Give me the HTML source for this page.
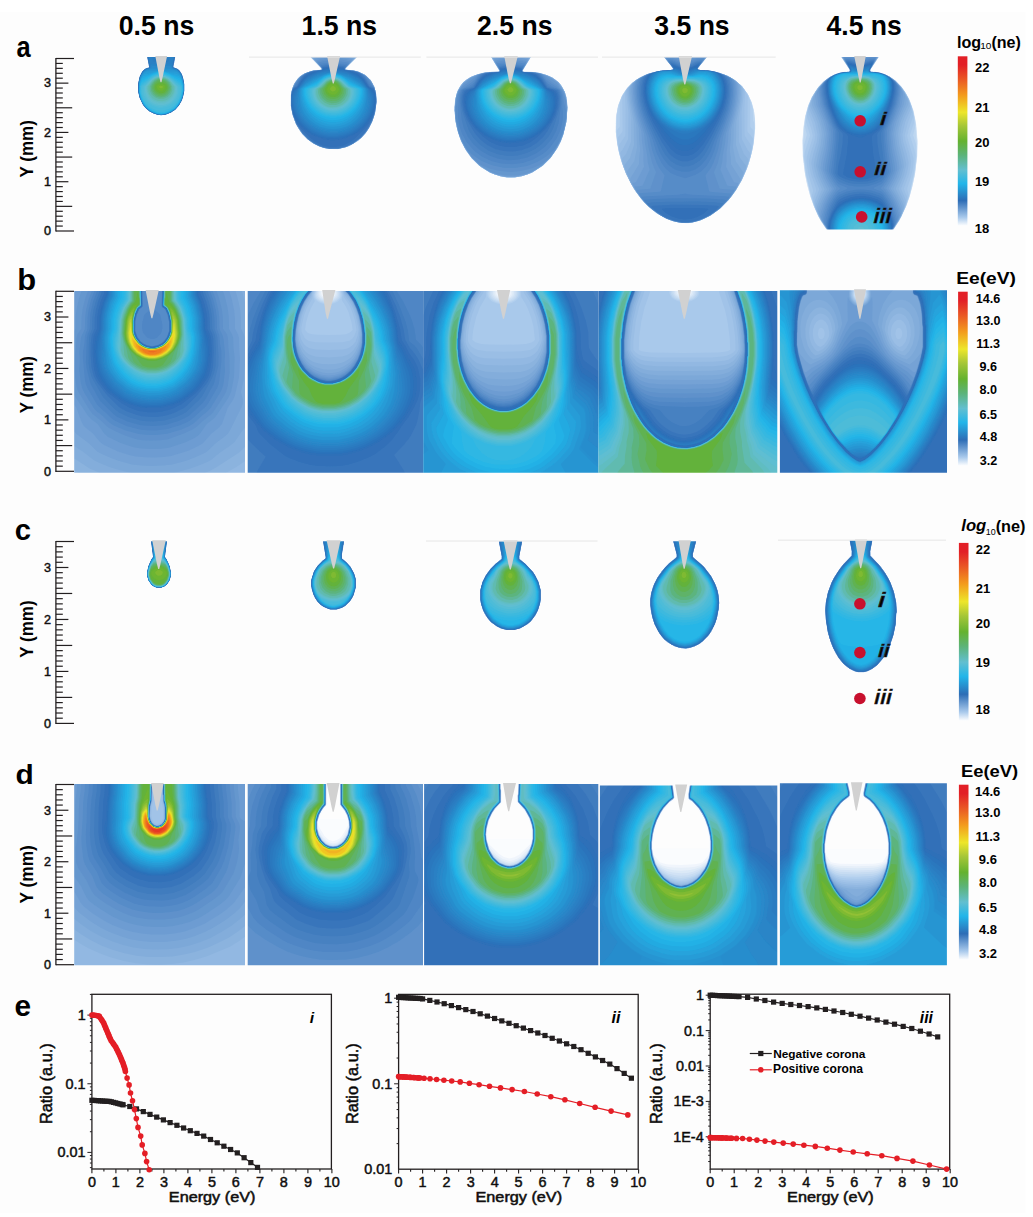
<!DOCTYPE html>
<html><head><meta charset="utf-8"><style>
html,body{margin:0;padding:0;background:#fff;}
body{width:1033px;height:1217px;overflow:hidden;position:relative;}
svg{position:absolute;left:0;top:0;font-family:"Liberation Sans",sans-serif;}
</style></head><body>
<svg width="1033" height="1217" viewBox="0 0 1033 1217">
<defs><linearGradient id="cb1" x1="0" y1="0" x2="0" y2="1"><stop offset="0.000" stop-color="#e21f26"/><stop offset="0.050" stop-color="#e21f26"/><stop offset="0.140" stop-color="#ea5b24"/><stop offset="0.230" stop-color="#f39b1d"/><stop offset="0.330" stop-color="#ede62a"/><stop offset="0.410" stop-color="#a5c637"/><stop offset="0.500" stop-color="#64b22f"/><stop offset="0.580" stop-color="#5cb377"/><stop offset="0.670" stop-color="#62bfd0"/><stop offset="0.750" stop-color="#22b5e9"/><stop offset="0.850" stop-color="#2d6db6"/><stop offset="0.950" stop-color="#aacaec"/><stop offset="1.000" stop-color="#ffffff"/></linearGradient>
<linearGradient id="cb2" x1="0" y1="0" x2="0" y2="1"><stop offset="0.000" stop-color="#e21f26"/><stop offset="0.050" stop-color="#e21f26"/><stop offset="0.140" stop-color="#ea5b24"/><stop offset="0.230" stop-color="#f39b1d"/><stop offset="0.330" stop-color="#ede62a"/><stop offset="0.410" stop-color="#a5c637"/><stop offset="0.500" stop-color="#64b22f"/><stop offset="0.580" stop-color="#5cb377"/><stop offset="0.670" stop-color="#62bfd0"/><stop offset="0.750" stop-color="#22b5e9"/><stop offset="0.850" stop-color="#2d6db6"/><stop offset="0.950" stop-color="#aacaec"/><stop offset="1.000" stop-color="#ffffff"/></linearGradient>
<linearGradient id="cb3" x1="0" y1="0" x2="0" y2="1"><stop offset="0.000" stop-color="#e21f26"/><stop offset="0.050" stop-color="#e21f26"/><stop offset="0.140" stop-color="#ea5b24"/><stop offset="0.230" stop-color="#f39b1d"/><stop offset="0.330" stop-color="#ede62a"/><stop offset="0.410" stop-color="#a5c637"/><stop offset="0.500" stop-color="#64b22f"/><stop offset="0.580" stop-color="#5cb377"/><stop offset="0.670" stop-color="#62bfd0"/><stop offset="0.750" stop-color="#22b5e9"/><stop offset="0.850" stop-color="#2d6db6"/><stop offset="0.950" stop-color="#aacaec"/><stop offset="1.000" stop-color="#ffffff"/></linearGradient>
<linearGradient id="cb4" x1="0" y1="0" x2="0" y2="1"><stop offset="0.000" stop-color="#e21f26"/><stop offset="0.050" stop-color="#e21f26"/><stop offset="0.140" stop-color="#ea5b24"/><stop offset="0.230" stop-color="#f39b1d"/><stop offset="0.330" stop-color="#ede62a"/><stop offset="0.410" stop-color="#a5c637"/><stop offset="0.500" stop-color="#64b22f"/><stop offset="0.580" stop-color="#5cb377"/><stop offset="0.670" stop-color="#62bfd0"/><stop offset="0.750" stop-color="#22b5e9"/><stop offset="0.850" stop-color="#2d6db6"/><stop offset="0.950" stop-color="#aacaec"/><stop offset="1.000" stop-color="#ffffff"/></linearGradient>
<filter id="bl" x="-5%" y="-5%" width="110%" height="110%"><feGaussianBlur stdDeviation="0.65"/></filter>
<clipPath id="pc1"><rect x="74.20" y="783.90" width="170.80" height="181.30"/></clipPath>
<clipPath id="pc2"><rect x="247.70" y="783.90" width="175.30" height="181.30"/></clipPath>
<clipPath id="pc3"><rect x="424.10" y="783.90" width="174.20" height="181.30"/></clipPath>
<clipPath id="pc4"><rect x="599.90" y="785.40" width="177.40" height="179.80"/></clipPath>
<clipPath id="pc5"><rect x="779.90" y="783.20" width="167.00" height="182.00"/></clipPath>
<clipPath id="pc6"><rect x="74.20" y="290.90" width="170.80" height="181.80"/></clipPath>
<clipPath id="pc7"><rect x="247.70" y="290.90" width="175.50" height="181.80"/></clipPath>
<clipPath id="pc8"><rect x="423.20" y="290.90" width="175.30" height="181.80"/></clipPath>
<clipPath id="pc9"><rect x="598.50" y="290.90" width="178.80" height="181.80"/></clipPath>
<clipPath id="pc10"><rect x="779.90" y="290.20" width="167.10" height="182.50"/></clipPath>
<clipPath id="pc11"><rect x="120.00" y="57.00" width="80.00" height="63.00"/></clipPath>
<clipPath id="pc12"><rect x="270.00" y="57.00" width="130.00" height="103.00"/></clipPath>
<clipPath id="pc13"><rect x="440.00" y="57.00" width="150.00" height="133.00"/></clipPath>
<clipPath id="pc14"><rect x="600.00" y="57.00" width="176.00" height="175.00"/></clipPath>
<clipPath id="pc15"><rect x="778.00" y="57.00" width="170.00" height="172.50"/></clipPath>
<clipPath id="pc16"><rect x="130.00" y="541.30" width="60.00" height="58.70"/></clipPath>
<clipPath id="pc17"><rect x="300.00" y="541.30" width="70.00" height="78.70"/></clipPath>
<clipPath id="pc18"><rect x="470.00" y="541.30" width="82.00" height="98.70"/></clipPath>
<clipPath id="pc19"><rect x="640.00" y="541.30" width="90.00" height="118.70"/></clipPath>
<clipPath id="pc20"><rect x="815.00" y="540.50" width="95.00" height="144.50"/></clipPath></defs>
<rect x="0" y="12" width="1025.5" height="1201" fill="#fdfdfd"/>
<g clip-path="url(#pc1)"><g filter="url(#bl)"><g transform="translate(71.20 780.90) scale(0.1)"><path fill="#fafcfe" fill-rule="evenodd" d="M2 2l1766 0 0 1870-1766 0z"/><path fill="#f0f5fc" fill-rule="evenodd" d="M2 2l1766 0 0 1870-1766 0z"/><path fill="#e6eff9" fill-rule="evenodd" d="M2 2l1766 0 0 1870-1766 0z"/><path fill="#dbe9f7" fill-rule="evenodd" d="M2 2l1766 0 0 1870-1766 0z"/><path fill="#d1e2f5" fill-rule="evenodd" d="M2 2l1766 0 0 1870-1766 0z"/><path fill="#c7dcf2" fill-rule="evenodd" d="M2 2l1766 0 0 1870-1766 0z"/><path fill="#bdd6f0" fill-rule="evenodd" d="M2 2l1766 0 0 1870-1766 0z"/><path fill="#b2cfee" fill-rule="evenodd" d="M2 2l1766 0 0 1870-1766 0z"/><path fill="#a9c9eb" fill-rule="evenodd" d="M2 2l1766 0 0 1870-1766 0z"/><path fill="#a1c3e8" fill-rule="evenodd" d="M2 2l1766 0 0 1870-1766 0z"/><path fill="#9abee5" fill-rule="evenodd" d="M2 2l824 0-5 196-15 64-5 86 6 30 13 30 18 17 20 7 37-14 17-25 7-21 0-100-14-64-1-56-5-20 0-130 869 0 0 1870-1766 0z"/><path fill="#92b8e2" fill-rule="evenodd" d="M2 2l813 0-6 196-14 60-5 94 8 34 14 32 22 20 24 7 44-17 20-27 8-23 0-110-14-66-1-54-4-16-1-130 858 0 0 1870-1766 0z"/><path fill="#8bb3de" fill-rule="evenodd" d="M2 2l810 0-5 196-15 60-5 94 5 30 16 34 21 22 29 10 24-6 20-11 20-25 11-28 0-110-5-40-9-20-1-60-5-16 0-130 855 0 0 1536-96 68-85 52-229 95-126 37-110 25-114 16-116 7-124-2-120-12-120-23-136-37-90-33-130-57-80-45-90-60z"/><path fill="#83addb" fill-rule="evenodd" d="M2 2l809 0-6 196-14 60-5 94 6 30 15 36 21 20 30 11 24-6 21-11 20-24 11-30 0-110-6-40-8-26-1-54-4-16-1-130 854 0 0 1426-96 75-98 65-106 54-110 48-120 40-110 27-116 18-114 7-126-1-120-13-120-24-120-35-106-41-114-56-94-58-96-69z"/><path fill="#7ca8d8" fill-rule="evenodd" d="M2 2l807 0-5 196-14 60-5 94 6 30 15 36 22 21 30 11 24-6 23-12 19-24 11-30 0-110-14-66-1-54-4-16 0-130 852 0 0 1307-76 70-89 69-101 63-114 62-100 41-110 35-106 22-110 13-124 3-106-5-110-16-104-25-110-37-100-43-116-63-94-64-96-77z"/><path fill="#74a2d5" fill-rule="evenodd" d="M2 2l806 0-5 196-15 60-5 94 7 30 15 36 23 22 30 12 24-7 24-13 19-24 12-30 0-110-15-66 0-54-5-16 0-130 851 0 0 1166-77 100-49 48-94 72-120 75-86 46-110 44-90 27-100 19-114 12-120 0-110-9-106-19-90-26-120-46-90-46-100-61-114-87-76-82z"/><path fill="#6d9cd2" fill-rule="evenodd" d="M2 2l805 0-5 195-15 61-5 94 6 30 15 36 25 24 30 11 24-6 25-15 20-24 11-30 0-110-15-66 0-54-5-16 0-130 850 0 0 1019-140 197-80 73-76 52-144 89-96 40-100 33-100 20-104 10-120 1-106-10-94-17-80-23-116-46-90-47-114-73-89-72-29-36-50-90-38-49z"/><path fill="#6597ce" fill-rule="evenodd" d="M61 2l745 0-5 196-15 60-5 94 6 30 15 36 26 25 30 11 24-6 26-15 20-25 11-30 0-110-15-66 0-54-5-16 0-130 745 0 4 90 15 120 2 150 13 19 46 27 24 24 0 267-28 123-48 146-118 190-38 40-58 46-156 102-50 27-90 37-70 22-90 18-90 10-100 1-90-6-90-14-80-20-88-33-72-33-105-63-79-54-46-38-28-32-57-116-95-132 0-408 20-34 6-20 8-76 6-184 13-100z"/><path fill="#5e91cb" fill-rule="evenodd" d="M100 2l705 0-5 196-14 60-5 94 5 30 16 37 26 25 30 10 24-5 26-14 21-27 10-30 0-110-5-40-9-26-1-54-4-16 0-130 705 0 4 96 15 120 1 140 32 60 9 34-1 40-14 100 7 76-2 40-17 100-34 114-108 181-33 35-46 37-156 105-44 26-80 33-66 21-80 16-84 9-96 1-80-5-84-13-70-18-80-31-70-33-106-63-70-49-41-36-27-36-49-104-85-126-21-60-4-140 12-74 11-105 7-111 2-104 7-100 11-80z"/><path fill="#568cc8" fill-rule="evenodd" d="M140 2l665 0-6 196-14 60-5 94 11 46 11 22 26 25 30 10 24-6 26-13 22-28 10-30 0-110-6-40-8-26-1-54-4-16-1-130 665 0 0 56 19 164 1 136 32 70 5 30-2 34-26 186-49 194-16 40-85 150-32 33-44 35-136 92-50 27-74 31-60 18-76 14-74 7-90 1-76-6-74-12-66-17-74-29-66-31-100-61-64-46-33-30-23-31-41-105-70-110-19-54-17-146-3-74 13-186 6-180 14-100z"/><path fill="#4f86c5" fill-rule="evenodd" d="M179 2l625 0-5 196-15 60-5 94 11 46 12 24 26 24 30 10 24-6 26-13 23-29 10-30 0-110-6-40-9-26 0-54-5-16 0-130 625 0 0 60 19 160 1 136 29 74 0 66-25 164-40 136-28 68-90 155-64 57-126 88-50 28-64 27-60 18-70 13-70 6-150-5-70-12-60-16-128-57-92-58-60-43-45-49-42-100-76-120-16-46-16-90-8-120 10-160 1-100 7-100 11-74z"/><path fill="#4781c1" fill-rule="evenodd" d="M219 2l584 0-5 196-14 54-6 100 11 46 13 24 26 25 30 10 24-6 26-13 24-30 9-26 1-114-6-40-9-26 0-54-5-20 0-126 584 0 0 60 19 160 1 136 26 74-2 66-24 150-38 123-30 69-86 137-64 55-110 77-50 29-110 40-66 12-64 6-140-4-66-11-54-15-120-53-86-53-58-42-40-46-46-94-68-106-17-44-17-86-9-100 7-240 8-114 12-76z"/><path fill="#407bbe" fill-rule="evenodd" d="M259 2l543 0-5 196-14 54-5 106 10 40 13 24 26 26 30 10 25-6 26-13 24-31 10-26 0-118-5-36-9-26 0-58-5-11 0-131 543 0 1 66 18 160 2 134 16 46 6 30-4 60-22 130-35 110-35 74-78 120-67 58-96 65-50 28-104 37-116 15-130-4-110-24-111-49-74-46-55-40-40-44-43-80-64-100-17-46-19-84-9-90 4-220 8-116 12-80z"/><path fill="#3875bb" fill-rule="evenodd" d="M298 2l504 0-6 196-14 54-5 106 11 41 12 23 26 26 32 10 26-6 24-12 24-31 11-27 0-120-5-34-9-26-1-60-4-10-1-130 504 0 0 66 19 160 1 134 18 70-4 60-21 116-34 100-38 79-70 102-70 59-126 77-100 35-104 14-120-4-100-22-106-47-70-42-48-37-35-40-99-160-20-50-20-84-8-80 2-200 7-110 12-80z"/><path fill="#3170b8" fill-rule="evenodd" d="M338 2l463 0-5 196-15 54-4 106 11 42 11 22 26 26 33 11 27-7 23-11 24-31 11-28 1-120-5-34-10-26 0-60-5-14 0-126 463 0 1 70 18 160 1 126 19 54-2 66-23 100-39 106-40 76-64 88-66 54-110 66-90 32-100 13-110-4-94-22-56-22-54-29-90-62-35-42-93-144-25-70-24-96-4-94 6-50 7-170 13-86z"/><path fill="#2d6fb8" fill-rule="evenodd" d="M376 2l424 0-5 196-14 54-5 106 12 44 10 20 25 26 35 11 29-7 21-10 24-30 12-30 0-120-5-34-9-26-1-60-4-14 0-126 424 0 0 70 19 160 1 126 30 50 4 54-16 90-19 60-31 66-47 70-72 76-80 55-100 47-50 15-56 10-134 1-86-17-54-19-56-26-84-56-74-76-52-70-38-80-19-70-3-66 6-44 13-50 6-156 14-100z"/><path fill="#2c73bb" fill-rule="evenodd" d="M388 2l412 0-5 190-15 60-4 106 6 30 15 34 25 26 36 11 30-6 20-10 25-31 11-30 1-120-15-64 0-56-5-14 0-126 412 0 0 70 18 160 1 130 23 66 1 50-15 84-21 66-36 70-40 54-66 68-80 53-50 25-54 21-100 20-110 1-92-18-58-20-50-24-85-56-70-74-47-66-27-54-21-70-4-60 11-120 5-160 13-90z"/><path fill="#2b78be" fill-rule="evenodd" d="M399 2l400 0-5 190-14 60-5 106 10 40 12 24 25 26 36 12 30-7 20-10 25-31 12-30 0-120-14-64 0-56-5-14 0-126 400 0 0 70 18 160 0 130 17 70-6 76-14 74-25 70-38 66-53 64-67 56-96 52-90 30-84 10-100-4-86-19-50-19-54-28-79-58-60-70-42-60-23-50-17-64-4-86 3-170 6-100 12-74z"/><path fill="#2b7cc1" fill-rule="evenodd" d="M410 2l389 0-5 190-15 60-4 106 10 40 11 24 26 26 36 12 24-5 26-12 26-31 11-30 1-120-15-64 0-56-5-14 0-126 389 0 0 76 18 160-1 120 16 64-2 56-17 84-28 86-36 64-53 66-65 53-89 49-86 28-90 11-100-4-94-25-90-43-70-53-60-72-42-64-20-50-16-70-5-66 3-169 5-95 12-80z"/><path fill="#2a80c4" fill-rule="evenodd" d="M421 2l377 0-5 190-15 60-4 106 10 40 12 24 26 27 36 12 24-5 26-12 26-32 12-30 1-120-15-64 0-56-5-14 0-126 377 0 0 76 18 160-2 120 16 64-1 56-18 85-27 75-38 70-54 67-66 51-84 46-80 26-86 10-94-4-80-19-96-43-74-55-56-69-42-66-25-60-14-60-5-60 4-170 5-94 11-76z"/><path fill="#2985c7" fill-rule="evenodd" d="M432 2l365 0-5 196-14 54-5 106 11 40 12 24 26 27 36 12 24-5 26-12 26-32 12-30 1-120-4-10-1-24-9-26 0-60-5-14 0-126 365 0 0 76 18 160-3 120 17 64-3 60-17 80-27 74-38 66-57 70-61 47-84 45-80 25-80 9-96-6-84-23-88-41-65-50-59-76-36-54-21-50-16-66-6-60 5-174 4-90 11-76z"/><path fill="#2989ca" fill-rule="evenodd" d="M443 2l354 0-5 196-10 23-5 31-4 106 10 40 12 24 27 28 36 12 24-5 26-12 27-33 12-30 1-120-5-9-1-26-9-24 0-61-5-14 0-126 354 0 0 76 17 160-3 120 17 64-2 56-16 80-26 70-37 66-56 68-58 46-86 46-74 24-80 9-96-6-84-24-86-42-61-47-58-76-35-55-22-55-13-54-4-60 7-240 13-96z"/><path fill="#288dcd" fill-rule="evenodd" d="M454 2l343 0-5 196-10 22-5 32-5 106 11 40 12 24 27 28 36 12 24-5 26-12 27-33 12-30 1-120-5-10-1-27-9-23 0-60-5-14 0-126 343 0 0 76 17 160-4 120 17 64-1 56-17 80-26 70-37 64-54 66-58 44-80 42-76 24-80 8-90-6-80-22-84-42-61-48-55-71-34-54-20-51-13-54-5-60 7-96 0-144 13-96z"/><path fill="#2890cf" fill-rule="evenodd" d="M465 2l332 0-5 190-15 60-5 106 10 40 12 24 28 28 36 13 25-5 25-13 28-33 12-30 0-120-5-10-1-28-8-22-1-60-5-15 0-125 332 0 0 76 17 160-5 120 17 64-1 56-17 80-31 80-34 54-51 60-67 49-90 43-70 17-80 4-80-9-76-24-75-40-55-45-53-69-31-50-20-50-13-56-3-54 7-96 0-150 11-84z"/><path fill="#2795d2" fill-rule="evenodd" d="M469 2l328 0-5 190-15 60-5 106 10 41 12 23 28 29 36 12 25-5 25-12 28-34 12-30 0-120-5-10-1-28-8-22-1-60-5-14 0-126 328 0 5 140 12 96-5 120 17 64-1 56-17 80-29 75-33 55-53 61-64 48-90 43-76 18-80 3-74-9-77-24-74-40-54-46-81-114-18-45-15-61-4-54 8-96-1-150 12-85z"/><path fill="#269cd7" fill-rule="evenodd" d="M487 2l309 0-5 190-14 60-5 106 6 27 16 37 28 29 36 12 27-5 23-12 28-34 12-30 0-120-4-10-1-30-9-24 0-56-5-14 0-126 309 0 0 80 16 156-6 120 18 64-1 56-16 74-31 80-36 55-49 55-81 54-70 30-64 14-80 3-70-9-76-26-70-39-48-41-76-110-18-46-12-54-4-50 9-96-2-150 12-84z"/><path fill="#25a3dc" fill-rule="evenodd" d="M505 2l291 0-5 190-15 60-4 106 6 29 15 35 29 30 35 11 14-1 37-15 29-35 11-30 1-120-5-10-1-30-9-24 0-56-5-14 0-126 291 0 0 80 15 156-7 120 19 64-2 56-17 80-27 64-38 60-45 49-76 49-64 28-66 14-74 2-70-9-70-25-66-36-46-42-72-104-16-40-12-56-3-54 9-86-2-150 11-80z"/><path fill="#24aae1" fill-rule="evenodd" d="M523 2l273 0-5 190-15 60-4 106 5 30 15 35 30 29 36 11 14-1 36-15 30-35 10-30 1-120-6-40-9-24 0-56-5-14 0-126 273 0 3 146 12 90-9 120 20 54-1 60-17 80-27 66-44 64-40 40-71 46-66 26-60 11-74 1-66-11-64-25-60-35-45-43-43-60-22-40-16-44-8-46-3-64 11-70-3-146 10-80z"/><path fill="#23b1e6" fill-rule="evenodd" d="M542 2l253 0-5 190-14 60-5 106 6 30 15 35 30 30 36 11 14-1 36-15 30-36 11-30 0-120-5-40-9-24 0-56-5-14 0-126 253 0 0 86 15 154-10 116 26 54 1 56-14 60-36 84-43 62-40 38-64 40-60 24-61 11-70 0-60-10-65-25-57-34-40-40-61-96-23-64-7-40 4-60 14-50-5-140 11-80z"/><path fill="#26b6e7" fill-rule="evenodd" d="M560 2l235 0-5 190-15 60-4 106 6 30 15 35 30 30 36 11 14-1 36-15 30-36 10-25 2-125-6-40-9-24 0-56-5-14 0-126 235 0 4 150 10 90-11 116 32 54 4 26-2 34-18 70-30 60-50 66-39 34-63 37-64 24-60 7-86-6-70-22-60-34-34-31-54-69-22-36-14-34-9-36-3-34 8-56 18-44-6-140 10-80z"/><path fill="#2eb7e4" fill-rule="evenodd" d="M578 2l217 0-5 190-10 26-5 34-4 106 6 30 15 36 30 29 36 11 14-1 36-15 30-36 10-24 2-126-5-40-10-24 0-56-5-14 0-126 217 0 4 156 11 84-13 116 26 30 10 20 6 30-1 30-13 65-27 59-42 56-40 37-70 40-60 21-56 7-74-2-76-22-54-28-43-33-50-60-33-60-11-40-3-30 10-67 23-43-8-140 10-76z"/><path fill="#36b8e1" fill-rule="evenodd" d="M589 2l205 0-5 190-14 56-5 110 6 30 16 36 30 30 36 10 14-1 37-15 30-36 10-24 1-126-5-40-9-24 0-56-5-14 0-126 205 0 3 156 10 84-10 116 36 54 5 30-3 40-13 56-25 54-42 56-40 34-63 36-62 20-54 7-80-5-70-22-56-30-36-30-48-60-27-56-11-64 4-50 27-60-5-140 10-76z"/><path fill="#3eb9de" fill-rule="evenodd" d="M601 2l193 0-5 190-14 56-4 114 10 40 11 22 30 30 36 10 14 0 37-16 30-36 10-24 2-126-6-40-9-24 0-56-5-14 0-126 193 0 3 156 11 84-7 116 34 54 6 26-1 24-14 70-24 56-41 54-43 38-60 32-60 20-56 6-74-5-66-21-54-30-36-30-46-60-26-54-12-76 6-34 25-60-2-140 11-76z"/><path fill="#46bbdb" fill-rule="evenodd" d="M612 2l181 0-4 190-15 56-3 114 10 40 11 23 30 29 36 11 14-1 37-16 30-36 10-24 2-126-5-40-10-24 1-56-5-14 0-126 181 0 4 160 11 80-6 116 36 60 5 24-2 30-15 60-27 60-39 50-43 36-55 28-60 20-60 5-64-5-60-20-56-29-34-31-45-58-24-50-11-40-2-30 5-36 27-64-1-136 11-75z"/><path fill="#4ebcd8" fill-rule="evenodd" d="M624 2l169 0-5 190-14 56-4 114 11 40 11 23 30 29 36 11 14-1 38-16 29-36 11-24 1-126-5-40-9-24 0-56-5-14 0-126 169 0 4 160 13 86-5 110 37 64 5 26-2 30-14 54-27 56-40 51-44 35-50 27-60 18-76 4-50-6-60-21-54-33-32-31-42-60-22-50-9-50 5-34 28-70 1-136 12-74z"/><path fill="#56bdd5" fill-rule="evenodd" d="M635 2l158 0-5 190-14 56-4 114 10 40 12 23 30 30 36 10 30-6 22-11 30-36 10-24 2-126-6-40-9-24 0-56-5-14 0-126 158 0 4 160 14 86-3 110 36 60 6 30-2 40-14 50-31 54-48 55-60 38-54 22-46 8-64 0-56-11-50-21-46-31-28-30-46-64-17-46-5-40 8-44 27-66 3-130 12-74z"/><path fill="#5ebed2" fill-rule="evenodd" d="M646 2l146 0-5 190-14 56-3 114 10 40 12 24 30 29 36 10 30-5 22-12 30-36 10-24 2-126-5-40-10-24 1-56-5-14 0-126 146 0 5 166 13 80-1 110 39 64 3 66-14 50-31 54-51 54-54 34-56 21-44 8-66-1-50-12-50-21-44-31-50-56-23-36-14-40-4-40 7-40 30-70 4-130 13-70z"/><path fill="#62becb" fill-rule="evenodd" d="M656 2l136 0-5 190-14 56-3 114 10 40 12 24 30 29 36 11 30-6 23-12 29-36 10-24 2-126-5-40-9-24-5-196 136 0 5 166 14 80 1 110 42 74 1 56-12 44-29 56-43 48-60 38-56 21-40 7-70-1-50-11-44-19-46-29-36-40-35-50-14-44-3-40 4-24 33-82 6-130 14-70z"/><path fill="#61bdc1" fill-rule="evenodd" d="M661 2l130 0-5 190-13 56-4 114 10 40 13 24 30 29 36 11 30-6 23-12 30-36 10-24 2-126-5-40-9-24-5-196 130 0 5 166 15 80 1 114 40 80 0 46-19 64-29 45-39 41-60 36-46 16-44 8-65-1-51-12-50-21-40-28-42-48-25-40-11-36-4-44 30-76 5-24 7-136 14-70z"/><path fill="#60bbb0" fill-rule="evenodd" d="M665 2l125 0-4 190-14 56-3 114 10 40 13 25 30 29 36 10 30-6 23-12 30-36 10-24 2-126-5-40-9-24-4-196 125 0 5 166 15 80 1 114 7 25 27 55 5 40-17 66-28 45-37 40-60 36-50 18-40 7-60-1-50-10-46-19-44-29-34-37-33-50-10-30-6-40 31-86 9-160 15-70z"/><path fill="#5eb797" fill-rule="evenodd" d="M674 2l115 0-5 190-13 56-3 114 11 40 13 25 30 29 36 11 30-6 24-13 29-36 11-24 2-126-4-40-9-24-5-196 115 0 6 170 14 80 1 110 30 146-18 50-32 45-32 29-52 31-46 16-40 5-60-1-44-11-46-19-40-28-32-37-27-46-10-39 22-75 9-190 14-70z"/><path fill="#5cb47e" fill-rule="evenodd" d="M682 2l105 0-4 186-13 60-2 114 10 40 14 26 30 29 36 10 30-5 24-14 30-36 10-24 3-130-4-36-9-24 0-60-5-16 1-120 104 0 1 100 5 70 14 76 1 110 7 54-2 56 8 74-12 26-32 40-24 21-46 25-40 14-40 7-54-1-40-9-44-17-39-26-23-24-30-46-5-14 11-70 0-150 6-86 13-64z"/><path fill="#5eb367" fill-rule="evenodd" d="M691 2l94 0-4 186-13 60-1 114 10 40 14 26 31 29 36 11 30-6 24-13 30-36 11-26 3-129-13-66-3-190 94 0 0 100 5 70 14 76 1 110 7 60-19 90-4 74-30 34-56 31-64 18-50 0-36-6-40-14-34-19-23-18-19-26-4-70-16-90-2-40 8-144 14-70z"/><path fill="#60b251" fill-rule="evenodd" d="M700 2l83 0-3 186-13 60-1 114 10 40 14 26 31 30 37 10 30-5 24-13 30-35 12-27 4-130-4-36-9-30-3-190 83 0 0 100 5 76 14 70 1 110 9 40-1 24-12 46-31 60-32 79-22 25-34 16-40 7-54-1-43-12-28-14-20-30-20-66-27-50-11-30-7-34 0-36 9-144 14-70z"/><path fill="#63b23a" fill-rule="evenodd" d="M717 8l1-6 62 0 0 76-4 20 2 90-13 60 3 60-4 14 1 36 5 30 19 40 29 28 30 13 20 0 44-18 30-35 13-28 4-130-3-36-9-30-2-190 62 0 3 106 8 70 17 74 2 106 11 50-3 30-23 54-34 43-26 20-60 31-29 6-35-2-20-5-50-24-26-20-37-43-20-46-7-40 5-94 7-80 17-66z"/><path fill="#6db530" fill-rule="evenodd" d="M772 62l3 126-11 60 3 60-4 14 1 40 6 26 15 34 33 35 30 12 20 1 40-15 24-23 23-44 6-130-11-66 2-54-4-17 4-58 15 49 45 96 13 40 8 110 8 50-10 54-19 36-35 40-45 26-34 12-70 1-36-11-30-15-54-59-20-50-3-30 3-90 12-80z"/><path fill="#7fba32" fill-rule="evenodd" d="M762 182l6 1 1 5-7 60 4 60-3 50 6 30 19 40 30 30 30 12 24 0 40-17 21-21 18-30 5-14 6-130-7-66 3-9 4-1 30 27 20 35 11 44 12 110-3 44-16 40-17 26-29 30-38 22-54 15-46-1-34-10-46-27-47-59-11-36-4-30 4-100 19-74 19-31z"/><path fill="#91c035" fill-rule="evenodd" d="M752 218l6 0 4 12 1 132 10 40 13 26 30 30 32 13 24 0 21-7 19-10 22-22 23-44 7-130-3-16 7-24 10 3 24 28 17 53 12 110-9 46-14 30-46 50-64 30-70 1-35-12-31-17-46-52-12-30-9-46 2-90 21-67 10-16z"/><path fill="#a3c537" fill-rule="evenodd" d="M745 242l7-1 6 10 6 57-4 14 2 40 12 46 11 20 30 30 33 13 24 0 40-16 33-37 13-30 10-144 10 0 15 14 15 24 7 26 12 104-7 36-15 34-42 50-35 21-30 11-66 2-34-11-30-17-42-46-12-20-12-40-5-64 8-56 17-43z"/><path fill="#b9cf33" fill-rule="evenodd" d="M742 262l10-2 6 9 4 38-3 15 2 40 17 56 40 43 34 11 20 0 40-16 34-38 13-30 9-118 10-10 10 9 23 43 13 96-7 34-17 40-38 45-34 21-30 11-56 4-50-15-24-15-16-15-36-50-15-66 7-85z"/><path fill="#d0d92f" fill-rule="evenodd" d="M743 278l9-3 6 9 2 78 7 30 16 36 35 34 34 11 20 0 40-16 35-39 13-30 8-103 4-9 10 3 26 42 13 87-6 30-17 40-36 44-34 22-30 11-50 4-50-13-40-28-38-50-15-60 0-40 7-46z"/><path fill="#e6e32b" fill-rule="evenodd" d="M747 288l11 9 1 65 7 30 16 36 36 34 34 12 20 0 20-7 21-9 25-26 22-44 8-90 4-8 10 3 25 45 10 70-5 30-15 34-35 45-44 27-50 11-50-6-36-16-19-15-39-50-15-60 0-40 6-36 9-20z"/><path fill="#eed928" fill-rule="evenodd" d="M743 302l9-1 4 7 2 54 7 30 16 36 37 35 34 12 40-7 22-10 24-23 17-27 6-20 7-79 4-8 10 4 21 37 10 66-13 50-12 23-26 31-44 28-46 11-50-4-30-12-24-17-40-50-16-60 6-65 10-25z"/><path fill="#f0c624" fill-rule="evenodd" d="M742 312l6-1 4 7 12 74 18 39 36 33 30 11 20 0 47-17 35-40 12-30 6-67 10-10 18 31 14 56-4 34-20 46-36 40-58 27-60 1-50-21-47-53-16-44-3-30 4-40 10-30z"/><path fill="#f1b321" fill-rule="evenodd" d="M741 322l7 0 4 10 11 60 19 40 36 33 30 11 20 0 44-16 29-28 21-40 6-60 10-10 14 25 14 51-4 34-17 40-34 40-59 30-60 1-47-21-47-52-16-42-2-26 5-44z"/><path fill="#f3a11e" fill-rule="evenodd" d="M742 332l10 12 9 48 20 40 37 34 34 11 40-6 26-13 21-20 24-46 5-48 10-11 10 19 13 56-3 27-16 35-34 41-56 27-54 2-40-14-20-13-19-21-21-29-8-21-5-34 4-40z"/><path fill="#f18f1e" fill-rule="evenodd" d="M741 348l7-2 12 46 20 40 38 35 24 10 25 1 45-16 28-24 19-30 7-20 4-36 8-8 15 54 1 30-5 20-12 24-24 30-41 25-24 9-30 2-26-2-24-9-31-19-39-54-7-32z"/><path fill="#ef7d20" fill-rule="evenodd" d="M742 368l10 6 23 54 37 37 36 14 20 0 44-16 29-25 20-30 11-40 5-5 9 35-4 54-30 46-34 23-40 13-50-3-46-23-36-46-7-40z"/><path fill="#ec6b22" fill-rule="evenodd" d="M977 392l1 41-11 39-25 30-54 27-50 1-35-12-25-19-27-41-3-62 10 4 19 32 35 34 30 13 26 1 24-6 26-13 24-23 26-39z"/><path fill="#ea5924" fill-rule="evenodd" d="M967 418l-4 40-16 34-38 26-37 10-40-3-45-23-17-24-13-50 1-9 4 1 46 44 20 12 20 5 24 0 46-18z"/><path fill="#e84925" fill-rule="evenodd" d="M772 448l10 0 40 27 30 7 40-5 26-11 24-18 11 0-15 38-14 16-40 20-22 2-25-2-40-20z"/><path fill="#e53825" fill-rule="evenodd" d="M922 472l1 6-20 19-21 12-14 3-33-4-17-12-17-18 1-4 40 12 30 0z"/></g></g></g><path fill="#d1d1d1" d="M151.10 782.90 L163.70 782.90 L158.96 805.18 Q157.96 809.30 157.70 810.50 L156.70 810.50 Q156.44 809.30 155.44 805.18 L151.10 782.90 Z"/>
<g clip-path="url(#pc2)"><g filter="url(#bl)"><g transform="translate(244.70 780.90) scale(0.1)"><path fill="#fafcfe" fill-rule="evenodd" d="M2 2l826 0 0 246-56 70-24 60 270 0-6-26-20-40-50-64 0-246 870 0 0 1870-1810 0z"/><path fill="#f0f5fc" fill-rule="evenodd" d="M2 2l815 0 0 235-30 35-35 59-19 57-3 30 2 19 16 31 50 84 40 36 44 15 40-11 24-14 19-20 27-37 46-84-1-39-15-51-24-50-45-60 0-235 859 0 0 1870-1810 0z"/><path fill="#e6eff9" fill-rule="evenodd" d="M2 2l814 0 0 236-34 40-34 60-16 45-4 54 4 41 28 54 22 30 46 44 24 12 30 6 36-6 14-7 20-14 30-30 47-75 13-55-4-44-16-50-20-40-48-65 0-236 858 0 0 1870-1810 0z"/><path fill="#dbe9f7" fill-rule="evenodd" d="M2 2l814 0-1 230-6 16-21 21-26 37-15 32-21 74 2 63 14 48 46 63 36 32 28 13 30 6 40-8 36-20 14-15 50-65 21-67-4-64-17-57-20-40-46-63-2-236 858 0 0 1870-1810 0z"/><path fill="#d1e2f5" fill-rule="evenodd" d="M2 2l813 0-1 230-3 10-24 26-25 37-16 33-21 74 2 66 21 66 30 44 37 34 33 17 34 6 44-7 36-22 16-14 44-62 16-41 6-37-4-64-16-56-22-42-43-58-3-10-1-230 857 0 0 1870-1810 0z"/><path fill="#c7dcf2" fill-rule="evenodd" d="M2 2l812 0 0 230-3 10-24 26-25 35-16 35-21 74 1 66 16 61 36 55 34 34 30 15 40 7 46-8 35-20 19-18 20-24 26-45 16-73-3-64-17-56-22-44-43-56-3-10 0-230 856 0 0 1870-1810 0z"/><path fill="#bdd6f0" fill-rule="evenodd" d="M2 2l811 0-1 236-50 64-19 40-19 70 1 66 17 65 31 50 43 39 31 16 36 5 19 0 32-11 34-20 20-19 40-65 17-76-3-64-15-50-24-51-45-59-1-236 855 0 0 1870-1810 0z"/><path fill="#b2cfee" fill-rule="evenodd" d="M2 2l810 0-1 236-49 63-20 41-19 70 1 66 18 66 30 51 41 37 30 16 39 6 45-6 43-26 18-17 20-27 20-38 18-78-4-64-15-51-25-51-43-58-1-236 854 0 0 1870-1810 0z"/><path fill="#a9c9eb" fill-rule="evenodd" d="M2 2l810 0-1 236-49 62-20 41-20 71 1 60 18 70 31 54 39 36 31 16 40 7 47-7 42-26 17-16 20-26 21-42 19-79-5-61-15-52-26-51-43-57-1-236 854 0 0 1870-1810 0z"/><path fill="#a1c3e8" fill-rule="evenodd" d="M2 2l809 0-1 236-48 61-20 40-20 73 0 66 18 64 32 55 37 35 33 17 40 7 49-8 35-20 22-20 20-27 22-43 18-76-5-64-15-54-26-50-42-56-1-236 853 0 0 1870-1810 0z"/><path fill="#9abee5" fill-rule="evenodd" d="M2 2l809 0-1 236-28 30-40 70-21 74 1 66 16 60 33 60 37 35 40 18 34 6 20-1 30-8 36-20 21-20 19-26 24-49 16-71-4-64-16-55-26-50-42-55-1-236 853 0 0 1870-1810 0z"/><path fill="#92b8e2" fill-rule="evenodd" d="M2 2l808 0-1 236-27 30-40 70-21 74 0 66 17 61 32 59 38 35 40 19 34 6 20-1 30-9 37-20 21-20 18-26 24-47 17-73-5-64-16-56-25-50-42-54-1-236 852 0 0 1870-1810 0z"/><path fill="#8bb3de" fill-rule="evenodd" d="M2 2l808 0-1 236-27 30-41 70-21 74 1 66 17 63 32 57 38 36 40 19 34 5 20 0 30-9 38-21 20-20 19-26 23-46 17-74-4-64-16-56-26-50-42-54-1-236 852 0 0 1870-1810 0z"/><path fill="#83addb" fill-rule="evenodd" d="M2 2l807 0-1 236-27 30-40 70-21 74 0 66 17 64 32 56 39 37 40 19 34 5 20 0 30-9 39-22 20-20 19-26 23-44 17-76-5-64-16-56-25-50-42-54-1-236 851 0 0 1870-1810 0z"/><path fill="#7ca8d8" fill-rule="evenodd" d="M2 2l807 0-1 236-27 30-41 70-21 74 1 66 17 64 31 56 40 37 40 19 34 6 45-7 45-25 20-20 41-70 17-76-4-64-16-56-26-50-42-54-1-236 851 0 0 1870-1810 0z"/><path fill="#74a2d5" fill-rule="evenodd" d="M2 2l806 0 0 234-28 32-40 70-21 74 0 66 17 64 31 56 41 38 34 17 40 7 45-7 45-25 21-20 41-70 17-76-5-64-16-56-25-50-43-56 0-234 850 0 0 1870-1810 0z"/><path fill="#6d9cd2" fill-rule="evenodd" d="M2 2l806 0 0 231-49 65-20 40-21 74 1 66 16 64 31 56 42 39 34 17 40 7 46-7 44-25 22-21 41-70 17-76-5-64-16-56-25-50-44-59 0-231 850 0 0 1870-1810 0z"/><path fill="#6597ce" fill-rule="evenodd" d="M2 2l805 0 0 230-48 66-20 40-21 74 0 66 17 64 30 56 37 37 40 20 40 6 46-6 44-25 23-22 40-70 17-76-5-64-16-56-25-50-43-59 0-231 849 0 0 1870-1810 0z"/><path fill="#5e91cb" fill-rule="evenodd" d="M51 2l756 0-1 230-48 66-20 40-21 74 0 66 17 64 31 56 37 37 40 20 40 7 46-7 44-25 23-22 41-70 17-76-5-64-16-56-25-50-43-60-1-230 756 0 3 25 90 152 0 1693-1810 0 0-1768 46-82z"/><path fill="#568cc8" fill-rule="evenodd" d="M106 2l700 0 0 230-48 66-20 40-22 74 1 66 16 64 35 60 34 34 36 18 30 8 24 1 36-7 30-15 38-33 15-20 26-50 16-76-4-64-17-56-25-50-43-60 0-230 700 0 1 30 48 100 37 116 19 100 7 114 24 126 2 9 10 4 0 763-78 88-76 67-110 79-120 69-90 41-106 35-110 27-110 15-154 5-106-5-110-16-114-29-96-32-84-39-140-80-101-71-105-97 0-1092 31-137 37-94 33-65z"/><path fill="#4f86c5" fill-rule="evenodd" d="M160 2l645 0-1 236-27 30-40 70-22 74 1 66 17 64 35 60 34 35 36 18 30 8 24 1 36-7 24-12 20-13 25-24 15-20 25-50 17-76-4-64-17-56-25-50-42-54-1-236 645 0 3 46 42 84 41 131 17 95 5 100 36 190 11 114 24 46 23 63 0 289-38 72-111 160-55 50-104 80-113 70-60 30-93 35-116 32-94 16-100 6-126-1-104-11-86-18-124-39-60-24-50-27-160-102-86-67-44-50-51-94-35-49 0-530 18-71 10-106 22-70 6-110 16-90 42-124 42-85z"/><path fill="#4781c1" fill-rule="evenodd" d="M213 2l591 0 0 236-28 30-40 70-21 74 0 66 17 64 34 60 36 36 36 17 30 9 24 1 36-7 29-15 41-35 15-20 25-50 17-76-5-64-16-56-25-50-43-54 0-236 591 0 2 56 31 60 27 70 34 134 10 130 23 100 18 146 2 60-6 84 3 46 3 20 28 54 5 30-5 30-46 140-64 130-34 46-140 118-100 66-56 29-90 33-104 29-86 14-94 6-116-2-100-11-75-18-119-38-86-42-170-117-60-48-37-49-40-116-55-94-19-66-6-50 5-30 23-50-3-174 15-96 7-104 27-80 3-80 9-66 28-110 29-74 33-66z"/><path fill="#407bbe" fill-rule="evenodd" d="M265 2l539 0-1 236-28 30-40 70-21 74 0 66 17 64 34 60 37 37 30 15 36 11 24 0 36-6 30-15 41-36 15-20 25-50 17-76-5-64-16-56-25-50-43-54-1-236 539 0 2 70 41 86 37 120 15 90 4 84 26 70 21 70 9 86-3 50-16 90 7 100-4 40-89 264-20 36-26 30-127 110-77 54-53 28-94 34-90 25-90 12-96 3-94-3-86-12-84-23-96-33-64-35-166-123-40-35-31-48-26-130-44-84-22-65-7-45 1-106-16-120 19-160 11-30 29-54 4-96 16-90 38-114 39-80z"/><path fill="#3875bb" fill-rule="evenodd" d="M316 2l487 0-1 234-28 32-40 70-20 70-1 70 16 64 35 60 38 39 30 15 30 9 30 1 36-6 30-14 43-38 15-20 25-50 16-76-6-70-15-50-25-50-43-56-1-234 487 0 0 80 42 90 35 120 13 80 3 80 45 90 28 80 7 66-3 60-23 120-20 70-39 104-59 135-31 39-78 76-102 84-40 24-54 22-90 30-60 14-76 8-84 2-136-11-114-33-96-40-184-145-38-39-18-36-26-90-49-94-33-96-29-120-7-70 6-54 27-116 15-30 36-50 4-94 13-76 35-114 42-90z"/><path fill="#3170b8" fill-rule="evenodd" d="M367 2l435 0 0 230-49 66-20 40-20 70 0 74 15 60 34 60 40 40 30 15 30 10 30 0 36-5 30-15 40-35 19-24 25-50 15-70 0-46-20-80-25-50-44-60 0-230 435 0 0 96 37 80 27 84 19 100 4 90 74 120 24 60 8 66-5 74-11 86-11 40-23 50-42 70-102 144-86 80-84 67-40 22-53 21-71 24-56 12-70 8-74 1-120-10-111-31-85-37-167-131-37-40-25-56-80-110-40-75-24-99-11-100 11-66 36-104 17-30 40-46 8-14 2-90 16-86 30-94 39-86z"/><path fill="#2d6fb8" fill-rule="evenodd" d="M416 2l385 0 0 230-27 30-42 73-20 73 0 74 16 62 32 58 38 38 33 18 31 10 31 0 36-6 30-14 41-36 18-23 24-50 16-71 0-45-20-83-26-50-43-58 0-230 385 0-1 106 37 80 26 80 18 104 3 86 63 80 41 64 20 56 6 60-10 134-19 66-42 75-33 49-51 63-44 43-66 48-54 34-66 34-64 25-80 21-60 10-160 2-110-17-70-21-60-24-141-83-45-35-34-35-93-129-40-76-17-70-11-124 14-66 46-100 24-34 53-56 1-90 14-80 27-90 41-90z"/><path fill="#2c73bb" fill-rule="evenodd" d="M430 2l371 0-1 230-28 30-40 70-21 76 0 74 16 66 31 54 40 40 40 20 24 7 30 0 40-7 30-14 40-36 16-20 25-50 16-74 0-46-21-84-25-50-43-56-1-230 371 0-1 110 40 90 24 76 17 90 3 90 9 50 53 64 27 46 20 54 7 66-4 114-21 66-38 70-37 54-44 56-47 44-66 47-70 42-100 42-70 19-60 10-154 3-110-15-70-20-58-22-143-86-45-34-33-36-89-130-33-64-15-60-7-120 8-46 21-50 46-80 38-46 9-44 2-94 13-70 29-90 41-90z"/><path fill="#2b78be" fill-rule="evenodd" d="M443 2l357 0-1 230-27 30-40 70-22 76 1 74 16 66 31 55 40 40 38 19 26 7 30 0 40-6 30-15 41-36 15-20 25-50 16-74 0-46-21-84-25-50-42-56-1-230 357 0-1 110 46 100 27 96 12 70 2 80 13 84 46 66 27 64 11 66 5 80-2 34-10 36-47 94-67 96-64 60-57 41-66 39-100 41-64 18-60 10-156 2-104-16-66-18-54-22-140-84-46-35-30-32-84-129-30-61-14-54-2-90 6-50 11-40 72-120 15-80 2-90 14-76 30-94 41-86z"/><path fill="#2b7cc1" fill-rule="evenodd" d="M455 2l344 0 0 230-28 30-40 70-21 76 0 74 16 66 35 60 37 35 37 19 27 8 36 0 34-7 31-15 40-36 15-20 26-50 16-74-5-76-16-54-25-50-43-56 0-230 344 0 0 116 43 90 25 74 17 90 4 86 15 114 36 65 15 41 15 74 8 76-4 34-12 36-32 64-30 50-57 74-89 72-107 62-120 39-104 15-140-2-116-24-90-35-135-85-39-33-28-33-95-160-17-54-3-50 7-76 12-50 16-34 38-60 19-126 2-90 15-74 28-86 43-90z"/><path fill="#2a80c4" fill-rule="evenodd" d="M468 2l330 0 0 230-47 60-22 46-20 70 0 74 17 66 35 60 37 36 36 18 28 9 36 0 34-7 30-15 42-37 15-20 25-50 17-74-5-76-17-54-25-50-42-56 0-230 330 0 1 116 47 100 29 94 12 70 3 76 18 154 21 46 16 50 18 84 3 46-8 40-26 60-61 100-47 52-80 62-100 57-116 36-100 14-140-4-110-24-84-34-136-87-34-30-26-31-86-151-15-46-2-44 18-116 39-84 8-86 12-70 3-90 13-64 30-90 45-90z"/><path fill="#2985c7" fill-rule="evenodd" d="M480 2l317 0 0 230-47 60-22 46-20 70 0 74 15 60 19 40 14 20 34 36 52 28 20 5 36 0 30-5 34-17 42-37 15-20 28-54 15-70 0-46-20-80-27-54-42-56 0-230 317 0 1 120 50 100 30 100 11 66 2 64 15 126 3 72 36 112 8 70-8 40-22 60-55 96-49 53-84 65-95 52-111 34-94 11-140-4-106-25-80-32-130-86-32-28-24-30-77-146-13-44-3-46 16-90 26-74 9-116 12-70 3-84 11-60 31-96 48-94z"/><path fill="#2989ca" fill-rule="evenodd" d="M492 2l305 0 0 230-28 30-41 75-21 71 1 74 15 60 19 41 13 19 35 36 52 29 20 5 36 0 30-5 30-15 20-12 27-28 15-20 27-54 15-70 0-46-20-80-26-54-43-56 0-230 305 0 2 126 53 104 20 60 16 76 20 214 2 100 27 90 5 56-8 40-24 64-26 56-26 40-62 60-105 72-84 37-106 26-134 5-86-9-94-26-66-31-126-84-31-30-21-30-65-140-10-40-2-40 9-56 19-64 8-150 13-76 6-104 13-56 24-70 52-100z"/><path fill="#288dcd" fill-rule="evenodd" d="M505 2l292 0 0 230-28 30-41 74-21 72 1 75 14 60 20 41 13 18 39 40 48 26 20 5 40 0 26-5 34-18 43-38 16-20 27-54 15-70-1-47-20-80-26-53-43-56 0-230 292 0 3 127 55 109 25 74 12 60 4 80 14 116-1 144 19 66 3 44-7 40-21 60-49 96-30 33-42 37-88 60-80 34-100 25-130 5-84-8-90-25-66-29-121-82-29-28-19-28-62-144-9-40-2-36 18-84 3-170 15-86 5-94 13-60 25-71 53-99z"/><path fill="#2890cf" fill-rule="evenodd" d="M517 2l280 0-1 230-28 30-40 72-21 74 1 77 14 59 20 41 12 17 40 40 47 26 21 5 40 0 27-5 33-17 44-39 15-20 27-53 15-71-1-48-20-81-25-51-43-56-1-230 280 0 3 130 58 110 24 76 12 60 4 74 16 116-6 164 12 50 0 36-24 94-45 90-29 34-47 42-86 60-70 30-103 24-124 4-80-9-89-25-61-29-116-83-24-24-20-28-52-130-12-50 0-36 9-50-5-70 1-120 17-90 3-84 13-60 33-90 49-86z"/><path fill="#2795d2" fill-rule="evenodd" d="M521 2l276 0-1 231-28 29-40 72-21 73 1 78 14 60 20 40 12 17 39 40 48 26 21 5 40 0 27-5 33-17 44-39 15-20 27-52 15-72-1-48-20-81-25-51-43-56-1-230 276 0 2 130 59 110 25 76 13 64 3 70 17 116-8 170 9 50 0 30-25 94-25 56-21 34-26 31-50 43-84 58-76 31-94 22-120 4-86-10-80-24-60-28-114-84-26-24-19-29-48-124-13-50-1-30 6-46-6-120 1-80 17-90 4-84 12-60 33-87 50-89z"/><path fill="#269cd7" fill-rule="evenodd" d="M542 2l254 0 0 230-29 30-40 70-20 75 1 80 14 60 20 40 51 55 46 26 24 5 39 0 29-5 31-16 45-40 15-20 26-50 15-74-1-50-19-80-25-50-44-56 0-230 254 0 4 139 56 97 35 104 10 56 2 60 18 100 1 70-29 220-14 50-20 50-23 37-36 37-53 46-61 40-86 33-74 15-116 3-74-10-76-22-54-27-106-79-24-23-17-26-41-120-18-80-18-140 0-54 5-60 16-66 4-80 13-60 32-84 54-90z"/><path fill="#25a3dc" fill-rule="evenodd" d="M563 2l233 0-1 230-28 30-40 70-21 76 1 80 15 60 20 40 51 55 45 25 24 5 40 0 30-5 30-15 46-41 15-20 25-50 16-74-1-50-20-80-25-50-43-56-1-230 233 0 5 146 59 94 36 106 9 50 3 60 22 104-1 80-29 146-36 110-21 44-25 36-47 44-52 40-38 22-80 29-64 12-106 2-70-10-70-21-50-26-100-77-36-45-63-180-24-110-3-76 7-60 18-70 4-74 13-60 34-86 56-90z"/><path fill="#24aae1" fill-rule="evenodd" d="M584 2l211 0 0 230-29 30-39 70-21 76 1 80 15 60 20 40 50 55 46 25 24 6 41 0 29-6 30-15 46-41 15-19 25-51 16-74-1-50-20-80-24-50-44-56 0-230 211 0 6 151 61 95 37 100 9 50 3 55 26 109 0 86-24 104-42 100-38 76-23 30-43 42-49 38-37 20-70 24-64 12-100 1-66-11-64-21-46-25-87-70-34-46-82-184-18-76-4-60 10-80 21-70 3-70 14-60 33-80 60-94z"/><path fill="#23b1e6" fill-rule="evenodd" d="M604 2l191 0-1 230-28 31-40 69-20 76 1 80 15 60 20 40 50 56 46 24 24 6 40 0 30-6 30-15 46-40 15-21 25-50 16-74 0-51-20-79-25-50-43-56-1-230 191 0 6 156 64 94 35 90 12 56 3 54 29 110 1 90-13 70-13 40-83 140-69 72-46 35-40 22-90 28-94 4-76-7-80-26-40-25-92-77-80-126-23-44-14-46-13-64-1-46 9-70 26-80 4-70 17-65 33-75 59-84z"/><path fill="#26b6e7" fill-rule="evenodd" d="M624 2l171 0-1 230-29 30-39 70-21 76 1 80 15 60 20 40 51 56 46 25 24 5 40 0 30-5 30-15 46-40 16-22 25-50 15-74 0-50-20-80-25-50-43-56-1-230 171 0 9 160 66 100 32 80 13 56 4 54 32 106 3 94-22 100-48 86-37 45-36 33-80 63-44 24-80 24-90 5-70-7-70-23-46-27-100-80-64-83-32-60-14-44-11-60 0-46 8-64 31-86 5-70 16-60 34-74 59-86 8-74z"/><path fill="#2eb7e4" fill-rule="evenodd" d="M643 2l151 0-1 230-28 30-40 70-19 70 0 85 15 61 20 40 51 56 46 25 24 5 40 0 30-5 30-15 46-40 16-22 25-50 16-74-1-50-19-80-25-50-43-56-1-230 151 0 3 90 12 76 31 36 34 54 27 64 17 70 4 66 36 100 4 40-1 50-19 100-25 50-22 34-37 46-33 30-46 32-64 34-90 26-76 3-70-3-90-26-84-46-46-36-66-84-32-60-21-96-1-50 5-44 12-46 25-54 6-80 16-60 32-72 24-39 37-45 11-74z"/><path fill="#36b8e1" fill-rule="evenodd" d="M653 2l141 0-1 230-28 30-40 70-20 70 1 86 15 60 20 40 51 57 46 24 24 6 40 0 30-6 30-15 46-39 16-23 25-50 16-74 0-50-20-80-25-50-43-56-1-230 141 0 2 106 8 60 36 40 29 43 34 71 18 70 8 93 29 77 4 76-17 101-23 49-23 36-38 48-32 29-44 32-66 34-80 23-80 4-74-4-80-23-84-45-46-36-65-84-30-60-11-40-9-60 4-80 13-44 19-40 7-96 15-60 37-75 24-36 41-43 8-60z"/><path fill="#3eb9de" fill-rule="evenodd" d="M661 2l132 0 0 230-25 26-24 34-19 40-20 70 0 80 15 66 30 54 48 47 40 20 20 5 44 1 30-6 30-15 46-39 17-23 25-50 15-74 0-50-20-80-24-50-44-56 0-230 132 0 2 100 7 70 72 90 31 66 18 70 10 110 17 40 8 34 2 56-18 100-23 50-22 34-35 45-30 28-46 32-64 34-86 22-94 3-60-6-70-21-80-44-46-36-61-81-28-56-19-84-3-50 8-50 27-86 7-94 14-50 27-60 34-47 44-49 7-70z"/><path fill="#46bbdb" fill-rule="evenodd" d="M668 2l125 0-1 229-48 61-20 40-19 70-1 80 16 66 30 54 48 48 40 20 20 5 44 0 30-5 30-15 46-39 17-24 25-50 16-74-1-50-19-80-25-50-43-57-1-229 125 0 2 100 7 76 76 94 34 76 13 54 9 116 22 70 2 50-21 104-24 49-24 37-32 40-42 34-92 52-80 21-94 3-60-6-66-20-80-44-44-36-59-80-27-54-18-70-4-50 4-36 18-54 10-60 7-90 13-47 29-59 78-100 7-74z"/><path fill="#4ebcd8" fill-rule="evenodd" d="M676 2l117 0-1 226-48 64-20 40-20 70 0 80 16 66 30 54 48 48 40 20 20 5 44 1 30-6 30-15 46-39 17-24 25-50 16-70 0-54-20-80-24-50-45-60 0-226 118 0 2 100 8 76 76 100 35 74 12 50 14 146 14 44 2 50-9 60-13 40-25 50-31 46-28 30-40 33-84 47-80 20-96 3-54-7-70-23-76-43-42-36-57-80-28-60-13-54-3-46 5-40 14-44 16-156 15-50 28-54 38-56 40-44 8-76z"/><path fill="#56bdd5" fill-rule="evenodd" d="M683 2l109 0 0 225-49 65-20 40-14 46-5 30 0 74 10 50 35 70 49 48 40 20 20 5 44 1 30-6 50-29 44-49 30-64 10-60 0-50-10-50-34-80-44-60 0-226 109 0 3 106 10 74 36 40 40 60 25 50 19 60 11 120 7 56 9 30 2 44-7 56-10 34-28 56-35 50-27 28-39 32-85 45-76 18-90 2-54-7-66-21-74-43-41-34-57-80-29-60-10-50-3-46 14-64 19-176 13-44 30-60 34-51 43-49 9-76z"/><path fill="#5ebed2" fill-rule="evenodd" d="M690 2l101 0 0 226-45 60-23 44-19 70-1 80 16 66 20 40 13 19 46 44 40 20 20 5 50 0 24-5 46-25 30-29 18-25 30-64 11-60-1-50-9-50-35-80-43-60 0-226 101 0 3 106 10 74 37 40 34 50 40 86 13 49 15 181 9 34-4 56-9 44-30 60-53 70-57 46-76 38-70 17-94 2-50-7-66-22-70-41-38-33-58-80-27-54-10-46-3-50 12-50 18-184 15-50 29-60 34-50 42-46 11-74z"/><path fill="#62becb" fill-rule="evenodd" d="M698 2l92 0 1 226-46 60-22 44-20 70 0 80 16 66 20 40 13 19 46 44 40 20 20 5 50 0 24-5 46-25 30-29 18-25 30-64 11-60 0-50-10-50-34-80-44-60 1-226 92 0 3 110 13 76 40 39 35 51 35 80 14 54 13 186 7 30-3 54-9 40-30 60-52 66-56 43-74 38-70 17-90 1-50-7-60-20-70-41-40-34-57-77-26-56-8-40-2-44 7-30 20-210 13-46 30-64 33-48 45-48 12-70z"/><path fill="#61bdc1" fill-rule="evenodd" d="M706 2l84 0 0 226-46 60-22 44-19 70 0 80 15 66 20 40 14 20 46 43 40 20 20 5 50 1 24-6 46-25 30-28 19-26 30-64 10-60 0-50-10-50-33-80-44-60 0-226 84 0 4 119 13 67 41 40 36 50 35 80 13 54 13 206 5 24-10 76-28 60-48 61-50 40-80 42-70 17-86 1-50-6-60-20-70-40-40-32-54-75-25-54-10-70 26-264 12-40 29-60 32-47 49-49 12-64z"/><path fill="#60bbb0" fill-rule="evenodd" d="M714 2l75 0 0 226-45 60-22 44-19 70-1 80 16 66 20 40 14 20 40 40 46 24 20 5 50 0 24-5 46-25 30-29 19-26 30-64 11-60-1-50-9-50-34-80-43-60 0-226 75 0 3 116 11 70 48 42 32 42 15 26 25 60 12 54 9 226 4 20-8 60-26 54-50 66-53 40-76 38-64 15-90 1-50-8-60-20-66-38-39-34-53-74-21-50-7-50 19-276 14-44 29-60 34-46 51-44 12-70z"/><path fill="#5eb797" fill-rule="evenodd" d="M726 2l61 0 1 220-3 10-24 26-19 30-22 44-19 70 1 86 15 60 20 40 14 20 41 41 46 23 20 5 50 1 24-6 50-28 27-26 19-26 30-65 11-59-1-50-9-50-36-86-41-54 1-226 61 0 7 196 17 17 54 40 16 17 25 40 20 50 11 46 3 70-8 170 4 50-5 20-23 50-47 61-59 43-67 32-60 13-84 1-46-7-54-18-66-38-33-27-46-66-22-44-4-20-5-196 6-114 14-46 30-60 26-29 70-55z"/><path fill="#5cb47e" fill-rule="evenodd" d="M736 2l49 0 1 220-46 66-21 44-19 70 1 86 15 60 20 40 13 20 43 42 46 23 20 5 50 1 26-7 48-27 29-27 18-26 30-64 11-60 0-50-10-50-35-86-40-54 0-226 50 0 1 126 6 74 60 68 46 34 19 38 18 56 5 80-4 50-18 100-11 120-35 54-43 40-61 37-56 19-40 6-80 0-34-6-50-16-66-38-27-22-27-34-25-46-33-234 5-116 13-44 24-46 46-35 60-65 6-74z"/><path fill="#5eb367" fill-rule="evenodd" d="M745 2l37 0 1 220-45 66-19 40-20 74 1 86 15 60 20 40 13 20 44 44 46 22 20 5 54 0 24-7 46-25 30-29 18-26 30-64 11-60 0-50-10-50-33-86-41-60 1-220 37 0 2 130 7 76 43 44 45 66 36 29 20 55 4 80-9 76-65 234-34 36-37 24-35 19-44 14-76 6-70-6-54-19-70-44-27-30-13-60-46-142-15-92 5-107 16-41 34-29 46-65 48-48 7-76z"/><path fill="#60b251" fill-rule="evenodd" d="M756 2l22 0 2 220-44 66-19 40-19 74 0 80 16 66 23 44 51 56 44 25 26 7 54 0 26-7 44-25 31-30 18-26 30-64 11-60 0-50-9-50-11-36-22-50-40-60 2-220 22 0 2 120 7 86 63 70 24 34 32 68 26 23 4 11 3 64-6 54-13 56-29 70-75 131-37 53-20 16-48 14-35 4-74-1-51-13-28-14-47-64-25-52-36-54-35-80-10-36-11-64 3-83 4-13 26-24 33-70 24-36 62-64 7-86z"/><path fill="#63b23a" fill-rule="evenodd" d="M761 202l7-4 4 7 2 23-41 60-17 40-15 50-4 24 1 86 17 64 30 56 47 46 40 20 26 7 54 0 56-22 46-41 16-20 25-50 18-76-4-84-15-56-22-50-36-54 2-23 4-7 6 1 9 19 45 41 30 40 37 73 11 40 2 44 14 32 3 34-10 56-19 44-36 60-52 55-64 42-40 16-46 5-54-4-40-15-60-35-79-84-38-80-10-44-2-35 19-48 4-57 10-36 26-52 23-32 37-41 26-19z"/><path fill="#6db530" fill-rule="evenodd" d="M733 248l9-4 5 9-33 75-19 74 1 86 11 44 27 60 15 20 43 43 40 20 26 7 54 0 20-5 50-27 49-52 26-50 17-76 0-54-18-86-34-74 0-12 16 3 16 13 43 56 26 54 11 40 3 90 8 30-1 30-7 26-29 64-54 66-36 27-50 25-40 10-80 0-40-9-80-43-54-56-20-30-24-54-7-36 15-154 11-36 25-50 34-43z"/><path fill="#7fba32" fill-rule="evenodd" d="M714 278l8-4 5 8-28 90-5 36 1 80 17 64 31 56 45 44 44 25 26 6 54 0 26-6 44-25 50-54 31-66 12-64-4-80-13-56-16-39 0-17 16 5 31 37 27 54 12 40 4 165-21 61-22 34-41 46-30 22-46 24-40 11-94 0-40-11-56-29-70-73-17-30-19-54 0-86 7-90 12-40 25-44z"/><path fill="#91c035" fill-rule="evenodd" d="M706 302l6 2 1 8-20 90 1 80 17 70 31 57 46 45 44 24 26 6 54 0 26-6 50-29 46-51 30-66 12-60 1-54-21-100 1-16 11 5 14 15 27 50 13 40 4 106-5 60-7 34-14 36-20 30-43 44-30 20-49 24-40 8-76-1-40-11-58-30-63-64-19-31-12-39-8-106 10-100 28-60z"/><path fill="#a3c537" fill-rule="evenodd" d="M696 328l6 10-11 64 2 86 17 64 32 59 46 44 44 24 30 6 50 0 26-6 30-15 44-38 23-28 26-50 11-40 7-90-13-80 6-10 6 5 25 41 12 38 5 66-2 70-21 94-19 32-40 44-30 21-51 23-39 9-70-1-46-11-51-27-51-50-18-20-14-30-14-60-6-74 9-100 13-36z"/><path fill="#b9cf33" fill-rule="evenodd" d="M685 358l3-4 5 8-4 40 2 86 17 64 21 40 13 20 50 48 40 20 26 6 50 0 30-6 49-28 49-54 26-50 12-40 5-36 1-54-5-46 3-18 4 2 16 24 12 42 4 56-5 84-18 70-13 30-40 50-27 20-43 24-56 12-64 0-36-9-75-41-49-60-27-86-6-80 4-64 5-30z"/><path fill="#d0d92f" fill-rule="evenodd" d="M681 382l5 6 3 100 6 30 11 34 35 60 47 46 44 23 26 6 50 0 30-6 50-27 50-56 26-50 11-36 6-40-1-70 8-21 13 31 4 26 1 80-6 44-18 73-16 33-30 40-24 20-46 24-54 13-60 0-33-7-25-10-51-30-51-70-11-26-13-54-6-76 3-54 7-40z"/><path fill="#e6e32b" fill-rule="evenodd" d="M676 418l2-5 4 12 4 63 13 50 40 74 49 48 44 23 26 6 50 0 30-6 50-28 52-57 31-66 14-60 3-48 4-10 7 58-4 70-19 86-16 34-30 40-23 20-41 26-34 10-94 0-34-10-42-26-20-16-35-48-17-40-13-56-8-70z"/><path fill="#eed928" fill-rule="evenodd" d="M1087 502l-4 50-17 66-33 70-31 29-34 21-56 16-60 0-34-9-66-39-21-28-23-45-21-71-6-44 1-14 18 48 26 46 62 64 44 23 20 5 60 0 26-5 30-15 50-42 21-26 31-54z"/><path fill="#f0c624" fill-rule="evenodd" d="M1057 588l-4 24-13 30-42 66-47 30-49 9-64-4-30-10-31-21-18-20-37-63-12-37 2-2 23 28 53 47 44 22 20 5 60 0 26-5 50-27 35-32z"/><path fill="#f1b321" fill-rule="evenodd" d="M992 668l1 4-11 12-34 28-30 12-26 2-40-2-24-10-53-42 3-2 74 27 60 0 30-6z"/></g></g></g><path fill="#d1d1d1" d="M326.70 782.90 L339.50 782.90 L334.99 806.22 Q333.97 810.60 333.70 811.80 L332.70 811.80 Q332.43 810.60 331.41 806.22 L326.70 782.90 Z"/>
<g clip-path="url(#pc3)"><g filter="url(#bl)"><g transform="translate(421.10 780.90) scale(0.1)"><path fill="#fafcfe" fill-rule="evenodd" d="M2 2l806 0 0 70 4 6 0 144-4 10-60 60-30 46-20 40 0 10-16 30 0 14-10 26 0 20-4 4 0 46-6 4 6 10 0 36 430 0 4-6 0-74-4-6-6-50-4-4-16-56-44-80-76-84 0-86 6-4 0-90 4-6 0-30 840 0 0 1870-1800 0z"/><path fill="#f0f5fc" fill-rule="evenodd" d="M2 2l795 0 5 210-60 65-34 54-31 66-19 81-1 40-5 14 6 58 14 37 106 102 50 33 54 13 50-11 49-26 117-111 14-50 0-85-10-54-20-61-50-90-69-79 0-60 5-16 5-130 829 0 0 1870-1800 0z"/><path fill="#e6eff9" fill-rule="evenodd" d="M2 2l794 0 1 76 4 14 0 120-63 71-30 45-30 65-21 85-6 60 6 54 21 64 79 86 60 40 65 19 40-8 38-15 33-20 28-26 67-70 13-30 12-54 0-86-11-59-20-60-44-80-74-85 0-60 4-16 6-130 828 0 0 1870-1800 0z"/><path fill="#dbe9f7" fill-rule="evenodd" d="M2 2l794 0 0 71 5 25-2 114-61 69-30 45-31 66-21 86-5 60 5 54 12 48 20 48 30 35 29 29 41 31 40 21 54 14 46-9 40-19 41-28 37-34 36-44 20-49 12-57 0-86-11-60-21-61-24-50-26-37-66-76-1-61 4-15 5-130 828 0 0 1870-1800 0z"/><path fill="#d1e2f5" fill-rule="evenodd" d="M2 2l793 0 4 206-7 14-50 51-24 36-42 83-21 86-5 60 5 54 27 92 26 42 15 16 79 62 50 20 30 5 50-10 40-20 47-31 33-33 36-56 15-41 12-60 0-86-10-54-23-69-24-49-25-38-66-74-1-60 4-20 5-126 827 0 0 1870-1800 0z"/><path fill="#c7dcf2" fill-rule="evenodd" d="M2 2l792 0 5 206-7 14-50 50-34 51-32 69-22 86-5 60 5 54 28 95 26 44 24 31 70 53 46 17 34 6 38-6 37-14 55-36 36-33 40-67 17-50 11-54 0-86-10-54-24-70-44-80-70-80-2-60 5-20 5-126 826 0 0 1870-1800 0z"/><path fill="#bdd6f0" fill-rule="evenodd" d="M2 2l791 0 0 70 5 26-1 114-59 65-31 45-34 76-20 80-5 54 5 56 29 101 46 73 65 56 50 20 39 6 45-6 35-15 40-26 30-27 30-39 26-47 18-52 11-54 0-86-10-54-22-66-47-85-70-79-1-60 5-20 5-126 825 0 0 1870-1800 0z"/><path fill="#b2cfee" fill-rule="evenodd" d="M2 2l790 0 0 70 5 26-1 114-58 64-31 46-35 75-20 81-5 60 5 54 30 99 46 73 44 44 25 14 51 20 35 6 39-6 40-15 46-29 24-24 30-40 26-48 19-54 11-54 0-86-10-54-20-61-30-59-20-32-69-78-1-60 5-16 5-130 824 0 0 1870-1800 0z"/><path fill="#a9c9eb" fill-rule="evenodd" d="M2 2l790 0 0 70 5 26-1 114-58 63-32 47-34 74-20 82-5 60 5 54 11 46 19 54 46 74 43 42 22 14 50 20 39 7 45-7 35-14 47-30 23-23 30-40 26-47 20-56 10-54 0-86-10-54-20-62-29-58-21-33-69-77-1-60 5-16 5-130 824 0 0 1870-1800 0z"/><path fill="#a1c3e8" fill-rule="evenodd" d="M2 2l789 0 0 70 5 26-1 114-57 62-32 48-34 72-21 84-5 60 5 54 27 90 24 50 25 36 42 40 22 14 51 21 40 7 40-6 40-15 29-17 41-35 30-40 30-59 16-46 11-54 0-86-10-54-21-64-50-90-68-76-1-60 5-16 5-130 823 0 0 1870-1800 0z"/><path fill="#9abee5" fill-rule="evenodd" d="M2 2l789 0 0 76 5 20-1 114-57 61-33 49-33 71-21 85-5 60 5 54 27 92 24 48 24 36 42 40 21 14 59 23 34 6 40-6 40-14 30-18 41-35 29-40 30-59 17-47 10-54 0-86-10-54-21-65-50-90-68-75-1-60 5-16 5-130 823 0 0 1870-1800 0z"/><path fill="#92b8e2" fill-rule="evenodd" d="M2 2l788 0 0 76 5 20-1 114-57 60-32 50-33 70-22 86-5 60 5 54 28 94 23 46 25 36 62 55 60 24 34 5 40-5 40-15 46-30 26-24 28-39 30-58 17-49 11-54 0-86-10-54-22-66-50-90-67-74-1-60 5-16 5-130 822 0 0 1870-1800 0z"/><path fill="#8bb3de" fill-rule="evenodd" d="M2 2l788 0 0 76 5 20-1 114-57 60-33 50-33 70-21 86-5 60 5 54 28 95 47 81 43 42 20 13 60 25 34 5 40-5 41-16 46-30 26-24 27-38 30-58 18-50 10-54 0-86-10-54-21-66-51-90-67-74-1-60 5-16 5-130 822 0 0 1870-1800 0z"/><path fill="#83addb" fill-rule="evenodd" d="M2 2l787 0 0 76 5 20-1 114-57 60-30 46-35 74-22 86-5 60 6 54 27 96 47 80 44 43 20 13 60 24 34 5 40-5 42-16 46-30 26-24 42-61 15-35 17-50 11-54 0-86-10-54-22-66-50-89-67-75-1-60 5-16 5-130 821 0 0 1870-1800 0z"/><path fill="#7ca8d8" fill-rule="evenodd" d="M2 2l787 0 0 76 5 20-1 114-57 60-30 46-36 74-21 86-5 60 5 54 27 96 47 80 45 44 20 13 60 24 34 5 40-5 44-17 45-30 26-24 41-60 16-36 17-50 10-54 0-86-10-54-21-66-51-90-67-74-1-60 5-16 5-130 821 0 0 1870-1800 0z"/><path fill="#74a2d5" fill-rule="evenodd" d="M2 2l786 0 1 76 4 20-1 114-57 60-30 46-35 74-21 86-6 60 6 54 27 96 46 80 46 45 20 12 60 25 34 5 40-5 45-18 45-29 26-25 41-60 15-36 17-50 10-54 0-86-10-54-21-66-50-90-67-74-1-60 4-16 6-130 820 0 0 1870-1800 0z"/><path fill="#6d9cd2" fill-rule="evenodd" d="M2 2l786 0 0 76 5 20-1 114-58 60-30 46-35 74-21 86-5 60 5 54 27 96 46 80 47 45 20 13 54 23 40 6 40-5 46-17 44-30 27-25 40-60 16-36 17-50 10-54 0-86-11-60-20-60-50-90-68-74-1-60 5-16 5-130 820 0 0 1870-1800 0z"/><path fill="#6597ce" fill-rule="evenodd" d="M2 2l785 0 1 76 4 20-1 114-57 60-30 46-35 74-21 86-6 60 6 54 26 96 46 80 62 56 60 25 40 7 40-5 45-17 46-30 26-26 41-60 16-36 16-50 10-54 0-86-11-60-20-60-50-90-67-74-1-60 4-16 6-130 819 0 0 1870-1800 0z"/><path fill="#5e91cb" fill-rule="evenodd" d="M2 2l785 0 0 76 5 20-2 114-57 60-30 46-35 74-21 86-5 60 5 54 27 96 46 80 62 57 60 25 40 7 40-5 46-17 44-30 28-27 41-60 15-36 17-49 10-55 0-86-10-54-21-66-50-90-67-74-1-60 4-16 5-130 819 0 0 1870-1800 0z"/><path fill="#568cc8" fill-rule="evenodd" d="M2 2l784 0 0 76 5 20-1 114-57 60-30 46-35 74-22 86-5 60 5 54 27 96 46 80 63 58 60 25 40 6 46-6 40-15 44-30 29-28 40-60 16-36 17-50 10-54 0-86-10-54-22-66-50-90-67-74-1-60 5-16 5-130 818 0 0 1870-1800 0z"/><path fill="#4f86c5" fill-rule="evenodd" d="M2 2l783 0 0 75 5 21-1 114-57 60-30 46-35 74-22 86-5 60 5 54 28 96 25 50 24 34 46 45 20 12 54 23 46 6 40-6 40-15 44-30 30-29 40-60 15-36 17-50 11-54 0-86-10-54-22-66-50-90-67-74-1-60 5-16 5-130 817 0 0 1870-1800 0z"/><path fill="#4781c1" fill-rule="evenodd" d="M2 2l782 0 1 76 4 20 0 114-58 60-30 46-35 74-21 86-6 60 5 20 1 34 26 96 26 50 24 34 41 41 26 17 60 24 40 5 34-5 46-17 44-29 30-30 41-60 16-36 16-50 10-54 0-86-11-60-20-60-50-90-68-74 0-60 4-16 6-130 810 0 6 13 0 1857-1800 0z"/><path fill="#407bbe" fill-rule="evenodd" d="M91 8l2-6 691 0 0 76 5 14-1 120-58 60-30 46-35 74-21 86-5 60 5 20 0 34 26 96 26 50 24 34 62 57 60 25 50 6 36-6 40-15 44-30 32-31 40-60 16-36 15-44 11-60 0-86-11-60-20-60-50-90-68-74-1-60 5-16 5-130 688 0 54 80 74 127 0 1663-1800 0 0-1728z"/><path fill="#3875bb" fill-rule="evenodd" d="M215 2l568 0 0 76 5 14 0 119-59 61-30 46-35 74-21 86-5 60 5 20 0 34 26 96 25 50 25 34 63 58 60 25 46 6 40-6 40-15 44-30 30-29 44-63 15-36 15-44 11-60-1-90-10-56-20-60-50-90-68-76-1-58 5-16 5-130 565 0 5 20 86 106 77 134 47 126 26 150 9 14 0 1320-1800 0 0-1494 30-77 62-123 44-69 74-91z"/><path fill="#3170b8" fill-rule="evenodd" d="M323 2l459 0 5 206-59 64-30 46-35 74-20 80-1 40-4 10 5 76 25 90 25 50 24 34 45 46 20 14 60 25 46 5 40-5 40-15 44-30 31-30 44-64 15-36 15-44 10-56 0-94-10-56-20-60-30-60-23-34-66-76 10-200 458 0 7 46 43 44 48 60 74 126 49 130 22 130 73 74 40 99 0 341-86 185 2 5 40 23 44 11 0 596-1800 0 0-628 30-4 16-8-46-88 0-497 48-59 24-40 10-76 19-74 23-66 35-74 62-106 49-62 42-42z"/><path fill="#2d6fb8" fill-rule="evenodd" d="M382 8l1-6 398 0 5 206-57 60-31 47-36 75-20 82-1 40-4 10 5 76 26 92 47 82 47 48 19 12 60 26 51 5 37-5 40-16 49-32 27-28 43-62 14-35 16-48 10-55 0-94-10-56-20-62-30-60-22-32-67-76 10-200 397 0 22 60 44 45 46 71 47 110 15 50 20 94 8 110 70 48 28 28 72 130 18 54 12 116-4 60-15 64-47 116-37 70-44 64-80 96-53 49-76 59-74 48-70 35-86 36-100 31-140 24-144 1-60-6-110-24-110-37-76-34-100-56-79-56-55-49-136-167-58-104-32-81 0-288 27-57 26-40 123-126 17-154 37-130 44-94 42-65 46-45z"/><path fill="#2c73bb" fill-rule="evenodd" d="M433 2l347 0 5 206-58 60-30 44-35 76-21 84-5 66 5 60 26 94 45 80 66 61 30 15 60 16 60-5 44-16 46-30 30-30 40-61 15-34 16-50 10-56 0-95-10-55-21-64-50-90-68-76 10-200 347 0 4 40 7 14 15 16 59 41 60 79 50 106 20 69 14 71 6 104 10 51 56 55 53 74 23 40 15 46 16 80 3 80-11 64-38 106-31 64-37 60-76 96-38 40-79 66-80 54-70 37-96 40-80 24-94 20-86 7-110-1-74-7-90-19-100-31-70-30-94-50-76-53-50-40-38-37-128-170-44-90-21-66-19-130 12-80 25-70 36-64 33-40 61-56 11-130 12-84 29-100 24-60 30-56 44-60 27-24 42-26 18-16 7-14z"/><path fill="#2b78be" fill-rule="evenodd" d="M446 2l333 0 5 206-58 60-30 44-25 50-16 46-15 64-5 76 15 94 17 50 25 50 20 30 50 51 44 25 36 12 46 5 40-5 44-17 46-30 30-31 40-60 30-80 7-30 5-30 0-94-10-56-21-64-50-90-68-76 10-200 333 0 12 80 76 57 63 79 44 90 22 70 15 74 5 96 20 104 73 90 19 36 16 44 22 90 1 76-12 54-34 100-26 56-37 60-66 84-39 42-80 67-80 53-74 38-96 39-70 20-90 18-76 6-110 0-74-8-86-18-97-31-71-30-90-50-76-54-80-72-120-165-41-85-18-60-12-124 9-66 19-54 28-56 36-50 39-39 4-11 26-240 18-64 26-70 37-70 39-51 34-35 60-40 10-34z"/><path fill="#2b7cc1" fill-rule="evenodd" d="M459 2l319 0 5 206-57 60-30 45-25 49-17 46-15 64-5 76 15 94 17 50 25 50 20 30 51 52 42 24 38 13 40 5 46-5 44-17 46-30 31-32 40-60 17-40 20-70 5-30 0-94-10-56-20-60-32-64-20-30-67-76 10-200 319 0 11 83 100 97 46 60 41 80 28 96 8 50 4 74 23 156 52 70 35 80 19 70 0 74-12 55-32 101-30 60-33 50-57 74-38 40-78 66-80 53-66 33-94 38-66 19-90 18-74 6-110-1-70-8-86-19-94-31-66-28-88-50-78-56-44-36-31-34-110-160-35-74-17-60-6-116 6-54 15-46 22-44 62-85 31-275 16-66 23-58 25-52 35-51 119-119z"/><path fill="#2a80c4" fill-rule="evenodd" d="M472 2l305 0 5 206-57 60-30 44-25 50-27 86-10 100 15 94 17 50 25 50 20 30 52 53 41 23 39 14 36 5 50-5 44-17 46-30 32-33 40-60 17-40 20-70 5-30 0-94-10-56-20-60-32-64-20-30-67-76 10-200 305 0 10 86 54 52 70 82 46 71 25 55 25 90 34 298 40 66 33 76 12 54-2 66-22 94-21 61-30 57-53 78-41 50-60 55-51 39-69 45-90 43-66 25-64 18-86 16-70 5-110-2-70-8-80-18-90-31-64-29-86-49-80-58-64-64-105-157-28-66-16-54-4-50 3-86 7-40 16-40 57-94 22-246 16-84 28-80 40-76 84-104 61-60 9-40z"/><path fill="#2985c7" fill-rule="evenodd" d="M485 2l292 0 5 206-58 60-30 44-25 50-17 44-14 66-6 76 5 10 0 40 11 45 14 45 28 54 20 30 52 53 40 23 40 14 36 5 50-5 44-17 46-30 32-33 40-60 18-39 19-70 1-21 5-10 0-94-11-57-20-60-31-63-20-30-68-76 10-200 292 0 11 90 52 49 30 37 42 54 53 86 27 64 18 70 8 90 15 80 11 155 41 75 18 56 6 50-5 50-16 80-21 60-28 54-58 86-39 44-61 56-111 75-86 41-60 22-64 18-86 15-64 4-106-1-69-10-81-18-88-32-62-28-84-51-76-55-59-60-97-156-21-50-17-60-4-40 4-64 14-76 45-90 25-274 14-80 23-66 45-84 81-110 66-66 10-44z"/><path fill="#2989ca" fill-rule="evenodd" d="M497 8l1-6 279 0 5 206-59 60-30 44-25 50-16 43-14 65-6 78 5 10 0 40 11 47 14 44 27 53 20 30 50 50 52 30 55 16 36 0 42-10 54-27 50-45 28-38 16-29 30-79 11-58 0-90-11-62-20-61-30-61-35-50-54-56 10-200 280 0 9 93 61 57 55 69 67 111 24 60 18 70 7 80 17 90 10 180 29 60 14 56 2 50-12 80-14 54-21 50-80 126-37 39-60 53-104 69-80 38-60 22-86 21-60 9-164 1-66-9-80-19-81-30-59-27-80-48-78-59-56-60-87-146-32-90-6-70 15-100 30-70 8-150 18-170 13-64 25-71 66-119 62-80 63-60 10-40z"/><path fill="#288dcd" fill-rule="evenodd" d="M510 2l267 0 4 206-59 60-30 44-24 50-16 41-14 65-6 80 4 10 1 40 11 48 14 45 26 51 20 30 50 50 52 30 55 16 38 0 42-10 53-26 50-45 29-39 15-27 30-80 11-59 0-90-11-64-20-60-29-60-35-51-54-55 9-200 267 0 8 96 63 60 51 63 69 111 40 110 13 106 15 74 9 216 21 64 7 40-1 46-10 74-11 46-21 50-76 120-95 89-54 40-51 28-129 55-80 20-60 9-160 0-60-8-80-19-80-30-60-29-76-46-74-58-53-57-81-144-27-76-7-64 11-76 19-64 6-180 19-170 12-60 13-40 36-80 43-76 62-80 67-64 9-46z"/><path fill="#2890cf" fill-rule="evenodd" d="M523 2l253 0 5 206-59 60-30 44-25 50-15 40-15 66-5 80 15 100 15 45 26 49 20 30 54 55 46 25 55 16 39 0 45-10 51-26 50-44 29-40 31-60 15-46 10-64 0-90-10-60-20-61-30-59-35-51-54-55 10-200 253 0 8 100 65 60 57 70 68 116 36 104 11 96 19 94 6 90-2 146 13 80-4 70-10 54-15 46-23 44-42 70-32 40-60 56-58 44-46 29-70 34-110 37-70 14-66 5-140-5-80-16-60-19-70-29-53-30-67-43-70-57-42-50-78-147-19-63-6-54 18-100-2-186 27-224 31-100 50-100 77-105 73-71 9-50z"/><path fill="#2795d2" fill-rule="evenodd" d="M527 2l249 0 5 206-59 60-30 44-25 50-15 40-15 66-6 80 16 100 15 44 25 50 21 31 54 54 46 25 55 16 39 0 45-10 51-26 54-49 26-35 30-60 15-46 10-64 1-90-11-60-20-60-30-60-35-51-54-55 10-200 249 0 7 100 65 60 57 71 71 119 34 100 12 96 19 94 6 96-4 150 8 74-3 66-9 50-14 44-25 50-39 66-32 40-58 55-59 45-117 61-104 36-70 14-66 5-140-5-79-17-55-17-66-26-50-27-70-45-75-59-42-50-74-146-19-60-6-54 15-90-6-140 3-80 26-200 31-100 50-100 74-100 76-76 9-50z"/><path fill="#269cd7" fill-rule="evenodd" d="M548 2l228 0 4 206-59 60-29 44-25 50-15 40-15 66-6 79 16 101 15 44 25 50 21 31 54 54 46 26 54 15 40 1 46-11 50-25 54-50 26-35 30-60 15-46 11-64 0-90-11-60-20-60-29-60-36-52-53-54 9-200 228 0 7 106 69 65 60 73 68 116 33 100 11 86 19 80 9 100-4 100-20 134-3 76-9 39-18 51-34 64-23 36-29 34-50 47-56 42-114 61-56 20-64 16-106 12-130-6-74-16-56-19-64-27-50-29-61-41-66-54-39-50-62-136-19-74-1-60-19-190 5-90 27-186 30-100 52-100 76-100 75-70 9-54z"/><path fill="#25a3dc" fill-rule="evenodd" d="M569 2l206 0 5 206-59 60-30 44-25 50-15 40-15 66-5 80 15 100 15 44 26 50 21 32 53 54 47 25 54 15 40 1 46-11 50-25 54-49 26-36 31-60 15-46 10-64 0-90-10-60-20-60-30-60-36-53-53-53 10-200 206 0 3 90 6 26 70 64 62 76 53 84 25 56 19 60 12 90 19 74 13 126-3 74-9 56-52 200-51 110-64 74-86 69-116 57-50 16-74 16-130 5-60-6-60-12-97-35-49-23-60-39-92-78-32-47-48-117-31-101-26-114-6-55 2-100 32-210 23-80 57-116 77-100 80-74z"/><path fill="#24aae1" fill-rule="evenodd" d="M590 2l185 0 4 206-59 60-30 44-24 50-15 40-15 66-6 80 16 100 15 44 25 50 22 32 50 50 40 25 64 20 40 0 46-10 50-25 54-50 27-36 30-60 15-46 11-64 0-90-11-60-20-60-29-60-37-53-52-53-1-50 5-14 5-136 185 0 2 90 7 30 76 70 61 76 53 84 24 56 17 54 11 80 21 76 15 104-2 106-18 90-61 150-44 88-29 42-47 50-56 44-72 42-60 26-116 27-134 2-50-7-66-16-104-44-90-62-72-68-18-30-23-60-73-154-26-106-5-94 9-86 42-220 45-104 45-70 56-70 81-76z"/><path fill="#23b1e6" fill-rule="evenodd" d="M610 2l164 0 0 80 5 16-1 110-58 60-30 44-25 50-15 40-15 66-5 80 15 100 16 44 25 50 24 36 68 61 30 15 60 16 40-1 64-20 48-31 49-56 25-40 31-80 10-64 0-90-10-60-20-60-30-60-37-54-51-52-1-50 5-14 5-136 164 0 0 90 10 40 78 68 64 78 53 90 30 74 17 100 26 83 14 113-3 104-10 56-20 54-38 80-64 100-59 72-46 41-37 27-63 35-54 22-106 24-124 1-106-21-94-41-86-59-69-65-46-80-51-76-34-74-23-100-2-96 11-94 24-96 6-54 14-56 44-100 46-74 56-66 82-70z"/><path fill="#26b6e7" fill-rule="evenodd" d="M631 2l143 0 0 80 5 16-1 110-59 60-30 44-25 50-14 40-15 66-6 80 16 100 15 44 25 50 25 36 50 50 18 12 30 15 60 15 40 0 64-20 48-32 50-56 25-40 30-80 11-64 0-90-11-60-19-60-30-60-38-55-51-51-1-50 5-14 5-136 143 0-1 86 10 50 84 71 63 73 51 86 31 80 16 94 31 90 13 106 1 70-6 54-28 96-50 94-47 60-35 36-110 91-64 36-60 24-96 20-114 0-96-20-90-39-80-53-84-76-84-113-42-90-20-100 0-90 10-86 30-104 5-50 15-56 43-100 41-64 56-66 90-74z"/><path fill="#2eb7e4" fill-rule="evenodd" d="M650 2l123 0 5 204-59 62-30 44-25 50-15 40-15 66-5 80 5 14 0 40 11 46 15 44 25 50 24 36 50 50 19 12 30 15 60 16 40-1 64-20 49-32 49-56 25-40 30-80 11-64 0-90-10-60-20-60-30-60-38-55-50-52 9-199 123 0-2 86 11 60 87 70 66 74 50 80 28 76 14 94 32 80 17 96 1 90-5 50-25 90-49 94-47 63-30 32-46 38-60 40-114 50-96 21-130 0-84-17-96-36-84-49-68-56-82-112-42-88-20-106 2-120 11-60 31-94 6-50 14-60 40-90 42-65 56-61 50-44 43-30 5-26z"/><path fill="#36b8e1" fill-rule="evenodd" d="M664 2l109 0 5 200-60 66-30 44-35 76-19 80-1 40-4 10 5 84 25 90 25 50 24 36 51 50 19 13 30 14 60 16 40-1 64-20 49-32 50-56 25-40 30-80 11-64 0-90-11-60-19-60-30-60-39-56-50-54 9-196 109 0-2 86 8 64 90 77 64 69 51 80 29 74 14 96 33 80 18 94-5 136-26 90-46 90-46 60-30 32-45 38-55 36-66 32-54 20-96 18-114 0-96-18-90-35-80-48-65-55-80-110-40-90-17-90-2-106 12-70 32-90 8-64 14-56 41-90 41-60 55-60 97-79 5-31z"/><path fill="#3eb9de" fill-rule="evenodd" d="M673 2l99 0 5 200-57 60-32 50-35 76-20 80 0 40-5 10 5 84 26 90 25 50 24 35 54 54 46 25 54 15 46 0 64-20 50-33 49-56 25-40 30-80 11-64 0-90-10-60-20-60-30-60-37-56-52-54 10-196 99 0-3 80 7 76 71 61 81 89 50 74 30 76 13 89 40 105 14 70 0 70-8 66-24 84-45 90-45 60-30 30-41 36-59 39-60 29-56 19-94 19-110-1-96-19-90-36-74-45-66-57-76-108-37-86-19-110 0-80 14-70 25-60 10-44 6-50 14-56 41-84 39-56 83-90 67-54 4-36z"/><path fill="#46bbdb" fill-rule="evenodd" d="M683 2l87 0 5 200-56 60-32 50-25 50-14 40-15 66-5 84 5 10 5 66 20 64 45 80 55 55 50 29 54 15 46 0 64-20 50-33 50-56 25-40 30-80 10-64 1-90-11-60-19-60-33-66-34-50-51-54 10-196 87 0-3 80 7 80 33 26 59 56 103 138 32 76 15 94 45 119 9 41 3 40 0 46-7 44-25 90-40 86-56 74-61 56-73 47-100 40-90 17-110 0-90-18-90-36-75-46-62-54-74-106-36-84-21-100 1-80 10-56 32-80 15-90 15-54 45-90 80-105 54-55 45-36 6-40z"/><path fill="#4ebcd8" fill-rule="evenodd" d="M693 2l76 0 0 80 5 20-2 105-54 55-32 50-35 76-19 80-5 80 11 80 20 64 25 50 24 36 51 50 50 29 54 15 40 0 30-5 40-15 26-15 54-49 45-66 15-34 15-46 11-60 0-94-5-36-24-84-29-60-38-56-51-54 10-196 76 0-3 80 6 80 94 86 50 64 50 80 30 70 15 90 53 146 8 84-8 70-35 100-35 67-52 69-62 55-70 44-100 39-86 16-110-2-84-18-90-37-86-55-48-48-71-104-37-96-17-80 3-80 8-34 38-95 15-91 15-52 30-62 64-102 71-78 53-40 8-51z"/><path fill="#56bdd5" fill-rule="evenodd" d="M703 2l65 0 5 200-56 60-33 50-24 50-14 40-15 66-5 74 11 86 20 64 49 86 52 51 50 28 54 15 46 0 24-5 40-15 26-15 51-45 33-44 31-60 15-46 11-60 0-94-5-35-24-85-29-60-37-56-52-54 10-196 65 0-4 76 6 90 43 31 52 49 51 64 17 30 57 120 17 96 58 154 6 76-9 70-32 84-40 76-50 64-61 54-66 41-100 39-84 15-106-2-84-19-86-35-70-44-57-53-71-106-29-60-12-34-14-80 5-76 48-130 16-90 14-50 44-94 30-50 39-50 45-46 56-40 9-54z"/><path fill="#5ebed2" fill-rule="evenodd" d="M714 2l52 0 5 200-56 60-29 46-27 54-24 80-10 80 6 80 10 46 16 44 48 86 53 52 50 28 60 15 64-5 40-15 30-18 48-43 32-43 32-61 15-46 10-54 1-100-5-36-24-84-31-65-34-51-52-54 10-196 53 0-5 76 5 94 51 35 54 50 51 65 36 66 27 80 16 90 63 174 5 66-12 74-33 80-59 90-55 60-60 46-69 35-64 23-80 14-100-2-86-18-84-36-66-40-56-52-77-110-37-84-13-76 3-64 54-146 15-84 18-66 32-80 53-80 64-66 60-40 8-58z"/><path fill="#62becb" fill-rule="evenodd" d="M724 2l39 0 5 200-56 60-28 46-24 50-26 84-9 80 5 80 10 46 21 54 43 76 54 53 50 27 60 16 64-6 41-15 29-17 49-44 47-67 16-37 16-46 10-54 0-106-9-54-19-60-31-66-37-54-47-50 10-196 39 0-4 76 3 100 77 54 35 30 48 60 39 70 24 76 10 90 70 200-1 80-20 70-38 74-51 67-56 54-64 46-80 36-70 18-106 6-64-7-50-12-50-19-76-41-70-56-70-89-34-63-20-60-9-60 2-44 60-166 14-94 20-80 32-70 59-80 52-46 60-40 8-64-3-25z"/><path fill="#61bdc1" fill-rule="evenodd" d="M744 2l15 0 6 200-53 57-30 48-24 51-25 84-5 66-4 10 5 84 11 46 20 54 43 76 55 53 50 28 60 15 64-5 40-15 30-18 50-44 46-65 17-39 15-46 11-54 0-106-9-54-21-66-28-60-36-54-47-50 11-196 15 0-4 70 7 96 4 14 125 92 43 54 39 70 23 74 9 108 68 198-4 70-24 74-32 60-51 66-57 50-64 43-80 35-66 17-100 5-64-7-46-11-54-21-80-44-65-52-66-85-33-60-18-60-8-50 1-30 65-186 6-90 21-84 33-70 54-71 61-49 61-40 15-76-3-24z"/><path fill="#60bbb0" fill-rule="evenodd" d="M750 202l8-3-11 19-36 40-31 50-32 74-20 86-5 80 5 14 1 40 10 46 15 44 25 50 24 36 55 54 20 13 30 15 60 15 40 0 64-20 50-33 35-34 41-60 18-40 15-46 11-54 0-106-9-54-20-66-28-60-73-103 66 27 94 77 25 29 34 60 24 70 17 161 58 175-2 44-15 56-39 80-70 84-36 31-56 37-54 25-56 19-70 13-104-1-76-16-84-35-63-37-56-50-66-90-35-80-9-80 59-181 7-115 11-54 22-55 23-45 41-53 80-63z"/><path fill="#5eb797" fill-rule="evenodd" d="M677 292l-33 90-19 86-4 84 16 96 17 50 26 50 22 32 56 54 44 25 36 12 24 5 46 0 40-10 54-27 58-51 40-60 16-36 17-50 11-54 1-106-10-60-18-60-25-58 0-11 36 14 60 46 32 49 25 76 14 204 35 126 5 60-13 44-19 40-49 71-56 53-70 45-80 33-80 16-94 0-85-18-75-30-85-56-41-44-61-90-19-50-5-30 18-84 25-86 6-164 13-66 22-54 21-38 66-52z"/><path fill="#5cb47e" fill-rule="evenodd" d="M634 368l9 0-21 100-4 84 11 76 22 70 47 80 54 55 50 29 60 16 45 0 25-5 46-16 24-15 56-50 45-64 31-80 12-60 1-106-8-60-11-37 0-19 34 16 50 43 18 43 6 40 8 94-4 136 16 80 4 100-18 40-43 60-41 40-46 33-90 42-74 19-96 3-70-11-80-28-73-44-51-45-50-69-18-36-2-45 3-45 18-100-5-110 6-114 12-55 16-32 50-42z"/><path fill="#5eb367" fill-rule="evenodd" d="M615 438l7 14-7 66 6 84 28 96 26 50 24 34 56 56 47 26 60 16 46 0 70-21 47-31 36-36 45-64 32-86 11-54 2-106-4-14 1-31 24 14 34 31 16 28 8 88 0 74-17 126 1 114-17 76-17 24-32 32-62 44-78 34-76 16-80 1-74-13-70-26-66-38-50-44-19-30-20-96 3-94-16-120-1-121 3-45 6-12 38-42z"/><path fill="#60b251" fill-rule="evenodd" d="M1157 562l1-3 17 28 38 35 3 40-7 66-11 54-25 76-6 44-17 60-28 54-38 46-47 30-49 18-60 12-70 1-46-5-67-20-41-20-33-30-32-40-17-33-62-243-6-60 1-44 4-10 36-30 13-21 4-2 12 67 22 66 50 84 56 56 50 28 60 16 40 0 36-6 40-15 49-32 37-37 45-64 16-36 16-44z"/><path fill="#63b23a" fill-rule="evenodd" d="M577 692l5-3 25 5 35 17 49 71 61 60 50 27 60 16 46 0 30-6 64-29 61-53 32-39 27-46 20-12 46-11 6 9 0 20-10 54-33 86-64 104-29 39-46 36-40 21-50 14-60 2-34-6-50-19-46-29-41-42-83-140-15-40-17-66z"/><path fill="#6db530" fill-rule="evenodd" d="M606 762l6-3 15 9 141 93 64 24 36 6 44-1 70-21 56-30 102-71 23-9 1 9-7 30-25 54-34 51-36 36-38 29-56 26-46 12-50 1-34-3-70-24-50-31-26-21-63-90-21-50z"/><path fill="#7fba32" fill-rule="evenodd" d="M1112 832l0 10-30 46-60 53-60 29-64 11-56-2-34-9-46-20-60-44-46-68 2-5 10 4 60 36 60 25 70 15 50 1 40-7 49-15z"/><path fill="#91c035" fill-rule="evenodd" d="M766 922l86 16 56 1 95-17-52 26-33 7-36 1-30-1-34-7z"/></g></g></g><path fill="#d1d1d1" d="M503.00 782.90 L516.00 782.90 L510.52 805.82 Q509.48 810.10 509.20 811.30 L508.20 811.30 Q507.92 810.10 506.88 805.82 L503.00 782.90 Z"/>
<g clip-path="url(#pc4)"><g filter="url(#bl)"><g transform="translate(596.90 782.40) scale(0.1)"><path fill="#fafcfe" fill-rule="evenodd" d="M2 2l766 0 4 50 6 6 0 30 4 4 0 30 6 6 0 34-6 10-34 26-70 74-30 46-36 70 0 10-10 14 0 10-10 20 0 16-10 20 0 20-4 4 0 20-6 6 0 24-4 6 0 44-6 6 0 50 6 4 554 0 0-70-4-4 0-40-6-6 0-20-4-4 0-20-6-6-4-34-10-20-10-40-10-16 0-10-36-64-40-56-60-60-20-10-10-14 0-66 6-4 0-30 4-6 6-60 914 0 0 1856-1830 0z"/><path fill="#f0f5fc" fill-rule="evenodd" d="M2 2l755 0 20 150-10 16-35 24-34 35-26 30-30 45-40 80-29 90-10 50-6 70-5 11 0 59 16 64 61 72 39 13 44 9 130 5 136-6 44-9 35-12 61-72 14-54 0-84-4-10-1-36-20-90-29-85-25-50-35-55-26-30-44-44-26-16-9-15 0-45 17-110 902 0 0 1856-1830 0z"/><path fill="#e6eff9" fill-rule="evenodd" d="M2 2l754 0 20 150-14 18-37 28-53 58-34 52-36 70-30 90-10 54-10 80 0 60 10 66 11 31 20 33 15 12 44 24 50 15 60 8 80 3 76-2 64-9 50-14 49-27 12-10 19-29 16-50 5-41 1-80-6-50-20-94-30-85-20-40-40-62-63-69-33-22-8-12 0-40 18-116 900 0 0 1856-1830 0z"/><path fill="#dbe9f7" fill-rule="evenodd" d="M2 2l754 0 18 150-12 17-38 29-52 56-34 52-36 70-30 92-11 54-10 80 0 60 17 92 20 48 10 10 60 37 50 18 64 12 70 4 90-6 46-10 60-22 37-23 23-17 14-33 16-54 6-46 0-80-5-50-21-94-30-87-20-40-40-62-62-67-34-23-6-11-1-40 18-116 899 0 0 1856-1830 0z"/><path fill="#d1e2f5" fill-rule="evenodd" d="M2 2l753 0 18 150-11 16-35 24-55 60-34 53-36 69-21 58-21 90-10 80 0 60 17 96 21 51 14 19 49 34 54 26 57 14 80 7 56-3 64-12 70-31 50-33 20-27 16-40 17-91 0-80-5-50-21-94-31-89-60-101-65-70-30-20-6-10-1-40 18-116 898 0 0 1856-1830 0z"/><path fill="#c7dcf2" fill-rule="evenodd" d="M2 2l752 0 18 151-10 14-40 30-50 55-34 51-36 70-23 65-20 84-10 86 0 54 18 96 21 57 20 28 50 38 54 29 70 18 60 6 66-6 61-16 43-21 66-45 24-40 16-41 18-93 0-80-5-50-20-90-33-94-20-40-40-60-60-66-34-24-6-10-2-40 18-116 898 0 0 1856-1830 0z"/><path fill="#bdd6f0" fill-rule="evenodd" d="M2 2l751 0 19 150-10 14-34 25-32 31-28 35-31 45-35 70-24 66-20 84-10 86 0 50 20 104 20 56 30 45 50 39 34 21 70 24 70 8 76-9 56-18 48-28 50-40 20-30 26-63 19-99 0-76-5-50-20-90-34-94-20-41-39-59-65-70-30-20-6-10-1-40 18-116 897 0 0 1856-1830 0z"/><path fill="#b2cfee" fill-rule="evenodd" d="M2 2l750 0 19 150-9 13-40 30-54 61-31 46-35 70-25 66-20 84-10 80 0 60 21 102 20 56 34 57 40 35 63 36 65 20 52 6 76-12 64-24 48-30 32-31 26-35 20-45 19-59 11-66 0-80-5-50-20-90-31-85-24-49-36-57-64-71-33-22-6-10-1-40 17-116 897 0 0 1856-1830 0z"/><path fill="#a9c9eb" fill-rule="evenodd" d="M2 2l750 0 19 150-12 16-35 24-56 63-32 47-37 76-22 60-20 84-10 81 0 59 10 70 21 63 30 63 24 37 50 43 36 20 70 24 54 7 56-7 44-14 55-26 45-35 36-45 26-54 23-70 11-66 0-80-5-49-20-91-31-86-23-48-37-58-66-72-30-20-7-10-1-40 18-116 896 0 0 1856-1830 0z"/><path fill="#a1c3e8" fill-rule="evenodd" d="M2 2l749 0 19 150-12 16-34 24-56 62-32 48-38 76-22 60-20 84-10 80 0 60 11 70 26 80 35 66 30 39 30 28 54 30 50 18 60 9 60-9 46-15 50-26 45-39 35-49 29-62 21-64 11-66 0-80-5-50-20-90-32-88-23-46-37-59-66-71-29-20-7-10-1-40 17-116 896 0 0 1856-1830 0z"/><path fill="#9abee5" fill-rule="evenodd" d="M2 2l749 0 19 150-12 15-35 25-55 61-33 49-37 76-22 60-20 85-10 79 0 60 10 70 26 81 36 67 30 39 30 32 50 31 54 21 60 10 60-10 50-17 41-24 29-24 56-72 19-38 26-70 16-86 0-80-5-50-20-90-32-89-60-105-65-70-29-21-8-9-1-40 18-116 895 0 0 1856-1830 0z"/><path fill="#92b8e2" fill-rule="evenodd" d="M2 2l748 0 19 150-11 15-36 25-55 60-32 50-38 76-22 60-20 84-10 80 0 60 11 70 26 83 36 67 30 39 28 31 66 45 36 13 64 12 66-12 45-18 45-30 44-45 36-49 30-63 21-67 11-66 0-80-5-50-20-90-32-90-60-104-65-71-37-29-1-40 18-116 894 0 0 1856-1830 0z"/><path fill="#8bb3de" fill-rule="evenodd" d="M2 2l748 0 19 150-11 14-36 26-55 60-30 46-41 80-21 60-20 84-10 80 0 60 10 70 27 84 36 67 29 39 26 30 65 46 40 18 64 13 60-11 48-20 51-36 21-20 56-73 20-39 26-72 16-86 0-80-5-50-20-90-31-90-61-104-65-71-37-29-1-40 18-116 894 0 0 1856-1830 0z"/><path fill="#83addb" fill-rule="evenodd" d="M2 2l747 0 19 150-10 14-36 25-56 61-30 46-40 80-22 60-20 84-10 80 0 60 11 70 27 86 34 64 26 36 30 35 70 49 64 26 36 5 69-15 43-20 48-35 42-45 35-50 29-60 22-70 11-66 0-80-5-50-20-90-32-90-60-104-66-72-36-28-1-40 18-116 893 0 0 1856-1830 0z"/><path fill="#7ca8d8" fill-rule="evenodd" d="M2 2l747 0 19 150-46 38-56 62-30 46-41 80-30 90-11 54-10 80 0 60 10 70 28 86 34 64 26 38 30 34 67 48 63 26 40 6 58-12 56-24 46-34 43-46 35-50 29-60 22-70 10-66 0-80-5-50-21-94-30-86-26-50-35-54-66-73-36-27-1-40 18-116 893 0 0 1856-1830 0z"/><path fill="#74a2d5" fill-rule="evenodd" d="M2 2l746 0 19 150-45 38-57 62-30 46-40 80-30 90-11 54-10 80 0 60 10 70 27 86 34 64 27 39 30 34 66 48 59 25 45 8 66-15 50-23 44-33 44-47 34-50 29-60 22-70 10-66 1-80-6-50-21-94-30-86-25-50-35-54-67-73-35-27-1-40 18-116 892 0 0 1856-1830 0z"/><path fill="#6d9cd2" fill-rule="evenodd" d="M2 2l746 0 19 150-45 37-58 63-30 46-40 80-30 90-11 54-10 80 0 60 10 70 27 86 37 70 25 34 30 35 66 47 54 24 50 9 66-14 52-25 42-32 45-48 34-50 29-60 22-70 10-66 0-80-5-50-21-94-30-86-25-50-35-54-68-74-35-26-1-40 18-116 892 0 0 1856-1830 0z"/><path fill="#6597ce" fill-rule="evenodd" d="M2 2l745 0 19 150-44 36-58 64-30 46-40 80-30 90-11 54-10 80 0 60 10 70 27 86 36 70 26 34 30 36 66 47 54 24 50 9 66-14 50-24 44-32 26-26 51-70 21-40 26-70 16-90 1-80-6-50-21-94-30-86-25-50-35-54-68-75-34-25-1-40 18-116 891 0 0 1856-1830 0z"/><path fill="#5e91cb" fill-rule="evenodd" d="M2 2l745 0 18 150-43 36-59 64-30 46-40 80-30 90-11 54-10 80 0 60 10 70 27 86 36 70 26 34 31 37 60 44 46 22 64 14 66-14 50-24 44-32 27-27 51-70 21-40 25-70 17-90 0-80-5-50-21-94-30-86-25-50-35-54-69-75-33-25-1-41 18-115 890 0 0 1856-1830 0z"/><path fill="#568cc8" fill-rule="evenodd" d="M2 2l744 0 19 150-43 35-59 65-30 46-40 80-22 60-20 84-10 80 0 60 10 70 27 86 36 70 26 34 32 38 60 44 40 20 70 16 56-11 54-25 50-34 28-28 51-70 20-40 28-74 15-86 0-79-5-51-20-90-32-90-25-50-35-54-69-76-33-24-1-40 18-116 890 0 0 1856-1830 0z"/><path fill="#4f86c5" fill-rule="evenodd" d="M2 2l743 0 19 150-42 34-60 66-30 46-40 80-22 60-20 84-10 80 0 60 11 70 27 86 35 70 26 34 33 39 60 44 40 20 70 16 70-16 50-25 40-29 29-29 51-70 20-40 27-74 16-86 0-84-5-16 0-30-20-90-32-90-25-50-35-54-70-77-32-23-1-40 18-116 889 0 0 1856-1830 0z"/><path fill="#4781c1" fill-rule="evenodd" d="M2 2l742 0 20 150-42 33-61 67-30 46-40 80-30 90-11 54-10 80 0 60 10 70 27 85 36 71 25 34 34 40 60 44 70 30 40 6 70-16 50-25 40-29 30-30 51-70 20-40 26-70 16-90 0-84-4-16-1-30-21-94-30-86-25-50-35-54-71-78-32-22 0-40 18-116 888 0 0 1856-1830 0z"/><path fill="#407bbe" fill-rule="evenodd" d="M2 2l742 0 19 150-41 32-62 68-30 46-40 80-30 90-11 54-10 80 0 60 11 76 25 80 36 70 26 34 31 37 64 48 46 22 64 15 66-15 50-24 50-36 25-27 51-70 20-40 26-70 16-90 0-84-5-16-1-34-20-90-30-86-25-50-35-54-72-79-31-21-1-40 19-116 772 0 115 197 0 1659-1830 0z"/><path fill="#3875bb" fill-rule="evenodd" d="M131 2l612 0 19 149-40 32-63 69-30 46-40 80-30 90-10 50-11 84 0 60 11 76 25 80 36 70 25 34 33 39 64 48 70 30 40 6 70-16 50-25 46-33 27-29 50-70 21-40 25-70 16-90 0-84-5-16-1-34-20-90-30-86-25-50-35-54-73-80-30-22-1-38 19-116 611 0 82 126 78 134 41 80 41 96 33 118 0 1302-1830 0 0-1655 44-75z"/><path fill="#3170b8" fill-rule="evenodd" d="M287 8l3-6 452 0 20 146-6 10-34 23-61 67-33 50-40 80-30 90-10 50-11 84 1 66 10 70 25 80 35 70 25 34 35 40 64 49 70 30 46 6 64-16 50-25 46-34 29-30 50-70 20-40 25-70 15-84 1-90-5-16-1-34-20-90-30-86-25-50-38-60-71-76-26-16-4-8 0-34 19-116 450 0 117 170 102 196 42 110 18 70 16 94 86 56 54 46 0 1114-1830 0 0-1285 33-115 73-170 60-109z"/><path fill="#2d6fb8" fill-rule="evenodd" d="M391 2l350 0 20 146-7 10-32 21-63 69-31 46-40 81-30 90-11 53-6 70-4 10 0 70 10 70 25 82 35 69 28 39 33 37 63 48 70 29 42 6 41-6 30-10 50-24 44-33 27-27 53-73 20-40 24-70 16-87 1-90-5-16-1-34-21-93-30-85-24-51-37-57-73-78-29-22 0-34 19-116 351 0 1 20 63 70 65 102 56 134 41 160 13 153 84 38 70 42 56 43 84 78 0 1016-1830 0 0-1134 71-44 75-38 5-94 17-106 20-80 29-84 29-63 51-87 43-59 44-47z"/><path fill="#2c73bb" fill-rule="evenodd" d="M442 2l298 0 0 26 20 120-38 30-65 70-30 44-40 80-21 60-20 86-6 70-4 10 0 70 10 70 26 84 35 70 25 36 35 40 61 45 40 20 60 16 30 0 60-17 50-24 40-30 30-30 50-70 20-40 26-76 15-84 0-90-4-16-1-34-20-90-31-90-25-50-35-56-75-80-28-20 0-34 19-116 299 0 2 40 78 68 40 45 40 57 27 50 34 76 19 56 22 94 10 70 2 84 10 38 72 38 44 40 78 60 57 60 49 69 0 911-1830 0 0-1076 36-18 60-48 54-31 11-43 2-74 11-80 25-106 24-64 43-89 60-83 30-34 82-74z"/><path fill="#2b78be" fill-rule="evenodd" d="M454 2l285 0 0 26 20 120-38 30-65 70-30 44-40 80-21 60-20 86-6 70-4 10 0 70 10 70 27 84 35 70 25 35 35 41 61 45 70 30 44 7 46-7 80-35 40-30 30-30 50-70 20-40 27-76 15-84 0-90-5-50-20-90-31-90-25-50-35-56-75-80-28-20 0-34 15-106 5-10 285 0 2 44 40 43 110 139 30 48 38 76 39 126 13 80 3 84 21 70 66 46 44 50 76 70 51 70 63 112 0 798-1830 0 0-1023 43-27 51-50 56-38 21-72 4-80 12-80 26-96 23-57 54-100 120-150 39-43z"/><path fill="#2b7cc1" fill-rule="evenodd" d="M466 2l272 0 0 26 19 120-37 30-65 70-30 44-40 80-21 60-20 86-10 80 0 70 10 70 27 84 35 70 25 36 35 40 62 46 74 32 40 5 40-5 79-34 47-33 31-31 50-70 20-40 27-76 15-84 0-96-5-14 0-30-20-90-31-90-25-50-35-56-75-80-27-20-1-30 16-110 4-10 272 0 0 46 44 46 59 78 88 140 35 70 34 106 12 70 4 84 28 95 68 61 36 55 53 55 44 60 36 60 17 40 12 50 6 64 8 9 24 11 0 656-1830 0 0-959 50-45 20-33 25-29 61-46 26-98 4-76 12-74 35-116 46-90 89-134 52-68 41-42z"/><path fill="#2a80c4" fill-rule="evenodd" d="M478 2l259 0 0 25 5 11 0 24 15 86-38 30-65 70-30 44-42 85-19 55-20 86-6 70-4 10 0 70 4 10 6 60 25 80 37 74 25 36 35 40 63 47 74 31 40 6 40-6 80-34 46-32 32-32 50-70 20-40 27-76 15-84 0-96-4-10-1-34-20-90-29-86-27-54-35-56-75-80-28-20 0-34 10-46 5-60 5-10 259 0 0 50 48 50 60 80 58 96 68 134 22 66 13 60 9 110 37 120 35 31 29 33 31 64 45 52 39 54 31 66 14 54 6 66-1 40-9 60 45 48 40 21 0 501-1830 0 0-902 60-56 38-72 62-62 33-118 4-76 13-70 36-107 67-133 65-100 52-66 42-44z"/><path fill="#2985c7" fill-rule="evenodd" d="M490 2l247 0 0 26 20 120-39 30-64 70-30 44-42 83-20 56-19 85-6 72-5 10 0 70 5 10 5 60 26 80 37 74 25 36 34 40 64 47 44 22 66 15 44-5 81-35 45-32 32-32 50-70 22-45 26-70 15-85 0-96-5-10 0-36-20-90-30-86-27-52-35-56-74-80-29-20 0-34 10-46 5-60 5-10 247 0 1 56 76 84 66 96 60 114 29 66 28 80 13 64 6 86 43 143 54 61 35 80 56 76 31 64 14 60 6 70-25 166 89 94 26 12 24 5 0 379-1830 0 0-837 76-88 34-82 54-63 40-140 5-76 14-70 39-110 70-140 68-100 86-100z"/><path fill="#2989ca" fill-rule="evenodd" d="M502 2l235 0 0 26 19 120-38 29-65 71-30 44-41 81-20 56-20 85-5 74-5 10 0 70 5 10 5 62 26 80 36 72 25 36 35 40 64 48 43 22 30 10 37 5 46-5 81-36 43-31 33-33 50-70 21-43 26-70 15-87 0-96-5-10 0-38-20-90-30-86-26-50-35-56-75-80-28-20 0-34 9-45 6-61 4-10 235 0-2 56 52 54 59 76 44 70 57 110 48 124 16 70 7 86 24 70 25 95 51 69 31 86 33 50 25 54 15 56 7 54-11 120-16 70-46 106 77 110 98 93 26 16 24 6 0 155-1830 0 0-341 36-21 31-34-67-180 0-152 52-112 34-49 32-87 49-70 48-164 5-70 14-70 42-120 57-116 66-100 52-64 47-50z"/><path fill="#288dcd" fill-rule="evenodd" d="M514 2l222 0 0 26 20 120-38 29-66 71-30 44-40 80-20 56-20 84-6 76-4 10 0 70 4 10 6 64 26 79 45 87 45 54 40 35 61 35 41 16 38 5 47-5 81-36 46-34 50-56 30-46 30-65 26-93 5-46 0-90-4-10-1-34-20-96-20-60-35-74-35-56-76-80-28-19 0-35 20-116 222 0-2 60 82 90 73 106 57 110 43 110 20 80 9 90 27 74 27 111 32 45 20 40 23 84 32 66 19 70 5 50-5 90-6 44-11 40-25 60-46 80-73 96 59 110 67 94 12 30 4 26-1617 0 0-32 26-5 20-10 44-41 51-62 64-110-4-10-84-110-30-56-20-54-37-136-5-34 4-30 69-160 8-46 14-40 23-44 28-40 17-70 37-120 6-70 15-70 38-110 59-120 66-100 52-66 49-50z"/><path fill="#2890cf" fill-rule="evenodd" d="M526 2l210 0 0 26 19 120-37 28-66 72-30 44-40 80-20 56-20 84-6 76-5 9 1 71 15 94 20 60 36 70 65 80 60 45 40 20 60 16 59-5 80-36 41-30 34-34 50-71 31-65 25-90 1-34 4-10 1-96-5-10 0-34-21-96-20-60-35-74-35-56-76-81-27-19 0-34 19-116 210 0-2 66 56 55 61 79 59 96 60 124 23 66 15 59 11 101 42 120 19 87 35 57 21 60 8 70 21 56 12 54-1 136-10 50-20 54-45 86-30 44-104 110-157 110 23 76 4 40-843 0 3-40 22-76-117-80-80-70-83-100-30-44-20-40-31-110-17-76-3-34 11-50 41-93 1-47 7-36 20-50 33-54 18-86 41-124 6-70 15-70 39-110 57-116 67-100 52-64 50-50z"/><path fill="#2795d2" fill-rule="evenodd" d="M530 2l206 0 0 26 19 120-37 28-66 72-30 45-35 69-35 100-21 136 0 70 5 10 1 34 10 50 20 60 35 70 26 36 39 44 61 46 70 30 60 5 59-15 51-26 40-30 34-34 51-70 30-66 20-64 11-70 0-96-5-10-1-40-20-90-30-84-25-50-35-56-76-81-27-19 0-34 19-116 206 0-3 65 85 92 70 101 60 112 45 115 18 75 10 90 42 120 19 90 35 60 19 56 6 74 20 60 9 50 0 106-8 54-27 76-52 94-30 41-80 85-46 35-115 75-55 25-94 36-86 22-64 11-156 2-74-8-70-16-66-20-80-31-54-28-80-50-100-84-59-69-46-66-22-40-17-44-33-150 0-56 12-40 30-64 2-60 8-40 17-40 31-56 19-90 41-120 8-80 17-74 36-100 61-120 71-106 45-54 50-50z"/><path fill="#269cd7" fill-rule="evenodd" d="M550 2l185 0 1 30 19 116-37 27-67 73-30 44-35 70-35 100-20 136 0 70 4 10 2 34 10 50 20 60 35 70 26 36 39 44 61 46 70 30 60 6 60-16 50-25 40-31 34-34 51-70 30-66 20-64 11-70 0-96-4-10-2-40-19-90-30-84-25-50-35-56-77-82-27-18 0-34 20-116 186 0-2 76 63 62 50 63 43 65 59 110 46 114 17 70 8 86 46 120 27 129 27 55 12 46 3 50-7 70 11 124-9 66-22 64-42 86-34 44-69 78-46 35-110 73-54 26-86 31-80 19-60 9-154 3-66-8-74-16-120-42-56-27-70-45-95-80-35-40-51-70-29-50-16-40-14-60-15-116 2-34 10-40 2-110 12-46 27-54 17-100 52-146 7-74 16-70 38-106 61-120 69-100 45-54 55-56z"/><path fill="#25a3dc" fill-rule="evenodd" d="M569 2l166 0 0 30 19 116-36 27-68 73-30 44-34 70-35 100-21 136 1 70 4 10 1 34 10 50 20 60 36 70 26 37 38 43 62 46 70 30 60 6 60-16 50-25 41-31 33-33 52-71 30-66 20-64 10-70 1-96-5-14-1-36-20-90-30-84-25-50-34-56-78-82-26-18-1-30 20-120 166 0-4 80 67 66 93 126 61 111 46 117 15 66 8 80 54 134 17 70 8 70 19 46 10 44-1 76-22 90 1 70-12 60-22 60-31 64-38 50-58 65-141 101-53 25-86 31-130 25-144 1-60-7-70-15-116-42-50-25-65-43-86-76-33-38-42-62-29-50-16-40-12-60-7-90-19-64-3-46 7-80 24-70 18-114 58-156 8-74 13-60 39-110 57-110 64-96 53-64 57-56z"/><path fill="#24aae1" fill-rule="evenodd" d="M587 8l1-6 146 0 1 30 18 110-4 10-30 20-47 47-52 73-50 106-20 64-15 86-5 120 16 94 20 60 35 70 65 80 62 47 70 30 60 5 60-15 50-25 41-32 33-33 52-71 20-40 25-70 16-96 0-90-15-100-30-100-50-100-44-60-55-54-24-16-1-30 20-120 147 0-6 86 71 65 55 69 59 95 57 115 25 66 14 54 12 100 48 106 18 54 12 60 9 86 14 54 2 76-24 100-26 60-16 64-28 70-25 40-51 66-55 50-110 75-76 33-54 18-66 14-60 8-94 1-60-5-126-29-74-30-50-27-63-44-41-34-48-50-38-56-45-84-18-76-48-120-5-34 0-46 19-94 13-116 23-79 48-111 9-80 26-94 25-66 37-75 79-125 51-63 66-61z"/><path fill="#23b1e6" fill-rule="evenodd" d="M606 2l128 0 0 30 19 110-5 10-30 20-46 46-53 74-49 106-20 64-15 80-1 40-4 16 0 70 15 94 20 60 36 70 61 78 66 49 70 30 60 6 60-16 50-25 42-32 32-32 52-72 21-40 25-70 15-96 0-90-15-100-30-100-49-100-44-60-55-54-24-16-2-30 20-120 128 0-6 90 77 70 53 66 44 64 49 100 47 116 14 60 10 84 59 126 14 44 16 90 11 166-21 104-31 70-85 140-40 56-29 30-124 91-74 34-61 19-59 13-56 6-140-4-114-27-70-29-45-24-87-65-68-74-107-176-44-114-5-60 12-76 1-60 11-84 17-60 59-130 10-86 25-90 44-104 47-90 50-73 44-53 76-70z"/><path fill="#26b6e7" fill-rule="evenodd" d="M625 2l108 0 0 30 18 110-3 10-30 20-46 46-53 74-50 106-20 64-15 80 0 40-5 16 0 70 16 94 20 60 35 70 55 70 73 58 70 30 60 5 60-15 50-25 42-33 32-32 53-72 20-40 25-70 16-96 0-90-15-100-30-100-50-100-43-60-56-55-24-17-1-28 20-120 108 0-5 100 56 46 56 58 30 38 52 78 37 76 35 100 18 70 12 90 69 144 16 56 11 84-3 160-20 90-43 86-40 54-32 36-86 81-81 63-39 24-56 24-94 27-90 10-70-1-56-6-100-26-100-49-75-57-79-75-60-65-30-44-25-48-38-108-4-36 8-69-4-71 14-94 13-46 41-80 27-64 11-86 44-150 52-110 61-86 51-58 79-69z"/><path fill="#2eb7e4" fill-rule="evenodd" d="M643 2l89 0 1 30 17 116-32 23-67 71-33 50-40 80-19 56-20 84-5 70-5 16 0 70 10 74 26 80 35 70 52 69 76 59 70 30 60 6 60-16 50-25 43-33 31-31 53-73 20-40 26-70 15-96 0-90-15-100-29-100-50-100-43-60-57-56-24-18 0-26 20-120 89 0-7 106 59 44 37 36 52 60 57 84 36 70 35 100 13 66 9 90 80 164 12 40 9 60 2 50-17 166-11 44-16 40-45 76-59 70-50 44-45 33-110 59-70 26-66 15-44 7-66 1-64-1-46-7-64-16-70-25-100-53-90-70-82-93-43-80-29-96-8-160 13-94 9-31 55-109 25-59 17-137 29-94 55-110 62-86 76-80 58-44z"/><path fill="#36b8e1" fill-rule="evenodd" d="M662 2l68 0 1 30 18 116-31 21-68 73-33 50-39 80-30 90-20 136 0 70 5 14 1 30 10 50 20 60 35 70 53 69 76 60 70 29 60 6 60-16 50-24 43-34 31-31 54-73 20-40 25-70 16-96 0-94-15-96-40-124-42-80-39-56-59-58-22-16 0-26 20-120 68 0-7 110 71 53 60 60 63 83 51 90 43 114 11 56 5 80 7 37 80 162 11 45 6 40 1 56-28 170-28 74-48 76-34 39-54 51-96 63-44 24-60 23-90 23-56 7-74 1-90-10-60-15-66-23-99-53-85-68-76-88-22-34-20-46-28-94-15-140 8-80 10-40 77-159 8-41 5-76 11-54 19-60 50-110 78-110 75-76 66-50z"/><path fill="#3eb9de" fill-rule="evenodd" d="M682 2l46 0 1 30 4 10 13 106-29 20-69 74-33 50-34 70-33 100-20 136 0 74 15 90 21 60 35 70 29 40 34 40 36 29 70 40 60 15 60-5 80-35 69-58 59-80 30-66 21-64 10-70 0-100-5-10 0-36-10-50-38-124-39-76-43-60-59-60-21-14 0-26 20-120 47 0-11 100 3 20 81 53 60 56 60 77 56 96 42 114 12 54 5 80 14 70 74 146 10 40 4 54-3 50-33 150-28 70-48 76-85 84-100 65-94 40-90 22-56 6-80 0-104-16-106-37-94-55-80-68-73-91-34-76-35-124-8-101 10-74 80-164 11-71 4-65 10-55 32-96 57-104 62-86 74-70 76-50 4-30z"/><path fill="#46bbdb" fill-rule="evenodd" d="M706 2l18 0 0 30 16 110-71 70-24 30-31 50-34 70-34 100-19 136 1 74 15 90 20 60 35 70 25 36 29 35 41 35 75 43 60 16 60-6 80-35 44-33 30-30 55-75 30-66 20-64 11-70 0-96-15-100-38-124-41-80-42-59-76-77 20-140 19 0-12 96 2 34 123 75 34 31 62 74 55 100 42 106 12 54 6 86 17 84 72 146 7 30 3 70-15 90-46 134-59 95-80 78-100 64-96 39-90 20-124 3-100-16-104-37-92-55-74-65-70-90-28-60-36-100-9-36-6-94 6-56 75-154 17-96 5-75 14-59 28-80 58-110 63-80 50-46 117-70z"/><path fill="#4ebcd8" fill-rule="evenodd" d="M691 172l1 6-50 62-29 48-39 84-29 90-19 136 0 70 6 44 10 50 21 60 35 70 54 70 46 40 70 40 54 15 36 0 30-5 80-35 44-34 52-55 33-50 20-40 26-71 15-85 1-99-5-15 0-36-19-90-31-90-37-74-39-60-31-36-3-4 4-3 81 43 63 47 44 53 36 60 35 75 24 64 12 51 7 84 22 120 72 146 2 80-5 44-12 46-17 50-33 74-49 80-78 79-93 61-91 40-80 20-56 6-74 1-100-16-100-34-89-51-72-60-61-76-24-40-42-94-24-70-6-70 3-66 74-160 18-110 6-74 13-56 33-90 51-96 60-74 64-48z"/><path fill="#56bdd5" fill-rule="evenodd" d="M629 232l9-3 2 3-30 56-36 80-30 94-19 136 1 70 5 44 11 50 20 60 48 90 41 50 41 37 76 43 54 15 40 0 56-15 50-25 44-33 52-56 34-50 30-66 21-64 10-66 1-100-5-14 0-36-19-90-20-64-32-76-39-70 3-3 83 49 26 20 21 23 54 91 38 100 15 60 6 80 25 140 70 150-2 80-14 60-18 56-27 54-53 85-44 51-50 44-76 48-40 20-64 24-100 20-116-1-100-20-96-41-88-59-45-41-37-44-67-110-37-90-10-60 0-80 68-146 16-80 14-134 13-56 30-84 37-76 42-56 55-44z"/><path fill="#5ebed2" fill-rule="evenodd" d="M597 278l11-4 1 4-47 114-19 70-14 80-4 126 16 94 20 60 35 70 54 70 42 38 35 22 71 31 54 5 36-5 30-10 54-28 40-30 53-57 34-50 30-66 26-90 5-44 0-100-4-10 0-36-19-90-27-90-28-60-4-19 44 23 50 36 50 78 23 52 30 106 7 84 28 160 66 146-1 50-7 44-20 70-25 56-40 60-43 54-47 50-41 30-73 46-67 27-104 24-110 2-100-18-92-35-84-53-67-63-77-100-49-104-16-60-1-80 64-140 20-110 12-126 22-90 38-91 40-63z"/><path fill="#62becb" fill-rule="evenodd" d="M586 312l2 7-36 103-24 120-4 126 16 94 20 60 36 70 53 70 43 39 34 21 72 31 54 6 36-6 30-10 54-27 40-30 34-34 50-70 24-44 25-70 10-46 6-44 1-96-5-14 0-36-18-90-37-114-1-16 41 21 40 29 34 50 21 45 19 55 12 56 7 90 28 174 62 146-5 64-19 70-21 50-20 36-43 60-94 90-71 46-45 23-55 21-54 13-96 8-94-8-56-13-54-21-96-55-74-65-73-85-42-80-27-80-5-70 22-60 40-84 22-130 10-126 13-60 29-84 41-71 40-30z"/><path fill="#61bdc1" fill-rule="evenodd" d="M565 348l4 0 1 4-30 110-17 136 0 74 5 10 1 30 10 50 21 60 38 76 64 79 66 47 40 20 54 15 36 0 30-5 30-10 54-28 40-30 35-34 50-70 23-44 26-70 10-46 6-44 0-96-13-100-31-120 0-16 34 18 40 28 38 66 22 60 11 50 12 150 21 134 56 140-1 46-18 70-21 50-60 91-84 81-116 70-80 29-94 16-100-3-100-24-80-36-60-38-56-45-65-71-27-40-22-46-30-80-7-60 61-150 21-144 7-120 12-60 30-86 26-45 30-24z"/><path fill="#60bbb0" fill-rule="evenodd" d="M542 382l10-4 5 4-18 76-13 84-4 126 11 74 26 80 38 76 65 79 66 48 40 20 54 15 40 0 26-5 30-10 54-28 40-30 35-35 51-70 23-44 26-70 15-86 1-100-4-50-27-130 1-24 65 39 14 21 32 74 14 56 9 150 22 154 42 110 10 36 1 14-27 96-24 50-41 60-82 81-96 60-90 35-84 17-110 0-86-17-84-33-88-53-62-56-40-46-33-48-41-96-10-40-2-26 57-144 21-164 5-120 13-60 29-80 15-25z"/><path fill="#5eb797" fill-rule="evenodd" d="M524 452l8-2 1 22-14 120 1 80 11 70 27 86 36 70 66 80 62 46 46 22 54 15 40 0 26-5 84-37 43-31 55-60 52-86 26-70 12-50 5-44 1-100-14-127 36 18 30 23 14 31 14 55 9 114 3 156 9 80 23 74 16 76-25 70-40 64-33 40-66 59-90 54-84 31-86 15-110-3-90-23-50-20-50-28-80-60-61-69-26-40-21-46-12-34-2-20 10-56 31-90 8-80 7-234 14-70 18-45z"/><path fill="#5cb47e" fill-rule="evenodd" d="M515 522l3-2 2 8 0 50-5 15 2 79 11 70 28 86 36 70 55 70 45 39 70 40 60 16 40 0 60-16 50-25 46-34 34-36 52-70 15-30 37-100 12-74 0-156 14 7 46 43 8 40 7 126-8 170 3 74 17 86 5 64-7 20-39 60-69 70-93 60-80 32-84 16-100-1-80-17-86-35-75-50-39-36-39-43-31-47-11-29 25-220-8-150 4-140 4-34 6-13 34-37z"/><path fill="#5eb367" fill-rule="evenodd" d="M506 612l2-2 11 108 12 50 24 64 34 66 29 39 40 44 64 48 70 30 30 6 36 0 64-16 50-25 46-33 57-63 31-46 21-40 27-70 18-84 6-78 18 58 32 52 1 48-7 84-20 120-3 70 4 60-5 60-11 46-21 24-48 45-86 52-74 27-90 15-86-3-84-21-50-21-40-23-39-25-40-35-28-35-13-50-6-186-16-110-9-100 3-44 29-50z"/><path fill="#60b251" fill-rule="evenodd" d="M501 788l27-5 4 5 54 110 29 40 43 46 60 44 34 18 40 15 36 6 34 0 30-6 30-10 56-28 41-31 56-60 35-50 48-99 50 8 3 21-9 66-12 54-31 96-25 120-29 74-44 60-33 26-60 24-60 14-46 4-64-1-61-11-69-26-40-24-36-46-28-60-34-150-30-84-19-90-5-56 2-8z"/><path fill="#63b23a" fill-rule="evenodd" d="M1181 862l6 6-11 50-27 74-19 40-45 70-27 50-30 42-36 38-44 30-50 17-50 5-50-3-56-18-49-30-31-32-24-34-42-75-29-40-28-54-22-56-16-74 1-5 26 6 40 23 84 91 70 52 70 29 30 6 36 0 64-16 50-24 46-33 37-35 53-62 40-25z"/><path fill="#6db530" fill-rule="evenodd" d="M537 932l35 18 70 48 76 43 44 20 66 15 40-1 54-14 60-27 150-95 16-7 2 6-14 40-24 44-30 46-50 51-60 40-44 20-46 12-50 1-34-2-40-11-46-20-54-37-36-34-44-59-36-71z"/><path fill="#7fba32" fill-rule="evenodd" d="M1091 1008l2 4-25 39-56 54-50 32-40 17-64 13-56-3-34-8-46-19-44-29-36-31-50-65 10 0 97 50 50 20 69 16 44 0 70-15 60-23z"/><path fill="#91c035" fill-rule="evenodd" d="M715 1102l107 21 50 0 96-23 2 2-24 16-38 15-36 8-30 1-30-1-34-8-39-15z"/></g></g></g><path fill="#d1d1d1" d="M675.20 784.40 L687.20 784.40 L682.48 806.68 Q681.52 810.80 681.30 812.00 L680.30 812.00 Q680.08 810.80 679.12 806.68 L675.20 784.40 Z"/>
<g clip-path="url(#pc5)"><g filter="url(#bl)"><g transform="translate(776.90 780.20) scale(0.1)"><path fill="#fafcfe" fill-rule="evenodd" d="M2 2l720 0 0 30 6 6 4 44 10 26 0 54-14 20-46 30-34 36 0 4-40 46-20 30-16 34-10 10 0 10-24 50-10 40-6 6 0 14-10 20 0 20-4 6 0 20-6 4 0 30-4 6-6 90 610 0 0-56-4-4 0-40-6-6-4-50-6-4-10-56-4-4-6-26-10-14 0-10-10-16 0-10-34-64-50-70-50-50-40-26-16-20 0-50 6-4 0-20 10-26 0-20 4-4 6-36 850 0 0 1876-1726 0z"/><path fill="#f0f5fc" fill-rule="evenodd" d="M2 2l710 0 1 36 19 80 0 34-14 20-51 36-25 24-50 65-40 70-25 60-24 81-15 85-6 111 10 44 42 64 14 10 80 14 170 3 170-3 80-14 14-10 40-64 10-44 0-76-4-10-6-66-20-84-30-81-39-75-51-70-39-40-45-30-15-20 0-30 14-54 11-66 840 0 0 1876-1726 0z"/><path fill="#e6eff9" fill-rule="evenodd" d="M2 2l709 0 1 36 19 84 0 30-13 18-52 38-24 23-44 57-46 75-40 105-20 85-10 89 0 76 17 84 16 20 27 15 36 12 44 7 176 4 170-4 44-6 36-11 30-15 14-14 12-32 9-46 0-104-10-76-21-89-30-80-34-65-56-77-38-39-46-32-14-18 0-30 25-120 839 0 0 1876-1726 0z"/><path fill="#dbe9f7" fill-rule="evenodd" d="M2 2l709 0 0 36 19 84-1 30-11 17-54 39-22 21-44 57-46 75-25 61-26 86-20 134 0 76 5 14 1 41 11 43 5 12 35 22 40 17 50 9 170 5 170-5 44-7 40-15 35-22 11-12 16-88 0-100-10-80-21-90-31-81-34-65-56-77-36-37-48-33-12-17-1-24 24-126 839 0 0 1876-1726 0z"/><path fill="#d1e2f5" fill-rule="evenodd" d="M2 2l708 0 0 36 19 84-1 30-10 15-56 40-20 21-44 56-46 76-26 62-26 86-20 134 0 76 18 110 14 19 30 21 40 18 46 10 170 6 164-5 46-9 40-16 45-34 10-26 11-80 1-100-10-80-21-90-32-83-34-64-55-77-35-36-50-35-11-15-1-24 24-126 838 0 0 1876-1726 0z"/><path fill="#c7dcf2" fill-rule="evenodd" d="M2 2l707 0 0 36 20 84-2 31-9 14-56 40-20 21-44 55-46 75-26 64-27 86-20 134 0 70 19 122 10 22 34 26 41 22 45 12 170 7 164-7 40-8 46-21 39-29 11-20 17-106 1-100-10-80-20-84-34-90-34-65-55-75-35-36-50-35-10-14-2-25 25-126 837 0 0 1876-1726 0z"/><path fill="#bdd6f0" fill-rule="evenodd" d="M2 2l706 0 0 36 20 84-1 30-9 14-56 40-21 22-43 54-46 76-30 71-24 79-20 140 0 64 12 96 12 47 11 17 39 32 40 22 46 11 160 7 164-8 50-14 30-17 36-27 14-20 13-46 12-84 0-96-10-80-20-84-34-90-35-66-54-74-36-37-50-35-10-14 0-30 24-120 836 0 0 1876-1726 0z"/><path fill="#b2cfee" fill-rule="evenodd" d="M2 2l705 0 0 36 20 84-1 30-11 16-53 37-22 23-42 53-46 77-30 69-25 81-20 134 1 74 11 92 13 52 10 22 40 38 36 22 50 15 60 6 100 2 154-8 46-11 40-21 44-41 10-20 14-52 12-83 0-97-10-80-20-84-35-90-35-67-53-73-37-38-50-35-9-13 0-30 24-120 835 0 0 1876-1726 0z"/><path fill="#a9c9eb" fill-rule="evenodd" d="M2 2l705 0 0 36 20 85-1 29-12 16-52 37-22 23-42 52-49 82-27 64-25 82-20 134 0 76 11 90 20 71 20 32 24 25 44 26 42 14 60 7 100 3 100-3 60-7 50-17 40-27 40-49 19-71 11-80 0-100-10-80-20-84-30-82-40-76-53-72-37-38-50-36-9-12 0-30 24-120 835 0 0 1876-1726 0z"/><path fill="#a1c3e8" fill-rule="evenodd" d="M2 2l704 0 0 36 20 84-1 30-12 16-51 36-23 24-41 51-50 83-26 62-26 84-20 134 1 76 10 90 20 74 15 35 30 33 40 28 50 17 60 8 96 3 94-2 60-8 40-13 46-28 28-27 22-41 20-75 10-80 1-100-10-80-20-84-31-84-40-75-52-71-38-39-46-31-12-16 0-30 24-120 834 0 0 1876-1726 0z"/><path fill="#9abee5" fill-rule="evenodd" d="M2 2l704 0 0 36 20 84-1 30-13 15-50 36-24 25-40 50-50 84-26 61-26 85-20 134 0 76 11 90 12 50 23 67 24 33 46 35 50 21 60 9 96 4 94-4 61-9 45-17 42-29 28-31 20-49 20-76 11-80 0-104-10-76-20-84-31-85-40-75-51-70-39-40-46-31-12-15-1-24 25-126 834 0 0 1876-1726 0z"/><path fill="#92b8e2" fill-rule="evenodd" d="M2 2l703 0 0 36 20 84-1 30-12 15-50 35-25 26-40 50-50 84-25 60-27 86-20 134 1 76 10 90 12 50 30 85 25 35 49 36 46 18 60 11 90 5 90-4 64-13 50-22 46-36 24-38 25-73 22-130 1-104-10-76-20-84-32-86-40-74-50-70-40-41-46-30-11-15-1-24 25-126 833 0 0 1876-1726 0z"/><path fill="#8bb3de" fill-rule="evenodd" d="M2 2l703 0 0 36 20 84-1 30-87 76-40 50-51 84-25 60-26 86-20 134 0 76 11 90 11 50 31 89 20 37 50 41 50 25 60 13 90 5 90-5 60-13 54-26 46-40 25-47 25-75 22-130 0-104-10-76-21-90-30-80-41-74-50-70-40-41-46-31-11-14-1-24 25-126 833 0 0 1876-1726 0z"/><path fill="#83addb" fill-rule="evenodd" d="M2 2l702 0 0 36 20 84-1 30-87 76-40 50-50 84-25 60-27 86-20 134 1 76 10 90 17 70 30 84 26 42 44 39 51 25 69 15 76 6 84-7 56-13 44-20 55-41 21-32 35-94 17-70 10-80 1-104-10-76-22-90-30-80-40-74-50-70-41-42-46-30-10-14-1-24 25-126 832 0 0 1876-1726 0z"/><path fill="#7ca8d8" fill-rule="evenodd" d="M2 2l702 0 0 36 20 84-1 30-87 76-40 50-51 84-25 60-26 86-20 134 0 76 11 90 16 70 30 84 27 50 30 32 33 24 77 30 54 44 46 24 40-18 52-46 58-21 40-22 50-43 20-38 36-96 16-70 11-80 0-104-10-76-21-90-30-80-41-74-50-70-41-42-46-31-10-13-1-24 25-126 832 0 0 1876-1726 0z"/><path fill="#74a2d5" fill-rule="evenodd" d="M2 2l701 0 1 36 19 84-1 30-87 76-40 50-50 84-25 60-26 86-20 134 0 76 10 90 17 70 27 80 39 75 43 39 43 26 49 53 26 19 34 23 36 11 24-6 40-23 26-19 49-54 61-38 34-35 27-51 35-96 17-70 10-80 0-104-10-76-21-90-30-80-40-74-50-70-42-43-46-31-9-12-1-24 25-126 831 0 0 1876-1726 0z"/><path fill="#6d9cd2" fill-rule="evenodd" d="M2 2l701 0 0 36 20 84-1 30-88 76-40 50-50 84-25 60-26 86-20 134 0 76 11 90 16 70 28 81 44 86 30 33 30 21 60 69 58 40 32 13 16 2 34-9 66-41 45-46 22-29 41-30 22-26 34-69 33-91 16-70 11-80 0-104-10-76-21-90-30-80-40-74-50-70-43-44-46-30-9-12-1-24 25-126 831 0 0 1876-1726 0z"/><path fill="#6597ce" fill-rule="evenodd" d="M2 2l700 0 1 36 19 84-1 30-9 11-50 36-28 29-40 50-50 84-25 60-26 86-20 134 0 76 10 90 16 70 39 107 40 73 110 122 60 41 30 12 20 3 40-10 64-41 50-49 76-91 34-69 34-94 16-70 10-80 0-104-10-76-21-90-30-80-40-74-50-70-43-44-46-31-8-11-1-24 25-126 830 0 0 1876-1726 0z"/><path fill="#5e91cb" fill-rule="evenodd" d="M2 2l700 0 0 36 19 84-1 30-8 11-50 35-29 30-60 80-30 54-25 60-26 86-20 134 0 76 10 90 18 74 38 105 40 74 65 87 39 39 61 41 35 14 20 2 44-12 66-40 54-54 66-90 35-70 32-90 17-76 11-80 0-104-10-76-21-90-30-80-40-74-50-70-44-45-46-30-7-11-1-24 24-126 830 0 0 1876-1726 0z"/><path fill="#568cc8" fill-rule="evenodd" d="M2 2l699 0 0 36 20 84-1 30-62 50-25 26-60 80-30 54-25 60-27 86-20 134 0 76 11 90 28 110 26 70 41 74 65 90 36 36 58 40 36 15 26 5 41-10 30-16 43-30 50-50 66-92 36-72 32-90 17-76 11-80 0-104-10-76-20-84-32-86-40-74-50-70-40-41-57-45-1-24 25-126 829 0 0 1876-1726 0z"/><path fill="#4f86c5" fill-rule="evenodd" d="M2 2l698 0 0 36 20 84-1 30-83 70-44 56-50 84-25 60-27 86-20 134 0 76 11 90 28 110 26 70 40 74 66 90 37 37 64 44 36 14 20 3 44-12 31-16 39-28 52-52 64-90 37-74 32-90 17-76 11-80 0-104-10-76-22-90-30-80-40-74-50-70-41-42-56-44-1-24 25-126 828 0 0 1876-1726 0z"/><path fill="#4781c1" fill-rule="evenodd" d="M2 2l697 0 1 36 19 84 0 30-84 70-44 56-50 84-25 60-26 86-20 134 0 76 4 14 6 76 28 110 26 70 43 80 61 84 40 40 64 43 36 14 20 2 44-11 35-18 35-25 55-55 62-90 37-74 33-96 16-70 10-80 0-104-10-76-21-90-30-80-40-74-50-70-42-43-56-43 0-24 25-126 827 0 0 1876-1726 0z"/><path fill="#407bbe" fill-rule="evenodd" d="M2 2l697 0 0 36 20 84-1 30-56 43-28 27-44 56-50 84-40 106-20 84-11 90 0 76 5 14 5 76 17 74 37 106 42 80 61 84 42 42 60 40 34 15 26 4 40-9 40-20 34-25 57-57 62-90 36-74 32-90 17-76 10-80 0-104-10-76-21-90-30-80-40-74-50-70-43-44-55-42 0-30 13-50 11-70 772 0 55 90 0 1786-1726 0z"/><path fill="#3875bb" fill-rule="evenodd" d="M82 2l616 0 1 40 19 77 0 32-85 71-44 56-50 84-40 106-20 84-6 76-5 14 0 76 5 14 6 80 26 106 26 69 42 81 61 84 44 44 64 43 30 12 26 5 40-10 40-20 34-25 59-59 46-64 36-66 32-74 31-120 11-86 0-104-11-80-20-86-30-80-40-74-50-70-44-45-54-42 0-27 13-52 11-70 612 0 132 210 82 166 0 1500-1726 0 0-1751z"/><path fill="#3170b8" fill-rule="evenodd" d="M240 8l4-6 453 0 1 40 19 80 0 25-6 11-53 38-27 26-63 86-30 54-40 106-20 84-6 76-5 14 1 77 4 13 6 80 26 106 25 70 41 80 61 84 41 43 66 44 34 15 26 4 40-9 40-20 34-25 58-56 50-70 36-66 30-74 31-120 6-70 4-10 1-110-11-80-20-86-30-80-40-74-53-76-42-41-48-33-6-10 0-20 24-106 1-20 449 0 76 106 47 74 74 146 39 90 30 90 19 80 11 90 16 14 64 35 0 1151-1726 0 0-1442 47-114 75-144 61-96z"/><path fill="#2d6fb8" fill-rule="evenodd" d="M363 2l333 0 1 40 19 80 0 26-7 10-51 36-29 28-60 80-31 58-40 105-21 87-11 90 1 80 4 10 6 80 25 107 26 70 54 104 49 65 46 44 60 40 35 16 26 5 40-11 40-20 35-25 61-59 48-70 36-64 30-75 30-121 6-70 4-10 1-110-11-80-20-88-30-80-40-76-52-72-44-43-46-31-7-10 0-20 24-106 1-20 332 0 2 20 44 51 66 91 37 68 34 80 36 116 20 94 9 76 4 82 144 67 76 53 20 9 0 1069-1726 0 0-1146 106-51 2-73 15-110 20-90 36-106 57-120 64-97 57-63z"/><path fill="#2c73bb" fill-rule="evenodd" d="M399 2l296 0 0 40 20 80 0 26-57 44-31 30-40 51-50 85-40 104-21 90-6 76-4 10 0 84 4 10 6 80 26 110 26 71 54 105 45 60 45 45 70 45 56 16 45-12 39-19 36-25 60-60 45-66 35-64 30-76 21-74 20-130 0-116-10-74-21-90-30-80-40-76-50-70-46-45-44-30-8-9 0-20 25-106 0-20 296 0 2 36 125 147 42 67 46 100 28 90 18 80 10 76 2 84 8 36 50 24 80 54 90 68 26 8 0 1006-1726 0 0-1094 30-13 32-23 48-27 9-39 2-74 16-110 19-79 20-61 26-60 42-80 55-76 96-110z"/><path fill="#2b78be" fill-rule="evenodd" d="M411 2l283 0 0 40 20 80 0 26-56 43-32 31-40 50-50 86-41 110-20 84-6 76-4 10 0 84 4 10 6 80 27 110 26 72 54 104 45 60 45 45 69 45 57 16 46-12 38-19 36-25 60-60 45-66 35-63 30-77 22-74 20-130 0-116-10-74-20-86-31-84-40-76-50-70-47-46-44-30-7-8 0-20 25-106 0-20 283 0 3 40 46 51 65 89 77 130 25 56 28 80 18 74 11 76 2 84 18 64 45 32 31 33 82 57 52 48 36 12 0 950-1726 0 0-1050 36-17 34-33 40-27 18-63 3-80 18-110 18-70 20-56 33-70 87-144 41-56 58-64z"/><path fill="#2b7cc1" fill-rule="evenodd" d="M423 2l270 0 0 40 19 80 0 26-54 42-33 32-40 50-50 86-41 110-20 84-6 76-4 10 0 84 5 16 5 74 25 106 29 78 53 102 45 60 46 46 67 44 59 17 48-13 37-18 35-25 61-61 45-66 34-61 33-83 30-120 10-80 0-116-10-74-20-86-31-84-40-76-50-70-48-47-49-37 0-20 24-106 0-20 270 0 4 46 47 50 69 94 41 70 53 110 30 80 18 70 13 76 4 90 26 86 40 35 31 39 79 62 50 60 46 16 0 892-1726 0 0-1007 40-25 26-31 48-43 23-84 4-76 11-74 35-126 41-94 56-106 66-95 68-75z"/><path fill="#2a80c4" fill-rule="evenodd" d="M434 2l258 0 0 40 20 80 0 26-54 41-34 33-40 50-49 86-42 110-20 84-6 76-4 10 0 84 4 10 6 80 25 106 30 79 52 101 45 59 47 48 66 43 60 18 49-14 35-17 36-25 62-62 45-66 33-60 34-84 30-120 6-71 4-9 0-116-4-9-6-65-20-86-30-80-41-80-50-70-49-48-49-36 0-20 25-105 0-21 257 0 3 47 53 59 66 90 42 70 52 110 48 150 13 74 5 86 31 106 42 44 30 44 73 70 49 78 56 19 0 829-1726 0 0-963 46-33 28-44 42-39 30-111 4-76 13-74 27-100 21-56 31-70 52-94 66-96 69-74z"/><path fill="#2985c7" fill-rule="evenodd" d="M446 2l246 0 0 40 20 80 0 26-54 40-35 34-39 50-50 86-42 108-20 85-5 77-5 10 0 84 5 10 5 81 26 105 27 74 55 106 45 60 47 47 65 43 35 14 26 5 50-15 34-17 36-25 62-62 45-66 35-64 32-80 30-120 6-70 5-10 0-116-5-10-6-66-20-85-30-81-41-78-49-70-50-49-49-35 0-20 25-103 0-23 246 0 1 50 56 60 66 90 43 70 52 110 47 146 13 74 5 86 41 133 41 47 23 46 65 74 23 40 27 60 71 25 0 765-1726 0 0-916 50-44 26-51 42-49 37-126 6-85 19-99 42-126 29-64 55-99 65-91 69-77z"/><path fill="#2989ca" fill-rule="evenodd" d="M458 2l234 0 0 40 19 80 0 26-53 40-35 34-50 66-40 70-41 106-20 85-5 79-5 10 0 84 5 10 5 83 26 104 26 73 55 106 45 60 48 48 63 42 36 14 27 6 44-12 40-20 36-25 63-63 45-66 35-64 31-79 30-119 6-72 5-10 0-116-5-10-6-68-20-85-30-81-40-76-50-70-50-49-48-35 0-20 24-100 0-26 234 0 1 56 57 60 68 89 43 71 51 104 47 146 14 74 5 86 44 148 42 56 24 58 30 38 28 44 26 60 16 55 50 26 40 12 0 693-1726 0 0-863 56-62 28-65 36-49 44-147 6-84 20-100 45-130 63-126 48-73 39-51 69-76z"/><path fill="#288dcd" fill-rule="evenodd" d="M470 2l221 0 0 40 20 80 0 25-54 41-35 34-40 50-50 86-40 104-20 86-6 80-4 10 0 84 4 10 6 85 26 104 25 71 55 106 45 60 49 49 62 41 36 14 28 6 44-11 40-20 36-25 64-64 45-66 35-64 30-77 30-119 7-74 4-10 0-116-4-10-6-70-20-84-30-81-40-75-51-70-49-50-49-34 0-20 24-100 1-26 221 0 1 60 59 60 68 89 43 71 52 106 47 144 13 70 6 86 49 160 36 60 25 74 32 50 26 56 14 44 11 78 65 38 51 17 0 613-1726 0 0-797 66-97 20-66 40-66 47-160 7-84 20-100 41-120 66-130 46-70 42-56 71-74z"/><path fill="#2890cf" fill-rule="evenodd" d="M482 2l209 0 1 46 19 84-3 19-51 37-31 30-64 84-30 56-40 104-20 86-6 80-5 10 1 84 4 10 1 46 15 90 41 124 40 80 40 60 64 71 25 19 51 30 55 16 44-10 40-21 36-25 64-64 45-66 35-64 46-126 15-70 6-74 4-10 1-116-5-10-6-69-20-85-45-110-55-90-70-76-45-31-4-19 24-104 1-26 210 0 1 66 60 60 72 94 69 120 47 116 34 130 10 110 25 70 31 107 38 73 15 74 30 56 16 44 13 70 2 90 90 61 56 22 0 513-1726 0 0-599 10-3 3-8-1-76 7-60 21-54 35-60 15-70 36-70 56-186 6-74 11-66 37-124 42-96 54-94 68-95 77-81z"/><path fill="#2795d2" fill-rule="evenodd" d="M485 2l206 0 1 46 19 80-1 20-54 40-34 33-40 51-45 76-45 114-26 126 0 40-5 10 0 84 5 10 0 46 16 90 40 124 55 106 46 60 49 49 70 45 26 10 34 6 40-11 40-20 40-29 75-80 46-70 20-40 45-125 15-70 6-75 5-10 0-116-5-9 0-35-11-60-25-91-20-49-40-76-54-74-45-46-46-31-4-19 24-104 1-26 206 0 0 66 63 62 70 92 70 121 49 119 31 126 11 110 26 70 33 116 34 68 16 83 27 53 14 44 12 76-3 102 104 75 56 23 0 470-1726 0 0-572 20-5 5-9-2-94 8-65 18-51 28-50 14-74 35-70 57-186 19-150 35-120 43-97 53-93 69-94 78-84z"/><path fill="#269cd7" fill-rule="evenodd" d="M505 2l185 0 1 46 19 80-2 22-52 38-60 64-60 96-45 114-25 126 0 34-5 16 0 84 4 10 1 46 16 90 40 124 55 106 46 60 49 50 70 45 26 10 34 5 40-10 40-20 40-30 76-80 45-70 20-40 45-126 15-70 7-74 4-10 0-116-15-104-25-90-20-50-40-76-54-74-46-46-46-32-3-18 24-104 1-26 185 0-2 70 66 66 69 87 43 68 53 105 27 70 22 74 12 60 8 90 45 130 23 90 27 70 6 36 4 74 21 76 7 80-12 84-44 140 192 180 40 28 26 5 0 193-1726 0 0-305 26-7 24-15 81-73-36-86-18-60-5-54 3-96 8-50 13-40 2-54 7-50 28-70 23-96 45-130 6-80 22-100 41-116 68-128 79-111 83-85z"/><path fill="#25a3dc" fill-rule="evenodd" d="M524 2l166 0 0 46 20 80-2 21-53 39-60 64-35 50-29 56-25 60-25 80-21 140 1 84 5 16 0 40 15 90 15 55 26 70 40 79 25 40 39 51 66 60 30 20 46 20 30 6 30-6 54-25 37-25 63-64 46-67 50-100 36-110 20-134 1-116-16-104-25-90-20-50-39-76-55-74-45-46-49-34 0-20 24-100 0-26 166 0-3 76 75 74 63 80 45 70 50 96 40 104 22 96 9 94 50 136 46 174 7 66-8 84 8 70-4 70-14 66-21 64-46 86-95 124-58 51-54 41-140 77-56 20-94 24-36 7-70 0-60-1-34-6-126-35-80-36-70-40-120-96-81-100-63-111-22-55-14-50-5-60 8-100-8-70 2-64 50-200 49-136 7-80 24-104 41-110 68-126 77-104 88-91z"/><path fill="#24aae1" fill-rule="evenodd" d="M543 2l146 0 1 46 18 74 1 20-5 10-50 36-30 30-44 54-45 76-30 70-25 80-15 90 0 34-5 16 0 80 5 20 0 40 21 110 35 104 65 120 36 47 46 45 54 40 46 20 30 5 44-10 56-30 84-80 47-67 50-100 35-110 21-134 0-116-15-104-25-90-20-50-40-76-54-74-45-46-49-34 0-20 23-100 1-26 146 0-2 86 83 77 60 76 39 61 53 100 39 100 24 96 9 94 33 80 36 110 30 166 0 74-23 110-15 106-19 64-23 50-98 140-80 74-55 39-80 44-56 22-70 21-114 17-66 0-58-7-118-30-64-26-64-35-115-89-65-74-39-56-31-54-23-56-20-64-6-90-25-116 1-70 35-180 64-170 7-80 22-94 44-116 74-134 67-91 94-93z"/><path fill="#23b1e6" fill-rule="evenodd" d="M562 2l127 0 0 46 19 74 1 20-6 10-50 36-31 30-43 54-50 86-39 104-20 86-6 74-4 16 0 84 20 146 31 100 50 104 64 90 67 62 30 20 46 20 30 6 30-6 54-25 38-27 62-62 47-68 50-100 36-110 20-134 0-116-15-104-25-90-19-50-40-76-54-74-45-46-50-34 0-20 24-100 0-26 127 0-4 90 89 80 61 76 43 64 48 96 38 100 25 94 8 90 55 130 26 90 20 160-2 56-7 44-21 76-35 83-16 57-35 70-83 117-52 47-48 37-125 69-65 22-66 14-60 8-70 0-54-7-76-17-114-47-56-32-54-42-70-66-76-109-33-70-43-114-30-110-6-86 21-164 25-90 52-120 9-86 33-124 55-130 49-86 69-88 55-55 43-37z"/><path fill="#26b6e7" fill-rule="evenodd" d="M580 2l108 0 0 46 20 77 0 17-6 10-50 35-30 31-43 54-50 86-40 104-20 86-5 74-5 16 0 84 21 146 30 100 50 104 62 88 70 65 30 20 46 20 30 5 30-5 54-25 38-28 62-62 48-68 50-100 35-110 21-134 0-116-15-104-25-90-20-50-40-76-53-74-45-46-50-37 4-40 20-77 0-26 108 0-7 96 67 54 70 76 61 84 32 56 38 90 28 90 14 60 9 90 59 130 17 50 12 54 11 170-9 80-19 66-20 50-65 114-98 136-92 79-120 66-60 20-70 16-56 6-60-1-120-22-107-44-51-30-52-40-72-70-117-170-43-90-30-116-5-64 14-166 28-100 26-50 30-74 9-86 42-154 42-96 52-85 37-49 47-53 90-77z"/><path fill="#2eb7e4" fill-rule="evenodd" d="M599 2l88 0 1 46 19 94-5 8-50 36-31 32-40 50-53 90-39 104-20 86-5 74-5 16 0 84 20 146 31 100 50 104 62 89 70 64 30 20 46 20 30 6 30-6 54-25 39-28 61-61 48-69 50-100 36-110 20-134 0-116-15-104-24-90-20-50-40-76-53-74-46-47-46-31-4-8 24-114 1-26 88 0-7 100 74 60 70 74 61 82 36 60 42 100 21 70 11 60 9 92 70 152 23 90 4 46 1 124-9 76-15 54-23 56-33 64-32 50-102 116-100 77-120 60-50 16-74 15-116 1-114-27-110-50-106-75-97-103-64-94-42-90-25-110-4-130 8-90 22-80 39-76 29-70 17-140 28-100 44-94 54-86 87-100 95-80-5-44z"/><path fill="#36b8e1" fill-rule="evenodd" d="M617 2l68 0 1 46 19 94-3 7-50 35-33 34-59 80-32 60-40 104-20 86-5 74-5 16 0 84 5 16 1 44 15 86 30 100 50 104 63 89 70 64 30 20 46 20 30 6 30-6 54-25 39-28 61-61 49-69 50-100 35-110 21-134 0-116-15-104-25-90-20-50-42-80-49-70-48-49-47-31-1-16 24-104 1-26 68 0-9 110 78 56 61 60 74 94 45 76 36 84 20 66 12 60 5 80 7 38 28 62 40 74 21 80 6 106-15 144-14 50-22 56-30 60-32 50-101 114-91 71-114 58-56 18-70 14-50 4-60-1-114-25-116-51-100-71-35-31-62-70-63-94-41-92-23-104-9-126 9-89 20-74 47-87 17-44 21-160 31-106 47-94 87-125 82-81 72-50-6-60z"/><path fill="#3eb9de" fill-rule="evenodd" d="M637 2l46 0 1 46 19 80-1 18-50 37-34 35-40 50-47 80-29 70-24 80-20 140 0 84 5 16 0 44 21 106 35 104 40 80 40 60 69 76 54 38 46 20 24 5 50-10 40-20 40-29 60-60 19-24 45-70 20-40 45-126 16-70 5-70 5-14 0-120-5-10 0-36-10-54-24-90-19-50-39-76-53-74-49-51-46-31 5-38 19-80 1-26 46 0 0 36-13 74 2 10 90 56 73 70 62 80 52 90 30 70 21 64 12 60 5 86 15 61 63 123 19 80 3 96-13 104-12 56-43 110-49 80-92 106-96 73-110 55-60 19-70 13-104 1-116-26-60-25-54-29-105-77-90-100-67-110-28-76-26-144-3-80 11-86 12-42 61-112 15-70 5-76 10-54 31-100 63-120 32-50 39-48 84-79 83-53-9-66z"/><path fill="#46bbdb" fill-rule="evenodd" d="M661 2l17 0 1 46 19 80 0 14-50 40-34 36-38 50-47 80-28 70-25 80-19 140 0 84 5 16 1 44 20 106 35 104 66 120 38 50 46 45 54 39 46 20 24 5 36-5 70-35 24-19 60-60 65-94 50-116 30-120 6-70 5-14 0-116-10-80-29-114-43-100-68-104-46-47-45-35 24-114 1-26 17 0 0 30-16 86 3 14 104 60 74 60 65 80 51 90 29 66 22 70 12 54 6 86 19 86 63 118 14 66 3 70-4 60-26 124-46 112-44 72-90 103-96 72-110 54-54 17-70 13-106-1-110-26-110-52-104-78-86-97-65-109-25-64-32-156-2-74 12-86 72-150 30-204 33-100 62-120 31-45 40-47 54-48 130-80-11-76z"/><path fill="#4ebcd8" fill-rule="evenodd" d="M627 182l9 0-48 63-35 53-28 54-26 66-24 80-19 140 0 84 5 16 1 44 16 86 15 54 25 70 40 80 64 90 46 46 74 49 56 15 44-10 40-20 40-29 61-61 64-94 50-116 31-120 11-84 0-116-10-80-19-84-31-86-37-74-49-76-31-34 0-7 80 44 76 58 43 55 34 54 45 100 22 66 12 54 7 90 18 86 15 40 51 94 8 36 6 90-15 110-39 120-27 60-34 54-92 107-87 69-107 55-56 17-60 13-50 4-54-1-110-23-112-51-98-71-91-99-57-90-34-80-32-130-7-94 11-82 57-114 17-50 14-80 5-74 22-90 23-60 42-87 53-79 34-34 40-30z"/><path fill="#56bdd5" fill-rule="evenodd" d="M573 242l5-3 2 3-2 10-56 101-48 145-19 140 1 84 4 16 1 44 21 106 35 105 41 79 28 46 35 44 47 47 54 38 46 20 24 5 36-5 54-25 40-28 77-81 48-75 51-116 30-120 6-70 5-10 1-120-5-14 0-36-10-54-25-96-18-50-60-114-4-18 60 35 54 42 38 51 35 60 35 90 23 84 9 100 28 126 62 125 8 89-13 110-37 110-56 110-90 110-62 54-44 30-66 35-84 30-60 12-50 4-56-2-60-10-44-13-60-24-90-53-76-63-83-100-57-104-20-50-22-80-13-86 0-54 6-50 64-136 15-54 11-66 7-84 13-56 29-90 41-84 45-65 60-48z"/><path fill="#5ebed2" fill-rule="evenodd" d="M544 288l4 0-5 14-24 50-35 106-25 124 0 40-5 16 1 84 5 16 0 44 16 86 41 124 40 80 28 46 35 44 48 48 54 38 46 20 30 5 30-5 54-25 40-28 63-63 47-69 31-55 36-86 15-50 15-70 11-84 1-116-5-14 0-36-25-120-26-80-33-70 0-14 40 23 56 41 48 76 38 94 21 86 9 94 26 126 12 36 54 114 5 54-2 50-16 90-29 80-39 80-35 56-72 87-55 47-51 36-74 39-60 21-96 18-94-3-96-23-104-50-96-72-75-86-63-100-39-94-25-106-4-44 2-66 6-30 51-100 12-40 24-120 7-80 22-94 37-96 45-73 44-37z"/><path fill="#62becb" fill-rule="evenodd" d="M512 332l10-3 1 3-28 80-23 86-18 134 0 90 5 16 1 44 20 106 36 104 40 80 43 66 69 72 54 38 45 20 31 6 44-11 42-21 41-30 61-60 45-64 38-70 30-76 21-70 15-84 1-36 5-14 0-120-4-10-5-66-19-90-40-120 5-2 40 23 44 35 29 44 28 66 30 110 6 94 26 126 16 54 51 110 4 36-2 50-11 74-21 70-45 96-38 60-62 74-35 37-66 50-74 42-40 17-106 26-94 2-100-21-100-45-101-72-60-66-36-44-41-66-40-84-31-120-4-50 1-56 6-20 48-100 16-60 15-60 14-140 11-54 30-96 42-76 29-28z"/><path fill="#61bdc1" fill-rule="evenodd" d="M500 368l4 4-1 10-33 116-17 140 0 84 5 16 1 44 15 86 16 54 25 70 40 80 64 90 49 49 50 35 50 23 24 5 50-10 43-22 37-26 64-64 64-94 50-116 20-70 16-84 1-36 5-14 0-116-13-104-14-66-23-70 0-16 36 19 45 33 40 80 19 60 11 50 8 110 20 110 18 70 53 120-1 64-9 66-17 60-20 50-33 64-42 60-69 80-49 43-54 38-86 42-104 28-90 4-100-20-100-43-50-32-60-48-75-82-60-90-35-74-29-116-5-90 54-125 18-75 14-60 10-134 11-60 30-90 31-58 30-25z"/><path fill="#60bbb0" fill-rule="evenodd" d="M483 402l7 0-2 20-18 70-14 90-4 140 5 20 1 40 16 86 30 100 51 104 63 90 50 50 50 35 50 23 24 5 50-10 45-23 35-25 65-65 63-94 51-116 31-120 11-84 0-116-4-50-33-164 2-8 30 16 40 29 28 53 21 60 11 50 13 170 20 90 16 60 46 110 0 44-9 60-16 60-20 52-33 64-41 60-70 80-46 40-56 37-80 40-44 15-66 14-80 3-94-17-90-36-86-54-65-58-55-63-30-43-28-48-25-56-30-114-6-76 49-120 16-64 20-96 7-130 11-60 22-70 24-49 10-12z"/><path fill="#5eb797" fill-rule="evenodd" d="M454 482l8-4 3 4-16 150 1 90 5 20 0 40 22 106 37 110 56 104 50 66 48 46 50 35 50 22 24 5 56-12 40-20 34-25 67-67 61-90 51-114 22-76 16-84 6-50 1-120-14-116 0-24 46 29 24 26 24 85 15 204 9 66 17 90 39 114-2 46-14 54-19 50-29 60-36 56-94 104-64 49-69 37-81 28-96 13-44-2-56-10-80-27-70-38-89-70-71-81-51-83-31-76-18-74-2-30 38-116 19-100 14-120 7-130 12-60 18-46z"/><path fill="#5cb47e" fill-rule="evenodd" d="M443 558l5-5 4 14-7 71 2 90 5 14 1 40 23 110 36 106 56 104 50 66 50 49 50 34 44 20 30 7 56-12 40-20 34-24 70-70 45-64 36-66 31-74 33-126 11-84 0-184 20 14 40 41 6 23 10 116 10 214 13 80 18 80 5 60-40 100-36 60-82 95-74 58-90 47-96 25-80 3-84-15-100-43-73-50-55-50-50-60-28-41-38-73-16-46-3-24 24-120 14-100 19-320 6-15 25-31z"/><path fill="#5eb367" fill-rule="evenodd" d="M436 652l2-2 11 132 17 86 33 104 51 106 62 87 53 53 73 46 24 10 36 6 50-11 40-20 40-29 64-65 63-93 36-74 38-116 22-124 7-98 19 62 31 46 4 35 3 105-4 120 9 174-4 60-8 30-30 50-70 84-46 39-40 28-54 29-60 24-86 16-80-4-74-19-90-44-86-66-64-75-46-76-7-86 11-150-5-140 3-104 4-23 32-57z"/><path fill="#60b251" fill-rule="evenodd" d="M432 838l20-1 27 91 27 70 60 110 46 59 50 51 56 38 44 20 36 6 50-11 40-20 40-28 66-65 45-66 39-70 32-74 32-111 56 6 2 49-5 86-37 268-23 72-28 60-20 30-67 54-74 40-58 21-76 11-60-2-77-20-83-39-61-45-33-36-26-50-19-46-19-74-11-114-18-100-9-120 2-42 4-5z"/><path fill="#63b23a" fill-rule="evenodd" d="M417 922l21 7 44 40 87 149 39 50 50 50 70 46 34 15 36 6 50-11 40-20 40-28 84-88 50-76 51-94 26-26 29-18 10-4 3 12-10 90-23 96-53 134-53 100-54 58-65 42-55 20-76 10-74-12-60-27-46-31-60-64-44-81-55-134-31-131z"/><path fill="#6db530" fill-rule="evenodd" d="M442 1008l8 0 36 34 95 110 77 74 70 44 34 15 36 5 50-10 40-19 44-31 70-63 122-139 28-24 2 8-24 96-38 84-23 40-61 77-56 46-54 31-66 19-40 3-54-8-50-20-40-23-66-55-52-64-37-66-22-54z"/><path fill="#7fba32" fill-rule="evenodd" d="M492 1108l90 88 60 51 80 47 36 13 40 6 60-12 65-33 100-80 79-81 2 5-46 97-76 90-44 36-52 27-38 13-55 7-55-9-40-17-36-19-55-45-55-64-23-36-26-50z"/><path fill="#91c035" fill-rule="evenodd" d="M977 1262l6 0-36 36-48 30-47 20-50 9-54-7-40-16-36-20-55-46 1-5 100 56 34 12 50 7 70-16 50-24z"/></g></g></g><path fill="#d1d1d1" d="M850.90 782.20 L862.50 782.20 L857.92 805.04 Q857.00 809.30 856.80 810.50 L855.80 810.50 Q855.60 809.30 854.68 805.04 L850.90 782.20 Z"/>
<g clip-path="url(#pc6)"><g filter="url(#bl)"><g transform="translate(71.20 287.90) scale(0.1)"><path fill="#fafcfe" fill-rule="evenodd" d="M2 2l1766 0 0 1876-1766 0z"/><path fill="#f0f5fc" fill-rule="evenodd" d="M2 2l1766 0 0 1876-1766 0z"/><path fill="#e6eff9" fill-rule="evenodd" d="M2 2l1766 0 0 1876-1766 0z"/><path fill="#dbe9f7" fill-rule="evenodd" d="M2 2l1766 0 0 1876-1766 0z"/><path fill="#d1e2f5" fill-rule="evenodd" d="M2 2l1766 0 0 1876-1766 0z"/><path fill="#c7dcf2" fill-rule="evenodd" d="M2 2l1766 0 0 1876-1766 0z"/><path fill="#bdd6f0" fill-rule="evenodd" d="M2 2l1766 0 0 1876-1766 0z"/><path fill="#b2cfee" fill-rule="evenodd" d="M2 2l1766 0 0 1876-1766 0z"/><path fill="#a9c9eb" fill-rule="evenodd" d="M2 2l1766 0 0 1876-1766 0z"/><path fill="#a1c3e8" fill-rule="evenodd" d="M2 2l1766 0 0 1876-1766 0z"/><path fill="#9abee5" fill-rule="evenodd" d="M2 2l1766 0 0 1876-1766 0z"/><path fill="#92b8e2" fill-rule="evenodd" d="M2 2l1766 0 0 1840-55 36-1711 0z"/><path fill="#8bb3de" fill-rule="evenodd" d="M2 2l1766 0 0 1711-116 77-154 88-1376 0-120-67z"/><path fill="#83addb" fill-rule="evenodd" d="M2 2l1760 0 6 16 0 1542-50 52-42 36-219 144-67 36-127 50-905 0-170-70-186-120z"/><path fill="#7ca8d8" fill-rule="evenodd" d="M2 2l1697 0 33 120 16 86 8 80 2 120 10 21 0 932-66 81-68 100-42 35-100 67-90 74-40 22-74 32-96 35-144 38-96 14-110 6-124-2-110-12-110-25-110-32-110-45-50-25-106-84-120-79z"/><path fill="#74a2d5" fill-rule="evenodd" d="M2 2l1633 0 37 129 18 91 7 76 1 110 30 60 8 30-1 104 7 131-10 85-4 94-31 130 20 76-1 44-12 30-116 234-26 37-30 26-84 61-91 88-43 24-91 40-81 29-130 34-94 12-110 3-106-3-94-12-136-36-75-27-91-40-43-24-91-88-119-88-26-30-25-38z"/><path fill="#6d9cd2" fill-rule="evenodd" d="M47 8l2-6 1522 0 31 96 27 124 8 76 1 110 31 60 9 34 1 96 9 114-11 190-41 180-18 38-54 82-56 159-30 36-80 64-80 93-46 28-100 46-174 53-70 10-90 5-100-2-90-8-60-13-120-38-140-64-40-31-70-84-70-54-24-24-20-36-52-144-50-71 0-971z"/><path fill="#6597ce" fill-rule="evenodd" d="M112 2l1396 0 32 96 24 100 12 89 2 121 32 60 10 34 3 86 11 110-6 194-28 146-30 64-121 180-27 28-66 52-63 90-25 27-40 25-90 43-160 51-76 10-84 3-90-2-80-10-50-12-110-38-123-61-37-34-64-92-66-52-30-32-135-200-31-68 0-525 40-77 2-121 12-89 24-100z"/><path fill="#5e91cb" fill-rule="evenodd" d="M172 2l1276 0 1 20 31 86 25 100 11 84 2 116 38 54 11 36 5 100 9 84 3 160-18 136-17 60-24 44-90 140-32 40-81 64-80 73-40 23-70 32-164 60-76 10-90 3-90-4-70-12-104-36-96-41-70-39-73-67-87-70-27-36-118-190-15-54-20-146 5-150 11-84 5-100 11-36 38-54 2-116 11-84 25-100 31-86z"/><path fill="#568cc8" fill-rule="evenodd" d="M208 2l1204 0 0 25 32 85 25 100 11 80 3 120 33 70 8 36 14 140-5 74 4 100-12 110-9 45-16 41-107 174-27 30-68 55-76 70-44 27-76 33-144 42-120 11-86-1-74-7-140-38-116-51-40-28-60-58-69-56-25-27-97-156-22-46-14-60-13-120 5-90-4-94 13-126 8-30 33-70 3-120 11-80 25-100 32-85z"/><path fill="#4f86c5" fill-rule="evenodd" d="M232 2l480 0 5 180-10 15-25 16-24 55-16 72 0 90 15 48 36 54 25 20 40 20 50 11 54-11 40-20 25-20 36-54 15-48 0-90-16-72-24-55-26-16-9-15 5-180 480 0 0 30 34 90 23 96 12 80 1 110 24 70 6 77 14 77 1 86-21 204-7 40-14 36-96 165-27 31-138 124-42 25-70 31-136 40-114 11-86-1-70-7-130-36-110-49-40-29-56-55-65-56-23-25-91-155-22-50-9-54-20-220 2-50 14-83 5-73 25-74 1-110 11-76 24-100 34-90zM777 2l66 0-1 61-4 5 0 144 10 20 40 35 4 10 11 51 5 4 0 26 4 4 0 46-4 4 0 16-10 25-40 45-35 14-26 0-35-14-40-45-10-25 0-16-4-4 0-46 4-4 0-26 5-4 11-51 4-10 40-35 10-20 0-144-4-5z"/><path fill="#4781c1" fill-rule="evenodd" d="M256 2l454 0 5 180-7 12-28 18-24 56-15 70 0 94 21 60 30 43 26 20 35 17 55 13 54-11 40-19 26-20 30-43 21-60 0-94-15-70-24-56-28-18-7-12 5-180 454 0 0 36 33 84 23 90 12 86 2 110 28 84 11 196-3 94-42 173-84 157-32 41-134 125-40 24-66 29-130 39-110 10-80-1-64-7-126-36-104-48-36-27-134-132-77-137-21-44-36-146-7-60 10-240 7-34 22-60 5-146 27-124 38-100z"/><path fill="#407bbe" fill-rule="evenodd" d="M280 2l428 0 4 180-6 10-28 20-24 56-15 70 0 94 23 64 30 41 26 20 34 17 56 13 60-13 34-17 26-20 30-41 23-64 0-94-15-70-24-56-28-20-6-10 4-180 428 0 1 46 32 80 24 90 11 80 2 110 23 54 7 30 6 121-3 175-15 64-18 50-102 183-27 33-129 122-40 23-60 27-120 36-110 9-70-1-60-7-114-33-100-48-36-27-124-127-111-194-23-76-10-64 1-150 5-116 7-30 23-54 2-110 11-80 24-90 32-80z"/><path fill="#3875bb" fill-rule="evenodd" d="M304 2l402 0 4 180-6 10-26 18-27 58-15 70 0 94 25 66 29 40 25 20 33 16 24 10 36 5 54-10 40-20 28-21 29-40 25-66 0-94-15-70-27-58-26-18-6-10 4-180 402 0 1 50 34 86 24 94 10 70 1 106 25 54 8 36 7 140-9 160-22 84-35 66-105 130-98 99-29 25-101 49-69 23-50 10-60 6-86-1-54-5-50-12-100-36-49-24-31-21-116-116-105-133-32-60-22-90-9-150 4-114 8-56 28-64 1-106 12-80 23-90 33-80z"/><path fill="#3170b8" fill-rule="evenodd" d="M328 2l376 0 4 180-32 26-27 60-15 70 0 94 21 60 33 47 24 20 40 21 56 11 60-11 40-21 24-20 33-47 21-60 0-94-15-70-27-60-32-26 4-180 376 0 0 56 36 84 24 96 9 70 1 100 29 60 9 40 6 140-4 84-12 86-12 50-15 34-70 100-51 54-140 108-94 46-106 29-54 5-80 0-96-14-90-32-74-41-146-114-43-51-44-60-29-54-16-60-12-96-4-140 10-100 34-74 1-106 11-74 27-100 31-70z"/><path fill="#2d6fb8" fill-rule="evenodd" d="M351 2l347 0 4 180-33 26-25 54-16 76 1 100 10 34 15 30 28 41 30 23 40 20 56 11 60-11 40-20 30-23 28-41 15-30 10-34 1-100-16-76-25-54-33-26 4-180 347 0 1 60 36 86 24 100 8 60 1 100 28 54 11 36 10 84 1 60-9 116-28 117-18 37-41 60-36 46-32 30-113 81-94 41-70 19-60 11-130 1-60-7-60-14-106-38-40-23-72-51-62-57-68-93-27-56-25-114-8-120 13-136 10-30 28-54 2-116 11-70 25-90 31-70z"/><path fill="#2c73bb" fill-rule="evenodd" d="M361 2l336 0 4 176-34 24-25 56-15 74 1 110 10 35 14 30 32 41 25 20 40 20 53 10 25 0 44-10 40-20 25-20 32-41 14-30 10-35 1-110-15-74-25-56-34-24 4-176 336 0 0 60 33 76 27 104 9 66 2 104 31 100 10 76 1 70-15 130-26 84-58 96-32 40-33 31-106 77-90 39-120 28-130 3-54-6-66-15-100-36-40-22-66-49-66-60-62-90-29-60-22-96-10-114 13-130 30-96 2-104 10-70 26-100 33-76z"/><path fill="#2b78be" fill-rule="evenodd" d="M370 2l326 0 4 176-33 25-25 55-16 74 0 106 22 61 34 49 26 20 39 20 51 11 30 0 44-11 40-20 26-20 30-40 15-30 11-40 0-106-16-74-25-56-33-24 4-176 326 0 1 66 40 94 26 120 4 130 35 196-3 110-29 124-50 90-57 76-107 84-38 22-54 23-106 28-54 6-70 0-90-8-96-26-84-40-109-85-53-64-46-76-19-44-23-106-5-84 7-76 29-150 1-104 9-66 28-104 32-70z"/><path fill="#2b7cc1" fill-rule="evenodd" d="M378 2l317 0 4 176-33 24-26 60-15 70 0 106 23 62 34 48 26 20 38 20 52 12 30 0 44-12 40-20 26-20 34-48 23-62 0-106-15-70-26-60-33-24 4-176 317 0 0 66 42 100 25 120 3 120 13 64 3 61 12 89-2 100-30 116-45 80-61 78-104 85-38 21-52 22-106 27-124 5-86-10-90-26-80-39-104-85-60-78-40-68-22-68-14-64-3-76 13-107 3-63 13-64 4-130 26-116 40-94z"/><path fill="#2a80c4" fill-rule="evenodd" d="M387 2l307 0 5 170-6 10-27 20-27 60-15 70 0 106 24 63 33 47 27 21 36 19 54 12 30 0 44-11 40-20 26-20 34-48 24-63 0-106-15-70-27-60-27-20-6-10 5-170 307 0 2 70 40 96 26 120 2 120 15 84-1 70 9 86-3 74-10 50-14 46-22 44-33 56-56 69-100 82-86 40-100 26-120 6-84-9-90-27-77-37-103-86-55-70-38-64-24-60-14-66-3-60 9-100 0-80 14-74 3-126 25-114 40-96z"/><path fill="#2985c7" fill-rule="evenodd" d="M395 2l297 0 5 176-32 24-27 60-15 70 0 106 25 64 32 46 28 21 35 19 55 13 30 0 44-12 40-20 26-20 34-47 25-64 0-106-15-70-27-60-32-24 5-176 297 0 0 70 42 100 26 120 2 116 15 90-3 94 5 90-3 46-24 90-61 100-50 60-98 80-84 38-94 25-120 5-80-10-86-25-74-38-100-84-55-71-45-77-23-73-7-60 5-96-3-90 15-94 1-96 9-64 26-100 34-76z"/><path fill="#2989ca" fill-rule="evenodd" d="M404 2l288 0 5 176-33 24-26 60-16 70 1 106 25 65 32 45 28 22 34 18 56 14 30 0 40-10 44-22 26-20 34-47 25-65 1-106-15-70-27-60-33-24 5-176 288 0 0 70 42 100 26 126 2 110 15 90-6 230-20 80-44 74-63 80-100 82-80 38-100 25-116 4-84-13-80-26-72-40-92-80-72-94-29-56-16-64-5-46 3-64-6-130 15-90 0-96 9-64 27-100 34-76z"/><path fill="#288dcd" fill-rule="evenodd" d="M412 2l280 0 5 176-33 24-26 59-16 71 0 106 10 35 16 31 31 44 29 22 33 18 57 15 30 0 40-11 44-22 26-20 34-46 16-31 10-35 0-106-16-71-26-59-33-24 5-176 280 0 0 76 27 54 16 46 25 120 2 110 15 94-13 236-21 74-47 76-54 62-100 82-76 36-95 24-115 4-80-12-79-26-65-36-100-87-64-83-27-50-16-60-14-244 15-90 1-96 9-64 27-100 33-70z"/><path fill="#2890cf" fill-rule="evenodd" d="M421 2l271 0 4 176-33 24-25 57-16 73 0 108 11 34 15 31 31 43 29 23 40 20 50 12 30 0 41-11 43-21 26-20 34-46 16-31 10-34 0-108-16-73-25-57-33-24 4-176 271 0 0 76 43 100 26 124 1 106 13 60 2 40-2 80-15 150-20 70-49 80-50 54-100 78-76 35-90 22-110 3-74-11-76-24-64-35-100-81-63-81-26-50-15-56-16-155-2-89 15-90 1-96 8-60 26-100 35-74z"/><path fill="#2795d2" fill-rule="evenodd" d="M424 2l268 0 4 176-18 10-15 14-25 57-16 73 0 108 10 35 16 30 31 43 29 23 40 20 50 12 30 0 41-10 43-22 26-20 34-46 16-30 10-35 0-108-16-73-25-57-15-14-18-10 4-176 268 0 0 76 43 100 26 124 1 106 13 60 3 40-3 84-16 146-23 74-59 90-44 46-95 69-70 32-90 23-110 3-74-11-80-26-66-37-91-73-61-80-27-51-15-55-16-150-3-94 15-90 0-96 9-60 26-100 35-74z"/><path fill="#269cd7" fill-rule="evenodd" d="M438 2l253 0 5 176-18 9-16 15-25 56-15 74 0 110 10 35 16 30 30 41 30 24 40 20 50 11 30 0 43-11 41-20 26-20 34-45 16-30 10-35 0-110-15-74-25-56-16-15-18-9 5-176 253 0 0 80 43 100 25 116 2 110 15 94-1 80-9 70-23 120-34 70-58 76-94 74-76 34-94 23-106 2-70-10-74-23-69-35-86-71-53-70-26-50-13-40-25-150-3-104 15-90 1-96 8-60 26-94 35-76z"/><path fill="#25a3dc" fill-rule="evenodd" d="M453 2l238 0 4 176-17 9-16 15-25 56-16 74 1 110 10 36 15 30 35 44 26 21 40 20 50 10 30 0 44-10 40-20 26-21 35-44 15-30 10-36 1-110-16-74-25-56-16-15-17-9 4-176 238 0 1 86 44 100 24 110 2 110 12 54 3 36-1 80-8 74-32 120-34 70-56 68-90 70-70 31-84 20-100 3-70-9-76-23-64-34-80-68-51-68-29-60-27-94-12-90-2-90 3-36 12-54 1-96 8-54 27-99 34-71z"/><path fill="#24aae1" fill-rule="evenodd" d="M470 2l221 0 4 176-17 8-17 16-24 56-16 74 1 110 10 36 15 30 35 45 26 20 40 20 50 11 30 0 44-11 40-20 26-21 35-44 15-30 10-36 1-110-16-75-24-55-17-16-17-8 4-176 221 0 2 90 43 96 26 114 3 106 17 84-10 156-26 100-45 84-51 66-89 70-68 28-80 19-100 2-64-10-70-22-61-33-76-64-50-70-35-70-22-76-11-84-4-96 17-84 2-96 8-54 25-90 37-76z"/><path fill="#23b1e6" fill-rule="evenodd" d="M488 2l202 0 5 170-3 7-14 7-17 16-25 56-15 74 1 110 10 36 15 30 35 44 26 21 39 20 51 11 30 0 44-11 40-20 26-21 35-44 15-30 10-36 1-110-15-74-25-56-17-16-14-7-3-7 5-170 202 0 2 90 47 100 26 110 3 106 16 54 4 36-2 60-10 80-25 100-35 67-60 77-57 50-33 22-68 28-88 18-94-1-86-19-71-32-69-56-36-40-55-84-19-43-18-73-13-110 0-54 19-80 2-96 11-60 25-82 38-78z"/><path fill="#26b6e7" fill-rule="evenodd" d="M505 2l185 0 5 170-3 7-14 6-17 17-25 56-16 74 1 110 10 36 15 30 35 44 27 21 40 20 50 11 34-1 40-10 40-20 27-21 35-44 15-30 10-36 1-110-16-74-25-56-17-17-14-6-3-7 5-170 185 0 2 96 43 84 31 116 5 110 22 80-2 84-24 126-16 44-21 40-37 53-30 33-60 53-35 21-61 25-84 17-96-2-80-20-64-31-66-53-41-46-50-74-16-40-17-66-15-90-1-70 5-30 17-54 3-96 11-60 26-80 39-74z"/><path fill="#2eb7e4" fill-rule="evenodd" d="M523 2l166 0 5 170-2 6-14 7-18 17-25 56-15 74 1 110 10 36 15 30 35 44 27 22 40 20 50 10 34 0 40-10 40-20 27-22 35-44 15-31 10-35 1-110-15-74-25-56-18-17-14-7-2-6 5-170 166 0 3 100 45 86 32 114 5 106 24 80 0 90-34 135-34 70-36 48-29 31-61 49-44 25-76 24-60 7-84-3-80-22-60-32-70-58-50-62-30-52-19-56-23-94-3-95 6-31 19-54 3-90 12-60 26-80 41-76z"/><path fill="#36b8e1" fill-rule="evenodd" d="M539 2l150 0 5 170-2 6-14 7-18 17-25 56-15 74 1 110 10 36 15 30 34 44 28 22 40 20 50 11 34-1 40-10 40-20 28-22 34-44 15-30 10-36 1-110-15-74-25-56-18-17-14-7-2-6 5-170 150 0 5 106 46 80 32 114 5 106 20 54 7 30 0 86-10 54-28 80-34 66-32 42-30 31-54 45-46 24-70 23-60 8-80-3-80-21-60-32-65-53-49-63-30-51-37-106-9-54 0-56 7-44 22-56 4-100 11-54 24-76 44-74z"/><path fill="#3eb9de" fill-rule="evenodd" d="M549 2l140 0 5 170-35 30-24 56-16 74 1 110 10 36 15 30 35 44 28 22 40 20 50 11 34-1 40-10 40-20 28-22 35-44 15-30 10-36 1-110-16-74-24-56-35-30 5-170 140 0 4 110 48 80 33 110 6 116 20 64 5 30 0 66-8 50-13 40-56 104-30 40-30 30-52 43-46 23-80 24-74 4-60-6-76-24-50-29-70-61-42-58-43-86-15-40-8-44-1-80 25-90 4-100 11-56 26-74 46-76z"/><path fill="#46bbdb" fill-rule="evenodd" d="M557 2l131 0 5 170-34 30-25 56-15 74 1 110 10 36 15 30 35 44 28 23 40 20 50 10 60-5 54-25 36-30 27-37 15-30 11-40-1-110-19-86-20-40-34-30 5-170 131 0 3 110 48 80 35 116 6 110 23 104-2 76-10 44-22 56-66 94-27 30-48 40-55 32-75 23-75 4-60-6-70-23-50-29-63-55-67-90-23-46-18-54-6-70 2-36 22-100 5-94 10-50 24-70 50-86z"/><path fill="#4ebcd8" fill-rule="evenodd" d="M565 2l123 0 5 170-35 30-24 56-15 74 1 110 10 36 15 30 34 44 29 23 40 20 50 10 60-5 54-25 36-29 27-38 15-30 11-40 0-110-20-86-23-44-31-26 5-170 123 0 4 116 49 80 24 70 10 44 6 100 22 130-4 66-25 80-36 54-87 90-36 27-40 21-64 20-60 6-65-4-71-20-50-26-60-51-61-67-34-56-20-60-7-64 22-146 5-94 11-50 24-70 49-80z"/><path fill="#56bdd5" fill-rule="evenodd" d="M572 2l115 0 5 170-30 26-24 44-19 86 0 110 10 40 15 30 28 38 36 29 40 20 50 11 60-6 54-25 36-29 28-38 15-30 10-40 0-110-19-86-24-44-30-26 5-170 115 0 3 116 49 80 35 114 6 100 9 50 3 60 8 36-3 50-25 80-37 54-38 41-70 55-56 30-64 19-60 4-56-4-64-19-50-27-80-63-42-46-31-50-20-60-6-60 20-150 5-94 11-50 25-70 49-80z"/><path fill="#5ebed2" fill-rule="evenodd" d="M580 2l107 0 5 170-31 26-23 44-20 86 0 110 11 40 15 30 28 39 36 29 40 19 50 11 60-6 54-24 36-29 28-39 15-30 11-40 0-110-20-86-23-44-31-26 5-170 107 0 5 120 17 21 32 55 26 74 9 40 6 100 8 56 2 74 6 30-1 36-23 74-39 60-56 53-54 35-50 24-60 18-60 4-56-4-60-18-50-24-74-51-48-51-29-50-18-56-4-40 22-264 9-46 24-70 52-84z"/><path fill="#62becb" fill-rule="evenodd" d="M587 2l99 0 5 170-31 26-22 44-20 86 0 110 11 40 15 30 28 39 36 29 40 20 50 10 60-5 54-25 36-29 28-39 15-30 11-40 0-110-20-86-22-44-31-26 5-170 99 0 4 120 21 26 33 54 22 66 11 44 5 100 7 56 0 90 6 44-20 76-31 50-53 54-76 48-50 19-64 13-86-1-64-15-55-24-65-43-49-51-28-46-15-40-8-44 6-36 0-94 7-56 4-94 12-50 22-66 33-54 21-26z"/><path fill="#61bdc1" fill-rule="evenodd" d="M593 2l92 0 5 170-31 26-22 44-19 86 0 110 10 40 15 30 29 39 36 29 40 20 50 11 60-6 54-25 36-29 29-39 15-30 10-40 0-110-19-86-22-44-31-26 5-170 92 0 3 120 22 27 33 53 24 66 11 44 9 156-2 110 6 34-19 66-31 50-51 51-77 49-47 16-66 12-80-1-64-15-53-22-66-46-46-50-27-44-19-70 6-30-2-110 8-150 12-50 24-66 33-53 22-27z"/><path fill="#60bbb0" fill-rule="evenodd" d="M597 2l88 0 5 170-18 12-16 18-20 40-14 56-5 34 0 100 6 30 20 46 35 45 30 24 40 19 50 11 60-6 54-24 36-29 29-40 15-30 11-41 0-109-19-86-23-44-31-26 5-170 88 0 2 126 23 24 32 50 26 70 11 46 7 140-6 134 4 35-21 61-44 60-35 31-70 43-44 17-66 12-80-2-64-15-50-22-65-44-45-50-26-44-14-52 5-30-7-134 7-140 11-46 26-70 32-50 23-24z"/><path fill="#5eb797" fill-rule="evenodd" d="M605 2l78 0 0 90 5 20 0 60-17 10-17 20-19 40-14 56-5 34 0 106 6 24 20 46 36 46 30 23 40 20 50 10 60-5 54-25 37-29 29-40 15-30 11-40 0-106-5-34-14-56-19-40-17-20-17-10 0-60 5-20 0-90 78 0-1 126 24 27 29 47 30 76 11 50 7 140-17 90-8 74 2 30-8 20-19 30-40 46-57 41-40 19-56 15-45 4-65-2-64-16-46-20-57-41-43-49-21-37-9-114-17-96 7-140 13-50 25-64 30-50 26-30z"/><path fill="#5cb47e" fill-rule="evenodd" d="M613 2l68 0 0 90 5 26 1 50-32 30-21 44-14 56-5 34 0 106 6 24 21 48 36 45 28 22 42 21 50 10 60-5 60-28 32-27 28-38 16-32 11-40 0-106-5-34-14-56-21-44-32-30 1-56 5-20 0-90 68 0-1 130 24 26 30 50 27 70 12 50 8 140-11 54-28 86-20 100-20 26-26 23-44 31-40 18-50 14-36 4-64-2-56-12-44-19-50-34-27-25-20-30-20-100-30-90-8-64 8-120 12-50 27-70 30-50 24-26z"/><path fill="#5eb367" fill-rule="evenodd" d="M622 2l57 0 0 90 5 20 1 50-3 8-30 28-18 40-16 60-4 34 0 106 6 24 22 50 36 44 26 22 44 21 50 10 60-5 60-28 29-24 20-24 33-66 6-24 0-106-4-34-16-60-18-40-30-28-3-8 1-50 5-20 0-90 57 0-1 130 27 30 28 46 27 70 12 50 8 140-8 50-15 40-45 84-35 96-38 33-46 22-64 16-76 0-64-16-50-25-34-30-33-90-43-80-15-40-13-70 10-136 11-44 25-66 30-50 27-30z"/><path fill="#60b251" fill-rule="evenodd" d="M630 2l45 0 1 90 5 20 2 50-33 36-18 40-15 60-5 34 1 106 6 24 23 50 36 46 25 20 45 22 50 10 60-5 60-28 30-25 20-24 33-66 6-24 1-106-5-34-15-60-18-40-33-36 2-50 5-20 1-90 45 0 0 136 28 29 28 45 27 70 10 50 10 120-3 36-20 70-31 54-68 76-54 80-19 14-50 13-60 1-31-4-43-14-26-31-39-59-65-70-29-50-17-46-11-64 11-140 34-102 30-49 28-29z"/><path fill="#63b23a" fill-rule="evenodd" d="M666 42l12 70 1 50-28 30-26 60-14 76 2 114 12 40 15 30 28 37 34 30 46 21 40 10 44 0 26-5 60-26 26-21 36-46 15-30 12-40 2-114-19-90-21-46-27-24 0-56 5-10 5-62 27 102 29 26 29 44 28 70 11 46 9 130-6 54-17 50-32 56-52 51-60 35-60 22-46 5-50-5-60-22-50-28-44-39-21-25-28-50-16-44-8-66 12-140 33-94 32-50 29-26z"/><path fill="#6db530" fill-rule="evenodd" d="M646 168l12-4 6 4-20 30-16 40-18 90 1 114 7 23 21 47 35 46 28 22 40 19 46 12 44 0 26-5 60-26 34-29 29-39 16-30 12-40 1-114-18-90-16-40-19-30 11-3 27 13 37 43 26 61 10 40 11 130-3 36-17 64-27 52-24 32-40 34-50 28-36 13-40 8-70-1-64-18-52-28-44-37-22-27-29-56-17-64-3-36 10-124 11-46 26-61 31-39z"/><path fill="#7fba32" fill-rule="evenodd" d="M627 202l5 2 1 8-12 40-13 76 2 114 12 40 42 66 38 33 40 20 46 11 44 0 26-5 60-26 34-29 30-40 16-30 12-44 2-110-24-124 10 2 23 22 21 38 19 56 11 126-2 34-15 66-16 34-31 46-37 34-53 31-36 13-44 9-66-1-60-16-54-30-59-56-34-64-12-40-5-60 10-120 11-40 29-58z"/><path fill="#91c035" fill-rule="evenodd" d="M607 242l5-4 5 10-11 80 3 114 12 40 15 30 31 40 35 30 60 26 66 5 50-11 40-20 40-34 41-66 12-40 3-114-11-80 5-9 4 3 29 46 13 34 12 136-6 50-13 44-25 51-20 25-34 31-50 30-36 13-50 9-60-1-60-17-55-31-35-30-24-30-25-50-13-44-6-50 12-136 13-34z"/><path fill="#a3c537" fill-rule="evenodd" d="M600 278l2-5 6 9-4 46 4 114 12 40 15 30 30 40 37 31 60 26 66 5 50-11 40-20 37-31 30-40 15-30 12-40 4-114-4-46 6-9 13 19 15 36 14 130-5 44-12 46-24 50-19 24-37 36-45 26-36 14-40 8-60 1-44-9-36-14-51-32-39-40-24-40-12-30-14-60-1-34 11-113 17-43z"/><path fill="#b9cf33" fill-rule="evenodd" d="M597 308l5 4 4 130 12 40 30 50 21 26 31 24 42 22 46 11 40 0 50-11 40-20 38-32 30-40 16-30 12-40 5-130 3-6 12 16 9 36 10 90-1 30-14 67-29 57-55 56-46 26-60 17-66 2-40-8-34-13-50-30-50-55-24-49-13-46-4-50 8-80 9-44z"/><path fill="#d0d92f" fill-rule="evenodd" d="M592 342l6 6 2 14 4 80 7 26 22 44 29 40 40 33 40 20 46 11 40 0 50-11 40-20 30-23 26-30 29-50 12-34 3-70 10-38 9 42 8 96-13 63-23 51-18 26-37 34-46 28-56 16-80 1-54-15-35-20-25-16-33-34-16-24-23-50-8-36-3-50z"/><path fill="#e6e32b" fill-rule="evenodd" d="M592 388l0-5 17 85 22 44 41 52 30 22 40 20 46 11 44 0 26-5 60-26 29-22 28-32 31-50 13-40 9-59 9 89-11 70-21 46-17 25-30 30-56 34-70 18-54-1-46-11-24-11-50-33-33-37-23-40-10-25-8-45-1-44z"/><path fill="#eed928" fill-rule="evenodd" d="M595 458l4 0 30 54 43 53 26 20 44 22 46 10 44 0 30-5 60-27 34-27 21-26 45-77 5 13-1 24-6 46-18 45-17 25-33 33-44 28-30 12-40 9-56 0-40-9-30-12-44-29-33-32-17-26-18-44-6-46z"/><path fill="#f0c624" fill-rule="evenodd" d="M607 492l55 66 36 28 44 22 50 11 66-5 60-25 40-32 54-65 2 6-3 34-13 46-16 24-30 32-44 29-30 13-40 9-46 0-45-8-25-9-60-39-40-51-12-46z"/><path fill="#f1b321" fill-rule="evenodd" d="M621 528l1-4 7 4 39 38 34 25 40 18 50 11 40 0 46-11 44-22 30-22 39-37 7-4 1 4-15 60-36 43-46 29-24 11-36 8-30 1-34-1-36-8-24-11-46-29-36-43z"/><path fill="#f3a11e" fill-rule="evenodd" d="M642 552l56 38 44 21 46 10 44 0 46-10 44-21 56-38 1 6-9 30-17 30-41 30-34 17-30 8-56 2-54-12-61-35-25-36z"/><path fill="#f18f1e" fill-rule="evenodd" d="M667 582l11 0 64 31 50 10 70-6 60-23 20-12 12 0-20 40-32 26-54 20-36 2-40-2-54-20-32-26z"/><path fill="#ef7d20" fill-rule="evenodd" d="M702 608l90 18 46 0 70-19 11 1-27 34-15 10-35 11-30 2-34-2-35-11-15-11z"/><path fill="#ec6b22" fill-rule="evenodd" d="M765 632l91 0-18 10-26 3-30-3z"/></g></g></g><path fill="#d1d1d1" d="M145.60 289.90 L158.80 289.90 L153.75 312.82 Q152.69 317.10 152.40 318.30 L151.40 318.30 Q151.11 317.10 150.05 312.82 L145.60 289.90 Z"/>
<g clip-path="url(#pc7)"><g filter="url(#bl)"><g transform="translate(244.70 287.90) scale(0.1)"><path fill="#fafcfe" fill-rule="evenodd" d="M2 2l1810 0 0 1876-1810 0zM822 38l-14 10 0 10 10 4 20 0 14-10-10-10z"/><path fill="#f0f5fc" fill-rule="evenodd" d="M2 2l1810 0 0 1876-1810 0zM808 16l-21 12-11 14 1 20 13 16 22 9 26 1 24-8 14-12 6-20-14-22-30-12z"/><path fill="#e6eff9" fill-rule="evenodd" d="M2 2l818 0-42 18-14 18-3 14 6 20 15 15 20 9 26 3 24-3 21-8 17-16 6-14-2-20-11-16-21-13-24-7 974 0 0 1876-1810 0z"/><path fill="#dbe9f7" fill-rule="evenodd" d="M2 2l780 0-19 16-11 14-5 21 3 15 9 14 19 16 24 9 26 3 24-2 26-9 20-15 10-16 2-16-4-20-11-14-19-16 936 0 0 1876-1810 0z"/><path fill="#d1e2f5" fill-rule="evenodd" d="M2 2l761 0-18 20-8 20-1 20 6 20 14 16 22 12 50 11 30-3 24-9 20-13 16-18 5-20-2-20-24-36 915 0 0 1876-1810 0z"/><path fill="#c7dcf2" fill-rule="evenodd" d="M2 2l746 0-16 23-7 23-1 20 7 20 17 18 20 12 30 10 30 4 30-3 30-9 24-16 15-16 8-20 0-20-7-25-15-21 899 0 0 1876-1810 0z"/><path fill="#bdd6f0" fill-rule="evenodd" d="M2 2l734 0-16 30-7 26 1 20 9 20 15 15 24 16 30 10 36 3 34-3 30-9 26-14 18-18 9-20 2-26-6-24-14-26 885 0 0 1876-1810 0z"/><path fill="#b2cfee" fill-rule="evenodd" d="M2 2l724 0-23 56 1 24 8 21 18 19 28 17 34 11 36 3 34-3 36-10 24-13 22-19 11-20 3-25-6-31-13-30 873 0 0 1876-1810 0z"/><path fill="#a9c9eb" fill-rule="evenodd" d="M2 2l715 0-24 66 3 24 9 20 19 20 28 17 36 11 40 4 40-3 34-10 30-16 24-23 10-20 3-24-6-31-15-35 864 0 0 1876-1810 0z"/><path fill="#a1c3e8" fill-rule="evenodd" d="M2 2l708 0-20 46-6 24 4 30 14 30-34 59-29 67-27 94-8 70 28 28 40 13 60 6 110 2 110-2 60-6 40-16 28-25-12-79-30-101-25-54-43-66 9-54-22-66 855 0 0 1876-1810 0z"/><path fill="#9abee5" fill-rule="evenodd" d="M2 2l701 0-25 60-3 46-54 94-29 79-26 121 3 40 33 62 16 13 24 13 66 13 134 3 136-3 70-15 24-16 20-23 26-67-18-104-29-90-27-60-52-78-8-38-20-50 848 0 0 1876-1810 0z"/><path fill="#92b8e2" fill-rule="evenodd" d="M2 2l696 0-26 55-5 31-42 64-23 46-30 84-25 120 0 40 15 70 30 51 26 23 30 17 64 14 130 4 136-5 40-7 30-12 33-25 27-34 23-66 7-50-5-40-20-90-23-70-30-64-62-90-28-66 842 0 0 1876-1810 0z"/><path fill="#8bb3de" fill-rule="evenodd" d="M2 2l693 0-27 50-6 21-34 49-36 66-32 90-26 120-2 40 9 74 17 50 30 52 24 28 30 22 36 15 40 9 124 7 130-8 46-13 34-19 36-33 29-44 17-40 8-39 8-77-4-40-21-94-23-70-30-66-38-60-36-42-22-48 836 0 0 1876-1810 0z"/><path fill="#83addb" fill-rule="evenodd" d="M2 2l690 0-7 20-83 124-22 46-25 70-30 130-3 46 6 78 14 52 31 70 35 46 30 27 44 27 40 13 50 9 66 4 64-3 60-10 40-15 41-24 28-24 35-46 29-60 14-44 11-70 0-50-25-130-25-76-28-61-40-64-50-57-10-28 830 0 0 1876-1810 0z"/><path fill="#7ca8d8" fill-rule="evenodd" d="M2 2l689 0-8 20-45 59-35 55-41 88-17 54-25 114-4 40 1 86 12 50 27 74 31 50 33 40 42 36 50 26 70 20 56 5 70-6 50-14 38-17 50-34 42-45 29-45 23-51 20-65 8-74-3-56-27-133-26-74-24-55-56-84-40-43-7-21 827 0 0 1876-1810 0z"/><path fill="#74a2d5" fill-rule="evenodd" d="M2 2l688 0-8 20-45 56-39 61-36 76-20 61-20 86-10 70-1 90 9 50 30 86 37 61 42 49 59 44 40 20 50 15 60 7 60-6 50-13 64-33 50-43 41-51 26-46 29-74 10-41 4-79-4-56-16-86-14-56-20-60-30-66-55-82-39-40-6-20 824 0 0 1876-1810 0z"/><path fill="#6d9cd2" fill-rule="evenodd" d="M2 2l687 0-7 18-47 58-37 58-26 52-30 84-20 86-11 74-4 86 8 54 13 56 21 50 43 70 40 44 50 38 40 21 46 17 70 9 64-7 50-15 66-36 36-31 39-46 37-60 28-68 13-66 2-86-9-84-21-96-25-74-46-92-37-54-39-40-7-20 823 0 0 1876-1810 0z"/><path fill="#6597ce" fill-rule="evenodd" d="M2 2l686 0-9 20-46 56-35 56-27 54-30 84-20 86-11 74-4 80 6 60 18 76 23 54 31 50 37 46 55 44 36 20 50 20 70 11 30 0 76-16 59-29 43-30 43-46 44-64 21-48 20-72 5-40 2-86-10-84-21-96-25-74-31-69-51-77-39-40-8-20 822 0 0 1876-1810 0z"/><path fill="#5e91cb" fill-rule="evenodd" d="M2 2l684 0-4 16-50 59-35 55-27 56-30 84-20 86-11 74-4 80 6 60 17 79 20 51 30 55 35 45 55 47 40 23 49 21 75 12 30 0 80-18 60-30 46-35 42-44 38-61 24-61 17-68 6-40 1-86-10-84-21-96-25-74-32-70-50-76-40-42-6-18 820 0 0 1876-1810 0z"/><path fill="#568cc8" fill-rule="evenodd" d="M2 2l683 0-5 16-48 57-36 57-28 56-30 84-21 91-9 69-5 80 6 60 17 80 21 56 25 47 38 53 55 50 37 21 55 23 71 13 40-1 74-17 66-34 44-34 40-47 40-69 22-55 17-70 5-40 1-86-9-84-21-96-25-74-33-70-51-78-40-42-5-16 819 0 0 1876-1810 0z"/><path fill="#4f86c5" fill-rule="evenodd" d="M2 2l682 0-5 16-47 55-37 59-28 56-30 85-20 85-11 74-4 80 6 60 17 80 20 56 27 52 36 50 54 52 43 26 59 24 64 11 40 0 80-21 63-34 43-36 44-53 34-62 23-59 17-70 6-40 0-86-9-84-21-96-25-74-33-70-52-80-40-40-4-16 818 0 0 1876-1810 0z"/><path fill="#4781c1" fill-rule="evenodd" d="M177 8l3-6 503 0-5 16-46 54-39 60-27 56-30 84-20 86-11 74-4 90 11 80 21 80 39 81 35 49 51 49 39 27 52 24 63 16 50 0 53-10 63-25 34-23 46-38 40-50 36-64 23-60 17-70 5-40 1-86-11-90-20-90-25-74-32-70-54-80-38-40-5-16 507 0 86 140 75 156 35 110 15 110 50 50 35 51 14 12 0 1247-1810 0 0-1534 30-72 62-129z"/><path fill="#407bbe" fill-rule="evenodd" d="M217 8l2-6 463 0-6 16-46 54-38 60-27 56-30 84-20 86-11 74-4 90 11 86 21 74 38 80 32 48 56 54 34 24 56 27 64 15 50 1 56-11 54-22 42-26 46-40 40-50 36-64 23-60 16-70 5-40 1-86-11-90-20-90-25-74-32-71-53-79-39-40-5-16 467 0 79 166 67 170 21 80 14 110 8 13 41 31 27 30 68 115 24 29 0 1132-1810 0 0-1306 26-23 9-21 7-66 13-64 25-86 65-160z"/><path fill="#3875bb" fill-rule="evenodd" d="M255 2l425 0-6 16-46 54-38 60-25 50-32 90-20 86-10 70-5 90 6 60 15 74 21 56 28 54 34 50 56 55 34 24 56 26 74 16 46 0 80-21 34-16 66-48 51-60 36-66 26-64 15-66 6-44 0-86-10-90-20-90-27-80-30-64-53-80-40-40-5-16 430 0 82 170 48 126 33 120 16 104 46 78 50 61 33 51 54 120 12 60 1 50-7 60-17 76-24 74-6 66-19 100-14 50-51 104-25 40-67 80-78 80 94 150 14 30 4 26-1495 0 17-50 82-140-156-146-28-34-24-44 0-832 31-24 40-80 8-66 17-70 34-114 46-116z"/><path fill="#3170b8" fill-rule="evenodd" d="M277 8l2-6 399 0-87 126-30 60-30 84-20 86-11 74-4 90 11 86 22 80 36 74 33 50 60 59 34 23 70 32 50 10 50 0 56-10 64-27 36-23 48-44 39-50 36-64 20-56 18-74 5-40 1-86-11-90-20-90-25-74-35-76-50-74-42-44-2-12 403 0 45 90 57 150 49 170 17 111 36 55 35 71 58 83 32 70 23 106 1 70-10 84-17 60-32 70-59 100-66 86-47 74-59 76-64 61-104 76-66 34-100 40-100 29-80 12-120 4-114-5-76-13-100-28-90-35-51-25-143-113-110-110-18-27-17-50-111-145 0-546 36-34 72-131 6-54 17-76 41-140 58-154z"/><path fill="#2d6fb8" fill-rule="evenodd" d="M302 2l367 0-11 20-40 45-36 55-30 60-30 85-20 85-5 61-5 9 0 60-5 20 5 81 16 75 20 55 30 60 30 45 64 64 30 20 60 30 76 16 60-1 4-4 20-1 50-15 40-20 56-40 50-54 29-45 35-75 20-70 6-55 5-11 0-105-5-10-6-75-19-90-25-75-36-75-50-75-39-40-5-10 373 0 51 99 37 81 22 66 28 114 10 66 7 94 47 66 54 114 51 86 19 54 10 76 0 80-7 74-20 66-25 54-51 90-58 76-50 54-81 70-73 52-90 50-60 26-100 35-84 21-70 10-216 0-70-11-84-20-80-27-66-28-110-62-74-53-64-53-44-50-100-134-38-64 0-424 41-52 100-170 17-146 28-124 28-80 30-70z"/><path fill="#2c73bb" fill-rule="evenodd" d="M322 8l3-6 341 0-54 60-35 56-30 60-30 85-26 119-5 100-5 10 5 90 11 60 25 75 30 61 30 44 66 66 30 20 74 35 50 10 76 0 80-20 40-20 54-40 31-31 35-44 40-75 20-55 16-70 0-30 5-10 0-106-5-10-5-74-21-96-25-74-35-76-50-74-44-46 344 0 59 106 58 134 33 126 20 174 4 16 39 60 57 127 35 67 17 66 6 74-4 96-8 44-26 70-48 96-38 54-60 72-67 64-67 51-80 49-76 37-94 35-100 25-80 11-96 3-94-3-86-11-100-25-84-31-60-30-106-63-77-58-50-46-116-160-29-49-38-94 0-235 25-66 70-140 51-80 9-46 13-134 31-126 29-80 33-70z"/><path fill="#2b78be" fill-rule="evenodd" d="M346 8l2-6 316 0-53 60-35 56-30 60-31 90-25 114-5 96-5 14 5 90 10 56 27 80 30 60 30 45 66 65 30 20 74 35 50 11 70 1 56-12 69-30 55-40 30-30 36-45 40-74 20-56 17-70 0-30 5-10 0-106-5-10-5-74-21-96-25-74-35-76-50-74-43-46 318 0 66 110 40 80 24 60 32 116 12 64 5 90 15 57 4 17 42 76 64 166 13 55 6 75-3 74-14 60-25 66-43 86-47 68-43 51-64 61-76 58-134 74-86 32-74 21-70 14-66 6-130 1-70-6-144-33-70-24-56-26-100-60-79-59-55-48-38-46-88-136-28-60-30-110 3-110 14-70 40-114 34-80 38-60 14-76 15-134 33-126 29-74 35-70z"/><path fill="#2b7cc1" fill-rule="evenodd" d="M365 2l298 0-53 60-35 56-30 60-31 90-20 84-10 70-5 106 5 20 0 34 15 76 22 60 30 60 30 44 65 66 32 21 60 30 70 17 70 0 50-12 70-30 54-40 32-32 50-70 35-74 22-76 10-64 0-106-5-14-5-70-20-90-26-80-35-76-50-74-43-46 300 0 109 196 44 114 24 106 9 104 23 100 42 90 46 150 12 66 4 70-4 50-15 60-35 84-38 70-46 66-35 40-64 60-75 56-76 43-54 26-86 31-90 23-114 14-120 0-70-7-140-33-66-23-52-26-98-59-74-56-56-49-35-46-86-140-27-64-22-90 5-100 50-200 18-46 27-47 12-37 27-200 28-105 44-109z"/><path fill="#2a80c4" fill-rule="evenodd" d="M382 2l280 0-53 60-34 56-33 64-30 85-19 85-6 61-4 9-5 106 5 20 0 34 15 76 22 60 30 60 30 44 65 66 33 22 64 32 66 15 70 0 74-20 46-22 54-40 53-57 32-50 35-76 20-70 10-64 0-106-4-10-6-74-20-90-25-76-37-80-49-74-43-46 282 0 66 110 44 86 50 124 24 100 9 100 29 136 35 80 24 100 17 90 5 80-4 44-17 60-37 90-32 56-46 64-56 60-69 59-50 34-64 38-56 26-79 28-91 23-110 12-114 0-70-7-136-32-64-24-50-24-96-60-75-57-49-46-34-44-80-136-22-50-22-94 4-86 35-190 13-40 27-54 16-66 28-194 26-96 41-100 38-75z"/><path fill="#2985c7" fill-rule="evenodd" d="M397 8l3-6 262 0-53 60-35 56-32 62-30 86-20 85-5 61-5 10-5 106 5 14 0 40 16 76 20 55 32 65 30 44 64 66 34 22 64 32 61 16 75 0 45-10 71-30 58-43 53-57 33-49 34-76 20-70 6-55 5-10 0-106-5-10-6-76-20-90-24-76-37-78-50-74-43-46 264 0 72 116 67 134 41 120 14 66 7 84 17 66 16 94 36 106 24 174 1 60-13 66-29 80-30 60-47 71-60 66-50 45-50 38-76 46-54 26-80 29-90 23-66 9-190 0-64-10-90-23-70-26-56-27-94-61-83-66-55-60-84-146-18-40-17-64-6-40 1-40 27-206 13-44 17-40 21-96 30-194 28-96 44-104 56-106z"/><path fill="#2989ca" fill-rule="evenodd" d="M417 2l244 0-53 60-35 56-31 60-30 86-20 85-5 63-5 10-5 106 5 14 0 40 16 78 20 55 31 63 30 44 65 66 34 23 63 31 35 10 32 6 70 0 26-6 54-16 70-40 54-49 39-49 40-76 21-57 21-107 0-100-21-144-34-116-36-75-50-75-43-46 246 0 74 116 46 84 50 120 28 106 10 94 18 70 20 120 19 56 8 40 14 174-1 46-13 60-33 90-23 45-43 65-58 64-56 50-48 35-69 42-130 53-86 22-64 9-186-1-60-9-90-24-70-26-50-25-93-60-80-66-54-60-77-140-16-34-12-46-9-50 0-40 16-190 23-80 24-120 30-190 30-100 43-100 57-104z"/><path fill="#288dcd" fill-rule="evenodd" d="M432 8l2-6 227 0-54 60-35 56-30 60-30 84-20 86-6 64-4 10-5 106 4 15 1 39 16 80 20 54 30 62 30 44 65 66 35 24 61 30 35 10 34 6 70 0 28-6 52-15 70-40 54-50 40-49 40-76 20-55 21-109 0-100-20-146-35-114-35-76-50-74-44-46 229 0 80 121 46 85 49 114 28 100 12 100 18 66 23 150 17 64 5 40 3 130-5 66-13 54-28 80-65 109-56 61-54 49-116 74-114 47-126 30-60 4-110 0-100-13-134-40-88-45-74-50-78-66-36-37-25-43-67-130-18-64-8-80 7-166 56-290 5-54 32-130 59-140 54-96z"/><path fill="#2890cf" fill-rule="evenodd" d="M451 2l210 0-54 61-35 55-30 60-30 84-20 86-6 64-5 10-4 106 4 14 1 40 10 60 15 50 40 86 30 44 71 70 30 20 60 30 35 10 35 6 70 0 29-6 51-15 70-40 55-49 40-50 40-76 20-54 15-65 5-51 1-100-5-10 0-40-16-90-35-115-35-75-50-74-44-46 212 0 84 126 51 90 43 100 19 54 16 66 9 84 20 70 39 266-9 164-18 76-20 60-26 50-38 60-53 60-56 49-44 33-76 44-110 43-124 28-166 2-110-17-130-44-104-64-116-94-26-30-24-40-64-136-21-94-5-140 19-166 54-294 31-100 43-96 39-70z"/><path fill="#2795d2" fill-rule="evenodd" d="M457 2l203 0-53 60-35 56-30 60-30 84-20 86-6 64-5 10-5 106 5 14 0 40 11 60 15 50 40 86 30 44 71 71 89 50 35 10 30 5 70 0 36-5 50-15 69-40 56-50 40-50 40-76 20-54 15-66 6-50 0-100-5-10 0-40-16-90-35-114-35-76-50-74-43-46 205 0 86 126 53 94 41 96 19 54 16 66 10 84 21 76 36 264-12 160-19 80-19 56-61 104-53 60-55 50-46 33-74 44-126 48-104 21-166 3-110-18-64-19-66-25-104-65-111-92-26-30-23-39-63-135-21-90-8-136 18-170 55-294 31-100 43-96 42-74z"/><path fill="#269cd7" fill-rule="evenodd" d="M486 2l174 0-54 60-35 56-40 84-35 120-15 100-5 106 5 20 1 40 15 74 20 56 30 60 31 45 70 70 30 20 74 35 50 11 76 0 80-21 40-20 60-45 65-75 40-76 20-54 15-66 6-50 0-100-20-140-35-114-35-76-50-74-44-46 176 0 98 136 72 134 26 60 27 90 15 100 20 60 10 56 13 114 6 120-6 96-49 163-27 56-31 51-50 60-54 50-73 50-51 27-112 43-102 20-156 1-104-17-66-19-60-25-94-60-107-90-25-30-20-36-59-134-33-120-4-66 5-144 14-116 28-110 5-50 16-70 33-94 44-96 36-64z"/><path fill="#25a3dc" fill-rule="evenodd" d="M507 8l2-6 150 0-54 60-35 56-39 84-35 120-16 100-4 106 5 20 0 40 15 74 20 56 30 60 32 46 70 69 30 20 74 35 50 11 76 0 80-21 40-20 60-44 66-76 40-76 20-54 15-66 5-49 1-101-21-140-35-114-34-76-50-74-44-46 151 0 106 146 47 80 24 50 38 94 16 56 14 94 23 60 13 60 10 156-8 164-12 50-20 50-48 100-37 61-41 49-55 52-74 52-50 26-116 40-60 13-60 4-100 0-54-6-70-16-80-28-50-25-70-49-97-87-29-40-38-86-39-70-23-64-7-40-4-196 10-120 32-110 7-54 33-116 57-130 58-95z"/><path fill="#24aae1" fill-rule="evenodd" d="M521 8l3-6 134 0-53 60-35 56-30 60-30 84-25 116 0 30-5 14 0 56-5 14 5 90 11 60 25 76 30 60 31 46 71 70 90 50 64 16 76 0 80-21 40-20 60-45 30-30 36-46 40-76 20-54 15-66 6-50 0-100-20-140-35-114-35-76-50-74-43-46 135 0 51 70 97 156 50 104 33 106 13 84 28 70 16 86 1 164-10 100-10 50-21 60-27 57-46 66-54 70-50 48-56 41-44 27-66 29-60 20-64 14-146 4-90-12-120-40-44-24-66-47-85-77-26-36-90-154-23-80-11-120-3-136 12-80 34-100 5-44 20-80 39-106 35-70 56-90z"/><path fill="#23b1e6" fill-rule="evenodd" d="M536 2l122 0-54 60-35 56-30 60-29 84-25 116-1 30-5 14 1 56-5 14 5 90 10 60 25 76 30 60 33 47 70 69 90 50 64 16 76 0 80-21 40-20 60-44 30-30 36-47 41-76 20-54 15-66 5-50 0-100-20-140-34-114-35-76-50-74-44-46 123 0 54 76 49 80 68 124 27 60 30 96 11 84 31 70 20 96 3 60-9 104-9 70-15 70-18 50-28 60-41 62-44 48-66 58-66 46-100 48-114 30-140 3-50-5-50-12-96-34-40-22-74-54-86-72-40-56-64-119-26-101-18-174 1-56 12-64 38-100 22-120 33-90 96-180z"/><path fill="#26b6e7" fill-rule="evenodd" d="M544 8l4-6 109 0-54 60-34 56-30 60-30 84-25 116-5 100-5 14 5 90 11 60 25 76 30 60 33 48 70 69 90 50 64 15 76 0 80-20 40-20 60-44 30-30 37-48 40-76 20-54 15-66 6-50 0-100-20-140-35-114-35-76-49-74-44-46 111 0 56 76 28 44 109 220 31 96 14 89 30 69 22 86 4 56-2 44-24 150-12 46-35 90-57 91-45 49-52 44-69 44-44 22-96 33-60 13-40 3-140-3-70-15-59-19-52-22-73-46-86-69-40-52-63-118-29-91-22-144-4-60 8-70 12-45 33-81 8-54 17-70 30-80 93-190 40-66z"/><path fill="#2eb7e4" fill-rule="evenodd" d="M556 8l4-6 95 0-49 56-38 60-30 60-30 84-24 116-5 100-5 14 0 40 5 16 5 70 10 44 20 56 31 60 30 44 73 73 90 50 60 15 80 1 80-21 40-20 60-44 30-30 37-48 41-76 20-54 15-66 5-50 0-100-20-140-34-114-35-76-53-80-39-40 98 0 16 20 46 60 47 80 94 220 19 60 13 86 44 104 14 76-1 90-37 164-52 120-35 56-39 45-84 72-60 36-66 27-54 17-66 13-134 2-96-15-90-30-104-64-80-69-35-50-66-124-21-66-29-144-3-66 9-64 13-40 21-40 13-46 9-54 20-76 72-174 42-90 38-60z"/><path fill="#36b8e1" fill-rule="evenodd" d="M571 2l83 0-50 56-37 60-29 60-30 84-20 86-5 60-5 10-5 110 5 20 1 40 10 54 15 50 40 86 34 50 65 64 35 24 60 30 64 15 80 0 76-20 70-40 60-54 53-75 35-74 20-70 11-70 0-110-5-10 0-40-15-86-35-114-34-76-52-80-40-40 85 0 67 83 30 46 33 67 71 184 19 60 14 86 28 74 20 40 12 56 2 90-23 104-26 80-30 70-64 100-41 46-55 46-66 40-70 30-110 27-134 3-90-15-90-31-100-61-75-65-32-44-71-130-30-90-21-86-6-84 10-66 38-84 39-166 65-180 43-90 40-61z"/><path fill="#3eb9de" fill-rule="evenodd" d="M582 8l3-6 67 0-49 56-38 60-29 60-29 84-19 86-6 59-4 11-5 114 5 16 0 40 15 74 21 56 30 60 30 44 74 74 90 50 60 15 84 0 76-20 40-20 60-44 30-30 38-49 40-76 21-54 20-110 0-110-5-10 0-40-14-86-34-114-34-76-53-80-39-40 67 0 56 60 70 106 53 124 43 150 16 90 58 146 8 50 0 44-13 86-17 54-54 120-57 92-45 48-55 48-66 40-70 30-104 26-136 1-90-16-94-36-90-60-76-70-73-123-48-104-21-80-6-50-1-56 9-53 44-97 38-160 54-174 30-66 30-48 44-63z"/><path fill="#46bbdb" fill-rule="evenodd" d="M601 8l5-6 41 0-47 56-37 60-28 60-29 84-19 86-10 74-5 110 5 15 1 41 15 74 20 56 30 60 30 44 69 71 36 24 60 30 60 15 84 0 76-20 40-20 59-44 31-30 35-46 44-80 20-54 21-110 0-106-19-140-34-114-34-76-50-80-38-40 40 0 95 95 49 75 52 120 25 96 24 140 68 174 4 80-16 90-23 66-24 44-65 108-40 49-50 49-44 31-50 30-66 27-100 24-130 1-84-16-91-34-89-59-71-64-90-140-40-86-22-94-1-96 5-24 51-116 28-120 16-90 16-60 24-64 46-91 42-60z"/><path fill="#4ebcd8" fill-rule="evenodd" d="M626 8l6 0-34 45-35 59-28 60-31 90-23 116-10 154 5 16 1 40 15 74 21 56 30 60 33 50 66 66 36 23 60 30 60 15 84 0 76-20 74-43 57-51 38-50 40-76 31-94 10-70 1-106-5-14-5-76-19-90-39-114-33-66-57-84 51 40 86 90 60 112 33 98 18 90 9 98 71 186-1 90-19 86-21 52-40 68-100 124-50 44-60 39-60 28-50 17-80 15-126-1-100-24-65-28-85-57-64-61-93-126-43-96-18-84-2-86 62-150 11-50 13-114 27-106 25-64 48-90 65-76z"/><path fill="#56bdd5" fill-rule="evenodd" d="M570 78l5 0-43 94-29 90-23 116-9 154 16 110 25 76 30 60 33 50 67 66 36 24 74 34 50 11 80-1 76-20 40-19 60-43 32-32 38-50 40-76 31-94 10-66 1-110-5-14 0-40-23-126-25-80-49-116 36 32 58 66 40 77 17 41 19 60 17 86 7 115 13 45 56 140 0 70-15 74-20 56-24 43-29 47-46 54-105 95-60 38-54 24-106 28-120 2-84-15-80-29-91-59-78-68-83-106-42-84-21-96-2-70 67-170 4-90 10-70 18-80 33-90 34-64z"/><path fill="#5ebed2" fill-rule="evenodd" d="M540 128l5 0-2 10-42 124-18 86-9 70-4 114 5 16 0 40 16 74 20 56 33 64 30 46 66 64 38 26 60 30 60 15 84 0 46-10 40-15 34-18 56-40 32-32 38-48 51-102 20-70 11-70 1-106-10-90-19-94-44-144 64 69 36 59 26 70 18 66 10 60 9 150 62 160 0 44-6 41-12 49-19 50-40 70-35 46-29 31-60 51-104 65-85 32-81 15-120-1-100-25-64-31-76-46-50-38-59-69-56-80-25-54-10-36-12-64 0-50 62-171 3-99 10-76 28-104 45-99 37-47z"/><path fill="#62becb" fill-rule="evenodd" d="M521 168l3 0-1 14-23 76-18 90-9 70 0 60-4 14 6 96 10 54 15 50 40 86 34 50 68 68 36 23 60 30 60 15 84 0 76-20 40-20 60-43 33-33 51-72 28-54 20-54 21-110 0-110-4-10-5-76-18-94-26-101 22 21 48 58 23 52 27 90 11 60 9 172 55 152 1 40-12 66-15 44-46 86-61 74-38 36-54 39-80 42-56 20-70 16-144 2-66-12-80-26-104-61-61-50-84-111-40-89-12-66-3-40 57-160 4-140 11-74 19-76 39-92z"/><path fill="#61bdc1" fill-rule="evenodd" d="M503 208l5-4 1 4-1 14-27 126-9 70 1 60-5 14 6 96 25 104 41 86 33 50 69 69 36 23 60 29 60 15 84 0 86-24 34-18 56-40 34-34 36-46 53-104 20-70 10-66 1-110-4-20 0-34-12-86-24-108 56 58 19 40 27 86 12 74 6 188 53 148 1 14-11 60-14 46-44 84-59 75-86 70-84 46-50 18-76 18-134 2-70-11-86-28-100-57-62-53-76-100-42-90-15-90 52-150 3-164 21-120 35-94z"/><path fill="#60bbb0" fill-rule="evenodd" d="M497 238l-22 140-8 154 16 110 26 76 32 64 31 46 70 70 36 22 60 30 60 15 84 0 86-25 34-17 56-41 35-34 35-46 53-104 21-70 10-66 1-110-4-20 0-34-25-156 4-2 8 8 42 47 22 57 21 90 8 126-2 114 47 136 1 14-21 86-45 84-56 70-76 66-89 49-50 18-66 16-90 6-94-6-106-30-100-56-63-53-74-94-18-30-25-60-14-76 47-144 0-190 23-120 24-68z"/><path fill="#5eb797" fill-rule="evenodd" d="M472 318l6 2 0 12-10 86-3 120 16 104 32 90 26 50 30 46 73 72 90 50 70 17 80 0 76-20 34-17 69-48 31-31 39-49 51-100 27-100 6-40 1-110-13-130 5-6 14 15 30 40 20 71 8 126-13 174 39 136-13 44-36 70-45 59-40 40-46 37-38 23-40 21-50 19-90 21-116 1-74-12-76-25-90-52-64-54-79-108-33-84 40-136-13-144 2-116 23-109z"/><path fill="#5cb47e" fill-rule="evenodd" d="M462 388l6 14-4 16-2 114 11 86 22 80 41 84 35 50 71 70 90 50 70 17 80 0 50-12 60-25 70-48 32-32 38-48 42-76 33-100 10-66 3-114-4-20 2-41 4 2 39 53 6 46 4 80-2 50-10 74-21 106 28 134-22 50-46 63-76 68-70 42-84 30-76 14-114-1-93-20-43-17-60-35-70-52-57-72-27-40-11-24 27-140-27-140-7-116 2-54 16-58z"/><path fill="#5eb367" fill-rule="evenodd" d="M457 462l8 126 17 80 21 54 31 60 34 50 71 70 33 23 60 29 66 17 80 0 54-12 70-29 60-43 35-35 39-50 41-74 32-96 12-70 1-84 6-16 24 50 8 50-1 50-18 110-41 140 13 130-20 36-38 40-37 31-66 40-64 27-86 19-114 1-66-12-74-26-86-52-51-44-37-54 9-136-43-144-18-126 6-79 10-25z"/><path fill="#60b251" fill-rule="evenodd" d="M466 632l33 90 31 60 35 50 73 72 34 23 76 35 50 11 80 0 54-11 70-30 60-42 36-35 57-77 36-76 26-73 7 93-26 86-57 124-5 95-7 41-34 30-63 36-74 26-70 13-106-1-60-12-64-23-76-45-31-30-7-50-1-85-55-111-26-74-5-34z"/><path fill="#63b23a" fill-rule="evenodd" d="M532 802l100 101 40 28 60 29 70 16 80 0 50-11 40-15 30-14 66-47 37-37 43-51 2 7-17 74-92 126-32 70-39 54-26 16-42 10-84 1-39-1-43-10-21-10-17-20-26-39-29-71-45-57-52-79z"/></g></g></g><path fill="#d1d1d1" d="M322.20 289.90 L335.40 289.90 L329.35 313.22 Q328.29 317.60 328.00 318.80 L327.00 318.80 Q326.71 317.60 325.65 313.22 L322.20 289.90 Z"/>
<g clip-path="url(#pc8)"><g filter="url(#bl)"><g transform="translate(420.20 287.90) scale(0.1)"><path fill="#fafcfe" fill-rule="evenodd" d="M2 2l1810 0 0 1876-1810 0zM822 38l-14 10 0 4 14 10 26 0 10-10 0-4-16-10z"/><path fill="#f0f5fc" fill-rule="evenodd" d="M2 2l1810 0 0 1876-1810 0zM808 17l-21 11-12 20 2 14 15 16 26 9 30 1 24-9 17-16 1-21-19-20-29-8z"/><path fill="#e6eff9" fill-rule="evenodd" d="M2 2l818 0-28 8-20 12-11 16-2 20 7 14 18 16 24 9 24 2 26-2 24-9 18-16 7-14-2-20-11-16-22-12-25-8 965 0 0 1876-1810 0z"/><path fill="#dbe9f7" fill-rule="evenodd" d="M2 2l777 0-21 16-11 14-5 16 3 20 13 16 20 14 24 9 30 3 30-3 26-8 20-14 13-17 3-20-4-16-12-14-21-16 925 0 0 1876-1810 0z"/><path fill="#d1e2f5" fill-rule="evenodd" d="M2 2l753 0-17 18-10 18-2 19 8 21 14 15 24 16 30 9 30 3 30-3 30-9 26-15 14-16 8-20-2-20-10-20-17-16 901 0 0 1876-1810 0z"/><path fill="#c7dcf2" fill-rule="evenodd" d="M2 2l732 0-15 20-8 20 2 26 10 20 19 18 26 14 30 8 34 4 36-3 30-9 24-13 21-19 10-20 2-26-8-20-15-20 880 0 0 1876-1810 0z"/><path fill="#bdd6f0" fill-rule="evenodd" d="M2 2l714 0-15 26-5 24 5 25 12 21 24 20 25 12 36 10 34 3 36-3 34-9 30-16 21-17 12-20 5-26-5-24-15-26 862 0 0 1876-1810 0z"/><path fill="#b2cfee" fill-rule="evenodd" d="M2 2l698 0-14 26-4 30 5 25 15 23 26 20 30 15 34 9 40 3 40-3 36-9 30-14 24-20 17-25 5-24-2-26-15-30 845 0 0 1876-1810 0z"/><path fill="#a9c9eb" fill-rule="evenodd" d="M2 2l683 0-13 30-3 30 6 26 16 24 27 23 30 14 40 11 44 5 46-4 40-11 34-18 23-20 17-24 6-26-3-30-13-30 830 0 0 1876-1810 0z"/><path fill="#a1c3e8" fill-rule="evenodd" d="M2 2l669 0-14 46 0 44-59 101-37 95-29 124-9 70-1 38 30 24 56 16 74 6 150 2 150-2 76-6 54-15 26-15 9-12-14-126-20-84-36-100-25-50-42-66-1-50-13-40 816 0 0 1876-1810 0z"/><path fill="#9abee5" fill-rule="evenodd" d="M2 2l640 0-11 46-60 94-22 46-31 83-26 101-10 61-5 45 1 54 14 29 20 25 30 21 36 15 80 12 174 4 181-4 85-14 30-14 24-20 20-25 21-39-10-110-25-116-40-111-27-53-55-84-8-46 784 0 0 1876-1810 0z"/><path fill="#92b8e2" fill-rule="evenodd" d="M2 2l616 0-8 36-58 90-24 50-32 84-27 106-11 64-5 106 17 50 32 50 30 28 30 18 40 12 46 7 184 5 186-5 44-6 40-12 39-23 33-34 34-75 8-31 1-30-15-110-20-84-40-116-30-60-52-80-8-40 760 0 0 1876-1810 0z"/><path fill="#8bb3de" fill-rule="evenodd" d="M2 2l600 0-7 30-55 86-28 54-45 131-15 65-15 100-3 60 14 61 24 61 20 33 35 39 41 28 40 14 50 8 174 5 176-5 50-8 40-13 34-21 32-32 40-66 8-25 21-94-5-71-15-90-30-110-25-64-33-66-50-74-7-36 744 0 0 1876-1810 0z"/><path fill="#83addb" fill-rule="evenodd" d="M2 2l588 0-6 26-55 84-28 56-45 129-16 71-15 100-4 60 13 70 17 54 31 66 40 54 40 34 46 21 50 12 174 8 170-7 50-11 40-16 40-28 36-39 26-44 30-69 20-105 1-36-21-144-30-110-25-66-33-64-50-76-6-30 732 0 0 1876-1810 0z"/><path fill="#7ca8d8" fill-rule="evenodd" d="M2 2l579 0-5 20-54 82-30 59-34 95-27 104-19 166 9 70 16 60 25 64 32 60 38 49 50 40 46 22 50 13 154 10 96-3 64-8 50-13 50-25 36-30 42-49 31-56 36-94 15-101 2-49-20-140-32-115-24-65-36-69-48-71-5-26 723 0 0 1876-1810 0z"/><path fill="#74a2d5" fill-rule="evenodd" d="M2 2l574 0-6 20-52 81-30 59-30 80-20 70-21 110-10 100 5 76 13 60 21 64 46 96 51 64 35 32 44 28 60 23 66 12 84 5 80-4 70-12 60-23 56-35 49-50 41-62 28-58 32-100 10-82 1-68-21-146-30-109-26-66-34-69-48-70-6-26 718 0 0 1876-1810 0z"/><path fill="#6d9cd2" fill-rule="evenodd" d="M2 2l572 0-3 16-59 89-25 51-25 62-24 84-24 118-10 100 3 80 9 60 20 66 42 96 44 69 40 45 59 44 57 30 64 18 90 9 80-6 66-16 64-31 58-44 48-52 42-68 38-81 19-63 11-51 3-139-20-140-33-120-25-66-31-60-53-80-3-20 716 0 0 1876-1810 0z"/><path fill="#6597ce" fill-rule="evenodd" d="M2 2l570 0-3 16-57 86-30 61-34 96-26 101-20 166 2 70 14 100 24 74 36 79 34 55 56 66 54 45 60 34 66 22 84 11 70-7 90-29 46-26 65-54 59-70 32-56 44-99 14-59 8-47 3-149-20-140-31-112-24-66-36-71-51-77-3-20 714 0 0 1876-1810 0z"/><path fill="#5e91cb" fill-rule="evenodd" d="M2 2l569 0-4 16-55 84-30 60-35 96-26 104-20 166 1 75 19 125 19 64 28 63 50 80 47 57 67 59 60 32 66 22 74 11 66-7 60-18 54-26 70-53 50-52 44-62 46-93 20-59 21-108 1-156-15-110-21-90-40-114-36-71-49-75-4-20 713 0 0 1876-1810 0z"/><path fill="#568cc8" fill-rule="evenodd" d="M2 2l568 0-4 16-54 82-31 62-35 96-26 104-20 166 1 74 17 126 30 101 24 54 50 79 50 57 51 45 69 40 70 25 70 9 70-8 65-22 55-29 70-57 50-56 43-64 43-93 18-67 18-100 1-114 0-46-15-110-21-90-40-114-37-73-48-73-4-20 712 0 0 1876-1810 0z"/><path fill="#4f86c5" fill-rule="evenodd" d="M2 2l567 0-4 16-53 80-32 64-35 96-26 104-20 166 1 74 16 126 32 112 30 68 54 83 48 51 33 31 99 58 60 17 60 8 70-9 70-24 60-34 70-61 48-56 42-68 36-86 21-76 16-100 1-120 0-40-15-110-21-90-40-114-37-75-48-71-4-20 711 0 0 1876-1810 0z"/><path fill="#4781c1" fill-rule="evenodd" d="M2 2l565 0-4 16-52 80-30 60-37 100-25 100-21 170 0 74 17 126 27 104 35 86 46 74 49 57 36 34 54 36 46 23 60 19 64 8 70-8 76-27 60-35 70-62 50-62 35-63 40-104 17-66 16-100 1-120 0-40-15-110-21-90-40-114-37-76-47-70-4-20 709 0 0 1876-1810 0z"/><path fill="#407bbe" fill-rule="evenodd" d="M2 2l564 0-3 14-53 82-31 60-37 100-26 104-20 166 1 74 17 130 27 100 31 80 50 89 46 55 30 30 36 26 68 39 66 21 64 8 76-10 74-27 60-35 50-44 66-82 38-70 39-104 16-60 17-106 0-50 1-110-15-110-21-90-40-114-38-76-47-71-4-19 611 0 57 136 40 131 0 1609-1810 0z"/><path fill="#3875bb" fill-rule="evenodd" d="M142 2l422 0-2 12-57 88-30 60-35 96-25 100-20 170 0 74 16 126 27 104 34 86 47 84 43 56 30 32 36 28 70 40 64 22 66 9 80-9 74-28 66-39 49-45 64-86 37-70 39-104 17-66 16-100 0-154-20-146-30-110-25-64-35-70-52-79-3-17 420 0 79 176 52 150 24 114 5 136 6 30 20 34 47 66 54 56 0 1114-1810 0 0-1515 56-171z"/><path fill="#3170b8" fill-rule="evenodd" d="M200 2l363 0-5 16-53 80-30 60-36 100-25 100-21 164 0 80 16 130 26 100 36 90 44 80 73 90 60 47 51 29 63 20 66 9 30 0 50-9 80-30 60-38 50-48 67-90 34-64 41-110 15-60 17-106 0-64 0-96-16-114-35-136-26-70-35-70-48-70-5-20 361 0 60 130 23 66 29 104 23 140 4 166 22 104 9 13 33 27 141 101 0 1025-1810 0 0-1135 36-27 14-44 8-74 1-100 7-76 25-140 38-124z"/><path fill="#2d6fb8" fill-rule="evenodd" d="M232 8l2-6 318 0-54 86-35 70-1 10-9 14-25 70-1 16-9 20-6 40-9 24-1 26-4 4-1 26-4 4-1 36-4 4-1 56-4 4-1 96 5 10 6 90 4 4 1 26 9 24 1 20 25 86 50 110 32 50 67 82 60 47 60 25 70 18 80 7 70-11 74-28 12-1 50-33 52-52 66-90 41-80 35-100 11-54 4-6 6-54 4-6 1-34 4-10 0-170-4-10-1-40-4-6-6-60-4-4-1-20-14-46-1-14-14-36-1-14-9-16-16-50-40-80-35-54-14-16 0-10 316 0 60 136 41 134 27 160 6 190 24 96 23 64 13 17 130 84 54 46 0 949-1810 0 0-1062 36-16 11-12 42-116 8-60 2-114 7-86 17-104 40-146 20-54z"/><path fill="#2c73bb" fill-rule="evenodd" d="M247 8l3-6 296 0-54 80-35 70-35 96-26 104-5 50-5 10 0 30-5 10 0 50-5 10 0 100 5 10 5 86 21 100 40 114 35 70 55 80 45 50 66 51 70 35 85 20 65 0 84-20 60-30 50-35 61-61 60-84 39-80 36-100 15-60 16-110 0-176-5-10 0-34-5-10-6-60-35-136-25-64-40-80-49-76 294 0 66 140 22 66 28 104 20 140 4 258 4 21 51 117 135 88 64 61 0 881-1810 0 0-1007 46-20 10-8 49-115 5-56-1-184 12-110 14-76 38-134 23-59z"/><path fill="#2b78be" fill-rule="evenodd" d="M266 2l278 0-53 80-35 70-35 96-26 104-15 100 0 50-5 10 0 100 5 10 5 86 22 100 40 114 35 70 55 80 45 50 66 51 70 35 84 21 60 1 36-6 54-16 60-30 50-35 61-61 60-84 39-79 36-101 17-66 15-100 0-180-20-134-31-116-25-64-40-80-49-76 277 0 72 146 23 64 28 106 21 134 6 326 51 114 129 86 80 82 0 818-1810 0 0-959 60-28 55-119 2-274 20-160 21-90 24-76 25-60z"/><path fill="#2b7cc1" fill-rule="evenodd" d="M280 8l3-6 260 0-55 86-52 114-32 106-25 144 0 46-5 14 0 100 5 16 5 80 30 130 34 88 48 92 40 54 45 51 51 41 57 34 63 23 50 10 60 0 36-5 54-17 60-30 50-35 62-62 60-84 38-77 39-109 15-60 15-100 0-180-20-134-30-110-27-70-39-80-48-76 258 0 40 70 39 80 41 120 17 76 16 110 3 324 5 36 46 113 130 87 46 54 44 73 0 733-1810 0 0-912 70-36 51-112 5-150-1-170 15-130 26-116 26-74 26-60z"/><path fill="#2a80c4" fill-rule="evenodd" d="M300 2l242 0-54 84-55 122-30 100-25 144 0 46-5 14 0 100 4 10 6 86 30 130 35 90 47 90 40 54 45 50 52 43 56 33 64 24 50 10 60 0 36-5 50-15 64-32 50-35 63-63 60-84 37-75 40-111 15-60 15-100 0-180-20-134-30-110-24-66-43-84-47-76 239 0 46 76 41 80 43 120 17 70 16 110 7 394 45 114 120 83 17 19 25 44 28 70 40 70 0 626-1810 0 0-865 36-16 46-29 48-124 3-342 16-134 27-116 25-70 27-60z"/><path fill="#2985c7" fill-rule="evenodd" d="M312 2l230 0-54 83-56 121-30 100-25 146 0 50-5 10 0 96 5 14 0 50 25 131 41 115 37 74 55 80 44 50 53 43 54 33 66 24 50 11 60 0 36-6 50-15 64-32 50-35 83-87 40-60 43-85 34-100 26-121 0-30 5-10 0-180-5-9 0-35-5-10-11-82-30-110-26-68-38-78-50-78 228 0 88 160 43 116 19 74 16 110 6 414 44 124 83 62 43 40 76 180 5 36-5 60 8 7 30 6 0 487-1810 0 0-819 40-19 54-38 20-70 22-54 5-56 0-320 15-130 17-74 37-110 29-60z"/><path fill="#2989ca" fill-rule="evenodd" d="M322 2l219 0-53 81-56 121-30 100-25 148 0 50-5 10 0 96 5 14 0 50 25 133 40 115 37 72 55 80 44 50 54 44 60 35 59 21 51 11 60 0 37-5 50-16 63-31 54-39 80-84 42-63 50-105 40-135 10-63 0-30 5-10 0-180-5-10 0-35-16-93-44-150-50-106-50-76 218 0 89 166 44 114 18 70 17 110 6 436 25 74 13 56 118 110 33 70 26 90-2 144 39 22 40 9 0 405-1810 0 0-771 60-35 46-34 5-10 12-60 23-70 3-396 16-130 16-70 39-110 54-110z"/><path fill="#288dcd" fill-rule="evenodd" d="M332 2l209 0-54 80-55 120-30 100-25 150-1 50-4 10 0 96 4 14 1 50 25 135 40 114 36 71 55 80 45 50 54 45 60 35 57 20 53 11 60 0 39-5 50-16 61-30 55-40 80-84 41-62 50-104 40-135 10-65 1-30 4-10 0-180-4-10-1-34-16-95-44-151-50-105-49-75 207 0 49 86 41 80 44 114 19 76 16 104 6 460 23 76 10 64 114 107 21 43 14 46 6 170-8 40-18 54 79 65 30 15 30 6 0 270-1810 0 0-724 50-29 66-52 6-11 13-74 19-70 3-416 16-124 17-76 39-110 54-110z"/><path fill="#2890cf" fill-rule="evenodd" d="M342 2l199 0-54 80-55 120-30 100-26 150 0 50-4 10 0 96 4 20 1 44 25 136 40 114 50 96 40 54 45 51 55 44 60 35 56 20 54 11 60 0 40-5 50-16 60-30 50-35 86-89 40-60 50-106 40-134 10-66 1-30 4-10 0-180-4-10 0-34-16-96-45-150-50-104-49-76 196 0 67 116 46 100 26 74 24 100 9 76 8 334-2 140 18 70 8 80 3 8 110 102 18 56 7 130-3 44-17 60-41 106 146 144 30 21 30 8 0 107-1810 0 0-270 26-6 21-14-47-110 0-255 19-31 47-33 70-63 9-78 17-70 3-446 15-120 18-74 40-116 52-104z"/><path fill="#2795d2" fill-rule="evenodd" d="M346 2l194 0-53 80-55 120-30 100-26 150 0 46-5 14 0 96 5 20 0 44 26 136 40 114 35 70 55 80 46 51 54 45 60 35 56 20 54 10 60 0 40-5 50-15 60-30 51-35 85-90 40-61 50-104 40-135 11-66 0-30 5-10 0-180-5-10 0-34-16-96-45-150-50-104-49-76 193 0 67 116 46 100 26 74 25 106 9 64 5 210 1 280 17 76 6 74 112 110 13 46 7 124-3 50-17 60-48 120 154 155 36 25 34 10 0 76-1810 0 0-209 40-13 41-34-44-84-24-70-13-119 3-81 20-60 117-103 7-67 18-80 3-456 15-120 18-74 40-116 52-104z"/><path fill="#269cd7" fill-rule="evenodd" d="M362 2l178 0-54 80-55 120-29 100-21 110-5 86-5 14 0 100 5 16 0 44 21 116 25 84 20 50 50 96 40 55 46 50 54 45 60 35 56 20 54 11 66 0 54-11 31-10 59-30 51-35 65-65 60-85 40-80 35-100 15-60 16-106 0-180-4-10-7-74-24-116-40-114-40-80-49-76 176 0 53 90 42 80 44 116 20 74 15 86 12 354-5 190 10 70 3 90 98 126 9 70-1 40-7 40-63 184-34 50-95 100 1 9 39 67 10 40-1251 0 12-46 39-70-62-70-39-54-65-116-13-40-11-54-3-136 6-20 98-119 3-91 11-64-6-156 7-180 0-160 17-124 17-70 39-110 52-106z"/><path fill="#25a3dc" fill-rule="evenodd" d="M377 2l162 0-54 80-54 120-30 100-20 106-6 90-4 14 0 100 4 10 1 50 10 70 25 100 30 80 35 70 25 40 57 72 54 49 60 40 46 20 50 15 34 6 66 0 54-11 30-10 60-30 52-35 64-64 61-86 40-81 35-99 15-60 15-106 1-180-5-10-6-74-25-116-40-114-39-80-50-76 162 0 59 100 58 126 34 100 25 134 13 416-10 155 6 109-9 66 90 129-1 45-12 56-38 124-16 36-26 34-77 85-60 51-92 64-97 46-608 0-138-70-51-36-54-46-37-38-39-50-43-70-35-70-19-76-3-74 87-140-9-70 7-106-11-170 10-200 0-160 8-74 24-110 41-116 50-104z"/><path fill="#24aae1" fill-rule="evenodd" d="M391 2l147 0-53 80-55 120-30 100-19 106-6 90-5 14 0 100 5 16 0 44 11 70 25 100 30 80 35 70 25 40 57 72 54 50 60 40 46 20 50 15 34 6 66 0 54-11 30-10 60-30 52-36 64-64 61-86 40-80 35-100 15-60 16-106 0-180-5-14-6-70-24-116-40-114-40-80-49-76 146 0 62 100 40 80 50 146 25 134 3 145 14 275-6 90-12 96 3 84-23 110 45 90 22 66-23 94-17 46-22 35-56 65-55 54-95 74-44 25-71 31-120 36-325 0-110-32-64-29-73-39-53-36-50-44-40-42-36-48-41-70-28-60-12-40-4-36 76-140-25-110 2-84-17-160 3-126 10-124 0-156 7-70 25-114 39-116 47-100z"/><path fill="#23b1e6" fill-rule="evenodd" d="M402 8l2-6 134 0-54 80-54 120-30 100-20 106-5 90-5 14 0 100 5 16 0 44 10 70 25 100 30 80 35 70 25 40 58 73 54 49 60 40 46 20 50 15 34 6 66 0 54-11 30-10 60-30 53-36 63-63 62-87 40-80 35-100 15-60 15-106 0-180-5-14-5-70-25-116-40-114-39-80-50-76 132 0 69 110 56 120 32 100 21 120 6 246 14 180-5 94-16 96-9 110-16 70-30 74 57 156-12 40-19 34-52 66-46 50-111 88-104 50-66 21-64 15-106 9-140-6-74-15-66-20-120-59-90-65-50-50-33-44-57-104-2-16 13-60 36-94-25-70-17-66-7-94-22-160 1-96 14-174-1-156 7-70 23-114 37-110 51-106z"/><path fill="#26b6e7" fill-rule="evenodd" d="M415 8l3-6 119 0-53 80-55 120-30 100-19 106-6 90-5 14 0 100 5 16 0 44 11 70 25 100 30 80 35 70 25 40 58 74 54 49 60 40 46 20 50 15 34 5 66 0 54-10 30-10 60-30 53-37 63-62 62-88 40-80 35-100 15-60 16-106 0-180-5-14-6-70-24-116-40-114-40-80-49-76 119 0 71 113 58 123 31 94 22 126 4 280 10 85 3 89-7 96-43 224-23 60-42 80 23 96-2 74-9 20-45 56-84 75-56 38-84 39-110 31-80 10-130-2-110-21-96-36-100-57-79-67-55-70 2-66 18-110-39-70-30-80-42-214-9-70 0-96 14-134-1-216 15-114 14-66 24-74 36-86 28-51z"/><path fill="#2eb7e4" fill-rule="evenodd" d="M426 2l109 0-52 80-35 70-34 96-25 100-15 100 0 50-5 14 0 100 5 16 5 84 20 96 40 114 51 96 42 58 47 52 53 42 60 35 56 20 54 11 66 0 34-6 50-15 60-30 54-37 62-62 63-88 40-80 35-100 15-60 15-106 0-180-5-14-5-70-25-116-39-114-40-80-49-76 109 0 84 140 46 100 31 96 22 124 2 306 14 110-2 84-7 56-50 210-18 50-55 100-51 64-12 106-26 84-18 20-44 34-100 48-60 19-80 15-160 1-80-15-60-18-65-29-51-29-43-30-17-20-24-86-7-100-75-100-37-74-59-230-12-90 0-90 13-106-1-254 14-110 38-136 39-90z"/><path fill="#36b8e1" fill-rule="evenodd" d="M432 8l3-6 99 0-49 76-37 74-35 96-25 100-9 60-1 30-4 10-1 50-5 14 0 100 5 16 6 84 20 96 40 114 50 96 43 59 46 51 54 43 60 35 56 20 54 10 66 0 34-5 50-15 60-30 55-38 61-61 63-89 40-80 35-100 15-60 16-106 0-180-5-14-5-70-25-116-30-90-49-104-49-76 100 0 86 146 42 94 23 66 17 64 14 90 3 340 12 106-5 94-25 110-54 160-65 116-50 52-83 68-36 79-45 51-65 48-71 30-80 11-94-5-80-29-60-41-50-59-45-81-90-74-71-86-36-64-62-186-21-90-7-80 1-44 13-86-2-294 7-76 23-110 38-104 50-106z"/><path fill="#3eb9de" fill-rule="evenodd" d="M440 8l3-6 90 0-52 80-34 70-34 96-25 100-10 60 0 30-5 10 0 50-5 10 0 104 5 16 5 84 20 96 20 64 25 60 46 86 43 59 46 51 54 43 60 35 56 20 54 11 66 0 34-6 50-15 60-30 55-38 61-61 63-89 41-80 35-100 15-60 15-106 0-180-5-14-5-70-25-116-39-115-39-79-48-76 89 0 77 120 54 126 36 120 16 100 4 200-3 154 12 86 1 44-5 56-19 84-71 180-32 66-29 44-43 46-55 46-76 48-64 29-116 30-150 0-110-27-94-42-46-28-46-36-44-46-36-44-39-66-61-150-16-44-15-70-10-90 14-136-3-290 7-74 23-110 39-116 44-94z"/><path fill="#46bbdb" fill-rule="evenodd" d="M451 2l78 0-50 80-34 70-33 96-25 100-14 100-1 50-5 14 0 100 5 16 6 84 15 76 20 70 25 64 50 96 44 60 46 50 54 44 60 35 56 20 54 10 66 0 34-5 50-15 60-30 55-39 61-60 64-90 40-80 35-100 15-60 16-106 0-180-5-14-5-70-25-116-38-114-39-80-49-76 80 0 79 120 34 70 20 56 27 90 23 130 3 194-3 180 13 110-4 50-19 96-41 100-70 134-30 46-37 38-54 47-76 48-60 26-54 17-60 11-136 1-110-24-100-44-79-57-61-63-60-92-70-148-27-100-10-96 12-80-3-350 8-74 22-110 41-126 40-84z"/><path fill="#4ebcd8" fill-rule="evenodd" d="M457 8l3-6 64 0-45 76-35 74-34 96-24 100-20 164 0 100 5 16 6 84 15 76 20 70 26 64 50 96 43 60 47 51 50 40 64 38 56 20 54 10 66 0 34-5 50-15 60-30 56-38 61-61 63-90 41-80 35-100 15-60 16-106 0-180-11-84-24-116-29-90-49-110-44-70 66 0 84 125 33 65 21 56 27 94 19 120 3 200-4 226 13 74-3 40-19 96-43 104-103 166-34 35-54 48-70 46-66 28-110 26-130 1-104-23-96-43-80-57-54-57-40-54-54-90-46-96-22-80-11-84 12-106-6-244 1-116 7-70 20-104 40-126 42-84z"/><path fill="#56bdd5" fill-rule="evenodd" d="M471 8l4-6 44 0-43 76-52 124-29 100-24 146-1 50-4 14 0 100 4 16 6 84 15 76 21 70 25 64 35 72 58 84 48 52 50 39 64 38 56 20 54 11 66 0 34-6 50-15 60-29 56-38 62-62 62-89 41-81 36-100 15-60 15-106 0-180-10-84-24-116-39-120-37-80-42-70 46 0 39 45 56 82 32 63 21 56 28 94 20 126 1 194-8 96-1 124 2 50 11 56-20 110-43 104-27 46-80 110-84 80-68 45-64 28-106 26-124 1-106-23-90-40-80-57-56-60-76-100-27-45-38-81-16-54-14-86 9-54 3-76-3-114-9-130 1-116 6-64 19-106 14-50 40-104 29-56 38-57z"/><path fill="#5ebed2" fill-rule="evenodd" d="M486 28l12-5-6 19-50 106-34 100-33 160-6 90-4 14 0 100 15 130 26 100 30 80 36 73 57 83 49 52 50 40 64 38 56 20 54 10 66 0 34-5 50-15 60-30 36-23 78-73 25-30 43-64 50-106 25-74 26-120 5-46 0-184-19-136-29-110-24-70-56-118 0-11 50 30 30 33 45 71 42 95 26 90 20 126 2 194-15 150-1 65 2 81 9 50-15 90-34 84-24 46-87 113-64 63-40 31-58 37-62 28-100 23-120 0-100-22-91-41-79-58-96-99-59-85-42-90-14-46-11-70 9-54 1-100-1-66-16-170 0-110 13-114 27-116 43-109 28-51 38-53 14-14z"/><path fill="#62becb" fill-rule="evenodd" d="M461 68l11-4 1 4-33 80-32 98-25 102-14 100 0 50-5 14 0 106 5 10 5 84 21 96 40 114 35 70 28 46 56 70 54 48 62 42 48 21 50 15 34 5 60 0 40-5 50-15 60-30 56-38 63-63 64-90 40-80 35-100 15-60 16-106 0-180-15-114-34-140-54-143 0-11 44 27 26 26 44 81 22 54 28 90 20 126 1 194-22 216 2 104 8 50-11 60-32 86-24 44-79 106-97 83-70 46-56 25-100 26-114 2-80-15-86-33-80-49-54-44-63-61-37-47-27-43-41-86-15-50-8-50 10-70-1-104-24-236 1-115 6-69 20-106 13-47 43-107 47-77z"/><path fill="#61bdc1" fill-rule="evenodd" d="M452 98l0 13-32 87-24 84-28 166 0 50-5 14 0 106 5 10 6 84 20 96 40 114 35 70 29 46 55 70 55 49 61 41 49 21 50 15 34 6 60 0 40-6 50-15 60-29 56-38 64-64 64-90 40-80 35-100 15-60 16-106 0-180-10-84-24-121-27-89-24-60-4-16 5-3 34 20 20 17 36 62 22 54 28 90 20 126 1 200-28 220-1 114 9 50-6 40-32 86-24 45-79 104-90 73-76 45-50 22-100 26-110 3-80-14-84-32-80-44-52-38-38-35-69-81-55-104-20-60-6-30 9-50 0-80-4-76-15-94-12-136 0-114 7-70 20-106 13-44 42-106 34-55z"/><path fill="#60bbb0" fill-rule="evenodd" d="M428 132l10-4 0 10-33 104-24 106-19 165 0 100 5 19 1 46 10 64 25 100 33 86 35 70 26 40 60 75 50 45 65 42 76 30 50 10 74 0 50-10 90-40 36-22 80-76 25-30 41-60 40-80 38-104 25-120 6-46 0-180-19-140-28-114-27-86 3-3 10 6 35 24 28 43 42 116 15 60 13 90 1 200-12 110-24 140-2 104 8 66-30 84-21 40-73 101-84 74-90 52-86 30-74 13-120-1-96-22-90-40-90-62-55-55-33-40-49-84-23-56-11-40 8-55-1-105-35-234-3-186 13-110 35-130 40-86 14-19z"/><path fill="#5eb797" fill-rule="evenodd" d="M402 208l6-3 0 13-30 130-13 100-5 164 15 130 38 136 20 50 51 94 40 56 50 54 54 43 60 35 60 22 50 10 74 0 30-5 56-17 60-30 53-38 61-61 64-89 41-80 36-99 17-65 15-100 0-190-13-110-30-126 0-26 50 46 33 90 21 116 2 200-14 120-45 210-3 100 3 54-36 76-70 94-75 64-76 45-70 28-94 19-110 0-96-21-90-38-84-58-70-71-55-82-26-60 5-56-3-90-48-234-13-136 0-114 13-110 29-110 22-46z"/><path fill="#5cb47e" fill-rule="evenodd" d="M376 292l6-3 1 23-8 30-13 106-5 170 5 14 6 80 16 80 16 56 30 80 61 110 81 96 55 44 61 34 60 22 54 10 70 0 30-5 56-17 60-30 54-38 62-62 65-89 41-81 36-100 16-64 16-101 0-189-21-150 1-29 34 39 10 17 11 33 15 84 1 200-26 176-62 224-7 86 2 44-12 26-57 78-79 70-86 49-90 30-84 10-76-1-50-8-90-29-75-39-79-66-66-78-20-42 3-44-8-90-47-156-17-74-18-106-9-100 0-120 15-104 17-57z"/><path fill="#5eb367" fill-rule="evenodd" d="M356 402l6 26-4 14 0 50-4 16 0 110 16 130 37 130 56 120 29 44 56 70 56 50 38 28 46 25 54 19 56 12 70 0 34-5 56-17 60-29 33-23 86-80 65-90 40-80 37-100 26-120 6-50 1-184-5-16 1-54 27 64 6 56 4 144-13 126-40 158-71 187-12 75-1 44-20 33-36 34-40 33-50 31-80 37-90 20-104 1-96-19-84-37-70-47-66-66-12-20-1-40-14-90-39-90-46-134-30-146-8-134 2-106 14-64z"/><path fill="#60b251" fill-rule="evenodd" d="M387 838l37 90 36 70 29 44 61 76 52 46 66 43 74 30 60 11 70 0 56-11 90-40 54-38 68-67 65-90 42-80 31-79 3 9-6 86-7 32-24 62-87 160-33 126-6 10-86 56-60 25-79 18-95 1-70-11-76-25-64-34-42-36-32-120-78-144-34-81-9-35z"/><path fill="#63b23a" fill-rule="evenodd" d="M488 1058l4-3 76 85 54 42 46 28 44 20 50 15 36 6 70 0 40-6 50-15 60-29 60-42 63-61 36-44 4 4-16 60-12 24-45 62-69 78-37 60-34 44-18 12-34 10-34 5-50 1-44-1-35-5-34-10-17-12-85-118-100-120z"/></g></g></g><path fill="#d1d1d1" d="M497.00 289.90 L510.20 289.90 L505.35 313.22 Q504.29 317.60 504.00 318.80 L503.00 318.80 Q502.71 317.60 501.65 313.22 L497.00 289.90 Z"/>
<g clip-path="url(#pc9)"><g filter="url(#bl)"><g transform="translate(595.50 287.90) scale(0.1)"><path fill="#fafcfe" fill-rule="evenodd" d="M2 2l1846 0 0 1876-1846 0zM878 32l-10 10 14 10 10 0 16-10 0-4-10-6z"/><path fill="#f0f5fc" fill-rule="evenodd" d="M2 2l1846 0 0 1876-1846 0zM888 7l-26 5-16 10-8 16 3 14 11 13 20 8 26 1 21-6 16-16 2-20-19-18z"/><path fill="#e6eff9" fill-rule="evenodd" d="M2 2l854 0-26 20-6 16 2 14 22 23 40 9 40-9 22-23 2-14-4-14-28-22 928 0 0 1876-1846 0z"/><path fill="#dbe9f7" fill-rule="evenodd" d="M2 2l831 0-16 16-7 14 0 16 6 14 26 22 46 10 44-9 28-23 6-14 0-16-7-14-16-16 905 0 0 1876-1846 0z"/><path fill="#d1e2f5" fill-rule="evenodd" d="M2 2l811 0-18 30 1 20 7 16 35 25 50 10 50-9 20-12 15-14 7-16 1-20-18-30 885 0 0 1876-1846 0z"/><path fill="#c7dcf2" fill-rule="evenodd" d="M2 2l794 0-12 20-4 20 5 20 10 15 38 26 55 10 54-10 39-25 10-16 5-20-4-20-12-20 868 0 0 1876-1846 0z"/><path fill="#bdd6f0" fill-rule="evenodd" d="M2 2l778 0-11 20-3 20 4 20 13 20 19 17 26 13 60 11 60-11 24-12 21-18 13-20 4-20-3-20-11-20 852 0 0 1876-1846 0z"/><path fill="#b2cfee" fill-rule="evenodd" d="M2 2l762 0-11 26-1 20 5 20 15 22 23 18 27 13 66 11 64-11 29-13 21-17 16-21 6-22-1-20-11-26 836 0 0 1876-1846 0z"/><path fill="#a9c9eb" fill-rule="evenodd" d="M2 2l746 0-10 26 0 24 7 20 18 26 25 18 30 15 30 8 40 3 40-3 30-8 34-17 21-16 16-20 9-26-1-24-9-26 820 0 0 1876-1846 0z"/><path fill="#a1c3e8" fill-rule="evenodd" d="M2 2l545 0-5 50-52 146-33 144-20 146-4 130 14 10 25 8 76 11 340 4 344-5 76-10 25-8 14-10-4-110-20-156-28-130-57-170-5-50 615 0 0 1876-1846 0z"/><path fill="#9abee5" fill-rule="evenodd" d="M2 2l490 0-5 40-51 146-33 144-25 206 1 84 23 25 30 19 30 12 46 9 110 8 270 1 270-1 110-8 44-9 36-14 30-17 23-25-4-124-20-156-28-130-56-170-5-40 560 0 0 1876-1846 0z"/><path fill="#92b8e2" fill-rule="evenodd" d="M2 2l462 0-5 36-50 140-34 150-26 210 0 80 9 19 24 35 26 22 40 22 44 13 116 10 280 2 284-2 116-10 40-11 34-19 46-41 14-21 9-19 0-40-11-136-15-104-28-130-56-170-5-36 532 0 0 1876-1846 0z"/><path fill="#8bb3de" fill-rule="evenodd" d="M2 2l443 0-4 30-51 146-24 94-21 116-15 144 0 86 28 64 57 60 37 19 46 13 114 10 276 2 290-2 114-13 46-15 44-28 53-70 14-36 1-44-20-210-35-166-56-170-4-30 513 0 0 1876-1846 0z"/><path fill="#83addb" fill-rule="evenodd" d="M2 2l429 0-4 25-51 145-25 100-20 110-15 146 0 90 25 74 35 56 32 30 34 21 40 15 50 9 66 5 290 3 274-2 116-11 44-13 36-18 25-19 37-46 33-64 11-36-5-135-15-125-25-124-23-86-43-124-4-26 499 0 0 1876-1846 0z"/><path fill="#7ca8d8" fill-rule="evenodd" d="M2 2l417 0-2 20-52 146-25 100-21 114-15 150 0 90 18 67 31 63 45 56 54 38 80 21 110 8 246 1 280-3 70-5 50-9 50-19 40-29 30-33 28-46 29-70 11-40 0-54-10-130-15-106-21-100-23-84-44-126-2-20 487 0 0 1876-1846 0z"/><path fill="#74a2d5" fill-rule="evenodd" d="M2 2l408 0-3 20-49 137-28 109-20 110-15 150 0 94 17 76 43 94 43 56 30 24 30 17 80 23 110 7 240 2 274-3 66-5 50-9 44-16 40-25 30-30 39-55 22-46 29-95 3-69-5-26 0-54-15-130-25-126-70-230 478 0 0 1876-1846 0z"/><path fill="#6d9cd2" fill-rule="evenodd" d="M2 2l404 0-54 159-24 99-22 118-15 150 1 120 9 50 37 95 18 35 36 50 26 24 34 24 36 16 44 12 110 10 246 2 280-4 64-6 56-13 40-18 44-34 40-49 34-60 18-44 24-87 1-83-5-26 0-60-15-124-27-133-68-223 474 0 0 1876-1846 0z"/><path fill="#6597ce" fill-rule="evenodd" d="M2 2l401 0-3 20-48 131-28 115-20 110-16 150 0 94 6 80 15 56 32 74 29 50 28 36 34 32 30 21 40 17 40 10 110 11 236 2 270-4 70-8 50-12 44-21 40-30 50-61 32-57 31-80 14-70 3-100-5-26 0-54-16-130-25-126-24-89-42-121-3-20 471 0 0 1876-1846 0z"/><path fill="#5e91cb" fill-rule="evenodd" d="M2 2l400 0-2 16-52 147-26 103-20 109-15 151 2 164 11 66 41 104 51 82 31 34 39 30 40 20 46 13 110 12 230 3 264-5 70-9 50-14 56-29 44-39 42-58 30-54 38-106 10-80 1-94-5-26 0-60-15-124-25-126-70-230 470 0 0 1876-1846 0z"/><path fill="#568cc8" fill-rule="evenodd" d="M2 2l398 0-1 16-52 144-26 106-20 110-10 84-6 66 2 175 17 95 24 64 34 67 45 63 45 44 56 32 54 17 70 10 256 6 254-6 70-9 55-17 61-35 40-38 36-48 39-70 34-90 9-50 9-116-6-140-15-124-25-126-69-230 468 0 0 1876-1846 0z"/><path fill="#4f86c5" fill-rule="evenodd" d="M2 2l397 0-2 16-52 144-25 100-21 116-10 84-5 66 2 174 14 100 19 66 42 84 47 70 54 54 46 28 64 24 66 10 250 8 250-7 70-12 60-21 50-32 54-55 40-57 40-80 21-60 15-80 8-120-5-140-15-124-25-126-70-230 467 0 0 1876-1846 0z"/><path fill="#4781c1" fill-rule="evenodd" d="M2 2l396 0-54 160-25 100-21 116-15 144 1 176 7 64 21 105 19 51 38 74 49 69 54 54 56 34 60 21 64 12 236 8 150-2 90-6 65-12 61-22 58-39 59-61 51-79 30-61 25-86 13-80 7-120-5-140-15-124-26-130-69-226 466 0 0 1876-1846 0z"/><path fill="#407bbe" fill-rule="evenodd" d="M2 2l394 0-1 16-52 144-26 106-20 110-15 144 1 176 6 64 18 106 15 51 36 75 34 58 39 51 41 40 30 23 46 26 93 30 61 72 50 41 36 21 55 22 45 6 54-8 56-24 60-43 80-87 84-27 70-41 41-37 52-65 47-80 26-59 22-91 12-80 7-119-6-141-15-124-25-126-69-230 464 0 0 1876-1846 0z"/><path fill="#3875bb" fill-rule="evenodd" d="M2 2l393 0-2 16-52 144-25 100-21 116-15 144 1 176 6 65 17 105 19 70 44 95 49 75 65 70 63 44 60 86 44 50 54 43 50 32 76 27 60 9 60-9 54-17 46-23 64-48 54-54 68-96 58-41 56-55 51-74 51-100 20-70 24-140 6-120-5-140-15-124-26-130-69-226 463 0 0 1876-1846 0z"/><path fill="#3170b8" fill-rule="evenodd" d="M30 2l363 0-1 12-53 148-25 100-20 110-11 90 0 46-5 14 1 180 4 16 1 44 17 106 24 90 31 75 48 79 58 72 42 38 74 107 48 53 55 46 61 37 76 27 70 11 68-11 56-17 50-25 70-51 80-85 61-92 49-46 37-44 49-74 41-86 25-90 22-140 6-120-5-140-16-130-25-124-20-76-48-138-1-12 362 0 64 186 35 148 0 1542-1846 0 0-1804z"/><path fill="#2d6fb8" fill-rule="evenodd" d="M96 2l286 0 0 10-19 40-35 106-1 15-24 85-11 74-4 6-1 24-4 6-6 80-4 4-1 56-4 4 0 196 4 10 1 54 4 6 1 30 4 10 6 60 30 124 10 2 10 12 71 122 71 84 51 80 57 73 27 27 53 42 64 40 80 29 76 11 70-10 60-17 54-28 73-51 63-63 36-47 53-86 41-43 34-46 70-120 10-5 0-7 10-8 26-105 10-86 4-4 1-40 5-10 0-66 4-10 0-114-4-10-1-76-4-4-1-46-4-4-6-70-4-6-11-74-9-26-1-20-19-60-1-14-30-90-9-15-10-41 284 0 49 156 36 180 18 190 1 164-4 46 9 70 20 54 37 56 0 960-1846 0 0-1470 12-90 25-126 31-114z"/><path fill="#2c73bb" fill-rule="evenodd" d="M107 2l269 0-54 150-25 100-21 116-5 74-5 10 0 50-5 10 0 200 5 10 0 50 5 10 10 96 31 135 40 119 40 91 45 79 60 86 75 80 50 40 56 35 79 35 65 16 90 5 70-11 66-20 69-35 71-50 84-85 36-45 45-71 45-84 50-126 30-104 31-170 5-110 5-10 0-126-5-9 0-71-5-10 0-40-5-10-10-94-31-141-59-175 267 0 36 110 24 96 31 184 12 146 0 140-12 220 29 40 57 52 0 888-1846 0 0-966 10-11 3-29-9-150 0-224 12-126 19-120 41-162zM371 1098l67 96 25 28 55 90 55 70 35 35 51 41 69 42 84 30 76 10 74-10 66-20 54-28 70-50 90-94 45-66 28-50 34-40 60-84-12 44-23 56-55 100-65 90-75 74-71 52-70 36-66 19-74 11-96-11-84-29-86-51-50-40-66-71-63-90-47-86-32-80z"/><path fill="#2b78be" fill-rule="evenodd" d="M117 8l2-6 256 0-54 150-26 106-20 110-5 74-5 10 0 50-5 10 0 200 5 10 0 50 5 10 10 96 30 130 27 84 51 123 49 87 60 86 75 80 50 40 56 35 80 35 64 17 90 5 66-10 70-22 70-35 70-50 84-85 36-46 45-70 45-82 50-128 32-110 30-164 5-106 5-14 0-126-5-14 0-66-5-10 0-40-5-10-10-94-31-140-59-176 255 0 38 112 25 98 19 96 17 134 6 100 0 146-13 204 0 66 44 44 51 40 1 836-1846 0 0-901 20-15 4-20-11-214 0-236 12-120 18-114 42-166zM391 1152l1-4 53 70 33 56 62 88 48 53 40 35 80 53 43 19 61 20 76 10 74-10 67-20 59-29 74-53 91-96 45-65 28-51 52-71 7-5-12 40-19 40-65 106-39 50-72 72-76 54-64 32-70 21-70 10-96-11-84-30-80-47-56-44-64-71-62-86-44-80z"/><path fill="#2b7cc1" fill-rule="evenodd" d="M130 2l244 0-55 156-25 100-20 110-5 70-5 14 0 46-5 14 0 200 5 16 0 44 15 106 30 130 42 124 37 84 48 86 60 86 75 80 51 41 62 39 78 33 60 15 90 5 66-10 70-22 70-35 70-50 84-85 37-47 45-70 44-81 51-129 32-110 30-164 5-106 5-20-5-200-20-154-30-136-60-180 242 0 40 116 27 100 18 90 18 140 6 94 0 146-14 204-1 105 6 11 34 29 66 48 0 793-1846 0 0-855 30-19 5-32-14-244 1-236 12-120 18-114 42-160zM1362 1198l-10 30-68 110-36 47-73 73-77 54-61 30-65 20-70 12-70-5-64-17-71-30-79-53-46-39-51-58-63-89-42-81 2-3 19 23 64 106 55 70 36 36 50 40 61 38 69 30 60 15 66 6 70-11 64-20 60-30 50-33 97-91 35-46z"/><path fill="#2a80c4" fill-rule="evenodd" d="M141 2l231 0-54 156-25 100-20 110-6 75-4 9-1 50-4 10 0 200 4 10 1 50 4 10 11 96 30 130 40 120 40 90 47 84 60 86 75 80 52 42 60 37 80 35 60 15 90 5 66-10 70-22 70-35 70-50 84-85 38-48 45-70 45-84 52-130 30-106 30-164 6-110 4-16-5-200-4-10-1-40-4-10-11-94-40-170-49-146 229 0 41 116 28 100 19 94 17 136 6 94 0 146-15 234 2 110 3 8 54 46 56 37 0 755-1846 0 0-818 40-25 4-27-14-280 0-236 12-120 19-114 43-160z"/><path fill="#2985c7" fill-rule="evenodd" d="M151 8l2-6 219 0-54 154-26 100-20 110-5 76-5 10 0 50-5 10 0 200 5 10 0 50 5 10 11 97 30 130 40 120 40 90 46 83 60 86 75 80 53 43 59 37 81 34 60 16 96 5 10-5 50-6 65-19 75-37 73-54 81-81 39-49 67-108 44-95 46-130 30-125 10-86 5-10 0-36 5-10 0-64 5-10 0-126-5-10-5-120-5-10 0-30-20-116-30-120-50-144 218 0 44 120 26 96 20 94 18 136 6 94 0 146-15 230 1 144 6 10 60 48 56 36 0 722-1846 0 0-784 46-27 4-12 2-33-2-120-12-180 1-230 18-160 18-94 40-140z"/><path fill="#2989ca" fill-rule="evenodd" d="M164 2l208 0-54 152-26 100-20 110-5 79-5 9 0 50-5 10 0 200 5 10 0 50 5 10 11 99 30 130 40 120 35 81 51 90 60 86 74 80 54 43 58 37 80 34 62 16 90 5 68-11 65-20 73-36 70-50 84-84 39-50 67-106 44-96 46-129 30-125 10-89 5-9 0-36 5-10 0-64 5-10 0-126-5-10-5-120-5-10 0-30-20-118-30-120-50-142 206 0 45 120 29 100 19 90 18 136 6 94 0 140-15 236 2 165 4 13 70 56 40 28 16 4 0 694-1846 0 0-753 56-35 4-48 0-104-13-216 1-234 17-150 19-100 40-136z"/><path fill="#288dcd" fill-rule="evenodd" d="M176 2l196 0-55 150-25 100-20 110-6 80-4 10-1 50-4 10 0 200 4 10 1 50 4 10 11 101 31 129 40 120 35 80 50 90 60 86 75 80 54 44 56 36 81 34 63 16 90 5 69-11 65-20 72-35 70-50 85-85 39-50 66-105 44-95 46-130 30-124 15-100 1-36 4-10 0-60 5-14 0-126-4-10-6-120-25-160-30-120-50-140 194 0 49 126 28 94 19 90 18 136 6 95 1 139-16 236-1 80 5 114 111 93 26 5 0 668-1846 0 0-723 60-38 6-16 3-63 0-100-14-216 1-220 5-70 13-100 26-120 34-110z"/><path fill="#2890cf" fill-rule="evenodd" d="M186 8l2-6 183 0-54 150-25 100-20 110-6 80-5 10 0 50-5 10 0 200 5 10 0 50 5 10 11 101 30 130 25 79 50 120 50 90 60 86 76 80 54 45 56 35 80 35 64 15 96 5 64-10 65-20 71-35 70-50 89-90 36-46 65-104 45-96 45-130 30-124 16-100 0-36 5-10 0-60 5-14 0-126-5-14-5-116-26-160-30-120-49-140 182 0 50 126 28 94 21 96 18 130 6 94 0 140-17 306 6 140 8 14 102 86 9 5 26 3 0 642-1846 0 0-694 40-24 30-25 8-97 0-100-14-216 0-220 6-70 13-100 26-120 34-104z"/><path fill="#2795d2" fill-rule="evenodd" d="M191 2l180 0-54 150-25 101-21 115-5 74-5 10 0 50-5 10 0 200 5 10 0 50 5 10 6 70 35 160 50 146 35 74 70 116 56 70 84 80 76 50 80 35 64 15 90 5 70-10 66-20 70-35 70-50 89-90 36-46 65-104 45-96 45-130 30-124 16-100 0-36 5-10 0-60 5-14 0-126-5-14-5-116-26-160-30-120-49-140 178 0 52 130 27 90 21 96 18 130 6 94 0 146-17 304 8 149 110 97 36 6 0 634-1846 0 0-684 70-48 11-108-1-106-13-210 0-220 6-74 13-96 26-120 34-104z"/><path fill="#269cd7" fill-rule="evenodd" d="M207 2l164 0-55 150-25 100-20 116-6 74-4 10 0 46-5 14 0 200 4 10 1 50 4 10 7 70 35 160 50 146 35 74 70 116 56 70 84 80 76 50 80 35 64 16 90 5 70-11 66-20 70-35 70-50 89-90 36-46 65-104 45-96 45-130 30-124 21-146 0-60 5-14 0-126-5-14-5-116-25-160-30-120-50-140 162 0 51 130 30 96 20 90 19 134 6 90 0 146-18 304 2 76 10 104 6 10 105 95 46 8 0 593-1846 0 0-639 40-25 43-36 10-86 3-134-15-240 0-216 6-70 13-94 27-120 36-110z"/><path fill="#25a3dc" fill-rule="evenodd" d="M217 8l2-6 151 0-54 150-25 100-20 110-6 76-5 14 0 46-5 14 0 200 5 16 0 44 5 10 6 70 35 160 50 146 35 74 70 116 57 71 83 79 77 51 80 35 64 15 96 5 64-10 66-20 70-35 71-51 89-89 36-47 65-105 45-95 45-130 30-124 21-146 0-60 5-14 0-126-5-14-5-116-26-160-30-120-49-140 149 0 52 136 29 94 20 90 17 131 6 89 0 146-19 300 4 120 10 90 4 12 106 102 60 13 0 553-1846 0 0-594 56-40 34-30 7-12 15-194-17-286 0-220 6-70 13-94 25-116 34-110z"/><path fill="#24aae1" fill-rule="evenodd" d="M230 2l140 0-55 150-25 100-20 110-5 76-5 14 0 46-5 14 0 200 5 16 0 44 10 80 35 160 51 146 35 74 70 116 57 72 82 78 78 51 80 35 60 15 94 6 70-11 66-20 70-35 72-51 88-88 36-48 65-104 55-120 46-140 30-150 5-70 5-16 0-60 5-14 0-126-5-14 0-66-5-14 0-40-25-156-30-120-50-140 138 0 54 140 27 90 20 90 17 130 6 90 0 146-22 300 3 120 16 124 103 112 40 15 36 5 0 514-1846 0 0-550 50-38 52-48 6-10 16-150 3-74-22-286 1-215 6-75 12-94 26-116 33-104z"/><path fill="#23b1e6" fill-rule="evenodd" d="M241 2l128 0-54 150-25 100-20 110-6 76-5 14 0 46-5 14 0 200 5 16 0 44 11 80 35 160 50 146 35 74 70 116 58 72 82 78 78 52 80 35 60 15 94 5 70-10 66-20 70-35 72-52 88-88 37-48 65-104 55-120 45-140 30-150 6-70 5-16 0-60 5-14 0-126-5-14-6-120-25-156-30-120-49-140 125 0 56 140 26 90 21 90 17 130 6 91 0 145-25 294-2 70 9 116 13 90 5 11 100 109 46 17 40 6 0 477-1846 0 0-511 16-4 30-25 70-70 3-10 17-126 5-110-26-300 1-214 5-70 13-96 26-120 33-104z"/><path fill="#26b6e7" fill-rule="evenodd" d="M251 8l2-6 115 0-19 46-35 104-25 100-20 110-5 76-5 14 0 46-5 14 0 200 5 16 0 44 10 80 35 160 51 146 35 74 70 116 58 73 81 77 79 52 80 35 60 15 30 1 14 5 56 0 64-11 66-20 70-35 73-52 87-87 37-49 65-104 55-120 46-140 30-150 5-70 5-16 0-60 5-14 0-126-5-14-5-120-25-156-30-120-49-140 113 0 57 145 27 91 20 84 18 135 5 85 0 146-31 394 6 80 18 120 4 10 98 116 55 23 46 9 0 438-1846 0 0-474 30-6 101-110 15-106 9-110-30-350 1-214 5-70 13-96 25-114 33-106z"/><path fill="#2eb7e4" fill-rule="evenodd" d="M260 8l3-6 105 0-20 46-34 104-25 100-20 110-6 76-5 14 0 46-5 14 0 200 5 16 1 50 4 10 6 64 35 160 50 146 35 74 70 116 59 74 81 76 79 53 80 35 60 14 30 1 14 5 56 0 64-11 66-19 70-35 73-53 87-86 38-50 65-104 55-120 45-140 30-150 6-70 5-16 0-60 5-14 0-126-5-14-6-120-25-156-30-120-49-140 103 0 57 146 27 90 20 90 18 130 5 90 0 139-34 411 4 64 22 146 4 10 94 119 70 33 46 9 0 399-1846 0 0-436 46-10 94-117 22-133 5-110-31-350 0-224 17-150 25-116 35-110z"/><path fill="#36b8e1" fill-rule="evenodd" d="M266 8l2-6 99 0-19 46-35 104-25 100-20 110-5 76-5 10 0 50-5 14 0 200 5 16 0 50 5 10 5 64 35 160 51 146 35 74 70 116 59 74 80 76 80 53 80 35 60 15 100 5 64-10 66-20 70-35 74-53 86-86 38-50 65-104 56-120 45-140 30-150 5-70 5-16 0-60 5-14 0-126-5-14-5-120-25-156-30-120-49-140 97 0 55 150 25 90 19 86 18 130 5 90 0 139-32 355-5 106 27 184 96 134 80 41 50 12 0 359-1846 0 0-399 30-4 30-12 90-120 24-125 7-86-8-120-27-289 0-225 17-150 19-91 37-129z"/><path fill="#3eb9de" fill-rule="evenodd" d="M271 8l2-6 93 0-54 150-24 100-20 110-6 76-4 10-1 50-5 14 0 200 5 16 1 50 4 9 6 65 35 160 50 146 35 74 70 116 59 75 81 75 80 54 80 34 60 15 100 6 64-11 66-20 70-34 74-54 86-86 39-50 65-104 55-120 45-140 30-150 6-70 5-16 0-60 5-14 0-126-5-14-6-120-25-156-29-120-49-140 91 0 44 116 35 124 17 80 17 140 6 86 0 140-41 464 8 100 19 106 90 134 92 52 56 14 0 320-1846 0 0-361 40-8 40-21 86-125 18-101 10-100-10-150-30-290 0-220 18-160 22-110 30-104z"/><path fill="#46bbdb" fill-rule="evenodd" d="M277 2l88 0-54 150-24 100-20 110-6 76-5 14 0 46-5 15 0 199 5 16 0 44 11 80 35 160 40 120 46 100 43 76 60 84 77 82 50 40 60 38 80 35 60 15 94 5 70-10 66-20 70-35 75-53 86-87 35-44 68-110 56-120 45-140 30-151 11-85 0-60 5-14 0-126-5-14-6-120-25-156-29-120-49-140 86 0 44 116 35 124 17 86 17 134 5 86 0 140-10 130-30 220-9 160 3 50 24 134 85 137 106 63 30 12 30 5 0 279-1846 0 0-321 46-11 50-28 37-66 45-64 23-126 6-60-8-140-40-340 0-220 16-150 23-120 30-104z"/><path fill="#4ebcd8" fill-rule="evenodd" d="M282 2l82 0-54 150-24 100-20 110-6 76-5 14 0 46-5 14 0 200 5 16 1 50 4 10 6 64 35 160 40 120 46 100 43 76 60 84 78 83 50 39 59 38 81 35 60 15 94 6 70-11 66-20 70-35 77-54 85-86 65-90 63-114 51-126 40-150 20-120 6-110 5-14 0-126-5-14-6-120-25-156-29-120-49-140 81 0 55 150 30 116 23 140 11 134 0 140-6 86-46 310-8 160 28 164 82 146 122 76 30 13 30 5 0 236-1846 0 0-280 50-14 65-42 33-64 42-68 29-152-2-106-7-90-33-194-15-146 0-220 17-154 23-116 30-104z"/><path fill="#56bdd5" fill-rule="evenodd" d="M286 2l76 0-53 150-25 100-19 110-6 76-4 10-1 50-4 14 0 200 4 16 1 50 4 10 6 64 35 160 41 120 45 100 43 76 60 84 79 83 50 40 58 37 82 36 60 15 94 5 70-10 66-20 71-36 76-54 86-86 65-90 63-114 51-126 40-150 20-120 6-110 4-14 0-126-4-14-6-120-25-156-29-120-48-140 74 0 45 116 37 130 28 160 10 134 0 140-5 86-19 144-35 176-10 144 3 56 25 140 42 74 35 74 134 90 36 16 30 6 0 190-1846 0 0-238 26-4 29-13 77-51 32-70 40-70 27-150 3-34-9-140-40-210-14-110-6-70 1-216 16-150 24-119 30-105z"/><path fill="#5ebed2" fill-rule="evenodd" d="M291 2l69 0-52 150-25 100-19 110-6 76-4 10-1 50-4 14 0 200 4 16 6 90 20 114 30 116 31 84 45 100 43 76 60 84 80 84 50 40 57 36 83 37 60 15 94 5 70-10 66-20 72-37 76-54 86-86 65-90 63-114 51-126 40-150 20-120 6-110 4-14 0-126-4-14-6-120-24-156-30-120-47-140 68 0 47 120 35 126 28 160 11 134 0 146-10 124-20 130-43 210-6 140 11 70 18 90 40 80 26 70 153 112 40 20 30 6 0 138-1846 0 0-193 26-5 30-13 94-66 28-69 40-80 23-114 6-86-7-105-42-195-24-164-5-70 0-216 16-150 23-114 32-110z"/><path fill="#62becb" fill-rule="evenodd" d="M295 2l63 0-50 146-26 104-19 110-6 76-4 10-1 46-4 14 0 210 4 12 6 88 20 114 30 116 31 84 40 90 48 86 60 84 81 85 50 40 55 35 85 37 60 15 94 6 70-11 66-20 74-37 75-54 85-85 66-91 61-110 53-130 25-84 20-90 15-96 6-107 4-17 0-130-4-14-1-66-4-10-11-116-34-168-56-172 61 0 59 155 30 115 23 136 11 140 0 140-10 124-29 176-45 190-6 110 4 64 20 86 5 40 33 74 24 83 176 138 34 19 36 8 0 78-1846 0 0-146 30-6 30-15 110-81 29-82 33-70 28-146-5-150-53-230-24-164-6-70 0-210 17-156 23-114 30-106z"/><path fill="#61bdc1" fill-rule="evenodd" d="M299 2l56 0-49 146-25 104-20 110-9 86-1 45-4 15-1 204 21 170 30 130 27 86 51 120 51 90 60 84 81 86 51 40 54 35 86 37 60 15 94 5 70-10 66-20 74-37 76-55 84-84 67-92 61-110 51-124 27-90 20-90 15-96 6-104 5-20-1-130-4-16-1-64-14-126-35-170-54-170 54 0 48 120 36 126 28 160 11 140 0 140-10 124-32 196-55 210-4 134 25 110 3 36 29 80 19 90 150 140 30 40 10 30-1765 0 0-91 30-6 36-19 129-104 17-70 36-90 3-36 23-104-4-140-39-146-26-120-24-164-5-71 0-209 16-156 23-114 31-106z"/><path fill="#60bbb0" fill-rule="evenodd" d="M305 2l48 0-17 40-32 106-25 104-19 110-10 86 0 44-5 16 0 204 20 170 31 130 27 86 51 120 51 90 60 84 80 86 53 41 54 35 86 37 60 15 94 5 70-10 70-22 70-35 76-54 84-85 68-93 61-110 51-124 27-90 21-90 15-96 5-104 5-20 0-130-5-16 0-64-15-126-34-170-54-170 47 0 49 120 36 126 29 160 11 140 0 140-15 160-28 159-65 245-5 126 25 110 1 34 25 86 13 84 117 121 22 35 7 30-1650 0 10-26 29-34 137-130 15-86 29-84 2-30 24-110 0-66-7-74-57-206-37-204-10-110 0-210 17-156 23-114 31-106z"/><path fill="#5eb797" fill-rule="evenodd" d="M316 52l2-2-2 28-40 170-25 154-10 110 0 200 21 170 32 136 26 80 51 120 51 90 60 85 80 85 56 43 84 50 91 32 69 10 60 0 36-5 94-27 70-35 70-49 91-89 39-50 67-106 56-120 46-140 22-94 15-96 6-104 5-20 0-130-5-16-5-114-15-106-51-230-2-30 7 7 40 63 14 33 41 147 22 160 1 56 5 30 0 134-11 130-19 126-37 160-73 220-5 34 0 86 19 104-1 40 27 166 76 84 14 26 5 20-1375 0 4-20 14-26 63-74 3-80 16-100-1-36 21-94 2-46-5-81-68-203-51-226-20-170 0-220 17-150 24-114 32-100z"/><path fill="#5cb47e" fill-rule="evenodd" d="M269 208l3-5-22 159-9 130-5 16 0 210 11 100 21 120 32 114 42 111 62 119 48 75 57 71 86 80 77 51 80 34 66 16 100 6 64-11 70-21 70-34 76-54 88-87 36-46 70-110 57-120 37-104 26-100 21-126 6-104 5-16 0-130-5-24 0-60-14-130-19-110 2-23 38 97 23 110 12 136 0 134-5 26 0 50-24 174-37 160-44 136-71 180-3 94 19 96-1 30 8 84-6 55-26 71 8 40-1019 0 8-40-20-66-8-74 4-66-3-34 20-96-3-94-85-220-37-120-38-180-19-170 1-210 12-110 23-106z"/><path fill="#5eb367" fill-rule="evenodd" d="M276 1012l63 156 61 114 80 116 81 84 51 41 60 38 80 34 66 16 100 5 90-16 44-15 70-34 75-53 91-88 37-48 71-110 59-120 47-123-19 139-23 74-54 126-64 130-2 80 23 100-16 80-17 50-25 50-30 40-775 0-32-46-20-44-28-126 19-100-6-94-77-156-48-120-19-84z"/><path fill="#60b251" fill-rule="evenodd" d="M376 1268l6 3 62 87 63 74 55 54 80 59 60 33 86 29 70 11 60 1 64-10 70-21 70-35 50-32 117-109 41-50 62-87 12-7-22 86-110 194-2 74 12 96-41 84-58 76-585 0-30-31-30-39-40-86-2-14 14-80-2-76-111-194-9-26z"/><path fill="#63b23a" fill-rule="evenodd" d="M506 1452l22 10 84 68 90 51 50 20 60 14 46 6 60 0 70-10 74-25 66-32 70-48 54-48 15-9 5 3-19 56-87 120-3 64 11 86-42 47-74 53-339 0-47-31-67-69 10-86-2-64-90-120z"/></g></g></g><path fill="#d1d1d1" d="M677.80 289.90 L691.00 289.90 L686.15 313.22 Q685.09 317.60 684.80 318.80 L683.80 318.80 Q683.51 317.60 682.45 313.22 L677.80 289.90 Z"/>
<g clip-path="url(#pc10)"><g filter="url(#bl)"><g transform="translate(776.90 287.20) scale(0.1)"><path fill="#fafcfe" fill-rule="evenodd" d="M2 2l1730 0 0 1880-1730 0zM828 52l-10 10 0 10 14 10 10-10 0-10z"/><path fill="#f0f5fc" fill-rule="evenodd" d="M2 2l1730 0 0 1880-1730 0zM828 32l-15 6-10 10-5 24 14 26 20 6 22-12 8-24-10-26-10-7z"/><path fill="#e6eff9" fill-rule="evenodd" d="M2 2l1730 0 0 1880-1730 0zM822 27l-14 7-10 12-5 32 15 24 14 7 16 0 14-7 10-12 5-32-16-26-13-5z"/><path fill="#dbe9f7" fill-rule="evenodd" d="M2 2l1730 0 0 1880-1730 0zM818 21l-16 9-9 12-6 16 0 20 5 15 13 15 17 8 16 0 17-8 13-15 5-15 0-20-9-20-12-12-14-6z"/><path fill="#d1e2f5" fill-rule="evenodd" d="M2 2l1730 0 0 1880-1730 0zM812 17l-14 10-12 15-5 20 2 20 9 20 16 14 14 6 20-1 16-9 14-17 7-23-2-20-9-20-16-13-20-6z"/><path fill="#c7dcf2" fill-rule="evenodd" d="M2 2l1730 0 0 1880-1730 0zM822 7l-20 8-17 17-8 20-1 26 6 20 16 19 20 10 19 1 21-8 17-18 8-20 1-24-6-21-16-18-20-11z"/><path fill="#bdd6f0" fill-rule="evenodd" d="M2 2l811 0-21 13-13 17-8 20-1 26 6 20 13 20 19 12 20 5 20-3 20-12 14-18 8-24-1-26-8-20-13-17-21-13 885 0 0 1880-1730 0z"/><path fill="#b2cfee" fill-rule="evenodd" d="M2 2l796 0-16 15-12 21-5 20 0 24 7 22 16 20 20 13 20 4 20-3 20-10 14-16 12-24 2-26-6-24-12-20-16-16 870 0 0 1880-1730 0z"/><path fill="#a9c9eb" fill-rule="evenodd" d="M2 2l786 0-17 20-9 20-4 26 4 24 10 23 16 17 20 11 20 4 24-4 19-11 17-17 10-23 4-24-4-26-9-20-17-20 860 0 0 1880-1730 0z"/><path fill="#a1c3e8" fill-rule="evenodd" d="M2 2l777 0-15 20-9 26-2 24 5 26 10 20 17 20 23 11 19 4 25-4 20-10 17-17 13-24 5-26-2-24-9-26-15-20 851 0 0 1880-1730 0z"/><path fill="#9abee5" fill-rule="evenodd" d="M2 2l768 0-15 26-7 24 0 26 5 24 11 20 18 21 20 11 26 5 24-3 26-13 18-21 11-20 5-24 0-26-7-24-15-26 842 0 0 1880-1730 0zM437 406l-11 6-10 16-8 40 10 34 10 13 14 6 16-5 11-14 7-20 2-24-5-26-9-14-12-10zM1212 407l-10 5-11 16-7 40 9 34 9 13 16 6 14-5 12-14 8-20 2-24-6-26-8-14-12-11z"/><path fill="#92b8e2" fill-rule="evenodd" d="M2 2l761 0-14 26-7 24 0 31 7 25 13 23 20 19 20 11 26 4 24-3 26-12 20-19 13-23 7-26 0-30-7-24-14-26 835 0 0 1880-1730 0zM422 327l-28 21-21 34-12 46-2 44 7 46 17 40 25 27 30 12 34-24 30-40 21-46 1-39-12-59-24-41-30-22-20-2zM1202 327l-28 21-22 34-12 46-2 50 11 34 23 41 30 32 26 12 20-7 14-12 25-36 14-50 1-54-11-50-23-41-30-21z"/><path fill="#8bb3de" fill-rule="evenodd" d="M2 2l753 0-13 27-6 29 1 30 8 24 13 22 20 20 24 13 26 4 24-3 26-11 22-19 15-26 7-24 2-30-6-29-13-27 827 0 0 1880-1730 0zM412 267l-34 23-30 43-19 55-8 64 7 66 20 58 30 44 20 17 14 6 50-26 43-45 33-60 19-70-15-80-14-33-20-30-20-19-26-13-24-4zM1198 267l-36 24-30 42-20 59-6 60 22 70 34 58 45 42 45 21 20-12 20-20 32-59 15-70-2-74-18-66-32-50-19-15-26-12-24-2z"/><path fill="#83addb" fill-rule="evenodd" d="M2 2l746 0-11 26-7 30 2 30 9 30 16 24 21 19 24 12 26 4 30-4 24-12 21-19 16-24 9-30 2-30-7-30-11-26 820 0 0 1880-1730 0zM418 202l-26 8-24 15-40 46-30 67-14 80 4 84 21 80 33 61 26 27 20 13 34-11 35-19 31-24 24-28 26-38 19-41 28-100-5-44-12-46-16-40-22-34-23-26-29-20-30-10zM1218 202l-26 6-24 14-26 23-19 26-33 71-13 80 28 100 22 46 23 34 28 30 30 23 40 20 30 7 24-19 22-25 35-70 18-86-2-90-20-80-17-34-20-30-46-37-24-8z"/><path fill="#7ca8d8" fill-rule="evenodd" d="M2 2l739 0-12 30-5 30 3 30 10 30 16 26 23 20 26 12 26 4 30-4 24-12 25-20 16-26 10-30 3-30-5-30-12-30 813 0 0 1880-1730 0zM392 127l-30 10-30 19-27 26-22 30-34 80-15 96 5 104 27 100 20 46 23 34 29 33 24 18 50-16 46-23 34-27 32-35 28-42 25-52 38-130-7-56-17-60-23-51-30-43-36-34-34-19-36-10zM1218 127l-30 11-30 18-30 28-26 34-38 84-17 96 38 130 23 50 30 44 32 36 38 28 40 20 50 17 29-21 30-34 24-40 21-50 14-50 10-60 3-60-4-56-9-50-17-50-20-40-27-34-30-27-34-19-36-7z"/><path fill="#74a2d5" fill-rule="evenodd" d="M2 2l304 0-4 60-14 17-20 7-10 11-16 37-17 74-16 140 0 84-5 26 2 114 12 70 10 23 60 72 34 29 16 7 124-61 40-32 35-38 33-50 27-54 54-166-3-40-13-64-36-100-47-79-75-87 258 0-11 26-5 34 2 30 9 30 18 28 24 22 26 12 30 6 30-4 29-14 23-20 17-24 11-30 3-30-3-30-13-36 260 0-73 83-50 83-36 104-12 60-3 40 54 166 30 60 33 47 34 38 40 31 46 24 80 35 51-41 53-64 10-19 12-57 2-190-16-174-15-76-17-51-10-13-26-9-14-17-4-60 378 0 0 1880-1730 0z"/><path fill="#6d9cd2" fill-rule="evenodd" d="M2 2l300 0-3 60-11 14-22 6-9 10-15 34-15 56-15 100-6 156-4 20 0 120 16 90 24 89 30 86 20 8 56-42 100-56 44-32 54-53 43-66 121-270-5-164 3-60 4-5 16 35 34 36 30 16 40 6 36-6 34-20 29-32 17-36 4-3 5 63-5 170 30 62 63 154 31 60 46 67 56 53 40 27 95 53 55 42 20-4 37-108 33-140 0-196-4-20-6-114-16-97-29-83-25-9-17-17-3-60 374 0 0 1880-1730 0z"/><path fill="#6597ce" fill-rule="evenodd" d="M2 2l299 0-2 56-11 16-25 8-11 15-26 85-15 100-6 156-4 20 0 120 15 90 52 180 24 57 6 0 56-57 118-79 60-51 39-46 33-50 88-170 36-54 24-26 26-16 24-10 30-3 30 4 26 10 24 18 26 26 30 47 90 174 33 50 37 43 60 53 120 80 60 59 20-39 14-45 26-82 26-114 5-35 0-190-4-20-6-114-16-100-28-80-33-14-11-16-2-56 373 0 0 1880-1730 0z"/><path fill="#5e91cb" fill-rule="evenodd" d="M2 2l298 0-2 56-10 14-26 9-10 13-16 44-16 70-15 134-5 230 15 96 22 84 30 100 25 66 16 27 65-67 99-75 90-91 62-74 78-128 40-50 46-32 44-9 46 11 44 33 40 51 76 124 58 70 96 97 109 83 51 58 16-23 20-51 30-94 27-100 15-86 0-194-4-20-1-60-15-120-11-50-21-59-7-7-28-10-11-14-2-56 372 0 0 1880-1730 0z"/><path fill="#568cc8" fill-rule="evenodd" d="M2 2l297 0-2 56-9 13-26 9-10 12-17 46-17 70-15 134-4 230 15 96 32 120 46 134 30 63 54-63 186-186 176-198 44-32 50-11 50 12 46 34 169 191 191 193 50 61 30-58 36-100 41-146 16-90 1-194-5-20-5-110-11-70-11-50-22-60-30-14-15-16-2-56 371 0 0 1880-1730 0z"/><path fill="#4f86c5" fill-rule="evenodd" d="M2 2l295 0-2 56-7 11-26 10-11 13-18 46-16 70-15 134-4 236 16 94 50 180 43 110 31 59 95-129 249-258 40-33 36-21 40-14 34-3 36 4 40 14 34 22 36 29 251 260 48 60 45 70 31-54 53-140 40-146 16-84 1-200-15-170-16-80-18-50-9-16-27-9-13-15-2-56 369 0 0 1880-1730 0z"/><path fill="#4781c1" fill-rule="evenodd" d="M2 2l294 0-2 56-6 10-26 10-13 14-17 46-16 70-15 134-5 236 17 94 50 180 42 110 37 76 8 0 49-76 53-65 226-228 40-32 40-24 34-11 40-5 40 5 36 13 40 24 40 33 224 229 46 54 54 83 6 2 10-12 27-60 52-140 40-146 17-84 0-200-5-20-5-110-10-70-11-50-22-60-9-9-24-7-12-14-2-56 368 0 0 1880-1730 0z"/><path fill="#407bbe" fill-rule="evenodd" d="M2 2l293 0-2 56-11 12-22 8-15 20-14 40-15 64-16 140-5 236 16 94 50 180 52 136 39 72 62-88 48-59 206-205 44-36 40-23 40-14 40-4 40 5 40 14 40 24 46 37 204 205 50 62 56 82 20-27 16-35 50-126 40-130 31-144 0-200-5-20-5-110-11-76-10-44-22-60-10-10-24-8-11-12-2-56 367 0 0 1880-1730 0z"/><path fill="#3875bb" fill-rule="evenodd" d="M2 2l292 0-2 53-10 14-24 8-12 15-17 46-15 64-15 140-5 236 16 94 50 180 67 170 21 41 14 16 59-87 51-63 180-178 50-40 46-27 40-14 44-5 46 6 40 15 40 23 50 40 180 178 57 71 52 80 5 1 13-17 34-70 46-120 40-130 31-144 0-200-5-20-5-116-10-70-10-44-22-60-12-12-24-7-10-14-2-53 366 0 0 1880-1730 0z"/><path fill="#3170b8" fill-rule="evenodd" d="M2 2l291 0 0 46-6 14-5 6-24 6-14 18-15 40-16 70-15 140-5 240 16 96 50 180 52 134 29 66 28 42 65-92 49-62 76-78 84-79 56-43 44-26 46-16 44-5 46 6 39 14 45 25 51 39 155 150 61 75 59 87 4 4 6-3 21-34 30-64 47-120 40-130 31-146 0-204-5-20 0-66-10-90-11-60-20-64-19-24-24-6-6-6-5-14 0-46 365 0 0 1880-1730 0z"/><path fill="#2d6fb8" fill-rule="evenodd" d="M2 2l280 0 0 46-5 10-29 10-10 14-20 50-15 66-6 64-4 10-1 50-4 10-5 256 4 10 1 30 10 50 50 180 80 204 19 36 6 20 15 18 62-94 51-64 65-70 76-72 60-48 50-31 50-18 46-6 50 6 44 15 46 25 54 42 137 131 63 78 66 97 10 5 4-3 60-131 45-120 40-130 30-140 0-220-4-10-1-70-4-11-6-79-10-56-20-64-20-30-29-11-5-9 0-46 354 0 0 1174-51 122-62 124-98 176-80 120-59 80-72 84-957 0-85-100-69-94-113-186-84-163z"/><path fill="#2c73bb" fill-rule="evenodd" d="M2 2l268 0-1 46-27 8-16 22-10 20-19 70-10 64-1 30-4 10-5 160-5 10 1 146 4 10 1 30 30 130 31 100 52 140 51 118 94 182 100 160 75 100 80 90 71 61 40 25 30 9 46-19 34-25 90-85 57-66 110-156 90-154 53-107 67-153 52-146 41-144 15-80 1-220-5-10-5-120-20-120-24-66-16-16-27-8-1-46 342 0 0 1133-70 167-59 120-67 120-99 156-69 92-79 92-914 0-93-107-71-97-114-186-95-184zM819 768l53 3 50 16 50 27 60 45 75 69 65 70 60 78 41 66-5 26-18 44-51 96-94 150-45 60-77 90-51 48-54 40-46 20-40-16-44-30-46-39-97-109-85-120-72-120-42-84-17-56 36-60 57-76 63-68 67-64 60-48 50-31 50-20z"/><path fill="#2b78be" fill-rule="evenodd" d="M2 2l263 0 0 40-27 13-15 23-19 50-10 40-14 104-4 156-5 14 0 146 5 10 1 30 31 134 28 86 2 14 50 134 54 125 92 177 100 160 75 100 79 90 74 63 40 25 30 9 43-17 37-27 90-84 59-69 110-156 91-156 55-108 65-152 50-139 41-145 16-84 0-220-4-16-5-120-19-114-26-70-17-16-23-10 0-40 331 0 6 18 0 1064-78 204-59 124-52 96-112 180-93 123-63 71-887 0-76-86-91-124-117-190-102-204zM796 798l56-2 56 11 54 24 60 40 70 61 66 70 61 80 46 76-20 60-44 84-95 150-64 86-56 64-54 51-54 39-36 11-44-5-50-31-46-39-74-80-79-106-85-134-44-86-23-64 29-50 57-80 55-63 54-55 56-45 50-33 50-22z"/><path fill="#2b7cc1" fill-rule="evenodd" d="M2 2l252 0 0 30-26 20-20 40-18 76-8 90-4 10 0 50-5 14 1 96-5 14 1 146 5 10 1 34 30 130 29 86 2 14 8 16 42 120 50 114 95 186 100 160 76 100 80 90 74 65 40 25 30 8 46-18 34-25 91-85 60-70 110-156 90-154 55-111 65-149 50-140 41-146 16-84 1-220-5-16 1-64-5-16-4-80-12-74-24-74-14-18-22-14 0-30 299 0 27 68 0 978-87 230-61 130-51 94-111 180-91 120-70 80-860 0-102-120-71-98-114-186-112-233zM784 818l59-5 55 9 60 24 59 38 71 60 64 69 66 85 42 70-19 54-41 80-45 76-68 100-67 84-42 47-76 64-34 16-70 1-20-6-70-53-53-53-81-100-79-120-67-120-26-70 26-45 54-77 50-59 56-55 50-43 50-33 50-25z"/><path fill="#2a80c4" fill-rule="evenodd" d="M2 2l241 0 0 20-21 18-14 24-18 58-16 146-1 160-5 14 1 146 5 14 1 30 30 130 29 86 1 14 51 136 50 114 95 186 100 160 77 101 80 90 74 65 40 25 30 9 46-19 35-25 91-86 60-70 110-156 90-155 55-109 65-150 51-140 40-146 15-80 3-224-5-16 2-64-4-16-2-80-10-80-20-70-18-24-18-16-1-20 268 0 47 119 0 896-40 116-58 145-59 124-51 96-112 179-90 121-75 84-833 0-86-100-92-124-63-100-76-136-95-203zM802 832l56 0 54 12 56 25 54 36 60 51 64 66 56 72 52 78-10 40-46 90-97 156-61 80-58 64-50 47-34 24-16 5-44-5-66 3-24-14-40-33-50-50-79-97-58-84-71-120-25-50-18-50 25-45 60-82 56-63 54-53 50-39 50-31 50-22z"/><path fill="#2985c7" fill-rule="evenodd" d="M2 2l228 0-1 16-21 22-19 42-15 80-7 106 3 160-5 14 3 146 5 14 1 30 30 130 29 86 1 14 51 136 50 114 95 186 100 160 78 102 80 90 74 65 40 25 30 9 46-19 70-55 94-100 83-107 50-76 90-154 80-166 76-190 40-130 31-140 4-224-4-20 3-66-3-14 0-76-8-80-20-74-32-40-2-16 239 0 63 168 0 818-47 140-57 140-61 130-51 94-114 182-90 120-79 88-805 0-91-104-95-128-61-98-76-134-103-224zM787 852l55-3 56 9 54 21 60 36 66 53 60 62 60 75 51 77-11 40-41 80-97 156-61 80-58 64-49 46-34 18-66-8-70 7-10-3-45-34-76-80-76-100-102-166-22-44-18-50 19-37 61-83 99-107 50-41 50-32 50-23z"/><path fill="#2989ca" fill-rule="evenodd" d="M9 2l199 0-16 23-10 27-19 136-3 80 4 44-4 16 6 94-4 16 4 150 17 94 50 180 51 136 50 114 95 186 100 160 79 103 80 90 74 65 40 25 30 9 46-19 70-55 94-100 84-108 50-76 90-154 80-166 76-190 40-130 32-144 7-226-4-14 5-66-4-124-19-130-27-46 202 0 44 106 34 108 0 739-47 143-42 110-82 180-51 94-115 186-90 120-86 94-778 0-119-140-102-144-109-190-109-240 0-1151zM809 868l53 1 50 11 56 24 54 35 60 51 56 57 60 75 46 70-6 27-41 83-97 156-62 80-58 64-52 46-16 5-80-10-84 11-40-28-76-78-77-100-101-166-36-84 20-37 64-88 50-56 56-52 54-42 50-28 50-19z"/><path fill="#288dcd" fill-rule="evenodd" d="M25 2l154 0-19 46-7 64 4 195-3 21 7 94-4 16 13 194 31 130 31 100 51 136 50 114 95 186 70 114 86 120 98 115 51 45 69 49 30 10 46-20 69-53 61-61 58-69 111-156 90-154 55-110 65-150 51-140 42-146 16-80 11-230-4-20 5-60-3-110 4-70-6-75-6-19-16-26 156 0 59 135 36 123 0 662-54 170-43 110-114 240-72 126-61 93-92 121-91 100-750 0-125-144-104-150-106-186-72-151-46-109 0-1090zM792 888l56-3 54 10 56 21 54 34 60 48 60 61 60 74 47 69-5 20-38 80-97 156-83 104-44 46-44 35-56-12-40-3-44 4-50 11-30-20-76-76-76-99-101-166-31-75 14-28 63-87 51-58 50-47 51-39 45-28 44-20z"/><path fill="#2890cf" fill-rule="evenodd" d="M42 2l105 0-13 60-1 46 15 140 0 80 7 90-3 20 15 195 31 129 31 100 41 110 61 140 99 190 70 116 86 120 95 110 51 46 70 48 30 10 50-23 66-50 61-61 55-66 61-80 95-150 48-84 81-166 41-94 51-140 41-146 17-80 13-230-3-20 6-60-1-70 15-114-1-60-13-56 106 0 65 140 46 158 0 585-47 157-57 153-51 113-65 130-71 124-63 96-91 120-97 104-720 0-132-151-106-151-104-182-71-150-55-131 0-1034zM824 902l48 4 50 13 56 26 50 33 54 47 52 53 56 70 44 64-16 46-23 44-97 156-83 104-37 40-40 31-50-14-46-6-54 4-60 15-18-10-78-76-78-104-98-160-27-64 1-10 20-30 65-86 53-56 54-49 50-35 50-26 50-17z"/><path fill="#2795d2" fill-rule="evenodd" d="M45 8l3-6 78 0-4 20 4 86 19 140 1 80 8 90-4 20 15 194 32 130 32 100 41 110 61 140 95 186 74 120 85 120 95 110 52 47 66 45 34 12 50-22 66-50 62-62 55-66 60-80 99-154 45-80 81-166 40-94 52-140 42-146 16-80 14-230-3-20 6-60-2-20 18-140 8-120-3-20 77 0 67 143 28 83 22 91 0 555-51 168-42 116-44 104-86 176-69 120-63 94-94 126-97 104-712 0-78-84-58-73-66-90-61-97-82-146-71-150-56-134 0-1014zM783 912l55-4 54 7 56 19 54 31 60 46 62 61 66 80 42 65-37 85-94 150-86 110-38 39-35 28-60-16-44-5-56 4-54 16-17-6-79-77-78-103-84-134-39-80 1-19 48-67 58-69 54-55 46-37 54-36 46-20z"/><path fill="#269cd7" fill-rule="evenodd" d="M34 82l8 3 50 58 8 15 38 191 7 63-3 26 11 154 17 96 53 180 42 110 62 140 97 184 71 116 85 120 98 112 54 49 66 45 34 12 50-22 66-50 64-64 58-68 110-154 92-156 56-110 57-124 47-120 58-190 17-86 15-263 40-193 60-77 10 7 31 62 29 80 40 152 0 431-14 57-32 110-48 140-58 140-84 170-72 124-62 93-92 123-108 114-663 0-123-134-61-80-64-96-109-189-71-151-69-171 0-919zM793 932l55-2 50 8 54 20 56 32 54 43 56 53 54 66 51 70-5 30-24 50-93 150-83 106-40 41-20 13-60-21-56-8-64 5-70 23-16-8-60-59-77-102-84-134-34-70 1-16 60-81 50-58 54-53 50-39 46-27 50-21z"/><path fill="#25a3dc" fill-rule="evenodd" d="M1641 162l7 2 10 20 36 104 23 84 15 91 0 278-58 227-79 214-86 186-102 180-56 84-89 118-123 132-613 0-53-50-105-122-68-92-62-99-76-133-74-154-86-219 0-823 10-21 6-5 4 3 66 65 46 180 18 226 32 130 31 100 54 140 52 114 66 130 132 216 100 130 60 64 73 63 44 27 36 12 56-24 64-49 66-65 58-68 111-156 91-155 56-109 84-193 63-187 32-140 15-186 36-164 14-41zM804 952l54 0 50 10 50 20 50 29 54 43 50 48 56 64 50 69-6 27-19 40-93 150-88 109-40 34-70-27-64-10-76 9-70 27-14-6-66-69-57-77-83-134-25-56-1-20 46-63 56-65 60-57 50-38 50-28 50-19z"/><path fill="#24aae1" fill-rule="evenodd" d="M1649 232l9 1 4 12 40 123 30 169 0 136-15 79-58 216-79 210-112 233-71 121-55 84-99 132-129 134-564 0-62-58-89-102-82-110-65-100-76-134-72-150-55-131-47-131 0-729 10-2 68 63 34 114 18 97 13 129 43 170 73 200 51 116 71 138 129 210 100 131 60 65 76 64 44 28 40 12 56-22 40-28 35-30 99-104 81-106 50-74 94-160 55-110 57-126 78-214 38-150 17-165 46-171 10-20zM826 972l46 4 50 13 46 19 50 31 49 40 51 50 93 119-3 20-16 33-93 151-67 85-44 41-86-32-70-10-70 9-90 34-59-61-57-76-84-136-20-44 0-17 60-80 56-60 60-53 50-34 50-25 50-15z"/><path fill="#23b1e6" fill-rule="evenodd" d="M2 292l70 64 10 19 46 181 21 136 52 181 84 209 91 186 129 210 103 132 60 65 74 64 46 28 44 14 26-7 34-17 40-28 38-31 98-103 81-107 51-76 94-159 55-111 56-124 64-170 42-146 30-184 46-160 51-49 20-18 4 1 27 80 19 89 19 117 0 50-19 114-16 71-66 209-88 216-59 120-97 168-57 86-91 120-48 56-99 94-513 0-66-61-63-69-119-154-108-177-101-199-57-134-58-160zM787 998l51-4 50 6 50 16 54 28 54 38 52 47 54 61 51 68 1 10-12 30-94 154-63 80-33 32-4 1-50-26-40-14-76-11-40 2-40 9-90 40-48-47-57-76-55-86-44-84 1-14 53-71 50-56 50-46 46-33 44-26 40-17z"/><path fill="#26b6e7" fill-rule="evenodd" d="M1658 348l4-2 6 7 10 29 39 205 0 45-8 50-29 130-65 206-88 210-107 204-108 170-67 90-63 76-120 114-461 0-73-64-74-80-83-106-63-92-108-182-72-147-66-153-60-173 0-535 50 42 20 23 40 143 24 134 57 186 52 134 53 120 97 186 73 118 56 82 75 94 53 59 60 55 43 32 33 18 44 13 30-8 56-30 53-43 67-67 118-149 119-190 109-214 41-96 53-140 45-150 18-84 5-56 42-141zM797 1018l51-2 50 8 50 17 50 27 50 37 50 45 50 56 50 65-9 31-92 150-64 80-21 18-94-44-40-11-46-4-44 4-40 10-46 18-44 26-10 0-33-31-57-76-56-88-37-72 2-14 55-72 50-53 50-45 86-54 44-17z"/><path fill="#2eb7e4" fill-rule="evenodd" d="M2 402l70 73 29 103 20 120 56 184 45 116 64 140 98 184 131 200 54 70 76 86 57 52 46 34 34 21 50 14 36-9 54-31 56-44 67-67 120-150 100-156 104-190 59-125 49-125 61-194 18-86 2-44 30-102 54-57 26-20 38 173-1 70-19 100-28 106-33 104-51 136-60 134-61 120-95 164-56 83-70 93-64 77-79 79-55 44-407 0-85-73-71-77-116-150-113-179-101-195-69-160-69-200zM810 1038l48 0 50 10 44 17 51 28 49 37 46 42 92 110-2 19-15 27-77 124-47 60-26 25-55-32-46-20-44-12-46-4-44 4-46 11-50 22-50 31-4-1-21-18-58-76-86-144-1-17 50-63 50-54 56-48 44-31 46-24 44-15z"/><path fill="#36b8e1" fill-rule="evenodd" d="M2 452l70 77 15 53 19 120 54 186 43 114 62 140 102 196 71 114 59 86 79 100 52 56 60 54 50 38 40 22 54 14 40-9 40-19 82-62 108-114 81-106 54-80 95-160 56-110 85-194 65-196 27-114 9-80 14-49 44-50 36-30 29 133-1 50-8 50-28 120-31 100-55 150-46 106-115 224-126 200-68 90-64 76-77 77-71 57-351 0-121-104-84-96-83-110-111-174-102-196-69-154-46-126-38-119zM792 1062l50-2 53 8 45 14 49 26 50 34 49 44 94 110-24 56-63 100-47 60-16 11-54-35-46-22-50-14-49-5-51 4-50 14-44 21-60 37-27-25-41-56-68-112-12-28 2-10 56-68 62-62 50-40 51-30 48-20z"/><path fill="#3eb9de" fill-rule="evenodd" d="M1661 498l7 0 18 80-1 60-37 164-47 146-83 200-88 174-98 166-61 90-129 159-80 79-85 66-291 0-34-23-104-91-80-91-60-77-61-88-75-120-106-200-57-124-55-140-52-168 0-259 68 81 8 70 32 136 31 104 54 146 50 114 73 146 74 127 116 167 114 132 80 68 50 32 50 19 30 4 50-11 46-22 84-65 106-111 85-110 55-83 94-163 58-114 67-156 48-134 30-100 27-116 9-84zM783 1138l49-5 46 4 44 12 50 22 50 31 46 38 90 96-16 39-39 63-24 34-31 35-8 1-52-37-50-25-46-14-44-7-56 2-54 14-56 26-64 42-32-31-54-81-24-46-1-19 71-77 70-58 70-39z"/><path fill="#46bbdb" fill-rule="evenodd" d="M1661 542l7-1 9 41-1 50-21 100-31 110-36 104-40 96-137 276-99 167-54 81-86 112-119 124-63 50-48 30-223 0-57-36-80-68-104-115-83-111-59-90-77-130-76-144-71-150-45-110-65-210 0-169 30 39 10 70 36 140 34 106 56 144 54 120 74 144 102 169 59 87 79 100 62 66 58 54 36 28 60 36 56 18 40 2 44-13 46-22 91-69 110-116 84-110 57-84 94-160 59-116 59-130 50-129 45-135 31-120 10-86zM783 1212l69-3 70 15 70 34 70 52 69 72-9 21-44 70-26 21-60-42-54-28-56-16-60-5-50 6-50 16-54 28-56 40-10 0-40-51-30-53 0-12 60-61 66-51 64-35z"/><path fill="#4ebcd8" fill-rule="evenodd" d="M782 1288l40-5 46 3 44 10 46 17 50 29 54 43 40 37-4 16-20 32-16 11-64-48-60-31-60-18-66-3-44 7-46 15-60 31-60 45-4 2-10-7-28-46 18-23 50-43 50-34 50-25z"/></g></g></g><path fill="#d1d1d1" d="M854.00 289.20 L866.00 289.20 L861.58 313.08 Q860.62 317.60 860.40 318.80 L859.40 318.80 Q859.18 317.60 858.22 313.08 L854.00 289.20 Z"/>
<g clip-path="url(#pc11)"><g filter="url(#bl)"><g transform="translate(117.00 54.00) scale(0.1)"><path fill="#fafcfe" fill-rule="evenodd" d="M302 2l281 0-1 30-19 100 5 5 20 2 24 14 19 19 20 36 17 53 0 27 4 8 0 78-20 81-30 57-44 50-63 36-31 10-48 4-51-10-56-24-56-50-15-22-30-61-16-61 0-96 5-10 1-22 11-38 23-45 28-25 42-16-19-95z"/><path fill="#f0f5fc" fill-rule="evenodd" d="M302 2l281 0-1 30-19 100 5 5 20 2 24 13 19 20 17 28 14 42 10 55 0 77-20 81-31 57-39 46-67 40-31 10-48 4-51-10-56-24-27-21-28-29-16-22-30-61-16-61 0-97 5-9 1-21 11-39 23-45 28-25 42-16-19-94z"/><path fill="#e6eff9" fill-rule="evenodd" d="M302 2l281 0-1 30-19 100 5 5 20 2 23 13 20 20 17 28 14 42 10 55 0 76-20 81-31 58-39 46-68 40-31 10-46 4-51-10-56-24-28-21-28-29-16-23-30-61-16-62 0-94 12-56 18-42 16-22 23-20 41-16-19-94z"/><path fill="#dbe9f7" fill-rule="evenodd" d="M303 2l279 0 0 30-19 100 48 20 19 20 18 29 14 41 10 56 0 74-20 81-31 59-39 46-69 40-31 9-44 5-51-10-57-24-27-20-29-30-16-23-30-62-16-61 0-92 12-58 24-51 10-12 23-21 41-16-19-94z"/><path fill="#d1e2f5" fill-rule="evenodd" d="M303 2l279 0-1 30-18 100 48 20 19 20 18 29 14 41 10 56 0 74-20 81-31 59-40 46-68 40-31 9-44 5-51-10-56-24-27-20-30-30-16-24-30-61-16-65 0-86 13-60 23-51 10-12 24-21 40-16-18-94z"/><path fill="#c7dcf2" fill-rule="evenodd" d="M303 2l279 0-1 30-18 100 47 20 20 20 18 29 14 41 10 56 0 74-20 80-32 60-39 46-37 24-32 16-29 9-45 5-50-10-57-24-27-20-29-30-17-24-30-62-16-64 1-85 12-61 23-50 10-13 24-21 40-16-18-94z"/><path fill="#bdd6f0" fill-rule="evenodd" d="M303 2l279 0-1 30-18 100 47 20 19 20 19 30 13 40 11 56 0 74-20 80-32 60-39 46-37 24-33 16-29 9-44 5-49-10-58-24-27-20-29-30-17-24-30-62-15-70 0-80 12-60 23-50 10-12 24-22 40-16-18-94z"/><path fill="#b2cfee" fill-rule="evenodd" d="M304 2l277 0 0 30-18 100 39 16 23 20 23 34 12 36 12 64 0 66-10 54-14 42-28 48-39 46-38 24-55 23-46 7-40-6-34-11-40-20-39-33-29-34-35-76-12-54 0-80 15-73 20-43 22-24 23-16 25-5 4-5-18-94z"/><path fill="#a9c9eb" fill-rule="evenodd" d="M304 2l277 0-1 30-17 100 39 16 23 20 23 35 12 35 12 64 0 66-11 54-13 41-28 49-40 46-37 24-55 23-46 7-40-6-34-11-40-20-39-33-29-34-35-76-12-54 0-80 15-72 20-44 22-24 23-15 25-6 4-5-17-94z"/><path fill="#a1c3e8" fill-rule="evenodd" d="M304 2l277 0-1 30-17 100 38 16 23 20 24 35 11 35 12 65 1 65-11 54-13 41-29 49-39 46-37 24-55 23-46 6-40-5-40-14-34-18-38-32-29-34-36-76-12-54 0-80 15-71 20-43 20-23 16-13 38-16-17-94z"/><path fill="#9abee5" fill-rule="evenodd" d="M305 2l275 0 0 30-19 90 2 10 38 16 23 20 24 36 11 34 12 64 0 66-10 54-13 40-29 50-39 46-38 24-54 22-45 7-41-5-39-14-35-18-38-32-29-34-36-76-11-54 0-80 14-71 20-43 13-16 23-20 38-16-17-94z"/><path fill="#92b8e2" fill-rule="evenodd" d="M305 2l275 0 0 30-19 90 2 10 37 16 24 20 18 27 17 43 12 64 0 66-10 54-13 40-29 50-40 46-37 24-54 22-46 7-40-5-39-13-35-19-36-29-31-37-35-76-12-54 0-80 14-70 28-56 22-20 40-15 6-10-19-89z"/><path fill="#8bb3de" fill-rule="evenodd" d="M305 2l275 0-1 30-18 96 7 10 40 14 20 20 20 33 11 33 12 64 0 66-11 54-12 39-29 51-40 46-38 24-53 22-46 7-40-6-38-12-36-19-36-30-31-36-35-76-12-54 0-76 14-73 28-57 22-20 39-14 7-10-18-90z"/><path fill="#83addb" fill-rule="evenodd" d="M305 2l275 0-1 30-19 96 8 10 40 14 20 20 20 34 10 32 13 64 0 66-11 54-12 39-30 51-36 42-41 28-53 22-46 6-40-5-38-12-36-20-36-29-30-36-36-76-12-54 0-76 14-72 29-58 21-20 40-14 6-10-18-90z"/><path fill="#7ca8d8" fill-rule="evenodd" d="M306 2l273 0 0 30-19 90 2 10 6 6 31 10 24 20 19 28 16 42 12 64 0 66-10 54-12 38-30 52-36 42-42 28-52 22-46 6-40-5-37-13-37-19-36-29-30-36-36-76-11-54-1-60 1-30 13-58 29-58 21-20 20-10 20-4 7-10-19-90z"/><path fill="#74a2d5" fill-rule="evenodd" d="M306 2l273 0 0 30-19 86 1 14 7 7 30 9 25 20 19 29 16 41 12 64 0 66-5 34-17 58-30 52-36 42-42 28-52 21-46 7-40-5-36-13-38-19-36-29-30-36-35-76-12-50 0-60 1-34 12-57 29-59 30-24 31-9 7-11-19-90z"/><path fill="#6d9cd2" fill-rule="evenodd" d="M306 2l273 0-1 30-18 86 1 14 7 7 29 9 25 20 20 29 16 41 12 64 0 66-22 91-30 53-36 41-43 29-51 21-46 7-40-6-36-12-38-19-36-30-30-35-35-76-11-50-1-60 1-34 12-56 30-59 30-25 30-9 7-11-18-90z"/><path fill="#6597ce" fill-rule="evenodd" d="M306 2l273 0-1 30-18 86 0 14 8 7 18 3 19 10 17 16 20 30 16 40 12 64 0 66-22 91-30 53-36 41-43 29-51 21-46 7-40-6-35-12-39-20-31-24-35-41-35-75-11-50-1-54 1-40 12-56 30-59 30-25 30-9 8-11-19-90z"/><path fill="#5e91cb" fill-rule="evenodd" d="M307 2l271 0 0 30-19 86 1 14 8 8 37 12 17 17 20 29 16 40 11 64 0 66-21 90-30 54-36 41-44 29-50 21-46 6-40-5-35-12-39-20-31-24-35-41-35-75-11-50-1-50 1-44 12-55 29-59 23-22 38-12 8-12-19-90z"/><path fill="#568cc8" fill-rule="evenodd" d="M307 2l271 0 0 30-19 86 1 14 8 8 36 12 18 17 20 30 16 40 11 63 0 66-21 89-30 54-36 41-44 30-50 21-46 6-40-5-34-12-39-20-37-30-29-36-36-74-11-50 0-30 0-60 12-58 29-60 24-22 37-12 8-12-19-90z"/><path fill="#4f86c5" fill-rule="evenodd" d="M307 2l271 0 0 28-19 88 0 14 9 9 36 11 18 18 20 30 16 40 11 62 0 66-21 89-30 54-36 41-45 30-50 20-45 7-40-6-34-11-39-20-37-30-30-36-34-74-12-70 0-70 12-57 30-60 23-23 37-11 8-9-18-97z"/><path fill="#4781c1" fill-rule="evenodd" d="M308 2l269 0 0 26-19 90 1 14 9 9 35 11 19 18 20 31 16 40 11 61 0 66-11 58-16 41-25 43-36 42-45 31-50 19-44 7-40-6-33-11-39-20-38-30-30-37-34-74-12-69 0-70 12-56 30-61 24-23 36-11 8-9-18-100z"/><path fill="#407bbe" fill-rule="evenodd" d="M308 2l269 0 0 26-18 104 9 9 35 11 19 19 20 30 16 41 10 60 1 66-11 57-16 41-24 44-37 42-45 30-51 20-43 6-40-5-72-31-38-31-30-36-34-75-12-52 1-80 15-76 20-40 24-24 16-11 26-6 8-9-18-100z"/><path fill="#3875bb" fill-rule="evenodd" d="M309 2l267 0 0 26-18 104 10 10 34 10 20 19 20 31 15 41 11 59 0 66-10 56-16 41-24 44-37 43-46 30-51 20-42 6-40-5-71-31-39-31-30-37-34-75-11-51 0-80 15-75 20-40 20-22 21-13 25-6 9-10-18-100z"/><path fill="#3170b8" fill-rule="evenodd" d="M310 2l265 0 0 26-19 94 2 10 10 10 33 10 21 20 20 31 15 39 11 60 0 66-10 55-16 42-24 44-38 43-45 30-52 20-41 6-40-5-71-31-39-32-30-36-34-76-11-50 0-80 15-73 20-41 20-22 22-14 28-8 5-8-17-100z"/><path fill="#2d6fb8" fill-rule="evenodd" d="M311 2l263 0 0 30-18 86 1 14 5 8 37 12 23 20 20 32 14 38 12 60 0 66-11 54-15 42-24 44-38 44-46 30-52 20-40 6-40-6-70-30-40-32-30-37-34-75-11-50 0-80 15-72 30-54 24-20 36-12 7-12-18-90z"/><path fill="#2c73bb" fill-rule="evenodd" d="M311 2l263 0-1 30-18 86 1 14 6 9 36 11 24 22 20 31 14 37 11 60 1 66-11 54-15 41-24 45-39 44-46 30-51 20-40 5-40-5-70-30-40-33-30-36-34-76-11-49 0-80 15-71 31-54 24-21 35-11 8-13-18-90z"/><path fill="#2b78be" fill-rule="evenodd" d="M312 2l261 0 0 30-19 86 1 14 7 10 35 10 21 17 20 28 14 37 15 68 1 61-10 55-16 45-25 45-38 44-46 30-51 19-40 6-40-6-70-29-34-28-35-42-34-74-11-50 0-61 0-24 14-64 30-55 26-22 30-8 12-12-18-95z"/><path fill="#2b7cc1" fill-rule="evenodd" d="M314 2l257 0 0 26-18 90 1 14 8 11 33 9 23 18 20 28 14 37 14 67 1 60-9 54-16 46-25 45-39 45-37 25-47 21-51 8-35-4-45-14-29-16-52-44-20-27-30-62-14-67 1-80 6-34 13-41 20-36 23-23 20-10 17-3 13-13-17-100z"/><path fill="#2a80c4" fill-rule="evenodd" d="M322 2l14 0 28 76 74 4 78-4 27-76 22 0 1 26-12 64-1 40 9 13 31 7 26 20 19 27 14 38 14 65 1 60-7 40-18 59-29 51-35 40-38 26-47 20-51 8-34-5-44-13-29-16-33-24-35-40-38-80-11-56 1-80 7-34 12-39 20-37 24-25 40-12 8-7 1-40-12-66z"/><path fill="#2985c7" fill-rule="evenodd" d="M343 103l198-1 7 8 3 22 7 10 42 16 22 20 20 33 10 28 13 63 1 66-11 54-13 38-30 52-34 40-38 26-49 20-49 7-34-4-43-13-30-16-53-45-20-27-30-63-13-75 1-70 12-58 20-42 16-20 17-14 37-12 10-8 5-30z"/><path fill="#2989ca" fill-rule="evenodd" d="M351 118l181-1 26 29 38 12 22 17 20 28 14 38 13 61 0 66-23 91-30 53-34 40-39 26-49 20-48 7-40-6-66-27-54-45-20-28-30-64-12-57 0-60 7-60 11-36 30-47 21-17 39-12z"/><path fill="#288dcd" fill-rule="evenodd" d="M518 132l14 1 26 17 44 15 20 19 20 33 16 45 7 46 0 60-13 61-10 29-30 53-31 37-35 24-64 27-40 5-45-6-60-26-29-21-40-45-26-48-10-24-12-56 1-80 7-41 10-32 24-43 24-20 42-12 24-17 90 3z"/><path fill="#2890cf" fill-rule="evenodd" d="M338 152l14-4 80 4 106-3 64 20 26 25 14 27 16 44 6 53 0 50-16 74-20 45-33 45-20 20-59 36-34 10-40 6-44-6-60-26-28-20-28-27-20-28-24-50-18-75 1-80 12-50 9-25 26-36 24-17z"/><path fill="#2795d2" fill-rule="evenodd" d="M527 152l71 16 20 16 20 27 20 55 6 36 0 66-12 59-14 40-26 42-24 31-28 22-44 26-34 10-40 6-43-6-68-30-43-38-26-33-24-51-17-64 0-84 7-36 14-43 16-25 15-16 25-14 54-11 120 3z"/><path fill="#269cd7" fill-rule="evenodd" d="M400 168l58-3 60 9 60 1 24 7 20 16 16 22 14 37 10 45 1 66-5 34-16 52-20 39-24 35-25 24-49 30-42 16-40 5-40-5-51-20-39-26-30-29-20-29-24-50-16-62 1-90 15-55 24-40 16-13 20-8z"/><path fill="#25a3dc" fill-rule="evenodd" d="M407 172l65 0 70 19 70 11 16 13 14 25 10 25 10 47 1 56-12 54-23 60-32 46-24 23-51 31-43 15-36 4-34-4-44-15-32-16-39-34-25-31-26-49-20-74 3-86 15-50 18-28 20-15 60-8z"/><path fill="#24aae1" fill-rule="evenodd" d="M409 178l39-3 34 4 80 29 56 13 14 13 10 17 18 67 1 50-13 62-26 58-28 40-26 24-51 30-35 12-40 5-40-5-34-12-36-18-42-36-22-30-26-50-18-76 3-80 15-45 16-21 14-8 46-10 54-22z"/><path fill="#23b1e6" fill-rule="evenodd" d="M409 182l43-2 40 7 80 36 50 16 10 8 13 21 14 50 0 50-11 56-26 60-30 43-20 21-49 30-42 14-39 5-38-5-42-14-29-16-41-34-24-34-26-50-17-72 3-74 13-36 11-18 116-50z"/><path fill="#26b6e7" fill-rule="evenodd" d="M410 188l62 0 58 20 52 31 50 22 10 14 13 37 2 50-5 36-15 50-19 40-29 40-22 19-50 30-39 14-36 4-40-6-55-21-35-24-24-26-26-38-20-42-14-60 2-70 18-44 110-60z"/><path fill="#2eb7e4" fill-rule="evenodd" d="M411 192l58 0 59 20 104 64 21 42 2 44-6 36-16 54-18 36-27 37-20 19-47 28-43 16-36 3-35-3-63-26-32-22-37-42-17-34-16-34-12-52 2-66 15-34 105-66z"/><path fill="#36b8e1" fill-rule="evenodd" d="M411 198l57-1 58 21 112 78 13 26 1 40-6 36-14 46-20 41-30 41-18 16-41 26-45 16-36 4-40-6-51-20-37-24-36-43-20-37-15-36-10-44 1-56 14-30 100-71 30-14z"/><path fill="#3eb9de" fill-rule="evenodd" d="M412 202l56 0 54 20 116 86 9 20 1 34-10 56-30 67-45 53-40 24-45 16-35 4-40-4-52-20-33-23-36-39-20-36-14-35-11-47 0-56 11-17 99-77 31-16z"/><path fill="#46bbdb" fill-rule="evenodd" d="M411 208l51-2 56 19 33 22 81 71 9 14 2 30-5 36-16 46-20 36-29 37-21 15-34 19-37 11-43 5-40-5-43-14-33-20-45-52-19-38-13-40-4-46 1-24 6-10 94-81 36-19z"/><path fill="#4ebcd8" fill-rule="evenodd" d="M409 212l53-1 56 20 36 27 62 60 12 20 3 30-4 30-10 30-16 30-23 27-26 21-30 17-34 13-36 5-40-1-34-9-36-16-31-23-28-30-20-34-9-30-4-46 9-30 86-80 33-19z"/><path fill="#56bdd5" fill-rule="evenodd" d="M406 218l52-4 50 16 43 32 61 66 3 30-3 34-23 56-43 44-58 28-36 6-34-1-35-8-31-13-25-16-25-26-20-30-12-30-5-44 6-36 76-74 25-18z"/><path fill="#5ebed2" fill-rule="evenodd" d="M426 218l46 3 46 21 77 76 8 20-6 60-12 30-17 25-25 25-25 16-60 18-36 0-30-6-30-12-25-16-25-25-17-25-18-60 4-46 51-54 46-36z"/><path fill="#62becb" fill-rule="evenodd" d="M416 222l46 0 46 18 33 28 44 50 7 14-4 56-26 51-40 37-54 21-60-1-56-24-23-20-19-24-21-56-2-34 8-20 63-68 30-18z"/><path fill="#61bdc1" fill-rule="evenodd" d="M409 228l49-3 44 16 33 27 46 60-2 50-20 44-37 38-44 22-56 3-54-18-44-39-23-50-4-36 4-20 54-64 27-20z"/><path fill="#60bbb0" fill-rule="evenodd" d="M428 228l44 4 40 20 33 36 25 34 3 16-8 50-25 40-42 32-46 13-50-5-47-26-33-40-15-50 3-30 41-54 37-28z"/><path fill="#5eb797" fill-rule="evenodd" d="M418 238l40-1 40 15 31 30 25 46-2 40-17 34-27 28-40 18-46 2-40-14-34-28-20-40-2-40 21-40 31-32z"/><path fill="#5cb47e" fill-rule="evenodd" d="M413 248l39-4 36 13 29 25 23 40 1 30-14 36-25 27-30 16-40 5-40-11-30-24-19-33-4-40 14-30 25-30z"/><path fill="#5eb367" fill-rule="evenodd" d="M432 252l30 3 30 16 23 27 14 34-5 30-18 30-26 20-32 10-36-4-30-17-22-29-9-30 3-24 22-36 26-21z"/><path fill="#60b251" fill-rule="evenodd" d="M413 268l29-5 25 5 25 16 19 28 5 26-6 24-18 25-20 13-30 7-30-5-24-15-18-25-6-24 5-26 19-28z"/><path fill="#63b23a" fill-rule="evenodd" d="M428 282l24 1 20 6 20 16 9 17 0 20-9 21-14 16-20 10-26 3-24-9-18-15-10-20-2-20 10-23 20-16z"/><path fill="#6db530" fill-rule="evenodd" d="M413 307l34-4 25 8 11 17-8 24-27 17-20-1-16-8-10-12-5-20 4-10z"/><path fill="#7fba32" fill-rule="evenodd" d="M431 318l21 1 8 9-2 7-16 9-14-4-8-12z"/></g></g></g><path fill="#d1d1d1" d="M155.30 56.00 L167.10 56.00 L162.65 77.16 Q161.71 81.00 161.50 82.20 L160.50 82.20 Q160.29 81.00 159.35 77.16 L155.30 56.00 Z"/>
<g clip-path="url(#pc12)"><g filter="url(#bl)"><g transform="translate(267.00 54.00) scale(0.1)"><path fill="#fafcfe" fill-rule="evenodd" d="M425 2l480 0-3 26-110 108-9 16 5 5 44 1 76 16 64 29 22 15 44 43 34 62 20 69 5 86-15 114-27 80-35 70-30 46-34 40-48 42-79 48-52 19-69 15-86 0-50-10-50-17-55-27-59-42-58-58-62-99-35-97-15-84 0-110 10-50 23-60 34-50 25-26 37-24 75-30 66-10 34-1 5-5-8-14-111-116z"/><path fill="#f0f5fc" fill-rule="evenodd" d="M426 2l478 0 0 20-6 10-106 103-9 17 5 5 44 2 76 15 64 28 22 16 44 43 34 62 19 69 6 86-16 114-26 80-35 70-30 46-35 40-47 42-80 48-50 18-70 16-86-1-50-10-50-16-55-27-59-43-58-57-62-100-35-96-15-84 0-110 12-56 21-54 35-50 25-26 37-24 74-29 66-11 34-1 5-5-8-14-107-110-6-10z"/><path fill="#e6eff9" fill-rule="evenodd" d="M426 2l478 0-1 20-5 10-106 103-9 17 5 5 44 2 76 15 63 28 23 16 44 43 34 63 19 68 6 85-16 115-29 85-33 65-30 46-34 40-47 41-80 49-46 17-74 17-86-1-50-10-50-16-55-27-59-43-57-57-63-100-34-96-16-84 1-110 11-56 22-54 36-52 23-24 37-24 74-29 60-10 40-2 5-5-7-14-108-111-5-9z"/><path fill="#dbe9f7" fill-rule="evenodd" d="M426 2l478 0-1 20-6 10-107 106-8 14 6 5 44 2 76 15 63 28 22 16 45 44 34 63 19 67 5 86-15 114-29 85-33 65-30 46-34 40-47 41-81 49-49 18-76 15-80 0-50-10-54-19-50-25-63-45-54-54-63-101-34-95-16-84 1-110 11-56 22-54 36-52 23-24 38-24 73-29 60-10 40-2 6-5-8-14-108-111-5-9z"/><path fill="#d1e2f5" fill-rule="evenodd" d="M427 2l476 0 0 20-5 9-109 107-7 14 6 5 44 2 76 16 62 27 23 16 45 44 34 63 19 67 5 86-16 114-28 84-33 66-30 46-35 40-46 41-82 49-44 16-80 17-80-1-50-9-54-19-56-28-57-42-54-54-63-102-34-94-15-85 0-109 12-56 21-54 36-51 24-25 37-24 73-29 100-12 6-5-8-14-108-112-5-8z"/><path fill="#c7dcf2" fill-rule="evenodd" d="M427 2l476 0-1 20-4 8-109 108-8 14 11 6 76 7 44 11 66 31 59 55 35 64 18 66 6 86-16 114-28 84-34 66-30 46-34 40-46 40-82 50-44 16-80 17-80-1-54-11-49-17-57-28-56-42-54-54-35-50-29-52-32-88-17-90 0-110 12-56 21-54 36-51 24-25 38-24 72-28 96-12 11-6-8-14-109-113-4-7z"/><path fill="#bdd6f0" fill-rule="evenodd" d="M427 2l476 0-5 27-109 109-8 14 11 7 76 6 44 12 65 31 60 54 35 64 18 66 6 86-16 114-28 83-34 67-30 46-34 40-46 40-83 50-43 16-80 17-80-1-54-11-48-17-58-29-56-41-54-54-35-50-29-53-32-87-17-90 1-110 11-56 21-54 36-51 25-25 38-24 71-28 96-11 11-7-8-14-109-114z"/><path fill="#b2cfee" fill-rule="evenodd" d="M428 2l474 0-4 27-110 109-7 14 7 6 80 7 44 12 65 31 59 54 36 65 18 65 5 86-15 114-28 82-34 68-30 46-35 40-45 40-83 50-43 15-80 17-80 0-54-12-48-16-58-29-55-41-55-54-35-50-29-54-32-86-17-90 1-110 11-56 21-53 36-51 25-26 38-24 71-28 60-10 36-1 11-7-8-14-109-114z"/><path fill="#a9c9eb" fill-rule="evenodd" d="M429 2l472 0-3 26-110 110-8 14 8 6 80 8 44 11 64 31 60 54 36 66 18 64 5 86-16 114-27 82-34 68-30 46-35 40-45 40-84 50-42 15-80 17-80-1-54-11-47-16-59-29-55-41-55-54-35-50-29-54-31-86-17-90 0-110 12-56 20-52 36-52 26-26 38-24 66-26 64-12 36-1 12-7-8-14-110-115z"/><path fill="#a1c3e8" fill-rule="evenodd" d="M430 2l470 0-3 26-109 110-8 14 8 7 80 7 44 11 63 31 60 54 37 67 17 63 6 86-16 114-27 81-34 69-30 45-35 41-46 40-84 50-41 15-80 17-80-1-54-11-46-16-59-30-56-40-55-55-35-50-29-54-31-85-17-90 0-110 12-56 20-52 37-52 26-26 37-24 66-26 64-11 40-2 8-7-8-14-109-116z"/><path fill="#9abee5" fill-rule="evenodd" d="M431 2l468 0-3 26-104 104-13 20 9 7 80 7 44 12 63 30 60 54 37 68 17 62 5 86-15 114-27 80-34 69-30 45-36 41-46 41-83 50-41 15-80 16-80 0-54-11-46-16-59-30-55-40-56-56-34-50-30-53-31-85-17-90 1-110 11-56 20-51 38-53 25-26 38-24 65-26 64-11 40-2 8-7-7-14-109-116z"/><path fill="#92b8e2" fill-rule="evenodd" d="M432 2l466 0-4 26-107 109-8 15 9 8 44 1 79 17 63 30 60 54 38 69 17 61 5 86-15 114-27 79-34 70-30 45-36 41-46 41-84 50-40 14-80 17-80 0-54-11-45-15-59-31-56-40-56-56-34-50-30-54-31-84-16-90 0-110 11-56 20-50 38-54 26-26 38-24 64-26 64-11 40-2 9-7-8-14-107-116z"/><path fill="#8bb3de" fill-rule="evenodd" d="M435 2l460 0-2 26-107 110-7 14 9 8 44 2 78 16 63 30 61 54 38 70 16 60 6 86-16 114-26 78-34 70-30 45-36 41-47 42-84 50-40 14-73 17-86-1-53-10-45-16-59-30-57-41-70-76-50-84-30-84-17-89 0-110 11-55 21-50 38-55 25-26 39-24 64-26 63-11 40-1 9-8-7-14-107-116z"/><path fill="#83addb" fill-rule="evenodd" d="M451 8l7-6 404 0 26 15 1 11-103 110-8 14 10 8 44 2 77 16 64 30 60 54 45 84 10 46 5 90-15 113-30 85-30 59-30 45-46 52-82 62-65 30-83 20-90 0-52-10-45-16-51-24-62-43-57-57-53-79-24-54-26-79-11-74 1-104 10-53 21-53 38-54 26-26 38-24 65-26 62-10 40-2 10-8-8-14-96-106-9-14z"/><path fill="#7ca8d8" fill-rule="evenodd" d="M501 8l8-6 302 0 61 27 6 9-7 10-90 94-3 10 3 6 87 9 40 11 64 30 21 14 40 40 45 85 10 45 5 56-5 90-26 106-40 85-37 59-40 44-37 33-58 37-72 30-66 16-90 0-51-10-45-16-60-30-56-40-72-78-46-74-34-95-17-87 1-110 10-52 36-77 44-51 54-36 75-24 81-8 10-8-7-14-93-106 6-7z"/><path fill="#74a2d5" fill-rule="evenodd" d="M568 8l17-6 150 0 73 20 54 22 3 4-5 10-80 84 0 16 87 10 41 10 44 20 40 24 40 42 16 22 29 62 11 44 5 86-16 114-29 86-30 60-30 45-49 55-81 60-65 30-81 20-84 0-56-11-45-15-51-24-64-44-56-56-54-80-24-55-31-105-5-40 0-110 10-51 25-59 31-45 20-21 49-34 85-30 87-10 1-16-78-84-7-16 37-17z"/><path fill="#6d9cd2" fill-rule="evenodd" d="M587 22l71-4 70 4 64 12 56 19 5 5-10 14-63 70 0 16 84 10 44 11 43 19 40 24 41 43 16 22 24 50 16 57 5 84-16 114-29 86-31 59-29 45-49 56-81 60-67 30-83 20-81 0-68-16-42-14-50-26-56-40-59-59-54-85-40-106-16-80 0-110 5-34 21-58 24-46 41-46 55-35 74-25 88-10 0-16-67-75-7-15 46-17z"/><path fill="#6597ce" fill-rule="evenodd" d="M614 38l124 2 54 10 46 15 1 7-6 10-54 60 0 16 83 10 56 14 71 40 43 45 16 23 24 49 16 58 5 81-17 114-28 84-30 60-30 45-50 57-81 60-67 30-82 19-81 0-67-15-42-14-50-26-56-40-55-54-59-91-40-105-16-82 0-108 6-34 30-78 30-44 40-38 53-30 67-20 80-8 6-8-3-10-54-60-9-18 54-17z"/><path fill="#5e91cb" fill-rule="evenodd" d="M583 58l139-2 55 7 51 13-6 16-43 50-1 16 10 4 80 8 48 12 72 40 40 41 20 29 24 48 15 58 5 80-17 114-27 83-30 60-35 53-45 50-83 60-67 30-80 18-81 0-65-14-43-14-49-26-58-40-55-54-59-93-39-103-16-84-1-106 6-30 10-35 34-70 44-49 55-36 71-23 86-8 6-9-3-10-53-64 24-11z"/><path fill="#568cc8" fill-rule="evenodd" d="M624 72l114 3 77 13 3 4-6 10-37 46 3 10 10 4 80 8 46 12 72 40 42 46 44 74 13 50 6 56-5 84-24 104-44 97-35 53-47 52-82 60-68 30-78 17-80 0-64-13-43-14-50-26-59-40-54-56-60-92-36-91-19-95 0-106 9-47 26-60 36-53 23-24 55-36 70-22 80-8 10-4 0-16-34-40-7-10 1-7 50-9z"/><path fill="#4f86c5" fill-rule="evenodd" d="M569 92l113-3 120 10 2 9-29 40 2 10 11 5 80 8 44 11 58 30 22 20 76 102 17 58 5 86-18 121-25 73-29 60-30 46-53 60-82 60-69 30-72 16-84 1-62-13-44-14-50-26-57-40-57-57-56-82-40-102-12-53-6-40 0-106 14-62 24-48 52-70 50-34 71-26 87-9 10-5 3-10-33-47z"/><path fill="#4781c1" fill-rule="evenodd" d="M602 102l86-2 101 12 4 6-19 30 2 10 6 4 90 10 51 16 27 14 31 26 42 70 45 39 16 55 6 86-18 119-24 72-36 69-30 45-48 55-75 54-64 30-83 21-84 1-59-12-45-14-50-26-62-43-54-55-60-93-36-92-17-91 0-106 13-60 80-120 39-30 61-24 110-16 6-4 2-10-19-36z"/><path fill="#407bbe" fill-rule="evenodd" d="M596 112l86-3 90 13 10 4-9 26 10 11 86 9 69 26 20 14 20 24 44 78 46 27 15 51 6 86-17 116-30 83-30 58-30 46-44 52-81 59-64 30-81 21-84 0-56-11-45-14-50-26-65-44-54-56-60-94-36-92-16-84-1-110 13-58 10-18 30-22 47-82 27-24 54-26 36-10 86-9 9-11-10-30z"/><path fill="#3875bb" fill-rule="evenodd" d="M640 118l62 1 66 11 6 2 0 26 8 6 80 9 50 15 18 10 46 50 46 79 46 18 15 47 5 56-5 90-25 99-46 91-34 55-45 49-80 60-67 30-78 19-80 0-65-13-42-16-49-24-56-40-58-61-60-93-36-91-16-85 0-106 12-55 10-17 33-18 36-64 31-41 26-19 52-20 102-14 10-12-6-20 6-3z"/><path fill="#3170b8" fill-rule="evenodd" d="M623 128l69-1 70 11 6 2 5 18 9 7 40 3 49 10 46 20 51 50 50 83 50 21 14 46 5 50-6 84-13 65-26 62-40 59-115 119-49 40-76 37-80 17-73-3-57-16-61-30-58-44-101-104-34-47-36-89-15-80 0-106 11-50 10-17 37-17 34-61 33-42 25-23 27-14 81-20 43-3 9-7 5-21z"/><path fill="#2d6fb8" fill-rule="evenodd" d="M612 138l70-2 70 8 10 3 20 19 51 6 69 27 56 48 55 85 42 20 11 10 13 36 5 74-12 89-24 65-43 66-56 60-67 49-84 39-80 20-76 4-84-13-86-32-70-41-60-53-50-64-24-55-20-88 0-103 14-58 45-25 37-60 28-36 30-27 28-17 78-23 40-3 20-21z"/><path fill="#2c73bb" fill-rule="evenodd" d="M603 148l75-4 74 9 26 13 51 12 73 32 50 43 55 79 43 30 23 40 5 66-10 72-26 69-40 67-50 56-60 47-64 34-76 24-74 9-80-4-76-18-74-33-66-46-55-57-45-69-24-66-7-45 0-90 7-36 10-17 45-33 49-73 46-43 98-44 42-5 20-13z"/><path fill="#2b78be" fill-rule="evenodd" d="M594 158l78-5 80 9 66 20 90 42 39 34 50 70 42 40 24 50 4 54-12 70-25 66-38 60-44 51-56 44-62 35-68 23-80 12-80-3-80-20-70-31-64-46-56-58-42-67-28-75-9-75 3-36 7-24 18-30 42-40 49-70 36-31 80-39 34-13z"/><path fill="#2b7cc1" fill-rule="evenodd" d="M638 162l74 3 70 13 56 21 84 45 29 28 41 56 24 24 26 46 12 50-3 60-20 70-33 62-46 56-54 48-60 36-70 26-70 13-76 0-74-14-70-28-66-40-54-51-46-62-30-66-16-70 2-56 15-44 25-40 20-20 60-75 24-18 106-50 60-16z"/><path fill="#2a80c4" fill-rule="evenodd" d="M619 172l79 0 74 12 60 21 86 46 24 21 44 56 21 20 24 60 8 30 1 54-13 60-29 65-40 55-50 49-56 36-60 27-64 17-76 6-74-8-70-22-65-35-57-44-48-58-36-62-20-66-3-40 2-34 27-80 74-91 26-18 94-50 56-17z"/><path fill="#2985c7" fill-rule="evenodd" d="M643 178l59 2 90 18 56 23 80 47 77 84 22 106-3 54-18 60-33 60-42 50-53 45-60 33-66 23-64 10-70-1-70-15-66-26-59-39-51-47-41-57-26-60-12-60 2-50 20-86 73-80 74-45 50-23 56-16z"/><path fill="#2989ca" fill-rule="evenodd" d="M636 182l62 2 70 16 50 16 44 22 70 43 60 61 9 16 7 40 5 74-7 56-24 64-36 56-51 50-60 40-67 27-70 14-70 0-66-11-64-24-60-36-51-46-39-52-27-58-13-60 3-84 8-50 5-10 58-62 76-48 44-22 50-16z"/><path fill="#288dcd" fill-rule="evenodd" d="M624 188l44-4 40 6 130 43 100 61 53 54 8 24 3 60-8 86-18 54-32 56-45 50-55 40-62 28-64 17-70 4-66-8-64-20-56-30-52-41-41-50-30-56-15-55-6-109 6-40 9-16 55-52 85-52 49-21z"/><path fill="#2890cf" fill-rule="evenodd" d="M652 188l40 2 36 9 94 35 50 27 60 37 54 50 10 54-6 70-18 76-24 50-38 50-48 42-60 34-64 22-66 8-70-4-65-18-60-30-55-42-40-48-30-54-17-60-10-76 7-70 56-54 110-64 104-38z"/><path fill="#2795d2" fill-rule="evenodd" d="M619 192l43-4 46 6 120 45 104 62 48 41 9 20 4 60-9 66-21 70-30 54-41 47-49 39-55 28-60 17-66 7-70-7-64-19-60-33-50-42-40-51-25-50-19-70-7-80 5-40 8-16 48-41 80-49 110-47z"/><path fill="#269cd7" fill-rule="evenodd" d="M617 198l65-4 60 17 110 54 80 48 39 29 8 16 3 54-10 65-21 61-31 54-38 45-44 37-52 28-58 19-66 7-64-6-60-18-56-30-49-42-39-50-31-60-19-60-6-74 3-30 8-16 39-29 80-48 110-54z"/><path fill="#25a3dc" fill-rule="evenodd" d="M644 198l54 3 54 20 204 117 10 10 5 24-2 60-15 60-26 57-36 49-44 43-50 32-56 21-60 11-60-1-60-14-54-26-50-36-43-46-33-52-22-58-11-60 1-54 4-10 10-10 208-120 36-14z"/><path fill="#24aae1" fill-rule="evenodd" d="M636 202l52 1 50 15 74 50 135 70 11 10 2 10 0 54-12 56-24 54-32 48-39 42-51 35-50 22-54 12-60 2-56-10-55-21-49-32-46-43-34-49-24-56-14-60-1-50 7-20 142-74 66-46z"/><path fill="#23b1e6" fill-rule="evenodd" d="M631 208l51-1 50 14 36 20 50 40 79 41 40 16 14 14-1 50-11 50-21 50-30 48-36 37-44 34-50 24-50 13-56 4-54-7-56-19-49-29-45-39-35-46-27-54-15-56-3-50 7-20 123-58 80-58z"/><path fill="#26b6e7" fill-rule="evenodd" d="M627 212l55-1 50 14 37 23 53 46 59 28 53 20 8 10-1 46-11 50-20 44-26 40-36 39-40 29-40 20-50 16-56 6-60-6-50-16-50-26-40-32-37-44-27-50-16-50-5-50 5-23 110-48 73-59 33-17z"/><path fill="#2eb7e4" fill-rule="evenodd" d="M624 218l54-4 50 14 41 24 59 53 93 37 10 10 1 40-10 45-16 40-24 41-30 33-34 29-40 23-46 16-54 9-56-2-50-11-50-23-44-32-36-38-28-45-19-49-8-50 5-30 100-43 70-61 30-16z"/><path fill="#36b8e1" fill-rule="evenodd" d="M621 222l51-4 56 14 40 26 60 55 79 29 11 10 2 36-8 42-14 40-23 38-27 32-33 28-37 22-40 16-50 10-51 0-49-9-50-19-46-30-34-34-29-42-19-44-10-56 5-34 87-35 70-63z"/><path fill="#3eb9de" fill-rule="evenodd" d="M644 222l48 3 46 17 35 26 49 49 71 25 9 6 5 14-1 40-12 46-19 40-27 34-32 31-38 24-40 17-46 10-50 2-48-8-46-18-40-25-36-33-30-39-18-41-11-44 0-36 5-14 79-30 51-51 34-25 30-13z"/><path fill="#46bbdb" fill-rule="evenodd" d="M637 228l45-1 46 15 38 26 56 54 57 20 9 6 6 10 1 34-8 40-17 40-22 34-26 26-34 27-40 20-40 11-46 5-44-4-46-12-41-21-39-30-29-35-22-41-13-40-3-40 7-24 66-25 74-70 30-16z"/><path fill="#4ebcd8" fill-rule="evenodd" d="M630 232l48-2 44 14 40 26 56 55 48 17 9 6 6 10 1 34-6 36-14 34-19 30-25 29-30 24-36 19-34 12-40 7-46-1-44-10-40-18-36-24-31-32-23-36-15-40-6-44 8-30 54-20 73-69 30-18z"/><path fill="#56bdd5" fill-rule="evenodd" d="M656 232l42 6 41 20 75 70 49 20 5 10 3 20-4 34-11 36-20 34-26 30-32 26-36 18-34 11-40 5-40-2-40-10-38-18-32-23-26-27-23-34-13-36-7-40 3-24 5-10 49-20 68-66 38-21z"/><path fill="#5ebed2" fill-rule="evenodd" d="M638 238l44 0 42 14 34 26 50 50 43 20 7 14 1 30-8 36-13 30-20 30-26 25-30 21-64 24-40 3-40-4-36-11-34-18-30-24-23-26-20-36-11-34-3-40 8-20 43-20 76-70z"/><path fill="#62becb" fill-rule="evenodd" d="M629 242l43-3 46 14 34 24 50 51 37 20 7 10 3 24-4 30-11 30-16 29-46 44-60 29-34 6-40-1-40-8-30-13-30-20-27-26-20-30-15-34-5-36 5-30 42-24 69-66z"/><path fill="#61bdc1" fill-rule="evenodd" d="M643 242l45 3 40 17 68 66 33 20 9 20 0 24-6 30-13 30-18 26-49 40-30 13-34 9-36 2-34-5-36-12-30-17-24-21-24-29-14-30-8-30 0-30 9-20 33-20 68-66 26-13z"/><path fill="#60bbb0" fill-rule="evenodd" d="M632 248l46-3 40 15 24 18 48 50 32 20 4 10 3 24-4 30-23 50-44 43-56 23-64 4-36-8-30-13-26-19-24-24-16-26-11-30-4-34 7-30 38-26 55-54z"/><path fill="#5eb797" fill-rule="evenodd" d="M643 253l39 1 34 14 24 20 32 38 33 22 4 10-4 50-26 50-41 34-50 19-60-1-55-24-41-41-21-53-1-30 5-14 33-22 49-54z"/><path fill="#5cb47e" fill-rule="evenodd" d="M631 262l41-3 36 12 21 17 32 40 30 24-1 40-18 41-33 35-42 19-49 5-50-15-43-35-24-44-4-30 4-20 28-20 37-46z"/><path fill="#5eb367" fill-rule="evenodd" d="M640 268l32-2 32 12 19 14 26 36 26 24-4 40-18 36-31 26-34 15-46 2-40-14-35-29-20-40-3-26 4-14 23-20 31-41z"/><path fill="#60b251" fill-rule="evenodd" d="M652 272l30 4 26 13 48 59 2 10-7 34-19 29-30 21-34 9-36-3-34-18-24-28-12-34 2-20 39-50 25-18z"/><path fill="#63b23a" fill-rule="evenodd" d="M645 282l27 0 26 10 19 20 23 40-4 26-14 24-20 17-24 10-30 1-30-11-24-21-13-30 0-20 26-40 15-16z"/><path fill="#6db530" fill-rule="evenodd" d="M638 302l24-4 20 5 19 15 17 24 2 16-7 20-25 24-26 6-24-4-20-13-14-19-4-14 2-16 17-24z"/><path fill="#7fba32" fill-rule="evenodd" d="M648 322l20-1 18 17 4 14-12 17-26 5-20-16-1-16z"/></g></g></g><path fill="#d1d1d1" d="M327.10 56.00 L340.10 56.00 L335.12 78.28 Q334.08 82.40 333.80 83.60 L332.80 83.60 Q332.52 82.40 331.48 78.28 L327.10 56.00 Z"/>
<g clip-path="url(#pc13)"><g filter="url(#bl)"><g transform="translate(437.00 54.00) scale(0.1)"><path fill="#fafcfe" fill-rule="evenodd" d="M535 2l410 0-2 26-90 144 5 5 90 1 80 11 64 19 59 24 62 46 29 34 36 62 12 38 10 50 6 70-10 146-32 130-26 69-30 60-70 102-79 79-108 70-103 36-76 12-70 0-64-11-109-37-87-54-24-20-73-72-54-74-49-91-38-109-20-90-10-116 6-100 22-88 25-46 34-46 31-25 57-35 103-33 81-11 89-1 5-5-90-144z"/><path fill="#f0f5fc" fill-rule="evenodd" d="M536 2l408 0-2 25-89 145 5 5 90 1 80 11 74 22 48 21 63 46 29 34 36 63 12 37 10 50 6 66-11 150-31 130-26 68-30 60-70 103-79 79-109 70-102 36-76 11-70 0-64-10-108-37-88-55-24-19-72-72-55-74-48-92-38-108-20-90-11-116 6-100 22-87 25-47 34-46 31-25 58-35 102-33 80-11 90-1 5-5-89-145z"/><path fill="#e6eff9" fill-rule="evenodd" d="M536 2l408 0-2 24-89 146 5 5 90 1 80 12 74 22 47 20 64 46 29 35 36 63 12 36 10 50 5 66-10 150-31 130-26 67-31 60-69 103-80 80-109 70-101 35-76 12-70 0-64-10-107-37-89-55-96-91-54-74-50-92-37-108-20-90-11-116 6-100 22-87 25-47 35-46 30-25 59-35 101-33 80-11 90-1 5-5-89-146z"/><path fill="#dbe9f7" fill-rule="evenodd" d="M536 2l408 0-2 23-89 147 5 5 90 2 80 11 74 22 47 20 38 26 35 30 36 49 30 71 11 54 6 66-10 150-32 130-25 67-30 60-70 103-80 80-109 70-101 35-76 12-70 0-64-11-107-36-89-55-95-91-55-74-50-93-37-107-20-90-10-116 5-100 22-86 26-48 34-46 46-35 43-25 101-32 80-11 90-2 5-5-89-147z"/><path fill="#d1e2f5" fill-rule="evenodd" d="M537 2l406 0-1 22-89 148 5 5 90 2 80 11 74 22 46 20 39 26 34 30 37 50 30 70 11 54 6 66-11 150-31 130-25 66-30 60-70 104-81 79-109 71-100 35-76 11-70 0-64-10-106-36-89-56-96-90-55-74-50-94-35-102-22-94-10-116 6-100 21-85 26-48 34-46 46-35 44-26 100-32 80-11 90-2 5-5-89-148z"/><path fill="#c7dcf2" fill-rule="evenodd" d="M537 2l406 0-1 21-89 149 15 6 80 1 80 12 74 21 45 20 39 26 35 30 37 51 30 69 11 54 5 66-10 150-31 130-25 65-30 61-71 104-79 79-110 70-101 35-75 12-70 0-64-10-105-36-90-56-25-19-71-71-55-75-50-93-35-102-21-94-11-116 6-100 21-85 26-48 34-46 47-35 44-26 99-32 80-11 90-2 5-5-89-149z"/><path fill="#bdd6f0" fill-rule="evenodd" d="M537 2l406 0-4 26-84 134-2 10 15 7 80 1 80 11 73 21 54 26 61 44 26 34 36 63 14 49 12 104-10 146-31 130-25 65-30 60-72 105-78 78-110 71-102 36-74 11-70 0-64-11-104-35-90-56-26-20-70-70-56-75-50-94-35-101-21-94-10-116 5-100 21-84 26-48 34-46 33-26 48-30 64-26 45-11 80-12 80 0 15-7-86-144z"/><path fill="#b2cfee" fill-rule="evenodd" d="M538 2l404 0-3 26-84 134-2 10 15 7 80 1 80 11 72 21 55 26 60 44 27 34 36 64 14 50 12 102-10 146-32 129-24 65-30 60-72 106-78 78-106 68-42 18-65 20-73 11-70 0-64-10-103-35-90-56-26-20-71-70-56-76-50-94-34-100-22-94-10-116 6-100 20-83 26-48 34-47 33-26 49-30 64-26 44-11 80-11 80-1 15-7-2-10-84-134z"/><path fill="#a9c9eb" fill-rule="evenodd" d="M539 2l402 0-3 26-83 134-2 10 15 7 80 1 80 11 71 21 55 26 61 44 27 35 36 64 14 50 12 107-11 140-31 128-24 65-36 69-67 98-80 80-103 65-43 19-66 20-61 11-44 0-40 0-61-11-66-20-43-19-103-65-80-80-67-98-46-94-34-115-16-89-1-54-5-20 6-106 20-82 36-64 27-34 31-24 39-26 46-20 101-26 50-6 80-1 15-7-2-10-83-134z"/><path fill="#a1c3e8" fill-rule="evenodd" d="M540 2l400 0-2 26-84 134-1 10 9 7 86 1 80 12 70 20 55 26 61 44 28 36 36 64 14 50 11 110-10 136-31 126-24 66-36 70-67 98-81 80-102 65-44 19-66 20-62 10-32 1-48 0-62-11-66-20-44-19-102-65-81-80-67-98-46-95-34-115-16-88-1-54-4-20 5-106 20-80 36-65 28-35 31-24 31-21 54-25 100-26 50-6 80-1 15-7-1-10-84-134z"/><path fill="#9abee5" fill-rule="evenodd" d="M541 2l398 0-1 24-84 136-1 10 9 7 86 2 80 11 69 20 55 26 60 44 26 30 34 60 20 61 11 105-10 140-31 125-24 66-36 70-68 99-81 80-101 65-46 19-64 19-64 11-30 1-46-1-64-11-64-19-46-19-101-65-81-80-68-99-46-95-34-115-16-87 0-54-5-20 5-105 20-80 40-71 24-30 31-24 31-21 55-25 99-26 50-5 81-1 14-8-1-10-84-135z"/><path fill="#92b8e2" fill-rule="evenodd" d="M542 2l396 0 0 22-84 138-1 10 9 8 86 1 80 11 67 20 56 26 61 44 26 31 34 60 19 59 12 100-11 144-30 126-24 66-36 70-68 100-82 79-100 65-48 20-62 19-64 10-40 1-36-1-64-10-62-19-48-20-101-64-81-80-68-100-46-95-34-115-16-86 0-54-5-20 5-101 20-82 40-73 25-30 32-24 39-26 47-20 97-25 50-6 86-1 9-8-1-10-84-138z"/><path fill="#8bb3de" fill-rule="evenodd" d="M544 2l391 0 1 20-83 140-1 11 10 7 86 1 79 11 66 20 57 26 61 44 27 32 35 61 17 57 12 106-10 134-31 130-29 76-30 59-69 101-75 75-108 69-48 20-60 18-64 11-40 0-36 0-64-11-60-17-48-21-88-54-94-90-56-76-50-96-24-64-16-57-20-107-4-106 11-100 19-58 24-46 31-41 30-25 57-34 102-36 80-11 91-3 5-6-1-10-84-140z"/><path fill="#83addb" fill-rule="evenodd" d="M551 8l5-6 358 0 14 8 5 12-5 15-75 125-1 12 10 6 86 2 76 10 67 20 57 26 62 44 28 34 34 60 16 48 13 108-9 140-31 130-28 75-31 59-69 102-76 74-108 70-99 36-78 12-70 0-64-11-107-37-88-54-95-90-55-77-45-84-29-75-17-60-19-104-5-106 12-100 18-57 20-38 36-49 37-30 50-30 103-36 78-11 92-3 4-6-1-10-80-134-1-10z"/><path fill="#7ca8d8" fill-rule="evenodd" d="M608 8l12-6 230 0 72 26-4 24-65 110-1 12 10 7 86 1 74 11 80 25 52 24 58 44 36 47 24 45 22 84 6 106-4 70-16 90-22 80-26 67-49 93-51 69-96 91-89 54-65 25-64 16-40 6-76 0-69-11-100-36-109-70-76-75-70-102-30-60-27-67-31-130-11-116 6-94 17-77 30-60 34-43 30-26 37-24 44-20 106-31 141-9 5-6-2-10-49-80-24-50 4-8z"/><path fill="#74a2d5" fill-rule="evenodd" d="M682 12l60-2 60 4 60 11 50 17 2 10-12 27-50 83-1 10 4 6 13 3 84 1 76 13 95 33 59 35 30 25 60 93 16 51 11 96-4 110-27 137-36 99-30 59-40 62-32 43-70 70-71 50-45 24-50 20-51 16-65 10-76 0-40-5-61-15-65-26-110-70-72-70-62-84-44-84-36-99-27-137-5-110 12-100 20-60 50-76 65-50 79-34 80-20 137-9 6-7-1-10-50-82-16-38 50-18z"/><path fill="#6d9cd2" fill-rule="evenodd" d="M661 32l61-4 66 2 60 9 54 15 5 8-5 15-50 85 2 16 14 3 81 1 79 13 68 23 53 24 59 46 50 68 20 44 15 62 6 106-5 20-1 54-15 91-20 74-26 65-60 107-40 55-74 74-71 50-36 20-63 24-110 24-70 0-40-5-77-19-51-20-47-25-66-45-69-68-60-79-50-93-36-99-26-135-5-110 11-97 26-70 50-71 62-48 78-34 80-20 134-8 8-8-2-10-50-84-6-25z"/><path fill="#6597ce" fill-rule="evenodd" d="M689 48l113 1 96 20-5 23-42 70 3 16 14 4 80 1 80 13 62 22 54 30 54 42 33 48 27 23 20 47 14 64 6 96-5 20 0 54-15 87-20 75-26 65-50 94-54 74-73 71-27 20-85 50-55 20-73 14-113 4-94-14-72-24-38-20-74-50-76-76-70-103-30-60-26-65-20-74-15-88-5-114 11-90 25-74 50-67 70-55 73-34 41-12 81-13 89-3 8-8-1-10-41-69-8-25 48-13z"/><path fill="#5e91cb" fill-rule="evenodd" d="M657 68l131-2 100 15 3 7-3 10-38 64 3 16 9 4 86 2 50 7 49 11 31 16 44 41 76 55 21 24 32 24 11 23 26 82 8 101-4 70-15 84-19 76-26 66-50 94-54 75-76 65-94 43-106 27-110 11-110-8-110-27-94-42-76-68-34-45-40-63-25-50-31-77-30-124-9-107 1-40 14-96 14-52 10-19 50-47 132-102 84-23 134-8 8-9 0-10-32-54-10-27z"/><path fill="#568cc8" fill-rule="evenodd" d="M698 82l104 2 76 10 4 8-33 66 9 13 90 3 50 7 30 7 33 14 31 42 31 29 106 69 15 16 14 40 11 74 19 80 0 79-26 127-40 107-24 45-26 33-75 69-95 58-104 39-110 19-120-1-116-24-104-43-96-64-50-50-50-87-34-96-27-135-3-100 24-133 18-43 112-75 36-33 27-36 16-10 31-11 80-13 90-3 9-9-1-10-32-59 0-10z"/><path fill="#4f86c5" fill-rule="evenodd" d="M642 102l116-3 114 10 0 9-23 44 3 16 146 14 47 16 53 74 16 16 45 30 66 30 13 20 9 30 6 44 1 80 6 66-3 64-19 91-40 89-66 91-33 35-41 33-96 54-104 34-106 13-110-7-100-26-94-45-77-56-70-80-49-86-32-94-10-86 7-170 9-54 14-36 18-12 62-28 30-20 22-20 39-60 17-14 54-16 50-7 86-3 10-4 3-16-23-43-1-11z"/><path fill="#4781c1" fill-rule="evenodd" d="M676 112l86-2 100 12 0 12-14 34 3 10 7 4 90 4 48 6 31 10 31 33 50 77 31 20 63 19 17 11 11 26 9 40 2 74-24 186-27 84-42 77-68 79-82 62-96 45-100 23-94 4-97-14-89-32-84-49-73-65-56-74-41-86-21-84-19-190 6-60 17-46 17-11 63-19 31-20 46-70 29-34 45-16 140-10 7-4 3-10-16-46z"/><path fill="#407bbe" fill-rule="evenodd" d="M671 122l87-3 90 13 10 4-11 32 3 10 8 4 94 5 63 15 41 46 51 81 100 33 12 26 8 34 2 76-14 80-51 160-22 45-28 45-62 69-70 53-84 41-90 23-100 5-100-17-96-38-84-58-65-68-45-75-57-165-17-70-4-50 2-46 9-44 12-26 99-33 52-81 42-46 31-10 41-5 94-5 8-4 3-10-11-26 0-10z"/><path fill="#3875bb" fill-rule="evenodd" d="M714 128l64 1 64 11 10 7-6 21 3 10 9 5 90 5 53 14 49 50 52 85 77 21 19 11 13 29 7 50-5 84-27 90-78 144-46 63-62 59-72 44-86 31-84 13-90-5-86-22-80-39-70-55-56-67-81-140-30-80-13-86 3-64 15-46 21-14 77-21 50-81 44-48 18-10 49-10 93-5 9-5 3-10-6-27z"/><path fill="#3170b8" fill-rule="evenodd" d="M698 138l70-1 64 9 16 6-3 20 13 12 90 6 38 12 56 53 56 86 58 17 25 14 17 26 8 40-3 80-21 79-38 81-52 68-84 82-70 51-80 35-86 17-84-1-80-17-76-34-70-51-84-82-55-74-39-84-19-90 0-70 6-26 10-20 21-20 70-21 50-79 46-47 26-17 38-9 90-5 13-12-3-24z"/><path fill="#2d6fb8" fill-rule="evenodd" d="M686 148l72-2 70 8 14 6 2 12 14 13 80 7 40 17 56 49 58 84 55 20 18 16 17 24 11 36-1 70-19 80-35 74-46 64-57 56-67 47-76 35-80 22-90 7-90-12-80-27-80-43-70-58-57-71-42-80-23-80-4-74 6-30 11-26 30-30 55-20 44-68 36-39 46-33 29-10 89-7 14-13 2-16z"/><path fill="#2c73bb" fill-rule="evenodd" d="M676 158l76-4 75 9 11 3 7 12 13 8 57 6 63 28 51 42 57 80 60 36 18 24 12 36 4 60-14 70-29 70-45 67-54 57-60 45-70 35-70 23-86 11-90-6-84-21-80-39-72-52-58-66-45-74-27-80-7-50 3-40 12-40 20-30 60-36 54-75 49-44 68-31 67-6 13-8 7-15z"/><path fill="#2b78be" fill-rule="evenodd" d="M667 168l81-5 80 9 24 14 56 12 70 33 45 37 57 74 51 40 14 20 13 30 7 60-8 60-24 66-39 64-48 56-58 47-66 36-70 26-84 14-86-2-80-17-80-33-70-47-60-60-47-70-31-74-8-50 1-50 11-41 21-35 51-40 52-70 40-35 86-42 54-8 20-15z"/><path fill="#2b7cc1" fill-rule="evenodd" d="M712 172l66 2 60 9 64 20 90 48 31 27 47 60 51 54 18 36 9 40-3 64-18 66-35 63-45 57-58 50-67 38-70 27-74 13-80 1-80-14-76-29-64-39-60-54-49-63-31-65-16-71 3-60 17-50 120-140 30-20 90-44 66-19z"/><path fill="#2a80c4" fill-rule="evenodd" d="M691 182l81 0 76 11 64 23 80 45 26 21 46 56 22 20 32 60 11 34 3 60-13 60-26 60-38 56-50 50-57 40-63 30-67 19-76 8-80-6-74-21-70-33-65-47-50-56-39-65-21-65-5-64 12-56 34-64 22-20 46-56 30-24 90-48 66-20z"/><path fill="#2985c7" fill-rule="evenodd" d="M717 188l61 2 90 17 54 23 80 48 82 84 26 80 6 36-4 60-18 60-32 56-44 54-56 44-60 33-64 23-70 12-76-1-70-14-70-27-60-36-54-50-41-54-28-60-15-66 3-60 29-90 72-76 74-48 50-24 60-17z"/><path fill="#2989ca" fill-rule="evenodd" d="M711 192l61 2 100 23 56 24 74 46 76 75 22 110-2 56-17 60-29 54-40 50-50 43-54 33-66 24-64 13-70 1-70-11-70-25-60-35-50-43-44-54-29-60-14-60 0-50 18-100 6-10 63-63 70-46 50-25 50-16z"/><path fill="#288dcd" fill-rule="evenodd" d="M699 198l43-4 40 6 86 23 50 21 94 60 58 54 10 34 5 96-3 45-19 59-31 53-44 51-56 42-64 32-70 18-70 5-70-8-66-19-60-31-54-43-42-50-31-54-17-60-1-116 13-54 62-58 80-51 56-24z"/><path fill="#2890cf" fill-rule="evenodd" d="M727 198l41 2 40 10 90 32 50 26 60 40 56 50 8 24 4 36-5 84-13 60-25 56-37 50-54 46-60 34-64 22-70 9-70-4-70-18-66-33-53-42-43-50-29-54-14-50-9-86 1-44 8-36 59-54 66-43 44-23 106-37z"/><path fill="#2795d2" fill-rule="evenodd" d="M694 202l44-4 44 6 130 48 100 63 50 43 8 24 4 66-13 84-16 50-27 50-44 50-52 40-60 30-60 17-64 6-70-6-66-19-60-31-51-41-42-50-28-56-15-54-10-96 4-40 8-24 54-47 80-52 46-20z"/><path fill="#269cd7" fill-rule="evenodd" d="M692 208l60-5 66 17 130 64 100 68 10 20 4 60-10 64-21 62-33 61-37 43-49 39-52 27-58 17-64 7-66-6-62-18-58-31-48-39-36-47-33-63-21-66-6-80 5-34 9-16 126-83 104-49z"/><path fill="#25a3dc" fill-rule="evenodd" d="M718 208l44 1 40 10 120 62 117 71 7 10 4 26-2 60-14 60-26 59-36 51-44 43-50 33-60 24-60 10-60-1-60-14-56-25-50-36-44-48-36-56-22-60-10-60 2-56 9-20 107-65 110-59 34-14z"/><path fill="#24aae1" fill-rule="evenodd" d="M711 212l57 2 50 16 64 42 140 76 13 10 4 14-1 56-13 60-23 54-34 52-40 40-50 35-56 24-54 11-60 1-56-11-54-22-52-34-44-44-34-52-23-54-13-60-1-56 9-20 148-80 60-39z"/><path fill="#23b1e6" fill-rule="evenodd" d="M706 218l56-1 50 16 90 59 119 60 8 16 0 50-12 54-22 50-33 50-40 41-44 32-50 22-50 13-56 3-54-8-56-20-50-30-44-42-35-45-26-56-14-54-3-56 9-20 119-60 80-54z"/><path fill="#26b6e7" fill-rule="evenodd" d="M702 222l56-1 50 14 34 20 60 47 59 30 49 20 9 10 1 46-10 50-21 50-27 41-34 38-46 33-40 20-50 16-54 6-60-6-50-16-50-26-45-36-34-40-28-50-16-50-6-56 2-20 7-8 104-49 86-63z"/><path fill="#2eb7e4" fill-rule="evenodd" d="M699 228l53-4 50 14 40 23 66 52 90 39 10 10 2 40-8 46-17 44-27 45-33 35-37 30-40 22-46 15-54 8-56-3-50-12-50-24-42-30-37-40-28-46-18-50-7-50 5-34 93-42 82-64z"/><path fill="#36b8e1" fill-rule="evenodd" d="M696 232l52-4 54 14 40 24 66 55 77 31 11 10 2 36-7 44-14 41-24 39-29 36-32 26-39 24-41 16-50 10-54 0-50-10-50-21-45-31-35-34-30-46-18-44-8-56 6-34 80-34 82-66z"/><path fill="#3eb9de" fill-rule="evenodd" d="M719 232l49 3 44 17 31 20 59 53 78 33 5 14-1 40-10 46-19 40-27 38-34 32-38 24-44 19-44 9-50 2-46-7-48-17-42-26-34-31-30-39-22-44-10-46-2-34 6-20 78-33 59-53 31-20 30-13z"/><path fill="#46bbdb" fill-rule="evenodd" d="M711 238l47-1 44 15 40 26 54 50 63 24 13 16 1 40-9 40-18 40-24 34-30 31-34 24-40 19-40 10-50 4-46-6-44-14-40-22-36-29-29-37-21-40-13-44-2-40 5-20 70-30 56-50 30-21z"/><path fill="#4ebcd8" fill-rule="evenodd" d="M705 242l47-2 46 14 40 25 54 52 55 21 13 16 1 34-7 36-14 34-22 36-26 28-30 23-34 19-36 12-44 7-46-2-40-9-41-18-39-28-30-32-22-36-15-40-6-44 6-30 60-26 73-64 30-17z"/><path fill="#56bdd5" fill-rule="evenodd" d="M731 242l41 6 40 18 76 67 55 25 6 24-3 36-13 40-19 34-26 30-30 26-36 19-40 13-40 5-40-2-40-10-35-16-35-25-28-30-23-34-13-36-7-40 1-24 5-10 55-25 54-51 32-21 30-13z"/><path fill="#5ebed2" fill-rule="evenodd" d="M713 248l45 0 40 14 34 25 49 45 50 26 6 10 0 30-7 34-15 36-20 30-27 27-30 20-66 24-40 3-40-4-34-11-36-18-33-27-25-30-19-34-10-36-3-34 7-20 49-24 75-66z"/><path fill="#62becb" fill-rule="evenodd" d="M704 252l44-3 44 14 29 19 57 53 43 23 5 10 1 30-6 30-28 54-45 44-60 28-36 6-40 0-40-9-35-16-29-20-27-27-20-30-13-36-6-40 7-24 47-26 66-60z"/><path fill="#61bdc1" fill-rule="evenodd" d="M718 252l40 1 40 16 69 63 44 26 6 14 0 30-8 30-32 56-49 40-30 13-36 9-34 2-36-5-34-12-30-16-26-21-24-30-16-30-8-30-1-30 6-20 44-26 65-60 24-13z"/><path fill="#60bbb0" fill-rule="evenodd" d="M707 258l41-3 40 12 29 21 44 44 36 20 9 10 0 50-24 56-44 44-55 25-35 6-36-1-34-8-30-13-28-19-24-24-19-30-11-30-5-36 6-24 42-26 59-56z"/><path fill="#5eb797" fill-rule="evenodd" d="M718 262l40 2 33 14 24 20 33 37 37 23 4 10-6 50-25 47-45 37-51 19-60-1-54-23-26-21-19-24-13-24-8-30-2-26 5-14 37-23 50-53z"/><path fill="#5cb47e" fill-rule="evenodd" d="M706 272l42-3 34 12 26 20 29 37 32 24-1 40-18 40-32 34-40 20-56 6-50-14-44-36-24-44-5-30 4-20 30-20 39-46z"/><path fill="#5eb367" fill-rule="evenodd" d="M715 278l33-2 31 12 19 14 26 36 27 24-3 40-20 36-30 27-36 14-44 2-46-16-34-33-18-40 1-34 21-17 36-44z"/><path fill="#60b251" fill-rule="evenodd" d="M727 282l31 4 24 13 49 59 2 10-7 34-18 29-26 19-34 11-40-3-36-18-23-28-12-34 2-20 39-50 24-18z"/><path fill="#63b23a" fill-rule="evenodd" d="M720 292l28 0 25 10 19 20 23 40-4 26-13 24-20 17-26 10-30 1-30-11-23-21-13-30 0-20 26-40 16-16z"/><path fill="#6db530" fill-rule="evenodd" d="M713 313l25-5 20 5 18 15 17 24 2 16-7 20-26 24-24 6-26-4-20-13-13-19-4-14 2-16 17-24z"/><path fill="#7fba32" fill-rule="evenodd" d="M723 332l19-1 19 17 4 14-13 17-24 5-20-16-2-16z"/></g></g></g><path fill="#d1d1d1" d="M504.20 56.00 L517.80 56.00 L512.30 78.04 Q511.22 82.10 510.90 83.30 L509.90 83.30 Q509.58 82.10 508.50 78.04 L504.20 56.00 Z"/>
<g clip-path="url(#pc14)"><g filter="url(#bl)"><g transform="translate(597.00 54.00) scale(0.1)"><path fill="#fafcfe" fill-rule="evenodd" d="M665 2l440 0-6 30-91 110 0 10 4 5 22 1 8 4 67 0 9 5 26 1 69 15 95 35 74 44 71 60 59 83 36 76 24 93 11 88 0 86-15 144-16 80-30 112-24 70-50 111-54 93-52 72-112 118-92 67-54 27-58 26-74 19-40 5-64 0-76-15-74-27-46-22-60-38-77-62-45-46-99-130-33-57-50-101-46-122-25-90-15-80-15-124 1-149 20-107 40-103 50-77 48-50 46-36 41-24 76-34 88-26 55-5 9-5 67 0 8-4 22-1 4-5-10-20-85-104z"/><path fill="#f0f5fc" fill-rule="evenodd" d="M665 2l440 0-7 30-90 110 0 10 4 5 21 1 9 4 66 0 10 5 25 1 69 15 95 34 75 45 70 61 60 83 36 76 24 96 10 84 1 86-15 144-16 79-30 112-24 70-50 111-55 94-51 71-112 119-92 67-65 33-48 20-73 18-40 6-64-1-76-15-80-28-100-58-77-62-45-46-98-130-34-57-50-101-46-122-24-91-16-79-15-124 1-146 20-110 40-102 34-55 31-37 39-40 72-50 78-38 96-27 54-6 9-5 67 0 9-4 21-1 4-5-10-20-85-104z"/><path fill="#e6eff9" fill-rule="evenodd" d="M665 2l440 0-7 30-90 110 0 10 4 5 30 5 66 0 10 5 24 1 70 15 94 35 76 44 70 62 60 83 36 78 23 87 10 90 1 80-14 150-16 77-30 112-24 71-50 112-55 94-51 71-112 119-92 66-65 34-49 20-72 18-40 6-64-1-80-16-76-27-100-59-77-61-45-46-98-130-34-58-50-101-46-122-24-91-16-78-15-124 2-146 20-110 39-101 34-55 36-44 35-34 71-50 78-38 96-27 54-6 10-5 66 0 30-5 4-5-10-20-85-104z"/><path fill="#dbe9f7" fill-rule="evenodd" d="M666 2l438 0-6 30-90 110 0 10 4 5 30 5 64 0 12 5 24 1 70 16 94 34 76 44 70 62 60 83 36 80 22 85 10 90 1 80-13 147-16 79-30 112-24 71-50 112-55 95-51 70-113 120-91 66-66 34-48 20-72 18-40 5-64 0-80-17-75-26-101-59-76-61-45-46-99-130-34-59-50-101-46-122-24-92-16-78-14-122 2-146 22-120 40-100 48-70 48-49 44-36 72-39 62-26 71-19 67-11 64 0 30-5 4-5-13-24-81-100z"/><path fill="#d1e2f5" fill-rule="evenodd" d="M666 2l438 0-6 30-87 106-4 15 5 4 30 5 62 0 38 6 70 16 93 34 77 44 70 63 60 84 36 80 21 83 10 90 1 80-14 150-18 94-26 92-24 72-50 112-55 96-51 70-113 120-91 66-67 34-48 20-71 17-40 6-64-1-80-16-74-26-102-59-76-61-45-46-34-40-65-90-34-59-50-102-46-123-24-90-15-80-14-120 2-146 21-117 40-101 49-72 47-50 45-34 52-30 67-30 86-25 68-11 62 0 30-5 4-5-13-24-81-100z"/><path fill="#c7dcf2" fill-rule="evenodd" d="M666 2l438 0-6 29-87 107-4 15 35 9 60 1 40 5 76 18 87 32 76 44 71 64 56 76 34 75 26 95 10 90 1 80-14 150-17 91-30 110-36 91-40 86-50 87-50 71-113 120-91 65-67 35-49 20-70 17-40 6-64-1-80-16-74-26-102-60-76-60-45-46-34-40-65-90-34-60-46-92-49-132-21-75-17-91-15-124 2-150 20-111 40-102 49-73 48-50 44-35 43-25 66-31 96-27 70-11 60-1 30-5 4-4-12-25-81-100z"/><path fill="#bdd6f0" fill-rule="evenodd" d="M667 2l436 0-5 28-88 108-2 16 34 8 61 1 39 6 76 17 86 32 76 44 72 64 56 78 34 77 20 71 15 116 1 74-14 150-16 87-30 112-20 57-50 112-56 96-50 71-29 35-85 86-90 65-68 35-49 20-69 17-40 5-64 0-80-16-73-26-103-60-75-60-45-46-34-40-66-91-80-151-44-119-26-91-16-88-15-124 2-146 19-110 40-105 50-75 43-44 49-40 33-20 75-37 96-27 70-11 60-1 34-9-12-25-81-100z"/><path fill="#b2cfee" fill-rule="evenodd" d="M667 2l436 0-5 28-88 108-2 16 34 8 61 1 39 6 76 17 85 32 77 44 72 65 56 79 34 81 16 60 3 115 11 29 4 51-13 150-15 84-30 113-26 69-50 111-50 86-50 72-29 35-85 86-90 65-68 35-50 20-68 17-40 5-64 0-80-17-73-25-103-60-75-60-45-46-34-40-66-92-80-151-44-120-26-93-16-84-14-124 10-189 16-77 34-92 50-78 19-20 35-34 71-50 75-36 95-28 71-11 60-1 34-8 1-6-13-20-80-100z"/><path fill="#a9c9eb" fill-rule="evenodd" d="M667 2l436 0-5 27-88 109-5 10 3 6 34 8 60 1 70 11 106 33 62 31 58 40 54 50 56 81 24 64 0 249 6 15 24 23 6 11-1 81-19 120-16 63-34 108-40 95-66 117-50 71-30 36-84 85-90 66-69 35-49 20-68 16-40 6-64-1-80-16-72-25-104-60-74-61-46-45-34-41-66-91-80-152-44-121-26-94-15-81-8-74-1-62 30-40-1-228 15-52 16-33 44-69 49-52 44-34 52-30 68-30 83-24 70-11 60-1 34-8 1-6-13-20-80-100z"/><path fill="#a1c3e8" fill-rule="evenodd" d="M667 8l1-6 434 0-4 26-88 110-5 10 3 7 40 8 55 1 69 11 106 32 53 25 47 30 59 50 41 51 29 59-3 346 5 14 49 58 4 18-10 81-20 93-40 123-34 82-66 117-34 51-46 57-80 81-104 75-96 45-80 21-40 6-64-1-60-11-66-20-99-50-111-86-74-82-46-61-50-81-50-102-30-77-44-167-12-84 2-33 43-53 5-14-3-325 5-21 30-55 35-45 34-34 72-50 73-36 96-27 70-11 54-1 40-8 2-7-13-20-80-100z"/><path fill="#9abee5" fill-rule="evenodd" d="M669 2l433 0-4 26-89 110-4 10 3 7 40 8 54 1 70 11 129 43 77 44 53 46 41 53 9 21-7 170 2 256 4 14 64 96 4 20-16 90-40 125-50 113-60 102-70 93-79 81-105 76-96 45-80 21-40 5-64 0-60-11-66-20-98-50-111-86-75-82-46-61-50-82-50-103-30-77-38-145-6-50 4-14 58-86 4-14 2-256-7-150 3-20 20-35 50-55 45-34 81-45 54-21 90-22 100-7 40-8 2-7-13-20-80-100z"/><path fill="#92b8e2" fill-rule="evenodd" d="M669 2l432 0-4 26-88 110-5 10 4 8 40 8 54 0 70 11 128 43 63 34 39 30 46 46 18 34-3 76-18 144 3 260 4 16 53 100 28 34-5 44-36 114-50 114-60 104-70 93-80 80-105 76-95 45-80 21-40 6-64 0-60-11-65-21-99-49-110-86-76-83-46-61-50-83-64-139-26-73-20-85 2-16 21-24 53-100 4-16 3-260-19-160-2-44 3-16 11-20 45-50 44-34 82-46 53-20 90-22 100-6 40-9 3-7-14-20-79-100z"/><path fill="#8bb3de" fill-rule="evenodd" d="M670 2l430 0-1 16-6 14-84 106-5 10 4 8 40 8 54 0 70 11 127 43 62 34 40 30 36 35 16 31-6 114-29 176 1 240 49 120 45 54-1 30-20 64-50 117-60 104-70 93-76 78-56 44-54 36-95 44-79 21-40 6-64-1-59-10-65-20-99-50-111-86-73-80-69-96-30-52-50-105-40-119 0-25 40-47 49-120 1-240-30-186-5-74 2-30 41-50 42-36 88-50 52-20 90-22 100-6 40-8 3-8-13-20-80-101z"/><path fill="#83addb" fill-rule="evenodd" d="M671 2l428 0-1 20-6 10-84 106-4 10 4 9 40 7 60 1 64 11 102 32 63 30 44 30 49 44 9 20 0 66-7 74-39 206-3 230 39 130 63 82-4 31-46 109-54 98-76 101-77 79-56 44-54 36-95 44-78 21-40 5-60 0-82-16-70-24-40-20-108-73-80-75-94-127-36-61-44-95-26-78 4-11 55-70 39-130-3-230-39-206-8-80 1-54 30-40 42-36 39-24 73-36 117-32 100-6 40-8 3-8-13-20-80-102z"/><path fill="#7ca8d8" fill-rule="evenodd" d="M672 2l426 0-6 28-87 112 3 15 40 7 60 1 64 11 101 32 53 24 40 26 36 29 23 31 1 74-8 88-51 232-1 120-6 100 27 140 79 116-14 45-60 115-39 60-41 51-82 83-105 76-96 44-77 21-40 5-60 0-80-16-71-24-41-20-104-70-84-79-74-97-56-93-42-101 2-15 71-101 27-134-7-226-51-232-9-92 3-66 22-30 43-34 105-56 116-31 100-7 40-7 4-9-14-20-80-104z"/><path fill="#74a2d5" fill-rule="evenodd" d="M676 2l94 0 108 18 44-4 68-14 104 0-2 26-84 110-5 10 5 9 40 8 60 1 64 10 99 32 54 24 40 26 35 30 11 20 3 64-6 80-22 120-44 170-4 116-10 104 9 66 3 74 95 150-2 16-45 87-50 72-109 115-51 40-54 36-96 44-77 20-39 6-60 0-79-16-82-30-94-54-81-66-74-80-64-93-30-53-16-38 2-16 86-140 3-74 9-66-10-104-4-116-44-170-21-115-7-79 3-66 12-20 41-34 105-56 115-31 100-6 40-8 4-5-3-10-86-114-4-10z"/><path fill="#6d9cd2" fill-rule="evenodd" d="M679 18l69-2 134 22 130-22 76 1 3 5-3 10-84 110 3 16 41 7 54 0 40 6 86 21 105 46 43 30 18 20 2 10 4 90-12 104-22 106-51 180-6 104-14 100 2 76-7 70 78 150 10 8 34 4 1 12-25 51-50 73-30 36-80 81-96 69-69 36-37 14-78 20-36 6-60 0-60-11-100-35-65-34-75-55-80-75-74-99-46-85 6-5 24-3 10-8 78-150-7-70 2-76-14-100-6-104-51-180-23-110-11-106 4-84 33-36 30-20 95-44 100-27 100-6 41-7 4-6-3-10-72-92-14-26z"/><path fill="#6597ce" fill-rule="evenodd" d="M687 28l65 1 126 27 34-4 100-24 71 1-15 31-61 78-4 10 3 10 42 7 54 1 40 5 85 21 104 46 41 30 10 24 5 90-11 106-28 121-59 189-9 100-21 110-6 70-19 80 68 156 16 6 70 6 4 1 0 6-14 32-66 91-84 86-26 21-71 49-69 36-38 14-76 20-36 5-60 0-60-11-99-34-64-34-77-55-74-71-80-105-22-45 2-6 64-6 15-6 69-156-19-80-6-70-21-110-9-100-59-190-28-126-11-110 6-84 21-26 29-20 46-24 63-25 84-22 46-5 54-1 42-7 3-6-3-10-72-94z"/><path fill="#5e91cb" fill-rule="evenodd" d="M697 38l61 4 90 27 30 5 30-4 100-29 64-3-4 20-62 80-4 10 4 9 42 8 54 1 70 11 107 35 50 26 27 20 9 14 6 36 1 104-20 121-30 108-61 181-16 110-37 157-39 93 58 166 141 13 3 7-33 55-30 37-80 82-46 36-52 34-70 36-82 27-66 11-60 0-90-18-67-26-65-34-77-56-50-44-61-69-45-71 1-7 4-1 131-12 58-166-39-93-37-157-16-110-63-184-31-116-19-134 1-56 6-50 11-20 27-20 45-24 62-25 84-21 46-6 54 0 42-8 1-16-68-90-4-10z"/><path fill="#568cc8" fill-rule="evenodd" d="M1055 48l7 0 5 4-2 6-60 80-3 10 3 10 43 8 54 0 40 6 82 20 76 30 33 20 14 16 5 21 9 63-2 70-12 80-21 86-93 264-25 120-44 126-28 54-52 70 36 156 7 10 221 20-36 55-81 85-102 74-70 36-74 24-73 13-60 0-60-11-57-16-39-16-73-39-69-51-40-34-67-76-25-40 0-8 6-1 205-15 7-10 36-156-52-70-28-54-44-126-25-120-87-244-22-80-13-76-6-70 3-60 7-40 7-14 26-20 59-30 121-36 46-6 54 0 43-8 0-16-53-68-10-26 56 6 94 34 30 4 30-6 86-31z"/><path fill="#4f86c5" fill-rule="evenodd" d="M711 62l7-4 40 8 90 37 34 5 30-5 86-36 60-9-16 32-37 48-4 10 3 10 44 8 54 0 70 12 103 34 51 30 18 66 3 50-3 60-24 130-38 114-80 201-24 93-30 74-50 88-50 53-61 36-105 35-90-27-54-26-50-41-40-53-54-107-36-125-90-229-30-96-19-90-6-116 8-50 12-35 70-39 94-30 65-11 60-1 40-6 7-8-3-10-49-64zM873 1398l9-3 23 7 47 6 326 15 40 4 2 5-23 36-69 71-101 73-109 50-66 17-70 6-34-1-81-16-70-26-40-20-62-40-74-60-44-44-31-46 2-5 20-2 344-17z"/><path fill="#4781c1" fill-rule="evenodd" d="M717 72l5-3 30 6 85 37 45 7 40-6 70-33 56-11-6 19-38 50-4 10 4 10 44 8 60 1 62 11 103 34 38 26 18 60 5 54-3 60-9 66-17 70-38 110-98 224-36 100-41 70-54 64-56 38-60 20-34 4-40-2-70-22-60-42-54-64-41-76-32-90-99-227-34-97-21-86-9-70-2-60 7-54 15-46 26-20 31-14 93-30 64-11 60-1 40-6 7-8-3-10zM804 1442l294 4 164 10 32 6-31 40-40 40-98 70-110 50-63 16-70 6-34-1-78-15-70-26-40-20-103-70-55-50-29-40 4-4 101-7z"/><path fill="#407bbe" fill-rule="evenodd" d="M727 82l35 7 66 31 54 8 50-8 60-29 46-12 3 3-3 10-34 46-4 10 3 10 45 9 60 0 60 11 52 14 48 20 26 20 22 70 4 56-3 60-10 65-19 71-56 140-123 258-37 62-44 51-56 38-54 19-66 2-60-18-54-37-52-57-34-56-140-296-40-106-23-92-8-70 0-60 9-54 17-46 40-24 91-30 64-11 60 0 40-6 8-13zM695 1478l313-2 170 7 85 9-38 46-50 40-44 30-68 34-52 20-60 16-39 5-60 0-94-21-96-40-108-74-34-30-19-26 41-6z"/><path fill="#3875bb" fill-rule="evenodd" d="M1018 92l15 0-32 50-2 10 9 9 40 6 59 1 65 11 58 19 43 24 20 46 12 54 1 60-7 66-23 94-44 109-84 166-90 153-46 50-50 34-54 18-56 0-34-9-36-17-34-26-30-31-70-110-80-146-60-128-35-103-18-104 2-90 10-40 15-36 6-10 23-14 114-36 97-5 46-9 2-10-28-40-4-14 20 4 64 29 60 10 66-13zM765 1508l303 2 130 8 18 4 2 6-25 30-31 24-37 26-68 34-73 26-72 12-30 0-30 0-67-12-88-30-99-60-54-50 4-7 21-3z"/><path fill="#3170b8" fill-rule="evenodd" d="M1017 102l5 0 0 7-23 39 9 13 40 6 56 1 68 12 43 12 37 20 25 50 14 56 2 60-7 70-26 94-42 100-80 144-80 121-50 59-46 34-54 20-56 0-60-23-54-47-80-108-96-161-51-109-29-90-15-94 4-80 10-40 15-36 13-20 16-10 102-29 41-6 54 0 46-8 3-11-23-43 80 31 54 10 70-16zM692 1542l286-3 110 5 22 4 3 4-45 42-66 35-64 20-66 5-64-8-60-21-60-35-41-38 5-5z"/><path fill="#2d6fb8" fill-rule="evenodd" d="M1003 118l10 0-15 30 3 10 7 4 130 12 75 18 26 16 25 50 14 54 4 60-7 66-21 84-34 80-72 123-86 121-54 62-50 39-50 20-50 1-30-9-36-18-64-59-86-112-91-148-36-74-25-86-11-84 4-76 11-40 17-40 11-14 18-10 88-25 134-11 8-4 2-10-10-27 80 28 40 6 46-9z"/><path fill="#2c73bb" fill-rule="evenodd" d="M990 132l9 0-1 20 10 10 134 13 67 17 23 16 24 50 14 54 3 60-6 66-24 84-39 86-33 50-113 143-55 56-51 36-50 18-44 0-30-9-30-15-60-48-66-74-107-143-41-80-24-74-13-86 4-74 11-46 20-44 12-16 23-10 70-18 135-11 11-11-1-17 76 24 34 5 31-5z"/><path fill="#2b78be" fill-rule="evenodd" d="M983 142l9-2 6 18 10 5 134 13 50 12 28 14 27 50 16 56 4 60-7 70-17 64-28 66-39 64-44 54-115 105-49 38-56 23-54 2-50-17-56-37-123-112-55-70-43-80-25-76-12-80 3-74 12-46 18-40 14-20 20-10 67-17 134-11 10-6 6-14 74 25 30 4 30-6z"/><path fill="#2b7cc1" fill-rule="evenodd" d="M778 152l94 29 36-4 80-29 20 16 94 6 71 12 25 10 17 16 23 40 16 50 6 74-11 86-27 80-42 74-52 65-56 47-74 41-86 30-50 3-50-13-90-40-64-45-50-51-44-61-34-70-21-70-9-70 3-66 17-60 29-50 29-14 44-12 136-10z"/><path fill="#2a80c4" fill-rule="evenodd" d="M979 158l13-2 16 9 94 5 66 12 24 10 16 17 30 59 15 70-4 80-19 80-30 70-43 64-55 57-60 43-64 28-70 14-60-1-70-15-66-29-60-44-53-57-41-66-31-74-17-76-3-74 13-66 17-40 21-30 39-20 71-12 94-4 20-8 70 27 30 5 26-5z"/><path fill="#2985c7" fill-rule="evenodd" d="M983 162l160 16 40 14 25 29 27 57 12 70-6 80-21 80-34 70-44 60-54 53-60 39-66 25-64 11-66-3-64-17-60-30-60-46-50-57-40-65-28-70-15-76-1-70 15-64 19-39 23-31 50-20 157-15 73 29 31 5 27-5z"/><path fill="#2989ca" fill-rule="evenodd" d="M988 168l114 4 36 6 36 14 30 36 27 60 9 64-6 80-22 76-31 64-43 61-52 49-58 39-66 26-64 10-66-3-64-17-60-30-57-45-49-54-39-66-27-70-15-74 0-70 15-60 20-40 25-30 14-10 31-10 42-6 104-4 74 30 42 3 26-3z"/><path fill="#288dcd" fill-rule="evenodd" d="M665 172l103 0 70 28 44 4 40-4 76-29 104 1 54 16 28 24 29 46 17 54 4 60-8 66-19 64-29 63-40 57-46 46-54 39-60 27-61 13-65 1-60-11-60-25-54-36-51-48-45-63-33-73-19-80-3-74 14-66 31-55 32-29z"/><path fill="#2890cf" fill-rule="evenodd" d="M1020 172l78 2 40 10 41 34 31 50 15 60 0 74-16 76-31 73-38 57-48 50-54 40-60 27-60 14-66 1-60-12-60-25-53-35-47-46-40-54-32-66-20-70-7-70 6-60 19-50 23-34 27-26 18-10 42-8 74-1 36 9 54 22 50 3 46-3 54-22z"/><path fill="#2795d2" fill-rule="evenodd" d="M654 178l88-3 90 30 50 3 50-4 86-29 80 0 40 11 33 26 29 40 19 50 6 56-5 60-15 64-26 60-34 56-43 47-53 43-57 29-60 17-60 5-60-8-60-21-54-32-50-43-47-57-36-70-23-76-7-74 9-66 25-54 43-46 18-10z"/><path fill="#269cd7" fill-rule="evenodd" d="M664 182l68 1 90 27 60 2 56-2 84-27 60-2 40 10 40 29 28 38 18 45 6 55-5 60-14 60-23 54-34 55-40 46-50 40-56 29-60 18-60 5-60-8-56-19-54-32-50-43-44-57-35-68-21-70-6-76 9-60 24-50 39-39z"/><path fill="#25a3dc" fill-rule="evenodd" d="M680 192l52 0 80 22 70 3 66-3 80-22 50 0 44 12 36 27 25 37 15 44 5 50-6 61-14 55-24 54-33 51-38 42-48 37-52 28-56 16-60 5-60-8-54-19-53-32-47-42-45-58-32-64-19-70-5-70 12-60 28-50 35-31z"/><path fill="#24aae1" fill-rule="evenodd" d="M693 202l49 1 66 16 74 2 70-2 66-16 40-1 52 10 38 26 24 34 15 40 5 50-5 56-14 54-22 50-32 50-37 41-50 39-50 26-54 15-55 4-55-7-56-19-50-29-45-40-43-54-33-66-19-70-3-70 12-54 27-46 34-26z"/><path fill="#23b1e6" fill-rule="evenodd" d="M697 212l41 0 64 11 80 2 80-2 56-11 34-1 50 12 40 27 20 28 15 40 4 44-4 50-13 50-21 50-28 46-33 38-44 38-50 27-50 16-56 7-54-6-56-17-50-27-43-36-45-56-31-60-19-64-5-70 10-50 23-43 36-27z"/><path fill="#26b6e7" fill-rule="evenodd" d="M700 222l182 7 86-1 80-7 44 11 36 22 20 24 15 34 6 40-3 50-9 45-19 50-26 43-29 38-45 39-46 27-50 18-54 7-50-3-50-14-50-25-46-35-43-50-31-56-21-64-6-64 7-50 21-40 33-29z"/><path fill="#2eb7e4" fill-rule="evenodd" d="M703 232l339-2 40 10 36 22 20 26 13 30 5 34-2 40-8 46-14 40-21 40-29 39-36 35-44 30-50 21-50 10-50-1-50-11-50-22-44-31-42-46-34-55-20-59-8-66 5-44 20-40 33-30z"/><path fill="#36b8e1" fill-rule="evenodd" d="M791 238l151-2 106 5 44 18 33 34 13 29 4 40-5 50-14 50-22 46-29 38-31 32-39 26-44 21-50 11-50 0-46-8-44-18-46-30-34-34-32-44-24-54-12-56-1-54 13-40 24-30 33-20 33-8z"/><path fill="#3eb9de" fill-rule="evenodd" d="M785 242l163-1 90 8 40 14 32 29 14 30 4 30-2 46-11 44-17 42-25 38-27 30-34 28-40 22-44 14-46 5-50-5-44-14-40-22-39-32-31-39-26-47-16-54-4-56 8-40 18-30 30-22 30-10z"/><path fill="#46bbdb" fill-rule="evenodd" d="M782 248l196-1 74 17 26 13 15 15 15 26 6 30-1 40-8 40-13 35-20 36-24 31-30 27-40 25-40 15-46 8-44-3-46-11-37-19-37-27-31-33-27-44-18-50-7-56 6-40 16-30 25-21 30-12z"/><path fill="#4ebcd8" fill-rule="evenodd" d="M780 252l42-3 150 2 75 21 34 25 14 25 6 26-7 70-28 64-48 56-36 24-40 17-40 8-44 0-40-8-40-17-36-24-30-30-26-40-18-46-9-50 3-40 13-30 23-21 40-18z"/><path fill="#56bdd5" fill-rule="evenodd" d="M863 252l99 2 56 14 27 14 23 20 13 20 5 20 0 40-8 40-16 38-21 32-28 30-31 22-34 17-40 9-40 2-40-7-40-15-35-22-30-30-21-30-18-40-10-40-1-36 5-24 10-20 20-20 30-18 40-12z"/><path fill="#5ebed2" fill-rule="evenodd" d="M814 258l84-2 84 6 49 20 29 30 11 26 3 24-4 36-10 34-33 56-49 41-36 17-34 8-40 2-36-6-34-13-33-19-27-26-23-30-17-34-10-40-1-36 7-30 18-24 25-20 35-14z"/><path fill="#62becb" fill-rule="evenodd" d="M805 262l83-4 84 7 46 17 28 26 15 40-6 60-25 54-42 45-30 18-30 11-36 6-40-2-34-9-30-14-30-23-24-26-18-30-12-36-6-40 6-34 14-26 20-17 30-15z"/><path fill="#61bdc1" fill-rule="evenodd" d="M848 262l64 1 76 11 40 24 21 34 4 26-3 34-21 56-41 48-56 30-34 7-30 0-30-4-36-14-30-19-24-24-17-24-16-36-7-34 0-30 6-26 13-20 21-16 24-12z"/><path fill="#60bbb0" fill-rule="evenodd" d="M831 268l67-4 74 11 40 17 26 30 7 26 0 24-14 56-33 50-46 32-60 17-34-1-30-7-30-14-26-18-23-25-17-27-12-33-5-30 1-30 9-24 17-20 23-16z"/><path fill="#5eb797" fill-rule="evenodd" d="M852 272l60 1 61 15 33 20 18 30 1 50-22 54-37 40-48 24-56 4-54-18-44-40-25-50-5-54 15-36 33-23z"/><path fill="#5cb47e" fill-rule="evenodd" d="M838 282l50-4 50 9 44 20 21 25 5 40-12 46-27 40-37 26-44 11-51-7-45-29-28-41-13-50 1-20 7-20 26-26z"/><path fill="#5eb367" fill-rule="evenodd" d="M852 288l46-2 43 12 31 20 16 24 1 40-15 40-26 33-36 19-44 5-40-14-32-27-21-40-6-40 10-30 30-26z"/><path fill="#60b251" fill-rule="evenodd" d="M870 292l32 2 36 14 24 20 11 24-3 36-18 36-24 25-36 13-34-2-34-18-24-30-12-40 2-30 12-20 30-20z"/><path fill="#63b23a" fill-rule="evenodd" d="M860 302l32-1 26 7 24 18 13 22 0 30-12 30-21 24-24 12-30 1-26-10-22-23-14-30-2-30 8-20 22-20z"/><path fill="#6db530" fill-rule="evenodd" d="M872 318l26 1 20 6 13 13 7 14-1 20-9 26-18 20-22 9-20-1-20-11-16-17-10-28 2-22 8-15 16-11z"/><path fill="#7fba32" fill-rule="evenodd" d="M862 342l26-3 20 13-1 20-15 19-20 2-14-11-7-24z"/></g></g></g><path fill="#d1d1d1" d="M678.70 56.00 L692.10 56.00 L686.68 78.92 Q685.60 83.20 685.30 84.40 L684.30 84.40 Q684.00 83.20 682.92 78.92 L678.70 56.00 Z"/>
<g clip-path="url(#pc15)"><g filter="url(#bl)"><g transform="translate(775.00 54.00) scale(0.1)"><path fill="#fafcfe" fill-rule="evenodd" d="M657 2l386 0-5 29-85 127 0 14 5 5 80 6 65 19 48 26 57 40 60 62 50 73 40 82 30 87 24 121 16 179-5 156-21 171-30 140-30 104-30 82-68 143-76 114-636 0-70-105-30-53-44-100-40-114-30-112-20-99-21-171-5-160 10-136 16-98 30-110 34-86 36-60 30-42 54-58 60-47 55-29 65-19 80-6 5-5 0-14-85-127z"/><path fill="#f0f5fc" fill-rule="evenodd" d="M657 2l386 0-5 28-85 128 0 14 5 5 47 1 33 5 64 19 49 26 56 40 61 63 50 73 40 82 30 88 24 124 15 180-4 150-21 166-30 142-30 105-30 83-69 144-75 114-635 0-71-106-30-54-44-99-40-116-26-91-24-122-21-166-4-156 11-140 14-94 30-112 34-87 36-60 30-42 50-55 63-50 57-29 64-20 33-5 47-1 5-5 0-14-85-128z"/><path fill="#e6eff9" fill-rule="evenodd" d="M658 2l384 0-4 27-85 129 0 14 5 5 45 1 35 5 63 19 49 26 56 40 62 63 50 74 40 83 30 89 23 121 15 180-4 144-20 170-30 140-30 107-30 83-69 146-75 114-635 0-71-107-30-54-44-100-36-99-30-110-20-97-24-193-3-154 10-136 17-112 30-106 36-83 60-93 60-66 54-40 57-30 63-19 35-5 45-1 5-5 0-14-85-129z"/><path fill="#dbe9f7" fill-rule="evenodd" d="M659 2l382 0-3 26-85 130 0 14 5 5 80 6 62 19 49 26 57 40 62 64 34 49 40 72 40 110 27 129 15 180-3 150-23 188-21 97-29 113-36 100-70 147-75 115-634 0-71-108-30-54-44-101-36-100-30-112-20-97-23-188-3-154 10-136 17-108 29-108 36-84 64-100 56-58 55-42 57-30 62-19 80-6 5-5 0-14-85-130z"/><path fill="#d1e2f5" fill-rule="evenodd" d="M659 2l382 0-4 25-84 131 0 14 5 5 44 1 40 7 58 17 49 26 56 40 58 60 39 54 40 73 40 111 26 123 15 183-4 156-21 176-20 98-30 114-36 102-70 147-75 117-633 0-72-109-30-54-44-102-36-102-30-113-20-98-21-182-4-154 11-139 14-100 30-111 36-84 64-101 53-55 58-46 57-30 58-17 40-7 44-1 5-5 0-14-84-131z"/><path fill="#c7dcf2" fill-rule="evenodd" d="M660 2l380 0-3 26-82 124-2 20 5 5 84 8 57 17 49 26 56 40 58 60 40 55 40 74 40 113 26 132 13 206-3 120-20 169-50 215-36 104-50 112-96 154-632 0-6-14-66-96-30-55-44-102-36-105-50-213-20-169-2-156 10-140 12-97 30-114 36-86 64-101 49-52 63-49 48-27 66-21 84-8 5-5-2-20-82-124z"/><path fill="#bdd6f0" fill-rule="evenodd" d="M661 2l378 0-3 26-81 124-2 20 5 5 84 8 56 17 49 26 57 40 62 64 46 70 40 82 30 90 22 118 5 130 9 86-2 114-18 163-30 144-30 112-26 72-50 114-96 155-631 0-6-14-67-97-30-55-40-91-34-103-50-209-24-191-2-143 9-57 1-94 16-110 24-94 36-87 64-102 56-59 57-44 57-30 56-17 84-8 5-5-2-20-81-124z"/><path fill="#b2cfee" fill-rule="evenodd" d="M661 2l378 0-6 30-79 120-4 10 3 10 5 5 84 9 55 16 50 26 56 40 59 62 36 48 40 71 40 113 14 66 9 74-1 36-19 74 27 80 4 33 1 103-21 171-50 219-34 105-66 139-77 120-630 0-97-158-46-102-30-89-54-234-21-171 1-110 31-110-20-80 3-68 10-56 26-92 34-83 60-93 60-64 53-40 58-30 55-16 84-9 5-5 3-10-4-10-79-120z"/><path fill="#a9c9eb" fill-rule="evenodd" d="M662 2l376 0-6 29-78 121-4 10 2 10 6 5 84 9 54 16 50 26 56 40 60 63 36 48 40 73 30 80 20 85 4 51-4 26-39 118 46 146 11 54-3 70-11 88-54 257-30 93-65 141-78 121-629 0-98-159-30-65-40-115-56-244-19-171 9-60 49-156-42-134 9-87 20-75 34-85 60-94 60-65 54-40 58-30 54-16 84-9 6-5 2-10-4-10-78-121z"/><path fill="#a1c3e8" fill-rule="evenodd" d="M662 2l376 0-6 28-79 122-2 20 7 5 84 9 53 16 50 26 57 40 60 64 36 49 34 62 30 78 16 61 2 46-42 123-16 67 5 30 58 194 1 36-7 64-19 86-36 110-1 20 12 54-23 90-49 120-98 160-629 0-6-14-68-100-24-47-30-67-26-70-14-66 12-46-2-20-46-154-18-120 4-50 55-180 5-30-16-70-41-116 1-50 16-61 34-88 60-95 61-66 55-40 57-30 53-16 84-9 7-5-2-20-79-122z"/><path fill="#9abee5" fill-rule="evenodd" d="M663 2l374 0-5 26-76 120-7 14 2 10 11 6 80 9 52 15 58 30 49 36 61 64 36 50 34 64 30 84 6 53-40 106-31 123 7 50 37 120 20 90-6 60-14 70-51 140 4 20 27 66 1 25-20 72-40 95-98 162-627 0-6-14-33-46-56-93-30-66-24-73-6-48 28-70 3-20-52-144-15-70-7-66 20-90 37-120 6-54-31-126-39-99 0-28 10-43 20-54 40-76 36-50 56-60 54-40 58-30 52-15 80-9 11-6 2-10-7-14-76-120z"/><path fill="#92b8e2" fill-rule="evenodd" d="M665 2l370 0-3 25-77 121-6 14 1 10 12 7 80 8 51 15 51 26 56 40 58 60 35 50 35 61 24 66 6 44-55 129-29 130 8 70 37 124 18 86-7 54-17 70-51 130 2 16 44 99 2 31-18 60-30 70-30 56-63 94-5 14-627 0-5-14-40-55-50-87-30-67-14-47-2-40 47-120-55-134-17-70-8-60 18-86 37-124 8-70-26-120-56-136-2-27 26-75 34-66 40-56 58-60 56-40 51-26 51-15 80-8 12-7 1-10-6-14-77-121z"/><path fill="#8bb3de" fill-rule="evenodd" d="M666 2l368 0-3 26-76 120-7 14 2 10 12 7 80 8 50 16 51 25 50 34 65 68 34 49 36 64 14 43 6 37-43 89-27 71-14 49-12 76 10 84 34 126 17 84-24 110-54 136 60 134 3 36-10 38-30 69-95 157-626 0-5-14-70-105-50-112-6-29 2-20 62-150-54-124-19-66-10-54 13-76 38-140 10-84-21-110-30-80-43-90-2-23 20-62 36-64 34-49 59-62 56-40 51-25 50-16 80-8 12-7 2-10-7-14-76-120z"/><path fill="#83addb" fill-rule="evenodd" d="M667 2l366 0-5 30-76 121-3 19 13 8 80 7 49 15 51 26 50 34 71 76 29 43 36 71 6 36-3 20-44 95-28 69-20 70-8 60 11 105 41 165 6 56-29 104-51 110 3 16 62 124 14 39 0 19-30 83-95 159-625 0-5-14-71-108-40-90-5-28 6-24 23-60 50-106-57-124-29-110 14-80 33-130 12-106-7-54-14-55-30-80-48-101-2-39 10-33 30-59 34-50 60-64 56-39 51-26 49-15 80-7 13-8-3-19-76-121z"/><path fill="#7ca8d8" fill-rule="evenodd" d="M669 2l362 0-3 27-77 123-2 20 13 8 46 2 53 10 51 20 45 26 46 34 55 60 34 54 23 52 2 20-9 50-62 140-33 124-3 46 12 94 33 140 13 76-29 100-55 114 3 16 63 114 23 60 4 26-15 48-24 53-70 109-5 14-624 0-6-14-65-101-36-80-2-29 18-56 26-60 47-90-58-119-21-61-10-44 13-76 33-140 12-94-3-46-33-124-62-140-10-61 26-61 30-47 71-77 50-34 51-26 49-14 79-8 13-8-2-20-77-123z"/><path fill="#74a2d5" fill-rule="evenodd" d="M672 2l356 0-2 26-75 124-3 20 14 8 46 2 52 10 42 16 47 24 53 40 46 50 39 60 10 26 2 24-12 76-69 162-18 68-10 60 14 130 33 150 8 64-31 96-55 104 5 16 38 60 30 60 27 70 6 34-7 30-26 54-65 102-5 14-623 0-5-14-66-104-26-61 1-25 26-80 30-66 43-70 3-14-57-105-33-101 8-64 33-150 14-130-10-60-18-68-69-162-12-90 11-35 36-54 50-57 46-34 44-26 52-20 52-10 46-2 14-8-3-20-75-124z"/><path fill="#6d9cd2" fill-rule="evenodd" d="M677 8l1-6 344 0 4 16-4 13-72 121-2 20 14 9 46 1 51 10 42 15 47 25 53 40 36 40 21 26 21 44 1 26-14 100-73 180-22 110 14 140 32 154 6 60-30 86-57 104 80 140 26 70 12 50-22 60-66 106-5 14-621 0-5-14-63-99-18-47 5-40 29-84 28-60 48-76 5-14-59-106-33-90 6-60 32-154 14-140-22-110-73-180-15-120 19-42 25-34 36-40 53-40 47-25 42-15 51-10 46-1 14-9-2-20-72-121z"/><path fill="#6597ce" fill-rule="evenodd" d="M697 18l61-1 90 9 104-10 66 5 0 11-16 35-52 85-3 20 15 9 44 1 51 10 43 16 39 20 65 50 44 50 15 30 1 34-18 116-78 200-15 94 14 146 31 164 4 50-32 80-58 100 56 85 29 55 28 70 17 66-14 50-62 100-5 14-620 0-5-14-49-76-19-44-2-20 5-26 31-94 34-70 56-90-60-101-34-85 4-50 31-164 14-150-15-90-78-200-19-140 8-26 34-44 29-30 47-36 47-24 43-16 51-10 44-1 15-9-3-20-48-76-20-42 0-13z"/><path fill="#5e91cb" fill-rule="evenodd" d="M692 32l60-3 100 15 96-15 60 3 3 6-4 14-58 100-4 10 3 12 14 7 42 1 52 10 64 26 78 54 39 45 15 25-1 56-20 104-46 130-38 90-11 70-1 36 13 124 27 156 6 60-32 74-58 90-2 10 59 85 33 61 28 70 20 74-7 39-29 57-28 40-5 14-619 0-4-14-45-71-14-35 12-70 29-84 36-70 60-90-2-10-62-96-32-74 6-60 27-156 13-124-1-36-11-70-38-90-46-130-18-90-5-60 6-20 40-50 70-54 39-20 43-16 52-10 42-1 14-7 3-12-4-10-58-100z"/><path fill="#568cc8" fill-rule="evenodd" d="M699 42l53-1 96 20 100-20 53 1 3 10-6 19-52 87 2 17 14 7 40 1 53 9 64 26 77 54 46 60-2 66-22 104-57 156-34 74-7 30-2 80 13 126 28 184 0 26-41 84-60 80 50 56 45 70 34 74 24 80 7 36-2 14-18 44-34 52-5 14-617 0-50-94-1-26 11-54 37-106 52-90 31-40 24-20 5-10-29-24-30-40-32-56-19-44 0-26 28-184 13-126-2-80-7-30-34-74-57-156-19-90-7-70 7-20 36-44 73-56 73-30 53-9 40-1 14-7 2-17-52-87-6-19z"/><path fill="#4f86c5" fill-rule="evenodd" d="M702 52l20-3 30 2 70 22 30 4 96-26 50 1-6 26-46 80 2 18 10 5 45 2 50 9 65 26 33 20 43 34 29 36 10 20-5 74-21 100-105 266-1 84 38 330-27 56-40 57-20 13-66 30 7 10 69 27 20 18 50 71 41 84 22 70 12 64-9 31-35 55-4 14-616 0-39-80 3-44 19-80 26-66 32-60 48-64 81-36 13-10-15-10-63-24-20-13-36-49-29-58-1-30 25-180 12-126-1-84-104-260-21-96-6-80 6-20 27-34 49-40 33-20 65-26 51-9 44-2 10-5 2-18-46-80z"/><path fill="#4781c1" fill-rule="evenodd" d="M707 62l11-4 30 2 64 23 40 5 36-5 64-23 40 1-4 24-43 73-2 10 5 9 14 5 80 8 66 22 42 26 43 34 20 26 9 20-4 80-23 110-70 174-37 76-5 20 1 80 11 124 23 186-1 24-29 54-26 29-60 26-70 18-60 7-60-1-70-11-60-18-34-15-20-15-30-44-16-34 34-326 1-84-5-20-37-76-70-174-22-106-6-80 10-24 20-26 43-34 33-20 65-26 50-8 44-2 10-5 5-9-2-10-43-73zM803 1358l79-4 80 11 86 27 20 11 14 15 36 52 30 58 28 74 20 70 0 36-38 74-614 0-29-60 0-34 31-120 22-56 28-50 26-38 26-20 74-30z"/><path fill="#407bbe" fill-rule="evenodd" d="M715 68l33 2 60 21 40 7 40-6 64-22 33-2 1 14-42 76-1 10 4 10 15 5 80 8 65 21 42 26 35 30 18 20 9 20-3 84-24 116-73 180-51 100 1 70 33 280 2 60-18 33-26 22-60 26-64 16-50 6-56 0-54-7-50-12-81-36-19-23-15-31 36-334 1-70-51-100-73-180-23-110-5-86 4-14 18-26 41-34 42-26 65-21 80-8 15-5 4-10-1-10-42-76zM829 1378l69 0 70 11 74 25 36 24 29 44 27 50 34 80 18 56 5 44-34 70-612 0-25-60 8-54 41-120 49-91 24-25 56-26 64-19z"/><path fill="#3875bb" fill-rule="evenodd" d="M717 78l21-1 70 23 44 7 40-7 66-22 24-1-4 20-34 61-2 10 5 10 15 5 40 1 46 8 57 20 60 40 25 26 9 20 2 44-4 50-27 126-82 194-20 34-42 46-6 16 4 80 16 110 28 122 6 78-12 20-34 20-50 20-55 14-91 6-84-13-46-14-44-21-20-13-12-19 6-78 28-122 16-110 4-80-6-16-42-46-20-34-80-190-27-120-6-94 5-20 15-20 33-30 43-26 57-20 46-8 40-1 15-5 5-10-2-10-33-61zM800 1402l72-4 76 9 74 23 36 16 14 13 26 36 48 87 32 86 8 50-30 64-610 0-19-50 8-60 25-74 58-113 20-24 44-25 56-20z"/><path fill="#3170b8" fill-rule="evenodd" d="M723 88l15-3 74 25 40 6 36-6 84-26 5 4-4 14-31 60 4 16 17 6 39 1 45 7 57 20 60 40 18 20 7 20 2 66-11 74-20 80-34 90-60 126-28 32-59 48-9 14 1 66 13 124 34 190-6 10-25 16-75 21-64 5-66-6-64-18-34-22-2-18 35-182 12-120 1-66-9-14-73-63-29-43-78-184-26-116-6-60 2-50 7-20 18-20 50-34 49-20 57-12 50-3 12-5 5-10-2-10zM815 1422l73-1 70 11 70 24 44 29 62 93 36 84 10 60-25 60-608 0-14-50 13-74 28-70 54-89 24-22 56-27 54-18z"/><path fill="#2d6fb8" fill-rule="evenodd" d="M730 98l8-4 80 26 34 4 30-4 86-26 0 15-27 53 4 16 13 6 87 8 58 20 54 36 17 20 7 20 3 44-3 46-27 120-40 110-46 97-30 38-46 36-50 27-90 35-84-31-50-25-40-28-36-37-38-72-40-96-18-54-24-106-5-74 3-36 6-14 29-30 54-30 49-16 84-8 13-6 4-16zM798 1442l74-4 70 8 76 25 54 34 54 73 35 80 13 70-20 54-605 0-10-44 12-70 24-66 38-64 25-28 44-29 60-25z"/><path fill="#2c73bb" fill-rule="evenodd" d="M736 108l6-4 80 26 30 3 110-29 0 10-22 48 1 10 7 8 94 12 48 16 53 30 20 20 9 14 5 70-11 80-30 100-52 130-32 55-37 41-47 32-56 21-60 8-64-8-60-24-54-39-36-46-32-60-46-120-25-84-12-96 2-44 8-26 31-30 59-30 39-11 90-11 7-8 1-10zM801 1452l77-4 70 10 74 27 50 32 50 65 32 76 14 74-15 50-602 0-5-44 13-76 23-60 35-57 31-30 50-30 50-20z"/><path fill="#2b78be" fill-rule="evenodd" d="M742 118l10-4 70 24 30 4 100-29 6 5-19 44 1 10 8 9 93 11 48 16 58 34 20 30 5 70-12 80-25 80-58 146-35 53-39 41-45 30-50 18-60 7-60-8-60-25-47-36-39-47-24-45-53-134-25-80-12-90 3-50 9-24 33-30 52-26 63-14 64-7 8-9 1-10zM826 1458l66-1 65 12 65 25 50 33 45 60 31 71 14 80-11 44-597 0-1-54 12-66 24-60 33-53 36-31 54-31 56-19z"/><path fill="#2b7cc1" fill-rule="evenodd" d="M752 122l76 26 24 3 96-29 2 6-12 40 10 14 91 10 60 20 46 30 17 30 5 70-12 80-21 66-65 154-31 48-42 42-44 29-50 19-60 5-60-10-54-25-46-37-34-43-24-42-60-146-23-74-8-90 5-46 8-20 36-30 44-20 64-14 62-6 10-14-12-40zM805 1468l73-4 70 10 64 24 56 34 42 56 29 64 17 80-7 50-590 1 0-55 11-60 21-56 31-52 30-29 50-31 50-20z"/><path fill="#2a80c4" fill-rule="evenodd" d="M757 132l11 1 60 23 24 2 26-4 64-23-5 37 10 14 90 10 61 20 45 30 14 30 6 70-12 80-23 66-66 146-32 48-42 43-43 27-47 17-60 5-56-11-50-23-44-37-30-36-26-43-62-142-24-74-9-90 6-46 10-25 39-29 51-20 50-11 60-5 10-14zM821 1472l67-1 64 12 64 25 52 33 38 51 28 66 15 70-2 54-583 0 2-60 11-54 21-56 30-48 34-31 50-30 56-20z"/><path fill="#2985c7" fill-rule="evenodd" d="M762 142l10 0 50 19 30 3 26-3 60-20-3 27 11 14 88 10 62 20 44 30 13 30 5 76-13 80-24 64-66 136-33 48-40 39-44 28-46 15-54 4-50-9-50-23-46-38-29-34-23-40-65-136-26-80-7-44 0-46 7-50 11-20 34-24 51-20 52-10 55-4 13-16zM853 1478l59 3 60 16 56 25 44 34 32 46 25 60 13 60 1 60-572 0 1-60 13-60 23-55 30-44 44-35 56-28 54-16z"/><path fill="#2989ca" fill-rule="evenodd" d="M767 152l5-3 46 17 34 3 30-3 50-16 3 22 13 12 84 9 72 25 33 24 13 36 4 74-15 80-28 70-64 120-31 46-38 38-46 27-44 15-50 3-50-10-49-23-41-35-39-50-67-125-24-56-16-54-6-86 6-44 11-26 33-24 51-20 51-10 54-4 13-12zM816 1488l66-3 66 11 60 23 54 37 32 42 27 60 14 60 2 64-560 0 1-54 10-56 20-51 24-42 36-32 44-28 50-20z"/><path fill="#288dcd" fill-rule="evenodd" d="M772 158l40 12 40 3 36-3 40-13 9 21 11 7 90 10 65 23 31 24 11 36 5 60-7 60-19 64-29 60-66 110-31 41-50 40-60 23-50 4-50-11-46-22-40-34-31-41-74-124-26-60-15-56-6-44 1-46 8-44 12-20 26-20 53-20 48-9 54-4 11-7zM836 1492l62 2 60 13 54 23 50 35 30 42 25 55 13 60 2 60-549 0 1-54 11-56 18-50 25-38 40-35 50-29 54-19z"/><path fill="#2890cf" fill-rule="evenodd" d="M772 168l6-3 34 9 46 2 34-3 30-8 26 21 54 3 63 13 35 16 21 15 11 15 9 30 5 54-6 60-18 61-30 64-74 115-30 37-46 34-54 22-50 3-46-9-40-19-40-31-30-37-77-120-27-59-17-55-6-46 0-44 7-46 12-24 26-20 35-16 63-13 54-3zM811 1502l67-3 64 11 60 23 56 37 28 38 24 54 14 60 2 60-537 0 0-50 9-50 17-50 23-37 34-33 40-26 50-22z"/><path fill="#2795d2" fill-rule="evenodd" d="M775 168l37 7 40 2 40-2 30-8 26 19 54 4 62 12 36 16 20 14 11 16 9 30 5 54-6 60-20 66-29 60-72 109-34 41-46 34-56 20-44 2-46-9-40-19-40-32-64-87-41-65-28-60-18-60-6-50 2-44 10-46 13-20 31-20 42-14 99-12zM830 1502l62 1 60 12 56 24 50 35 29 38 23 56 12 54 2 60-533 0 1-54 9-50 19-50 22-35 40-35 46-27 50-19z"/><path fill="#269cd7" fill-rule="evenodd" d="M772 178l86 4 64-6 30 13 50 2 40 7 44 14 24 16 11 14 11 36 6 54-7 60-18 60-29 60-46 68-66 74-44 33-46 15-44 3-40-8-40-19-36-29-60-69-44-65-30-60-19-63-6-44 1-46 9-44 12-26 19-14 36-16 58-11 50-2zM808 1518l64-5 66 10 60 24 50 34 30 36 22 51 12 54 2 60-514 0 1-50 8-44 13-42 20-34 35-34 41-28 44-21z"/><path fill="#25a3dc" fill-rule="evenodd" d="M761 188l17-5 70 3 74-3 30 8 83 7 34 10 29 14 13 16 13 34 7 56-5 54-17 60-27 57-44 65-56 59-50 40-44 19-46 4-40-7-35-17-39-30-56-56-40-52-31-56-22-60-8-50-1-46 7-44 15-36 17-14 37-16 48-10zM820 1528l58-3 60 11 54 22 50 34 26 30 21 46 13 54 2 60-494 0 1-50 8-44 13-38 22-32 34-33 40-27 44-19z"/><path fill="#24aae1" fill-rule="evenodd" d="M753 192l175-3 96 9 39 10 28 14 12 16 12 30 8 50-3 60-15 54-25 56-38 55-50 54-54 43-46 21-40 7-40-5-40-17-44-32-50-47-40-49-30-55-20-51-10-50-1-50 9-50 16-33 14-11 37-16 49-9zM837 1538l55 1 56 12 50 24 40 30 27 33 17 39 11 51 2 54-476 0 1-50 8-40 14-36 26-35 34-33 40-24 46-17z"/><path fill="#23b1e6" fill-rule="evenodd" d="M689 198l313-2 64 16 16 10 12 16 17 44 5 50-6 56-18 56-24 49-37 49-44 44-49 36-40 19-36 7-34-1-40-12-46-26-44-36-40-44-30-44-23-47-15-50-6-50 4-50 13-40 17-26 29-14zM816 1552l56-3 55 8 51 21 43 30 32 34 19 38 11 48 2 54-455 0 0-44 8-38 13-32 21-33 27-27 35-26 38-18z"/><path fill="#26b6e7" fill-rule="evenodd" d="M682 202l30-3 286 1 53 12 27 20 17 30 10 40 1 50-9 50-18 50-25 46-32 40-40 37-40 28-40 18-40 9-40-2-40-13-44-25-40-32-36-38-31-48-23-53-12-51-3-50 8-46 18-34 21-20zM844 1562l48 2 46 11 40 18 40 30 25 29 19 36 10 43 2 51-431 0 0-40 8-40 17-35 24-34 36-30 34-20 40-14z"/><path fill="#2eb7e4" fill-rule="evenodd" d="M690 208l117-5 191 3 41 12 29 22 16 28 10 34 1 46-7 47-16 45-20 40-26 38-34 34-40 30-40 20-40 10-34 1-40-8-40-17-40-27-36-33-34-48-26-52-14-56-4-50 6-40 18-35 25-25zM818 1582l49-3 45 6 46 17 38 26 32 33 19 37 11 40 1 44-398 0 0-34 6-36 12-30 19-27 24-27 30-20 30-15z"/><path fill="#36b8e1" fill-rule="evenodd" d="M788 208l120-1 100 11 24 10 20 14 15 20 10 26 5 40-4 50-15 50-21 44-30 42-33 34-37 24-40 17-40 8-40-2-40-11-40-22-37-30-30-34-27-45-18-45-11-50 0-46 7-34 16-29 20-18 30-13zM841 1598l41 0 40 9 36 16 32 25 25 30 15 30 9 34 0 40-358 0 0-34 6-30 12-30 21-30 22-22 30-19 36-13z"/><path fill="#3eb9de" fill-rule="evenodd" d="M778 212l130-1 90 15 40 21 23 36 7 35-2 44-10 46-18 43-26 40-30 34-34 27-36 17-40 10-40 1-40-9-34-16-36-26-29-31-25-38-20-42-13-46-3-44 4-36 13-30 18-20 21-11zM830 1618l38-3 40 6 34 15 30 21 23 25 16 30 8 36 0 34-318 0 3-54 25-50 43-39z"/><path fill="#46bbdb" fill-rule="evenodd" d="M772 218l120-3 46 4 74 25 20 16 14 22 8 30 0 40-10 46-15 40-21 35-29 35-30 24-31 18-36 11-34 4-36-5-34-12-36-22-30-27-24-33-21-38-14-40-7-40 1-40 9-30 14-20 19-16zM824 1638l33-5 35 4 35 12 28 19 23 24 13 26 8 30 0 34-278 0 3-50 18-40 35-34z"/><path fill="#4ebcd8" fill-rule="evenodd" d="M768 222l110-4 54 5 70 28 16 12 13 19 9 30 0 36-7 40-13 34-19 36-23 30-30 27-30 18-30 11-36 4-34-3-30-10-30-17-30-25-26-31-20-34-13-36-9-40 0-34 6-30 12-20 17-16zM831 1658l27-4 31 4 28 10 23 14 18 20 13 26 5 24 0 30-232 0 2-44 16-36 30-28z"/><path fill="#56bdd5" fill-rule="evenodd" d="M798 222l100 0 44 8 57 32 24 36 4 30-3 34-11 40-16 36-46 54-29 21-30 13-30 6-34-2-30-8-30-15-26-20-26-29-33-65-10-65 4-30 10-20 20-20 32-20 29-11zM832 1692l20-4 26 2 36 18 14 14 9 20 1 40-156 0-1-30 8-24 19-22z"/><path fill="#5ebed2" fill-rule="evenodd" d="M785 228l103-3 50 7 43 26 26 34 6 26 0 30-6 34-14 36-18 30-22 24-51 34-30 8-30 2-54-15-50-38-36-55-16-66 1-30 8-24 13-20 23-20 27-14zM846 1728l22-2 21 12 9 20-3 24-70 0-3-20 2-14 8-12z"/><path fill="#62becb" fill-rule="evenodd" d="M778 232l80-4 70 6 39 18 26 30 8 20 3 30-13 66-33 54-40 34-56 17-54-6-50-28-37-47-23-64-2-30 5-30 9-20 18-21 24-16z"/><path fill="#61bdc1" fill-rule="evenodd" d="M806 232l76 0 50 7 36 20 23 33 5 26 0 30-6 30-14 34-39 50-45 27-54 6-30-6-26-12-42-39-28-56-9-60 14-44 15-19 20-14z"/><path fill="#60bbb0" fill-rule="evenodd" d="M792 238l70-4 60 6 37 18 24 30 7 24 1 26-15 60-34 50-44 32-50 9-50-12-41-29-33-50-15-56 6-50 11-20 16-16 20-11z"/><path fill="#5eb797" fill-rule="evenodd" d="M817 242l61 0 50 10 31 20 16 30 2 51-19 54-36 41-44 23-46 3-44-19-39-37-23-50-4-50 15-40 31-24z"/><path fill="#5cb47e" fill-rule="evenodd" d="M803 252l55-4 54 8 31 16 19 26 5 44-13 46-28 40-38 26-40 7-40-9-39-30-26-40-10-44 5-40 24-30z"/><path fill="#5eb367" fill-rule="evenodd" d="M821 258l47-2 44 11 26 15 15 26 1 40-16 44-30 35-36 17-40 2-34-15-30-30-20-43-3-40 13-30 24-19z"/><path fill="#60b251" fill-rule="evenodd" d="M815 268l37-5 40 7 30 16 16 22 3 34-10 36-23 31-30 18-36 5-30-9-30-25-17-30-7-36 6-30 17-20z"/><path fill="#63b23a" fill-rule="evenodd" d="M847 272l31 4 26 12 14 14 8 26-5 30-16 30-23 20-30 8-30-6-23-18-19-30-6-30 5-24 13-18 24-12z"/><path fill="#6db530" fill-rule="evenodd" d="M820 292l22-4 30 2 18 8 12 14 5 20-5 21-10 19-20 18-20 6-20-4-15-10-15-20-8-24 1-20 9-16z"/><path fill="#7fba32" fill-rule="evenodd" d="M835 312l27 0 14 10 0 20-14 17-20 3-16-14-4-20z"/></g></g></g><path fill="#d1d1d1" d="M854.20 56.00 L865.80 56.00 L861.82 77.32 Q860.90 81.20 860.70 82.40 L859.70 82.40 Q859.50 81.20 858.58 77.32 L854.20 56.00 Z"/>
<circle cx="860.2" cy="120.8" r="5.8" fill="#c8102e"/>
<circle cx="860.2" cy="171.8" r="5.8" fill="#c8102e"/>
<circle cx="861.7" cy="216.9" r="5.8" fill="#c8102e"/>
<g clip-path="url(#pc16)"><g filter="url(#bl)"><g transform="translate(127.00 538.30) scale(0.1)"><path fill="#fafcfe" fill-rule="evenodd" d="M237 2l166 0-25 190 14 11 35 80 6 45 5 5 0 49-11 36-25 40-30 24-25 10-54 0-25-10-20-15-30-40-16-45 0-49 5-5 5-45 36-80 14-11z"/><path fill="#f0f5fc" fill-rule="evenodd" d="M237 2l166 0-25 190 14 11 36 81 5 44 5 5 0 48-11 37-25 40-29 24-27 10-52 0-26-10-20-15-30-40-16-46 0-48 5-5 5-44 36-81 14-11z"/><path fill="#e6eff9" fill-rule="evenodd" d="M237 2l166 0-25 190 14 12 36 80 5 44 5 6 0 47-11 37-25 40-30 24-26 10-52 0-25-10-21-15-30-41-16-45 0-47 5-6 5-44 36-80 14-12z"/><path fill="#dbe9f7" fill-rule="evenodd" d="M237 2l166 0-25 190 14 12 36 81 5 43 5 7 0 45-11 38-25 40-30 24-27 10-50 0-26-10-21-15-30-41-16-46 0-45 5-7 5-43 36-81 14-12z"/><path fill="#d1e2f5" fill-rule="evenodd" d="M237 2l166 0-25 190 14 12 36 81 5 43 5 7 0 45-11 38-25 40-30 24-27 10-50 0-26-10-21-15-30-41-16-46 0-45 5-7 5-43 36-81 14-12z"/><path fill="#c7dcf2" fill-rule="evenodd" d="M237 2l166 0-25 190 14 13 36 81 5 42 5 8 0 43-12 38-25 41-29 23-28 11-48 0-26-10-22-16-30-41-16-46 0-43 5-8 5-42 36-81 14-13z"/><path fill="#bdd6f0" fill-rule="evenodd" d="M237 2l166 0-25 190 14 13 36 81 10 50 0 43-12 39-25 40-29 23-28 11-48 0-26-10-22-16-30-41-16-46 0-43 10-50 36-81 14-13z"/><path fill="#b2cfee" fill-rule="evenodd" d="M237 2l166 0-25 190 14 14 36 81 10 50 0 41-12 40-25 40-29 23-29 11-46 0-27-10-22-16-30-41-16-47 0-41 10-50 36-81 14-14z"/><path fill="#a9c9eb" fill-rule="evenodd" d="M238 2l164 0-24 190 14 14 36 81 10 50 0 41-12 40-25 40-29 23-29 11-46 0-26-10-23-16-30-42-16-46 0-41 10-50 36-81 14-14z"/><path fill="#a1c3e8" fill-rule="evenodd" d="M238 2l164 0-24 190 14 14 35 82 10 50 0 40-15 46-24 37-29 21-27 10-45 0-26-10-23-16-30-42-15-46 0-40 10-50 35-82 14-14z"/><path fill="#9abee5" fill-rule="evenodd" d="M238 2l164 0-24 190 14 15 35 81 10 50 0 40-12 40-25 40-28 22-30 12-44 0-27-10-23-17-30-41-15-46 0-40 10-50 35-81 14-15z"/><path fill="#92b8e2" fill-rule="evenodd" d="M238 2l164 0-25 186 15 19 20 40 15 41 10 50 0 40-12 40-25 40-28 22-30 12-44 0-26-10-24-17-30-42-15-45 0-40 10-50 15-41 20-40 15-19z"/><path fill="#8bb3de" fill-rule="evenodd" d="M239 2l162 0-24 185 15 20 20 40 15 41 10 50 0 40-12 40-25 40-28 22-30 12-44 0-26-10-24-17-30-42-15-45 0-40 10-50 15-41 20-40 15-20z"/><path fill="#83addb" fill-rule="evenodd" d="M239 2l162 0-24 186 15 20 20 40 15 40 10 50 0 40-15 45-22 35-28 22-30 12-44 0-26-10-24-17-30-42-15-45 0-40 10-50 15-40 20-40 15-20z"/><path fill="#7ca8d8" fill-rule="evenodd" d="M239 2l162 0-25 186 13 14 23 46 14 40 10 50 0 40-14 44-22 36-28 22-30 11-45 0-24-9-25-17-30-43-14-44 0-40 10-50 14-40 23-46 13-14z"/><path fill="#74a2d5" fill-rule="evenodd" d="M239 2l162 0-25 186 13 14 23 46 14 40 10 50 0 40-14 44-23 36-27 21-30 12-44 0-25-9-25-18-30-42-14-44 0-40 10-50 14-40 23-46 13-14z"/><path fill="#6d9cd2" fill-rule="evenodd" d="M240 2l160 0-24 186 13 14 23 47 14 39 10 50 0 40-14 44-23 36-27 21-30 12-44 0-25-9-25-18-30-42-14-44 0-40 10-50 14-39 23-47 13-14z"/><path fill="#6597ce" fill-rule="evenodd" d="M240 2l160 0-24 186 12 14 24 47 14 39 10 50 0 40-14 43-23 37-27 21-30 12-44 0-24-8-26-19-31-43-13-43 0-40 10-50 14-39 24-47 12-14z"/><path fill="#5e91cb" fill-rule="evenodd" d="M240 2l160 0-25 186 13 14 24 48 13 38 11 50 0 40-14 43-23 37-27 21-30 12-44 0-24-9-26-18-30-43-14-43 0-40 11-50 13-38 24-48 13-14z"/><path fill="#568cc8" fill-rule="evenodd" d="M241 2l158 0-24 186 17 22 32 72 11 56 0 40-13 42-23 38-27 21-30 11-44 0-23-8-27-18-30-44-13-42 0-40 11-56 32-72 17-22z"/><path fill="#4f86c5" fill-rule="evenodd" d="M241 2l158 0-24 186 17 23 31 71 12 56 0 40-13 42-24 38-26 20-30 12-44 0-23-8-27-19-30-43-13-42 0-40 12-56 31-71 17-23z"/><path fill="#4781c1" fill-rule="evenodd" d="M241 2l158 0-24 186 17 23 31 71 12 56 0 40-13 42-24 38-26 20-30 12-44 0-22-8-28-19-30-43-13-42 0-40 12-56 31-71 17-23z"/><path fill="#407bbe" fill-rule="evenodd" d="M241 2l158 0-25 186 18 24 31 70 12 56 0 40-13 41-24 39-26 20-30 12-44 0-30-12-20-15-30-44-13-41 0-40 12-56 31-70 18-24z"/><path fill="#3875bb" fill-rule="evenodd" d="M242 2l156 0-24 186 18 24 31 70 12 56 0 40-13 41-24 39-26 20-30 12-44 0-30-12-20-15-30-44-13-41 0-40 12-56 31-70 18-24z"/><path fill="#3170b8" fill-rule="evenodd" d="M242 2l156 0-24 186 18 25 31 69 11 56 0 40-12 40-24 40-26 20-30 11-44 0-30-11-20-15-30-45-12-40 0-40 11-56 31-69 18-25z"/><path fill="#2d6fb8" fill-rule="evenodd" d="M242 2l156 0-24 186 18 26 31 68 11 56 0 40-12 40-25 40-25 20-30 11-44 0-30-11-20-16-30-44-12-40 0-40 11-56 31-68 18-26z"/><path fill="#2c73bb" fill-rule="evenodd" d="M242 2l156 0-24 190 18 22 30 69 12 55 0 40-12 39-25 41-25 20-30 11-44 0-30-11-20-16-30-45-12-39 0-40 12-55 30-69 18-22z"/><path fill="#2b78be" fill-rule="evenodd" d="M243 2l154 0-23 190 18 23 30 69 12 54 0 40-12 39-25 41-26 20-29 11-44 0-29-11-21-16-30-45-12-39 0-40 12-54 30-69 18-23z"/><path fill="#2b7cc1" fill-rule="evenodd" d="M245 2l150 0-22 190 15 15 34 78 12 53 0 40-12 38-26 42-25 20-29 11-44 0-29-11-21-17-30-45-12-38 0-40 12-53 34-78 15-15z"/><path fill="#2a80c4" fill-rule="evenodd" d="M247 2l146 0-20 190 15 15 34 78 11 53 0 40-11 37-26 43-26 20-28 10-44 0-28-10-22-17-30-46-11-37 0-40 11-53 34-78 15-15z"/><path fill="#2985c7" fill-rule="evenodd" d="M249 2l142 0-18 190 19 25 30 69 11 52 0 40-11 37-27 43-25 20-28 10-47 0-25-10-22-18-30-45-11-37 0-40 11-52 30-69 19-25z"/><path fill="#2989ca" fill-rule="evenodd" d="M253 2l134 0-16 186 3 10 14 11 20 38 14 40 11 51 0 40-11 36-27 44-26 20-27 10-46 0-25-10-23-18-30-46-11-36 0-40 11-51 14-40 20-38 14-11 3-10z"/><path fill="#288dcd" fill-rule="evenodd" d="M257 2l126 0-12 190 17 19 34 77 11 50 0 40-11 35-27 45-26 20-27 10-45 0-26-10-23-18-26-36-15-46 0-40 11-50 34-77 17-19z"/><path fill="#2890cf" fill-rule="evenodd" d="M262 2l116 0-5 30 4 56-7 104 18 20 34 76 11 50 0 34-11 41-28 45-26 20-26 10-44-1-26-9-24-19-26-36-15-45 0-40 11-50 34-76 18-20-7-104 4-56z"/><path fill="#2795d2" fill-rule="evenodd" d="M265 2l110 0-5 30 6 56-6 104 18 21 23 45 22 80-1 40-14 45-26 36-24 19-27 10-43-1-26-9-24-19-26-36-14-46-1-39 11-50 34-75 18-21-6-104 6-56z"/><path fill="#269cd7" fill-rule="evenodd" d="M277 58l86 0 9 30-3 104 17 20 24 46 22 84 0 36-15 44-25 36-24 19-31 10-39 0-26-10-24-19-26-36-14-49 0-31 11-54 33-73 19-23-3-104z"/><path fill="#25a3dc" fill-rule="evenodd" d="M279 78l79-3 4 4 7 43-2 70 17 20 25 46 23 84-1 36-15 44-24 36-24 18-30 11-40-1-26-10-24-18-26-38-14-48 0-30 12-54 33-70 20-26-2-70z"/><path fill="#24aae1" fill-rule="evenodd" d="M284 98l68-2 6 3 6 23 1 70 18 20 25 46 23 84-1 36-14 44-24 36-24 17-30 11-40-1-26-10-24-17-26-39-13-47 0-30 12-54 21-50 33-46 1-70z"/><path fill="#23b1e6" fill-rule="evenodd" d="M285 118l67-2 6 4 7 78 17 17 25 43 17 50 7 34-1 36-15 44-25 36-22 17-30 10-40-1-26-9-22-17-28-41-12-45-1-30 18-70 31-57 17-17 2-40z"/><path fill="#26b6e7" fill-rule="evenodd" d="M289 138l59-3 4 3 8 20 3 40 19 20 24 40 12 30 12 54-1 36-15 44-25 36-21 16-30 10-40 0-26-10-21-16-29-43-12-43 0-30 13-54 35-70 19-20 3-40z"/><path fill="#2eb7e4" fill-rule="evenodd" d="M292 148l60 2 9 48 19 20 24 40 14 33 11 51 0 30-16 50-25 36-20 15-30 11-40-1-26-10-20-15-30-44-11-42 0-30 13-54 34-67 21-23 5-40z"/><path fill="#36b8e1" fill-rule="evenodd" d="M293 158l49-1 10 5 9 40 17 16 27 44 23 80 0 30-16 50-24 35-21 15-29 11-40-1-25-10-21-15-27-39-13-46 0-30 13-54 33-64 21-22 9-40z"/><path fill="#3eb9de" fill-rule="evenodd" d="M297 168l51 2 11 32 19 17 24 40 14 33 12 50 0 30-17 50-23 34-23 16-27 10-40-1-23-9-23-16-26-38-14-46 0-30 20-70 30-53 19-17z"/><path fill="#46bbdb" fill-rule="evenodd" d="M297 178l41-1 10 4 9 21 21 20 24 39 13 31 12 50 0 30-17 50-22 33-25 17-25 9-40-1-21-8-25-17-25-37-14-46 6-60 18-50 25-40 21-20z"/><path fill="#4ebcd8" fill-rule="evenodd" d="M297 188l45-1 34 35 32 54 18 66 0 30-17 50-21 32-26 18-24 9-40-2-20-7-26-18-24-37-14-45 0-30 6-30 18-50 26-40z"/><path fill="#56bdd5" fill-rule="evenodd" d="M297 198l45-1 31 25 34 56 18 64 0 30-17 50-20 31-26 18-24 9-40-2-20-7-26-18-24-38-13-43 0-30 6-30 18-50 29-40z"/><path fill="#5ebed2" fill-rule="evenodd" d="M294 208l48-1 30 18 34 53 19 64-1 30-16 50-22 30-24 18-24 9-40-1-20-8-24-18-26-39-12-41-1-30 7-30 19-50 27-37z"/><path fill="#62becb" fill-rule="evenodd" d="M286 218l62-2 24 12 33 50 19 64 0 30-16 49-23 31-23 17-24 9-37 0-23-9-23-17-27-40-12-40 0-30 19-64 27-44z"/><path fill="#61bdc1" fill-rule="evenodd" d="M289 222l59 0 24 9 32 47 19 64 0 30-15 47-24 33-22 16-24 9-36 0-24-9-22-16-25-34-14-46 0-30 6-30 19-48 26-33z"/><path fill="#60bbb0" fill-rule="evenodd" d="M286 228l52-2 34 8 31 44 19 64 0 30-14 46-25 34-21 16-24 8-36 0-24-8-20-16-26-34-14-46 0-30 19-64 25-39z"/><path fill="#5eb797" fill-rule="evenodd" d="M290 238l48-2 40 10 14 18 14 28 14 50 0 30-15 46-23 31-20 15-24 10-36 0-24-10-20-15-26-37-12-40 0-30 21-64 21-32z"/><path fill="#5cb47e" fill-rule="evenodd" d="M292 248l50-1 40 12 21 33 14 50 0 30-15 45-22 31-19 14-23 9-36 0-23-9-19-14-25-36-12-40 0-30 19-61 20-25z"/><path fill="#5eb367" fill-rule="evenodd" d="M295 258l43-2 44 14 17 22 16 50 0 30-13 40-24 34-20 15-20 7-36 0-20-7-20-15-24-34-13-40-1-24 7-30 17-38 14-13z"/><path fill="#60b251" fill-rule="evenodd" d="M298 268l44 0 46 18 16 26 8 34 0 22-14 46-21 28-19 16-26 8-37-4-32-20-24-34-12-40 0-20 8-30 13-27 21-13z"/><path fill="#63b23a" fill-rule="evenodd" d="M302 278l36-1 35 15 25 21 11 35-1 24-15 40-24 30-13 10-24 8-35-2-29-18-26-34-11-38 1-26 10-29 30-24z"/><path fill="#6db530" fill-rule="evenodd" d="M297 298l25-4 30 7 20 12 26 24 0 15-6 20-14 20-16 14-30 11-30-1-30-14-22-24-8-20 0-21 26-25z"/><path fill="#7fba32" fill-rule="evenodd" d="M308 318l30 2 21 18-5 20-16 15-30 2-22-17-5-20z"/></g></g></g><path fill="#d1d1d1" d="M152.20 540.30 L165.80 540.30 L160.60 563.54 Q159.52 567.90 159.20 569.10 L158.20 569.10 Q157.88 567.90 156.80 563.54 L152.20 540.30 Z"/>
<g clip-path="url(#pc17)"><g filter="url(#bl)"><g transform="translate(297.00 538.30) scale(0.1)"><path fill="#fafcfe" fill-rule="evenodd" d="M262 2l211 0-5 58-10 38 0 27-10 37 0 40 44 35 45 51 35 64 16 53 0 90-20 70-16 32-24 35-46 45-34 20-53 15-60 0-20-4-56-26-27-19-25-25-25-37-20-41-14-50-1-22-5-8 0-65 26-83 39-60 51-50 29-20-10-84-9-38-1-28-5-7z"/><path fill="#f0f5fc" fill-rule="evenodd" d="M262 2l211 0-5 57-10 39 0 26-10 38 0 40 44 36 44 49 35 65 17 54 0 88-20 71-17 33-24 34-45 44-34 20-54 16-58 0-20-4-57-26-26-20-25-25-26-36-20-41-14-51-1-21-5-9 0-63 27-84 39-59 50-51 29-20-10-84-9-39-1-27-5-8z"/><path fill="#e6eff9" fill-rule="evenodd" d="M262 2l211 0-5 57-10 39 0 26-10 38 0 40 44 36 44 50 35 64 17 54 0 88-20 70-17 34-23 34-46 44-34 20-54 16-58 0-20-4-56-26-27-20-25-25-26-37-20-41-14-50-1-21-5-9 0-63 27-84 39-59 50-51 29-20-10-84-9-39-1-27-5-8z"/><path fill="#dbe9f7" fill-rule="evenodd" d="M262 2l211 0-15 121-10 39 0 40 44 36 44 50 35 64 17 55 0 86-20 71-17 34-23 34-46 44-34 20-55 16-56 0-20-4-57-26-27-20-26-25-25-37-20-41-14-51-1-20-5-10 0-61 27-85 39-59 50-51 29-20-10-84-9-40-1-26-5-9z"/><path fill="#d1e2f5" fill-rule="evenodd" d="M262 2l211 0-15 121-10 39 0 40 44 36 44 50 35 64 17 55 0 86-20 70-17 35-23 33-46 45-34 20-55 16-56 0-20-4-56-26-27-20-26-26-26-37-20-41-14-50-1-20-5-10 0-61 27-85 39-58 51-52 28-20-10-84-9-40-1-26-5-9z"/><path fill="#c7dcf2" fill-rule="evenodd" d="M262 2l211 0-16 120-9 40 0 40 44 37 43 49 36 64 16 56 0 84-20 70-17 36-22 33-46 44-34 21-56 16-54 0-20-5-57-25-27-20-26-26-26-37-19-41-15-50-6-34 1-56 26-86 39-58 51-52 28-20 0-20-24-140z"/><path fill="#bdd6f0" fill-rule="evenodd" d="M263 2l209 0-15 120-9 40 0 40 44 37 43 49 35 64 17 56 0 84-20 70-17 36-22 33-46 44-34 20-56 17-54 0-20-5-57-25-27-20-26-26-26-37-17-37-17-54-5-36 0-54 29-92 36-52 51-52 28-20 0-20-24-140z"/><path fill="#b2cfee" fill-rule="evenodd" d="M263 2l209 0-5 55-19 105 0 40 44 37 43 49 35 64 17 56 0 84-20 70-17 36-22 33-46 44-34 20-56 17-54 0-21-5-55-25-28-20-26-26-26-38-17-36-17-54-5-36 0-54 29-91 36-53 51-52 28-20 0-20-24-140z"/><path fill="#a9c9eb" fill-rule="evenodd" d="M263 2l209 0-24 160 0 40 44 38 43 48 35 64 17 56 0 85-20 69-17 36-22 32-46 45-34 20-56 17-54 0-20-5-56-25-27-20-27-27-26-37-17-36-17-54-5-36 0-54 29-91 36-52 52-53 27-20-23-160z"/><path fill="#a1c3e8" fill-rule="evenodd" d="M263 2l209 0-25 166 1 34 44 38 43 48 33 59 18 61 0 84-21 76-15 30-22 32-46 45-34 20-56 16-54 0-20-5-56-24-27-20-27-27-26-37-17-36-16-55-6-35 1-54 28-91 36-52 52-53 27-20 1-14-24-146z"/><path fill="#9abee5" fill-rule="evenodd" d="M264 2l207 0-25 166 2 34 44 38 42 48 34 60 18 60 0 84-22 76-15 30-21 32-46 44-34 20-56 17-54 0-20-5-55-24-28-20-27-27-26-38-16-35-17-54-5-36 0-54 28-90 36-53 52-53 27-20 2-14-25-146z"/><path fill="#92b8e2" fill-rule="evenodd" d="M264 2l207 0-25 166 1 35 45 37 42 48 34 60 18 60 0 84-22 76-15 30-21 31-46 45-34 20-56 17-54 0-26-7-49-22-27-20-28-28-26-37-16-35-17-54-5-36 0-54 28-90 36-52 53-54 22-14 6-10-25-156z"/><path fill="#8bb3de" fill-rule="evenodd" d="M264 2l207 0-25 166 1 35 45 38 42 47 34 61 18 59 0 84-22 76-15 30-21 31-46 45-34 20-56 16-54 0-26-6-48-22-28-20-28-28-26-38-16-34-17-54-5-36 0-54 28-89 36-53 53-54 22-14 6-10-24-156z"/><path fill="#83addb" fill-rule="evenodd" d="M265 2l205 0-24 166 1 34 45 39 42 47 34 61 17 59 0 84-21 76-15 30-21 31-46 45-34 20-56 16-54 0-26-6-48-22-28-20-28-28-26-38-16-34-16-54-6-36 1-54 27-89 36-53 53-54 23-14 5-10-24-156z"/><path fill="#7ca8d8" fill-rule="evenodd" d="M265 2l205 0-25 166 1 34 46 39 41 47 35 62 17 58 0 84-21 76-16 30-20 31-46 44-34 21-56 16-54 0-26-6-47-22-29-20-28-28-26-39-16-33-16-54-5-36 0-54 27-88 36-54 53-54 23-14 6-10-25-156z"/><path fill="#74a2d5" fill-rule="evenodd" d="M265 2l205 0-25 166 1 34 46 39 41 47 35 62 17 58 0 84-22 76-15 30-20 30-46 45-34 20-56 17-54 0-26-7-47-21-28-20-29-29-21-31-20-40-17-54-5-36 0-54 27-88 36-53 54-55 27-20 1-14-25-146z"/><path fill="#6d9cd2" fill-rule="evenodd" d="M265 2l205 0-25 166 1 34 46 40 41 46 35 63 17 57 0 84-22 76-15 30-20 30-46 45-34 20-56 16-54 0-26-6-46-21-29-20-29-29-21-31-20-40-16-54-6-36 0-54 27-87 36-54 54-55 27-20 1-14-24-146z"/><path fill="#6597ce" fill-rule="evenodd" d="M266 2l203 0-24 166 0 34 47 40 41 46 35 63 16 57 0 84-21 76-15 30-20 30-46 45-34 20-56 16-54 0-26-6-46-21-29-20-29-29-21-31-20-40-16-54-6-36 1-54 26-87 36-54 54-55 27-20 1-14-24-146z"/><path fill="#5e91cb" fill-rule="evenodd" d="M266 2l203 0-25 166 1 34 47 40 40 46 36 64 16 56 0 84-21 76-15 29-21 31-45 44-34 21-56 16-54 0-26-6-45-21-30-20-29-30-20-30-21-40-16-54-5-30 0-60 26-86 36-54 54-55 28-21 0-20-24-140z"/><path fill="#568cc8" fill-rule="evenodd" d="M266 2l203 0-25 166 1 34 47 41 40 45 36 64 16 56 0 84-22 75-14 30-21 31-45 44-35 20-55 17-54 0-26-6-45-21-29-20-30-30-20-30-20-40-17-54-5-30 0-60 26-86 40-59 46-45 32-26 0-20-24-140z"/><path fill="#4f86c5" fill-rule="evenodd" d="M266 2l203 0-6 56-19 104 0 40 48 41 40 46 36 64 15 55 0 84-21 74-14 30-22 32-45 44-35 20-54 16-54 0-24-6-46-20-30-21-29-29-21-31-20-40-16-53-5-30 0-60 25-85 37-55 49-50 32-26 1-20-24-140z"/><path fill="#4781c1" fill-rule="evenodd" d="M267 2l201 0-5 56-19 104 0 40 48 42 40 46 36 64 15 54 0 84-21 73-14 30-22 33-46 44-35 20-53 16-54 0-23-6-55-24-22-17-29-29-21-32-20-40-16-52-5-30 0-60 25-84 37-56 50-50 32-26 0-20-24-140z"/><path fill="#407bbe" fill-rule="evenodd" d="M267 2l201 0-5 56-19 104 0 40 48 43 40 45 36 66 15 52 0 84-21 72-14 30-23 33-46 45-35 20-52 16-54 0-22-6-55-24-23-18-28-28-22-33-20-40-16-51-5-30 0-60 25-82 38-58 50-50 31-26 0-20-24-140z"/><path fill="#3875bb" fill-rule="evenodd" d="M267 2l201 0-5 56-20 104 0 40 9 12 40 31 40 46 36 66 15 51 0 84-21 71-14 31-23 34-46 44-36 20-51 16-54 0-21-6-56-24-23-19-28-27-22-33-20-41-16-50-5-30 0-60 25-81 38-59 82-76 0-20-25-140z"/><path fill="#3170b8" fill-rule="evenodd" d="M267 2l201 0-25 160 0 40 7 10 52 44 30 36 35 65 15 51 0 84-20 70-14 31-24 35-46 44-36 20-50 15-53 1-21-6-56-24-24-19-27-27-23-34-20-40-15-50-6-31 1-59 25-80 38-60 81-76 0-20-24-144z"/><path fill="#2d6fb8" fill-rule="evenodd" d="M269 2l197 0-23 160 0 40 6 10 55 46 28 34 31 56 19 60 0 84-20 70-15 30-24 36-45 44-36 19-50 15-50 1-25-6-54-23-25-20-26-26-24-35-20-39-15-50-5-36 0-50 5-30 24-64 35-52 80-74-23-165z"/><path fill="#2c73bb" fill-rule="evenodd" d="M270 2l195 0-24 166 3 40 44 34 43 50 31 57 19 59 0 84-20 70-15 30-23 36-41 40-32 20-58 17-50 1-24-6-53-22-27-20-26-26-24-37-19-37-15-50-6-36 0-50 6-30 24-62 34-53 81-75 1-14-24-150z"/><path fill="#2b78be" fill-rule="evenodd" d="M271 2l193 0-24 160 1 40 7 11 44 35 35 40 35 63 18 57 0 84-20 70-18 35-20 31-40 40-34 20-56 16-50 1-31-7-44-20-29-20-26-26-24-38-16-30-17-56-6-36 0-50 6-30 23-61 35-53 81-76 0-20-22-140z"/><path fill="#2b7cc1" fill-rule="evenodd" d="M274 2l187 0-22 160 1 40 8 12 50 40 30 36 34 63 17 55 0 84-22 74-15 29-22 33-40 40-34 20-54 15-50 1-28-6-45-20-29-20-28-28-24-38-16-30-16-54-6-36 0-50 8-34 20-55 36-55 81-76 0-20-21-144z"/><path fill="#2a80c4" fill-rule="evenodd" d="M278 2l179 0-19 160 1 40 9 14 52 42 28 33 34 65 16 52 0 84-20 72-16 29-23 35-41 40-35 20-51 15-50 0-25-5-55-25-24-19-26-26-34-59-16-41-10-50 0-60 6-28 24-62 34-50 46-47 28-19 6-10z"/><path fill="#2985c7" fill-rule="evenodd" d="M283 2l169 0-16 160 3 46 49 40 39 44 35 66 16 54 0 79-21 71-16 30-23 35-40 39-36 20-54 16-46 0-40-11-40-20-24-19-24-24-36-62-15-38-11-56 0-50 6-28 24-66 35-50 45-46 30-20 5-10z"/><path fill="#2989ca" fill-rule="evenodd" d="M288 2l159 0-9 60 2 56-6 44 4 46 50 41 38 43 34 66 17 54 0 70-5 30-17 50-15 30-22 33-40 39-36 20-54 16-46 0-40-11-40-20-24-19-22-22-38-65-14-35-11-56-1-45 6-29 24-67 36-53 44-44 35-26 3-26-6-44z"/><path fill="#288dcd" fill-rule="evenodd" d="M294 2l147 0-9 61 5 49-5 50 5 46 51 42 36 42 35 66 17 54 0 70-5 30-17 50-16 30-20 31-41 39-35 21-54 16-46 0-34-10-40-19-30-22-21-20-38-66-15-40-10-50 0-44 5-30 24-66 37-54 42-42 36-28 3-26-5-84 3-46z"/><path fill="#2890cf" fill-rule="evenodd" d="M302 2l131 0-9 56 9 54-3 50 5 46 7 10 46 34 35 40 34 66 18 54 0 70-6 30-31 78-22 32-42 40-32 19-54 16-46 0-34-9-40-19-30-23-30-36-30-52-23-86 0-44 5-30 25-66 37-54 78-70 3-26-3-84 7-46z"/><path fill="#2795d2" fill-rule="evenodd" d="M307 2l121 0-9 56 9 20 4 34-3 50 5 46 8 10 45 35 35 40 35 65 17 54 0 76-21 70-15 31-23 33-42 40-31 18-59 17-41 0-40-12-35-17-39-33-30-41-20-36-22-86-1-44 6-30 24-66 37-54 78-70 4-26-3-84 11-46z"/><path fill="#269cd7" fill-rule="evenodd" d="M345 78l63 1 10 6 8 27-1 50 7 46 10 13 50 39 30 37 33 61 18 60 0 64-6 31-18 49-34 56-38 38-29 19-66 20-40-1-40-12-34-17-40-34-29-39-18-34-18-56-6-34 0-40 6-30 22-60 37-58 46-44 33-24 6-30-2-50 5-40 8-11z"/><path fill="#25a3dc" fill-rule="evenodd" d="M345 98l53 0 15 4 5 10 3 50 11 50 55 46 34 40 31 60 19 60 0 64-6 30-18 50-34 55-41 40-26 15-64 20-34 0-46-13-34-17-40-34-46-72-17-54-6-34 0-40 6-30 23-61 35-55 45-43 35-27 7-30 0-50 8-26 4-6z"/><path fill="#24aae1" fill-rule="evenodd" d="M346 118l62 3 7 17 14 74 55 46 34 40 32 60 19 60 0 64-6 30-17 46-16 30-21 30-37 35-34 20-56 16-34 0-43-11-37-20-37-30-48-76-16-50-6-34 0-40 6-30 23-60 36-56 42-40 35-24 8-20 8-70 9-9z"/><path fill="#23b1e6" fill-rule="evenodd" d="M347 138l51 0 8 4 20 70 56 47 34 39 32 60 19 60 0 64-7 30-19 50-32 50-37 38-30 18-64 18-30 0-46-13-31-15-39-33-46-73-17-50-6-34 0-40 7-30 22-62 37-54 41-40 36-24 21-76z"/><path fill="#26b6e7" fill-rule="evenodd" d="M335 158l43-2 24 4 24 58 62 50 39 50 21 44 17 56 0 64-7 30-30 70-26 34-34 34-32 18-54 15-34 0-40-11-36-17-34-29-50-74-16-50-7-34 0-40 7-30 22-60 37-56 41-39 37-25 18-56z"/><path fill="#2eb7e4" fill-rule="evenodd" d="M351 168l51 4 25 50 65 53 40 59 19 44 12 44 0 56-6 30-18 50-15 24-22 30-37 36-33 18-54 14-30-1-40-10-33-17-37-30-47-70-17-50-7-40 0-34 7-30 20-56 17-30 51-57 46-33 24-51z"/><path fill="#36b8e1" fill-rule="evenodd" d="M351 178l51 4 22 40 64 50 40 56 17 40 16 54 0 56-6 30-17 47-16 25-24 32-36 33-30 17-54 14-30 0-40-11-30-15-40-32-46-68-16-48-7-40 1-34 6-30 20-56 17-30 55-59 43-31 21-41z"/><path fill="#3eb9de" fill-rule="evenodd" d="M352 188l50 4 24 36 62 48 40 57 15 35 16 54 0 56-6 30-17 44-15 26-28 34-34 30-27 16-54 14-26 0-40-10-31-14-39-31-46-65-18-50-7-40 1-34 7-30 20-56 17-30 52-56 46-34 18-30z"/><path fill="#46bbdb" fill-rule="evenodd" d="M352 198l50 4 20 26 64 50 42 59 28 85 1 56-7 30-17 44-15 26-26 29-35 31-29 14-50 12-35-2-37-10-24-10-40-31-44-61-17-48-8-40 1-34 7-30 20-56 17-29 50-54 45-31 19-26z"/><path fill="#4ebcd8" fill-rule="evenodd" d="M352 208l50 4 82 66 38 54 17 36 15 54 0 56-6 30-30 65-26 28-30 18-34 13-46 7-40-1-40-7-34-13-26-15-24-26-19-29-17-48-6-38 1-34 7-30 18-54 16-27 20-26 40-38 33-21 21-21z"/><path fill="#56bdd5" fill-rule="evenodd" d="M352 218l50 3 78 57 38 50 20 43 13 52 1 55-7 30-17 43-16 22-20 20-30 16-34 12-40 7-40 0-40-6-40-14-30-17-36-43-18-50-6-35 1-31 9-40 32-74 19-26 39-36 54-36z"/><path fill="#5ebed2" fill-rule="evenodd" d="M351 228l57 4 70 46 40 54 20 47 11 43-1 60-10 39-20 38-20 20-36 21-34 13-40 7-40 0-40-7-40-14-36-21-20-22-14-27-17-67 0-30 11-44 30-71 20-25 40-36 46-25z"/><path fill="#62becb" fill-rule="evenodd" d="M338 238l34-3 40 6 25 12 35 24 41 51 19 44 12 46 1 64-7 29-20 38-50 39-66 22-40 3-40-4-40-13-34-18-40-39-16-35-7-36 0-36 7-38 30-72 20-26 40-36 36-18z"/><path fill="#61bdc1" fill-rule="evenodd" d="M343 242l29-1 36 5 29 12 35 24 40 52 20 49 9 39 1 56-10 32-14 25-22 23-28 20-36 16-34 9-40 2-36-5-34-11-32-17-28-22-20-25-13-27-7-36 10-73 30-69 20-25 34-30 30-15z"/><path fill="#60bbb0" fill-rule="evenodd" d="M340 248l32-3 36 6 30 13 28 18 42 50 25 70 2 70-20 50-21 26-26 20-36 17-34 9-66 0-60-22-28-20-22-22-14-23-11-29 2-76 29-75 20-27 30-26 30-17z"/><path fill="#5eb797" fill-rule="evenodd" d="M341 258l27-3 30 4 30 12 24 17 37 44 25 70-2 60-22 56-18 20-24 17-56 20-34 2-30-5-56-24-36-40-18-56 1-60 27-64 42-47 24-14z"/><path fill="#5cb47e" fill-rule="evenodd" d="M343 268l29-3 26 5 44 24 34 44 19 60-1 54-22 49-38 37-46 17-55-3-43-20-36-40-18-50 3-54 22-60 37-40z"/><path fill="#5eb367" fill-rule="evenodd" d="M344 278l48 1 40 21 29 38 17 54-2 50-18 42-36 32-40 15-44-3-40-20-30-36-14-40 2-50 17-50 30-34z"/><path fill="#60b251" fill-rule="evenodd" d="M346 288l42 0 34 18 24 32 14 44-1 46-17 38-30 28-34 12-36-2-34-18-24-28-12-36 1-44 15-46 24-28z"/><path fill="#63b23a" fill-rule="evenodd" d="M351 298l31 0 29 14 20 26 11 34-3 40-13 36-24 24-30 9-30-3-24-16-19-30-9-34 2-36 12-30 23-24z"/><path fill="#6db530" fill-rule="evenodd" d="M349 318l23-3 21 7 15 16 11 30 1 24-7 20-15 18-20 11-20 1-20-9-16-16-9-19-1-26 9-30 11-15z"/><path fill="#7fba32" fill-rule="evenodd" d="M358 338l14-1 10 5 10 20-4 26-16 11-20-4-12-17 3-26z"/></g></g></g><path fill="#d1d1d1" d="M326.60 540.30 L340.60 540.30 L335.56 563.06 Q334.44 567.30 334.10 568.50 L333.10 568.50 Q332.76 567.30 331.64 563.06 L326.60 540.30 Z"/>
<g clip-path="url(#pc18)"><g filter="url(#bl)"><g transform="translate(467.00 538.30) scale(0.1)"><path fill="#fafcfe" fill-rule="evenodd" d="M317 2l236 0-5 57-25 119 0 30 60 45 78 85 21 32 34 68 22 78 0 102-5 10-1 21-21 69-25 50-48 64-36 29-69 40-59 17-78 0-40-10-56-26-37-24-31-26-50-67-23-47-21-69-1-21-5-10 0-102 26-87 30-59 44-62 56-56 59-44 0-30-25-119z"/><path fill="#f0f5fc" fill-rule="evenodd" d="M317 2l236 0-5 56-25 120 0 30 59 45 79 85 21 32 34 68 22 79 0 101-5 10-1 20-21 70-25 50-48 64-36 29-70 40-59 17-76 0-56-16-43-21-60-43-56-73-23-47-21-70-1-20-5-10 0-101 26-87 30-60 44-62 56-56 59-44 0-30-25-120z"/><path fill="#e6eff9" fill-rule="evenodd" d="M317 2l236 0-6 56-24 120 0 30 59 45 79 85 21 32 34 68 21 80 0 99-4 11-1 20-21 70-25 50-48 64-36 29-70 40-60 16-74 0-56-15-44-21-60-43-56-73-23-47-21-71-1-19-5-11 1-99 25-88 30-60 44-62 56-56 59-44 0-30-24-120z"/><path fill="#dbe9f7" fill-rule="evenodd" d="M317 2l236 0-6 56-24 120 0 30 59 46 78 84 22 33 34 67 21 80 1 96-6 34-21 70-26 50-47 63-36 29-70 41-60 16-74 0-56-15-44-22-59-42-57-74-24-52-20-64-6-34 1-96 25-87 30-60 44-62 57-57 58-44 0-30-24-120z"/><path fill="#d1e2f5" fill-rule="evenodd" d="M318 2l234 0-5 55-24 121 0 30 59 46 78 84 22 33 33 67 22 80 0 94-5 36-22 70-25 50-47 63-36 29-70 40-60 17-74 0-56-15-44-22-59-42-57-74-22-46-22-70-5-36 0-94 25-87 30-60 44-62 57-56 58-45 0-30-24-120z"/><path fill="#c7dcf2" fill-rule="evenodd" d="M318 2l234 0-5 56-24 120 0 30 59 46 78 84 22 34 33 66 22 80 0 94-5 36-22 70-25 50-47 63-36 29-63 38-67 19-74 0-56-15-44-22-59-42-57-75-22-45-22-70-5-36 0-94 25-87 30-59 44-63 57-57 58-44 0-30-24-120z"/><path fill="#bdd6f0" fill-rule="evenodd" d="M318 2l234 0-6 55-23 121 0 30 59 47 78 83 22 34 33 66 21 80 1 94-6 36-21 70-25 50-48 62-35 30-64 38-66 18-74 0-56-14-40-20-62-44-58-75-22-45-21-70-6-36 1-94 24-86 30-60 44-62 58-58 57-44 0-30-23-120z"/><path fill="#b2cfee" fill-rule="evenodd" d="M318 2l234 0-1 26-28 150 0 30 59 47 77 83 23 34 30 60 24 86 1 94-6 36-21 70-26 50-46 62-36 29-64 39-66 18-74 0-56-15-40-19-62-44-58-75-22-45-21-70-6-36 1-94 24-86 30-60 44-62 58-58 57-44 0-30-28-150z"/><path fill="#a9c9eb" fill-rule="evenodd" d="M319 2l232 0 0 26-29 154 1 26 59 47 77 83 24 35 29 60 24 85 0 94-5 36-22 70-25 50-46 62-36 29-65 39-65 18-74 0-56-15-44-22-58-41-34-40-24-36-21-44-22-70-5-36 0-94 23-85 30-60 45-63 58-58 57-44 1-26-29-154z"/><path fill="#a1c3e8" fill-rule="evenodd" d="M319 2l232 0 0 26-30 154 2 26 59 47 77 83 23 35 30 60 24 85 0 94-5 36-22 70-25 50-46 61-36 30-65 39-65 18-74 0-60-17-40-20-57-41-35-40-24-36-21-44-22-70-5-36 0-94 24-85 33-65 41-57 59-59 56-44 2-26-30-154z"/><path fill="#9abee5" fill-rule="evenodd" d="M319 2l232 0-1 26-29 154 1 26 60 48 77 82 23 36 30 60 23 84 1 94-6 36-21 70-25 50-46 61-36 30-66 39-64 17-74 0-60-16-40-20-57-41-35-40-24-37-21-43-21-70-6-36 1-94 23-84 33-66 41-57 59-59 57-44 1-26-29-154z"/><path fill="#92b8e2" fill-rule="evenodd" d="M319 2l232 0-1 26-29 154 1 26 60 48 77 82 23 36 30 60 23 84 1 94-6 36-21 70-25 50-46 61-36 29-66 40-64 17-74 0-60-16-40-20-57-41-34-40-25-37-21-43-21-70-6-36 1-94 23-84 33-66 41-57 59-59 57-44 1-26-29-154z"/><path fill="#8bb3de" fill-rule="evenodd" d="M320 2l230 0 0 26-29 154 1 26 60 48 76 82 54 97 23 83 0 95-5 35-21 70-26 50-45 60-36 30-67 40-63 17-74 0-60-16-40-21-56-40-35-40-25-38-21-42-21-70-5-36 0-94 23-83 34-67 40-56 60-60 56-44 1-26-29-154z"/><path fill="#83addb" fill-rule="evenodd" d="M320 2l230 0 0 26-30 154 1 26 61 49 76 81 54 97 23 83 0 94-5 36-22 70-25 50-45 60-36 30-68 40-62 17-74 0-46-12-54-25-56-40-35-40-25-38-20-42-22-70-5-36 0-94 23-83 34-67 40-56 60-60 57-44 1-26-30-154z"/><path fill="#7ca8d8" fill-rule="evenodd" d="M320 2l230 0-1 26-29 154 1 26 61 49 76 81 54 98 22 82 1 94-6 36-21 70-25 50-45 60-36 30-68 40-62 16-74 0-46-11-54-25-56-40-35-40-25-39-20-41-21-70-6-36 1-94 22-82 34-68 40-56 60-60 57-44 1-26-29-154z"/><path fill="#74a2d5" fill-rule="evenodd" d="M321 2l228 0 0 26-29 154 1 26 61 49 76 81 54 99 22 81 1 94-6 36-21 70-25 50-45 60-36 30-69 40-61 16-74 0-46-11-54-25-56-40-35-40-45-80-15-46-11-54-1-96 6-30 16-54 31-62 49-68 55-56 57-44 1-26-29-154z"/><path fill="#6d9cd2" fill-rule="evenodd" d="M321 2l228 0 0 26-30 154 1 26 62 49 76 81 54 99 22 81 0 94-5 36-21 70-26 49-45 61-35 30-69 40-61 16-74 0-46-11-54-25-56-41-34-40-46-79-15-46-11-54 0-96 5-30 16-54 31-61 49-69 55-55 58-45 1-26-30-154z"/><path fill="#6597ce" fill-rule="evenodd" d="M321 2l228 0 0 26-30 154 1 26 62 50 76 81 24 39 30 60 22 80 0 94-5 36-21 69-26 49-46 62-35 30-69 39-60 17-74 0-45-12-54-24-57-42-34-40-46-79-14-45-12-54 0-96 5-30 17-54 30-60 50-70 50-50 62-50 1-26-30-154z"/><path fill="#5e91cb" fill-rule="evenodd" d="M321 2l228 0-1 26-28 150 0 30 61 50 77 81 54 100 21 79 1 94-6 36-20 68-26 50-50 65-31 27-70 40-59 15-74 0-59-15-40-20-57-42-34-40-40-69-21-56-10-53-1-96 6-30 16-53 30-61 50-69 51-51 61-50 0-30-28-150z"/><path fill="#568cc8" fill-rule="evenodd" d="M322 2l226 0-5 56-24 120 0 30 9 10 53 40 77 82 20 30 34 70 21 78 0 94-5 36-20 67-26 50-50 66-32 27-70 40-58 15-74 0-58-15-40-20-58-43-34-40-40-69-20-56-11-52 0-96 5-30 15-52 31-61 50-70 51-51 53-40 9-10 0-30-24-120z"/><path fill="#4f86c5" fill-rule="evenodd" d="M322 2l226 0-5 56-24 120 0 30 9 11 52 39 78 83 20 30 34 70 21 77 0 94-5 36-20 66-26 50-50 66-33 28-70 40-57 15-74 0-57-15-40-20-59-43-34-41-40-69-20-56-11-51 0-96 5-30 16-51 30-61 50-70 52-52 52-39 9-11 0-30-24-120z"/><path fill="#4781c1" fill-rule="evenodd" d="M322 2l226 0-5 56-24 120 0 30 9 11 52 39 78 83 20 30 34 71 21 76 0 94-5 36-20 65-26 51-50 66-33 28-71 40-56 15-74 0-56-15-41-20-59-44-34-40-40-70-20-56-11-50 0-96 5-30 16-50 30-61 50-71 52-52 52-39 9-11 0-30-24-120z"/><path fill="#407bbe" fill-rule="evenodd" d="M322 2l226 0-6 52-24 124 0 30 10 12 51 38 79 84 20 30 34 71 20 76 0 96-10 53-20 55-40 70-33 39-61 46-41 20-57 14-70 0-57-14-41-20-61-46-33-39-40-70-20-55-10-53-1-93 6-30 15-50 34-70 46-61 53-53 51-38 10-12 0-30-24-124z"/><path fill="#3875bb" fill-rule="evenodd" d="M323 2l224 0 0 20-29 156 2 34 58 46 80 85 50 90 24 89 0 90-11 56-19 54-40 70-34 40-61 46-42 20-57 14-66 0-57-14-42-20-61-46-34-40-40-70-19-54-11-56 0-90 6-30 18-59 30-60 46-61 54-54 50-37 10-13 0-30-29-156z"/><path fill="#3170b8" fill-rule="evenodd" d="M324 2l222 0-1 26-29 154 3 30 59 46 75 80 25 37 30 59 23 88 0 90-11 56-18 52-44 78-30 35-63 45-43 20-54 13-66 0-54-14-43-19-63-46-40-50-34-62-18-52-11-56 0-90 6-30 17-58 30-59 46-63 54-55 59-45 3-30-29-154z"/><path fill="#2d6fb8" fill-rule="evenodd" d="M325 2l220 0-1 26-29 154 3 30 60 46 74 80 26 38 30 60 22 82 0 94-5 36-23 71-24 48-46 60-30 25-68 40-62 17-70 1-52-12-44-20-63-46-41-50-34-63-18-51-10-50 0-96 5-30 17-56 30-60 46-64 54-54 50-36 11-14 2-26-29-154z"/><path fill="#2c73bb" fill-rule="evenodd" d="M326 2l218 0-1 26-28 150 0 30 7 11 59 43 71 78 26 38 30 60 21 80 0 94-5 36-22 69-24 48-46 60-32 27-68 40-60 17-70 0-49-11-45-20-63-46-43-52-34-63-16-44-11-55-1-96 6-30 16-54 30-60 48-66 55-54 53-39 7-11 0-30-28-150z"/><path fill="#2b78be" fill-rule="evenodd" d="M327 2l216 0-1 20-28 156 0 30 8 12 57 42 73 80 26 38 30 61 20 77 1 94-6 36-21 66-24 49-46 60-34 29-69 40-57 16-70 0-46-10-54-26-55-40-35-39-40-69-20-55-10-51-1-96 6-30 15-51 30-61 49-68 55-54 52-38 8-12 0-30-28-156z"/><path fill="#2b7cc1" fill-rule="evenodd" d="M332 2l206 0-25 176 2 34 63 50 73 80 21 32 35 68 21 78 0 92-10 52-20 57-42 71-30 36-61 44-42 20-55 15-66 0-55-15-42-20-61-44-50-66-22-41-20-57-10-50 0-92 6-27 15-52 29-60 50-71 50-50 63-50 2-34z"/><path fill="#2a80c4" fill-rule="evenodd" d="M337 2l196 0-23 176 3 34 65 53 71 77 23 36 30 59 24 85 0 86-10 54-19 56-44 74-30 36-61 43-34 17-60 17-66 0-60-17-40-20-55-40-40-50-34-60-19-56-10-50-1-84 6-30 16-56 33-64 47-66 50-50 62-50 3-34z"/><path fill="#2985c7" fill-rule="evenodd" d="M343 2l184 0-19 176 3 34 11 14 56 41 70 77 22 34 32 64 22 80 0 86-11 54-19 56-42 71-30 36-60 43-39 20-55 14-63 0-58-14-41-20-58-43-40-51-32-56-19-56-11-50-1-84 6-30 16-56 31-60 50-69 50-50 50-37 11-14 3-34z"/><path fill="#2989ca" fill-rule="evenodd" d="M350 2l170 0-11 80 2 51-6 45 4 34 8 12 61 46 70 77 53 95 21 80 0 86-11 54-19 53-42 73-29 34-59 43-40 20-60 15-54 0-60-15-41-20-58-43-49-64-24-46-17-50-11-54-1-80 6-31 16-55 31-60 50-70 48-47 54-41 9-12 4-34-6-46 2-54z"/><path fill="#288dcd" fill-rule="evenodd" d="M358 2l154 0-10 70 5 61-4 45 4 34 11 15 60 45 67 76 54 94 22 86-1 80-11 54-20 56-42 70-29 34-56 40-39 20-61 16-54 0-60-16-40-20-56-40-30-35-43-75-18-50-11-54-1-80 6-30 16-56 31-60 50-69 46-46 54-40 11-15 4-34-4-46 5-60z"/><path fill="#2890cf" fill-rule="evenodd" d="M368 2l134 0-9 66 8 34-1 76 5 34 11 16 59 44 68 76 53 94 23 86-1 80-11 54-19 53-44 73-26 31-61 43-35 17-60 16-54 0-60-16-36-17-60-43-46-61-25-46-18-50-11-54-1-80 6-30 15-53 30-60 50-69 46-46 56-42 11-16 5-34-1-76 9-34z"/><path fill="#2795d2" fill-rule="evenodd" d="M375 2l120 0-9 60 13 40 0 76 5 34 11 16 60 44 67 76 23 34 31 60 22 86 0 80-12 54-18 50-41 70-29 36-60 43-36 18-60 15-54 0-60-15-35-18-61-43-49-66-21-40-18-50-12-54 0-80 5-30 15-51 30-61 50-69 46-47 57-42 11-16 5-34 0-76 13-40z"/><path fill="#269cd7" fill-rule="evenodd" d="M414 88l58 1 14 9 8 30 0 50 9 40 69 56 69 78 51 91 23 85-1 80-12 54-18 50-43 70-29 34-57 42-37 17-60 15-50 0-60-16-35-18-55-40-29-34-43-70-18-50-13-60 1-80 14-60 20-44 18-36 48-64 43-46 65-50 11-44 0-46 6-30 11-12z"/><path fill="#25a3dc" fill-rule="evenodd" d="M415 108l47 0 16 4 9 21 2 39 11 46 12 14 65 50 37 40 44 60 33 66 21 84-1 76-12 54-19 50-42 68-29 32-57 42-34 17-60 14-50 0-56-14-36-19-55-40-49-61-24-43-18-50-11-56-1-70 6-34 15-50 22-46 59-84 42-45 65-51 13-44 6-56 12-13z"/><path fill="#24aae1" fill-rule="evenodd" d="M416 128l46 0 12 4 25 90 74 60 39 43 46 63 32 64 19 80-1 70-6 36-22 64-25 46-48 59-25 21-60 35-64 17-50 0-56-15-34-17-55-40-48-60-23-40-18-50-12-56-1-70 6-34 15-50 26-51 48-69 31-36 84-70 21-85 6-7z"/><path fill="#23b1e6" fill-rule="evenodd" d="M417 148l40 0 13 4 29 76 69 53 61 71 27 40 28 56 21 84-1 70-6 36-23 64-23 41-48 59-26 22-60 35-60 16-46 0-60-16-32-17-52-38-50-61-21-35-19-50-13-56-1-70 7-34 15-50 26-54 48-66 36-40 75-60 27-73 4-5z"/><path fill="#26b6e7" fill-rule="evenodd" d="M408 168l40-2 20 5 27 57 67 52 44 48 46 64 26 50 14 40 10 50-1 70-7 36-23 64-23 40-50 57-37 29-45 24-58 16-46 0-58-16-29-14-53-39-49-57-21-34-20-50-13-56-1-70 5-30 15-51 26-53 50-70 34-38 76-62 24-51z"/><path fill="#2eb7e4" fill-rule="evenodd" d="M420 178l32 0 16 4 28 50 65 50 41 46 47 64 23 46 17 44 9 50-1 70-7 36-22 60-26 41-24 29-40 27-46 15-60 11-64 0-46-5-54-15-30-14-36-30-34-49-22-50-13-56-2-70 5-30 15-50 27-54 76-100 80-66 28-50z"/><path fill="#36b8e1" fill-rule="evenodd" d="M421 188l31 0 16 5 24 39 66 51 39 45 48 64 24 46 16 44 9 50-1 66-8 40-23 58-24 37-26 19-50 22-50 14-54 7-56-1-54-8-56-17-44-22-20-20-21-31-18-44-12-54-2-66 10-50 11-34 26-52 80-104 76-59 24-40z"/><path fill="#3eb9de" fill-rule="evenodd" d="M421 198l31 0 16 5 25 35 65 48 28 32 56 77 20 37 19 50 9 50-2 66-7 34-13 37-20 30-40 29-50 24-50 14-56 8-54-2-56-10-50-18-47-26-23-18-14-21-18-41-9-46-1-60 8-46 12-38 26-50 82-107 69-53 25-35z"/><path fill="#46bbdb" fill-rule="evenodd" d="M421 208l31 0 16 5 20 25 67 50 27 30 57 80 19 32 19 52 8 50-3 63-10 35-31 42-39 31-45 25-49 16-56 8-50-1-44-8-47-15-43-24-40-31-26-30-14-41-2-24-1-46 7-49 10-32 26-50 82-109 66-50 26-29z"/><path fill="#4ebcd8" fill-rule="evenodd" d="M422 218l46 4 84 68 22 22 33 56 27 30 18 32 20 56 6 40-6 43-11 33-22 36-27 28-34 26-40 20-46 13-44 6-50-2-46-10-44-18-40-25-35-34-23-34-12-32-6-44 6-49 14-44 20-38 30-34 22-39 28-34 26-22 64-50z"/><path fill="#56bdd5" fill-rule="evenodd" d="M422 228l46 3 59 41 34 30 26 36 15 38 26 24 14 22 16 36 6 44-2 30-12 36-24 44-29 36-32 24-37 20-40 12-40 5-46-1-40-9-40-15-34-22-27-24-23-33-25-47-9-40 3-46 11-31 20-36 29-32 25-51 50-50 60-41z"/><path fill="#5ebed2" fill-rule="evenodd" d="M421 238l51 4 50 30 30 26 27 34 23 58 35 42 13 50-2 40-8 30-15 30-27 34-36 31-34 21-40 14-40 6-41-1-39-9-36-14-34-23-36-33-24-35-14-31-6-40 2-34 9-30 13-23 26-28 19-49 13-20 48-46 50-30z"/><path fill="#62becb" fill-rule="evenodd" d="M408 248l34-3 36 7 44 25 25 22 22 29 29 69 28 41 10 34 1 30-7 36-12 30-21 30-55 42-34 16-40 10-36 2-40-4-44-13-36-18-31-25-23-29-17-31-9-36-1-34 7-30 34-55 30-71 46-45 40-24z"/><path fill="#61bdc1" fill-rule="evenodd" d="M412 252l36-1 34 9 32 18 29 24 19 29 36 85 19 32 7 30 0 30-7 30-18 34-20 26-27 22-30 17-64 18-40 0-36-5-34-12-30-17-29-23-20-26-17-32-8-32 0-30 5-26 23-41 40-92 42-41 28-17z"/><path fill="#60bbb0" fill-rule="evenodd" d="M409 258l33-3 30 6 30 14 27 23 28 40 55 134 1 26-6 30-13 30-18 25-48 38-30 13-36 9-34 2-36-5-34-10-30-16-27-22-21-24-16-30-8-30 4-50 59-136 39-41 24-15z"/><path fill="#5eb797" fill-rule="evenodd" d="M411 268l31-3 30 7 29 16 21 20 18 30 27 70 16 80-1 20-8 24-28 40-44 30-50 14-60-4-50-23-40-41-17-46 13-84 35-90 34-40z"/><path fill="#5cb47e" fill-rule="evenodd" d="M412 278l26-3 24 4 26 12 19 16 21 35 25 90-3 70-12 36-36 33-50 17-50-3-41-17-31-30-13-40-2-66 27-94 11-20 18-20z"/><path fill="#5eb367" fill-rule="evenodd" d="M414 288l44 0 21 10 18 14 19 30 14 66 0 54-15 46-30 34-43 16-40-5-30-20-24-35-11-40 2-60 15-60 24-32z"/><path fill="#60b251" fill-rule="evenodd" d="M416 298l36 0 30 15 21 29 10 46-1 40-14 47-26 29-30 12-30-3-30-20-17-31-10-40 0-34 12-50 19-26z"/><path fill="#63b23a" fill-rule="evenodd" d="M420 308l28 0 28 14 16 26 7 34-4 36-13 27-20 21-24 9-26-5-20-16-16-26-7-30 4-40 7-20 18-20z"/><path fill="#6db530" fill-rule="evenodd" d="M418 328l20-3 14 4 16 12 8 17 4 30-4 20-14 19-20 10-20-1-14-8-14-16-5-14 5-46 9-14z"/><path fill="#7fba32" fill-rule="evenodd" d="M427 348l21 3 8 17-4 24-14 10-16-3-10-17 3-24z"/></g></g></g><path fill="#d1d1d1" d="M503.50 540.30 L517.50 540.30 L512.26 563.78 Q511.14 568.20 510.80 569.40 L509.80 569.40 Q509.46 568.20 508.34 563.78 L503.50 540.30 Z"/>
<g clip-path="url(#pc19)"><g filter="url(#bl)"><g transform="translate(637.00 538.30) scale(0.1)"><path fill="#fafcfe" fill-rule="evenodd" d="M362 2l231 0-1 27-34 129 0 30 110 95 63 79 50 90 27 74 10 50 4 78-4 8 0 52-5 8-5 47-20 70-40 86-40 57-75 69-59 31-50 16-26 0-9 4-58-4-53-17-70-40-40-34-46-57-48-92-22-64-14-75-6-97 6-56 14-60 20-52 32-62 74-99 45-45 74-60 0-26-35-128z"/><path fill="#f0f5fc" fill-rule="evenodd" d="M362 2l231 0-1 26-34 130 0 30 79 64 35 36 69 90 51 103 26 96 4 76-4 9 0 51-5 9-5 46-22 74-40 86-38 54-76 69-58 31-51 16-25 0-10 4-56-4-54-17-70-40-40-34-46-57-48-92-22-65-14-75-6-96 6-55 14-60 20-52 32-63 74-99 45-45 74-60 0-26-35-129z"/><path fill="#e6eff9" fill-rule="evenodd" d="M362 2l231 0-1 26-34 130 0 30 79 64 35 36 69 90 51 104 25 96 6 74-5 10-1 50-10 55-21 75-40 86-38 54-76 69-59 31-51 15-24 1-10 4-56-5-54-16-70-40-40-34-46-57-48-92-21-66-15-74-6-60 6-90 15-60 19-53 32-63 74-99 45-45 74-60 0-26-34-130z"/><path fill="#dbe9f7" fill-rule="evenodd" d="M362 2l231 0-1 26-34 130 0 30 78 64 35 36 69 90 51 100 16 50 10 50 5 71-4 13-1 50-10 56-21 74-41 86-37 53-76 69-60 32-50 15-24 1-10 4-56-5-54-16-70-41-40-34-43-54-47-88-25-72-15-74-6-60 6-90 15-60 19-52 33-64 73-98 46-46 73-60 0-26-34-130z"/><path fill="#d1e2f5" fill-rule="evenodd" d="M363 2l229 0 0 26-34 130 0 30 78 64 35 36 69 90 50 100 17 50 10 50 5 70-15 120-22 74-40 86-37 53-76 69-60 32-50 15-34 5-56-5-54-17-70-40-40-34-43-54-47-88-25-72-15-74-5-66 5-85 15-59 19-52 33-64 73-98 46-46 73-60 0-26-34-130z"/><path fill="#c7dcf2" fill-rule="evenodd" d="M363 2l229 0 0 26-34 130 0 30 113 100 69 90 50 100 17 50 10 49 5 71-15 120-22 74-40 86-37 53-76 69-60 32-50 15-34 5-56-5-61-19-63-38-40-34-43-54-47-88-25-72-15-74-5-86 5-64 15-60 19-52 33-64 73-98 46-46 73-60 0-26-34-129z"/><path fill="#bdd6f0" fill-rule="evenodd" d="M363 2l229 0-1 26-33 130 0 30 112 100 70 90 50 100 16 50 10 50 6 70-16 120-21 74-40 86-37 52-76 70-60 32-50 14-34 5-55-5-61-18-64-38-40-35-43-53-47-89-24-71-15-74-6-90 6-60 15-60 18-51 33-65 73-97 47-47 72-60 0-26-33-129z"/><path fill="#b2cfee" fill-rule="evenodd" d="M363 2l229 0-1 26-33 130 0 30 112 100 69 90 51 100 16 50 10 50 6 70-16 120-21 74-41 86-36 52-76 69-54 31-56 16-34 5-56-5-60-18-64-39-40-34-42-53-48-89-24-71-15-74-6-90 6-60 16-66 17-45 34-65 72-97 47-47 72-60 0-26-33-129z"/><path fill="#a9c9eb" fill-rule="evenodd" d="M364 2l227 0 0 26-34 134 1 26 112 100 69 90 50 100 17 50 10 50 5 70-15 120-22 74-40 86-36 52-76 69-54 30-56 17-34 5-56-5-59-18-65-39-40-34-42-53-48-90-24-70-15-74-5-90 5-60 17-66 16-44 30-60 50-73 70-75 75-62 0-26-33-130z"/><path fill="#a1c3e8" fill-rule="evenodd" d="M364 2l227 0 0 26-35 134 2 26 112 100 69 90 50 100 17 50 10 50 5 70-15 120-22 74-40 86-36 51-76 70-54 30-56 17-34 5-56-5-59-18-65-39-40-35-42-52-48-90-24-70-15-74-5-91 5-59 17-66 16-44 34-66 46-66 70-76 66-50 9-12 2-20-35-136z"/><path fill="#9abee5" fill-rule="evenodd" d="M364 2l227 0-1 26-34 134 1 26 112 100 70 90 50 100 16 50 10 50 6 70-16 120-21 74-40 86-36 51-76 70-54 30-56 16-34 5-56-5-58-17-66-39-40-35-42-52-48-91-23-69-15-74-6-90 6-60 16-66 16-43 34-67 46-66 70-75 66-51 10-12 1-20-34-136z"/><path fill="#92b8e2" fill-rule="evenodd" d="M364 2l227 0-1 26-34 134 1 26 112 100 69 90 51 100 16 50 10 50 5 70-15 120-21 74-41 86-35 51-76 69-54 31-56 16-34 5-56-5-58-17-66-40-40-34-41-52-49-91-23-69-15-74-6-90 6-60 16-66 16-43 35-67 45-66 70-75 66-50 10-13 1-20-34-136z"/><path fill="#8bb3de" fill-rule="evenodd" d="M365 2l225 0 0 26-35 134 2 26 112 100 69 90 51 100 16 50 10 50 5 70-15 120-21 74-41 86-35 50-76 70-54 31-56 16-34 5-56-5-57-17-67-40-40-35-41-51-49-92-23-68-15-74-5-90 5-60 16-66 16-42 35-68 45-65 70-76 66-50 10-13 0-26-33-130z"/><path fill="#83addb" fill-rule="evenodd" d="M365 2l225 0 0 26-35 134 1 26 112 100 70 90 50 100 15 44 12 56 5 70-15 120-22 74-40 86-35 50-76 70-54 30-56 17-34 5-56-5-56-17-68-40-40-35-41-51-49-93-21-61-17-80-5-50 0-60 10-66 27-81 35-69 45-65 70-75 66-51 11-13 0-26-34-130z"/><path fill="#7ca8d8" fill-rule="evenodd" d="M365 2l225 0-1 26-34 134 1 26 112 100 70 90 50 100 15 44 11 56 6 70-16 120-21 74-40 86-35 50-76 70-54 30-56 16-34 5-56-5-56-16-68-40-40-35-41-51-49-93-21-61-16-80-6-50 1-60 10-66 26-81 35-69 45-65 70-75 66-51 11-13 0-26-33-130z"/><path fill="#74a2d5" fill-rule="evenodd" d="M366 2l223 0 0 26-34 130 1 30 112 100 70 90 50 100 15 44 11 56 5 70-15 120-21 74-40 86-35 50-76 70-54 30-56 16-34 5-56-5-55-16-69-40-40-35-41-51-49-94-21-60-16-80-5-50 0-60 11-70 25-76 35-70 45-65 70-75 66-50 11-14 1-26-34-130z"/><path fill="#6d9cd2" fill-rule="evenodd" d="M366 2l223 0 0 26-34 130 0 30 113 100 70 90 40 74 25 70 16 100-5 90-21 100-21 56-50 89-64 71-41 29-69 31-60 11-80-11-61-26-69-50-35-40-31-45-35-69-26-86-15-100 0-64 11-70 25-76 30-60 36-54 44-56 40-40 66-50 12-14 0-26-34-130z"/><path fill="#6597ce" fill-rule="evenodd" d="M366 2l223 0 0 26-34 130 0 30 113 100 70 91 40 74 20 55 11 40 10 74-5 90-22 100-20 55-50 89-65 72-41 30-69 30-59 11-80-11-60-25-70-52-34-39-32-46-35-69-26-85-15-100 0-64 12-70 24-75 30-60 36-54 44-56 41-41 65-50 12-14 0-26-34-130z"/><path fill="#5e91cb" fill-rule="evenodd" d="M366 2l223 0-1 26-34 130 0 30 114 101 70 91 40 74 20 55 10 39 10 74-5 90-21 99-24 65-46 79-66 72-41 31-69 30-58 10-79-10-60-26-71-51-34-39-32-47-34-69-26-84-15-100 0-64 11-69 24-75 30-60 36-54 44-56 42-42 68-53 9-11 0-26-34-130z"/><path fill="#568cc8" fill-rule="evenodd" d="M367 2l221 0 0 26-34 130 0 30 8 11 70 56 36 34 70 91 40 75 20 55 10 38 10 74-5 90-21 98-24 66-46 79-66 73-41 30-70 30-57 10-78-10-61-26-71-52-33-38-33-47-34-70-26-83-15-100 0-64 11-68 24-75 36-70 74-101 46-44 64-51 9-11 0-26-34-130z"/><path fill="#4f86c5" fill-rule="evenodd" d="M367 2l221 0 0 26-34 130 0 30 8 12 70 55 36 35 70 91 40 75 20 55 10 37 10 74-5 90-21 97-24 66-46 79-67 74-41 30-70 30-56 10-77-10-61-26-72-52-33-38-33-48-34-70-26-82-15-100 0-64 11-67 24-75 36-70 74-101 46-45 64-50 9-12 0-26-34-130z"/><path fill="#4781c1" fill-rule="evenodd" d="M367 2l221 0 0 26-35 130 0 30 9 12 70 56 36 35 70 91 40 75 20 55 10 36 10 74-5 90-21 96-24 66-46 79-68 75-41 30-70 30-55 10-76-10-61-26-73-53-32-37-34-49-34-70-26-81-15-100 0-64 11-66 24-75 36-70 74-101 46-45 64-51 10-12 0-26-35-130z"/><path fill="#407bbe" fill-rule="evenodd" d="M367 2l221 0-1 26-34 130 2 34 77 64 36 35 70 91 34 65 26 67 10 37 10 75-6 82-20 100-24 65-46 80-68 75-41 30-71 29-59 11-71-11-70-29-66-50-34-40-30-45-34-72-25-79-15-103 0-58 10-69 25-74 35-71 74-101 46-45 64-50 10-13 0-26-34-134z"/><path fill="#3875bb" fill-rule="evenodd" d="M368 2l219 0-1 26-33 130 1 34 78 65 36 35 70 92 34 64 26 68 19 112-5 80-21 100-23 64-46 79-20 27-49 50-42 30-57 24-72 15-70-11-68-29-66-49-31-36-35-51-34-72-24-77-16-104 0-56 11-70 29-84 30-59 74-102 46-45 73-60 1-30-33-130z"/><path fill="#3170b8" fill-rule="evenodd" d="M370 2l215 0 0 26-34 134 3 30 78 65 36 35 70 93 34 65 26 69 18 108-6 85-22 104-20 54-50 88-65 70-43 30-59 24-69 14-78-14-59-24-67-50-31-36-35-52-34-74-23-74-16-104 0-56 11-70 28-82 30-60 74-103 46-45 73-60 3-24-34-136z"/><path fill="#2d6fb8" fill-rule="evenodd" d="M371 2l213 0 0 26-34 130 1 30 12 16 68 54 35 34 56 72 30 48 20 40 26 69 17 107-6 84-21 101-20 55-26 50-24 38-66 70-44 32-60 24-66 12-75-12-60-24-68-50-31-37-36-53-30-60-26-86-16-104 0-56 12-76 26-74 30-60 76-104 45-46 63-48 12-16 1-26-34-130z"/><path fill="#2c73bb" fill-rule="evenodd" d="M372 2l211 0-1 27-33 129 0 30 13 17 67 53 35 34 68 89 36 64 20 50 15 53 10 74-5 90-20 98-26 65-44 79-66 70-38 28-69 30-57 11-78-11-60-24-69-50-33-39-30-45-36-69-24-80-16-103-1-60 11-72 26-75 30-60 34-54 44-53 45-46 61-47 14-17 0-26-34-130z"/><path fill="#2b78be" fill-rule="evenodd" d="M375 2l205 0 0 20-32 136 1 34 113 100 70 92 36 64 24 67 10 37 10 75-5 81-21 100-24 62-46 82-64 70-42 30-68 29-60 11-70-11-67-29-66-50-27-30-34-52-36-72-24-80-15-100-1-56 11-70 25-74 34-69 75-101 41-41 78-65 1-30-32-134z"/><path fill="#2b7cc1" fill-rule="evenodd" d="M381 2l193 0-30 156 3 34 112 100 73 96 35 64 23 66 10 34 10 76-6 80-21 100-23 60-48 84-60 66-44 32-66 27-60 12-70-12-64-27-66-48-29-35-33-49-33-66-26-84-16-100 0-50 10-70 26-80 32-66 78-104 37-38 67-52 13-16 3-30-29-134z"/><path fill="#2a80c4" fill-rule="evenodd" d="M388 2l179 0-26 150 3 40 14 17 70 56 30 30 57 73 29 44 22 45 25 71 16 105-6 75-22 100-22 60-46 80-63 69-40 29-66 28-64 12-60-11-66-26-69-51-26-31-33-49-35-70-25-80-16-106-1-44 12-76 25-75 32-65 78-104 38-39 67-51 12-16 2-34z"/><path fill="#2985c7" fill-rule="evenodd" d="M395 2l165 0-22 150 3 40 16 20 71 56 29 30 59 74 25 40 23 46 26 74 15 100-6 70-22 100-24 66-46 80-59 65-46 32-64 27-60 10-60-10-66-27-64-48-30-34-34-51-32-64-25-80-17-106 0-44 10-70 26-80 30-60 77-106 39-40 70-54 12-16 3-34z"/><path fill="#2989ca" fill-rule="evenodd" d="M404 2l148 0-12 66-6 90 5 34 13 19 72 57 30 30 59 74 25 40 23 46 26 75 15 99-6 70-22 100-24 66-46 80-56 61-46 33-64 27-60 10-60-10-64-27-66-49-27-31-33-50-32-64-26-80-17-106-1-44 10-70 26-80 30-60 77-106 37-37 70-55 14-18 4-34-7-56 0-44z"/><path fill="#288dcd" fill-rule="evenodd" d="M413 2l130 0-12 61 4 35-4 60 7 38 13 16 72 57 28 29 59 74 28 43 21 43 26 74 15 100-6 70-23 100-22 60-47 82-58 64-42 30-64 27-60 11-60-11-60-24-66-49-30-33-31-47-32-64-27-85-17-105-1-40 11-70 26-80 29-60 78-106 34-35 71-55 16-20 4-30-5-60 4-44z"/><path fill="#2890cf" fill-rule="evenodd" d="M425 2l105 0-11 56 10 34-1 66 8 40 112 100 60 74 29 45 22 45 24 70 15 100-7 70-23 100-22 60-46 80-58 63-45 32-59 25-60 11-60-11-60-24-66-49-27-31-33-50-30-60-27-86-18-104 0-40 10-70 24-76 32-64 77-106 35-34 67-52 17-18 8-40-3-60 11-46z"/><path fill="#2795d2" fill-rule="evenodd" d="M435 2l88 0-10 50 14 40 0 66 8 40 112 100 61 76 28 44 22 44 24 70 15 106-7 64-26 110-26 64-40 66-56 62-44 32-60 25-60 10-60-10-58-23-68-50-25-30-34-50-31-62-26-84-18-104 0-40 10-71 23-75 32-64 78-106 35-34 66-51 18-19 8-40-1-70 18-40z"/><path fill="#269cd7" fill-rule="evenodd" d="M455 78l42 0 11 4 9 21 4 55 12 44 110 96 63 80 26 41 22 43 24 70 15 106-7 64-28 110-26 63-37 63-57 63-45 31-55 23-60 10-60-10-56-22-64-49-28-32-32-48-31-62-32-104-13-90-1-30 10-70 14-50 37-80 83-116 33-32 83-68 12-40 4-64 7-16z"/><path fill="#25a3dc" fill-rule="evenodd" d="M459 98l33 0 10 4 8 16 6 44 16 45 96 79 88 112 34 64 21 60 9 36 9 80-8 64-29 110-34 80-30 46-50 55-46 33-60 24-54 9-56-9-60-24-60-45-40-49-47-84-23-66-19-74-8-80 5-50 17-76 40-89 83-111 29-30 83-66 18-49 5-45 7-12z"/><path fill="#24aae1" fill-rule="evenodd" d="M463 118l25 0 10 4 30 86 97 80 87 110 32 60 19 50 13 50 8 80-8 64-28 106-36 80-28 44-52 57-44 32-56 23-54 8-56-8-54-23-60-44-42-49-47-86-27-80-15-60-8-74 4-50 16-70 42-96 87-114 24-25 84-65 21-50 5-30z"/><path fill="#23b1e6" fill-rule="evenodd" d="M468 138l24 4 36 70 93 76 90 114 32 60 16 46 13 50 8 80-15 90-27 89-35 75-24 36-51 56-40 29-56 23-54 9-56-9-54-23-56-42-41-49-44-80-30-80-15-60-9-74 4-50 16-70 39-91 90-119 108-90 31-66z"/><path fill="#26b6e7" fill-rule="evenodd" d="M467 158l15-2 10 5 36 56 90 72 89 113 30 56 18 50 13 50 7 80-8 60-16 60-35 90-44 74-50 54-44 32-50 20-50 7-51-7-51-20-58-44-40-46-45-80-31-78-15-58-10-74 5-50 14-70 40-90 76-106 34-34 82-62 28-48z"/><path fill="#2eb7e4" fill-rule="evenodd" d="M471 168l21 4 31 46 94 74 86 110 30 56 19 54 12 50 6 76-18 93-14 40-20 29-70 36-70 23-66 11-70 1-54-6-56-14-54-22-40-22-20-28-18-47-16-74-2-36 4-44 14-70 39-90 86-116 53-47 52-37 28-41z"/><path fill="#36b8e1" fill-rule="evenodd" d="M472 178l20 5 30 38 91 71 89 116 29 54 18 50 10 50 6 76-9 54-10 36-14 25-18 15-56 33-60 23-66 14-64 5-66-6-64-15-60-24-50-30-16-23-14-43-11-74 3-46 13-70 39-93 92-121 44-39 52-37 32-40z"/><path fill="#3eb9de" fill-rule="evenodd" d="M472 188l20 5 27 29 90 70 89 116 30 54 16 50 14 80 0 46-10 53-10 18-66 53-49 26-51 17-50 10-54 3-60-5-56-12-50-20-50-29-31-24-13-23-16-77 3-46 11-70 38-90 74-102 24-28 93-70 27-30z"/><path fill="#46bbdb" fill-rule="evenodd" d="M472 198l20 4 116 93 86 113 24 41 19 53 14 95-3 41-10 23-35 41-41 34-44 26-46 17-50 11-54 4-50-4-46-10-44-16-41-22-39-29-30-32-16-30-3-29 3-64 8-46 14-40 24-50 71-100 27-30z"/><path fill="#4ebcd8" fill-rule="evenodd" d="M470 208l18 0 10 6 79 58 46 46 85 120 25 64 7 50-3 40-17 40-27 40-35 34-40 27-50 21-50 12-50 4-50-5-46-11-41-16-39-24-36-32-28-34-16-31-4-34 8-75 12-36 24-50 70-99 28-31 37-30z"/><path fill="#56bdd5" fill-rule="evenodd" d="M467 218l21 0 14 7 70 48 47 45 84 120 17 40 11 54-11 40-29 56-23 32-29 28-37 24-40 18-44 12-46 4-44-4-46-10-40-17-34-22-29-25-24-30-33-59-7-27 6-44 21-60 81-120 29-34 33-26z"/><path fill="#5ebed2" fill-rule="evenodd" d="M462 228l30 0 16 6 60 39 38 35 92 130 14 34 5 30-3 40-12 36-24 37-36 36-34 28-40 22-46 15-44 5-46-3-40-9-34-15-36-22-40-35-30-36-20-39-7-34 7-45 16-37 80-120 60-57z"/><path fill="#62becb" fill-rule="evenodd" d="M450 238l32-2 30 7 35 20 51 41 19 24 38 64 37 50 12 40-1 36-9 40-17 35-24 29-31 27-34 21-40 16-46 11-44 1-50-7-46-16-40-22-34-30-25-30-17-35-9-40 1-30 14-41 79-119 57-56z"/><path fill="#61bdc1" fill-rule="evenodd" d="M449 242l33-1 36 9 44 28 33 30 17 21 40 78 29 41 10 34-1 36-9 34-17 36-24 30-29 24-33 20-40 15-40 7-46 1-44-7-40-14-39-22-29-24-24-30-17-36-10-40 0-30 9-29 74-122 60-59z"/><path fill="#60bbb0" fill-rule="evenodd" d="M446 248l36-2 36 8 31 18 39 36 18 24 64 126 8 24 0 30-9 36-14 30-23 30-28 24-32 19-70 22-44 1-40-5-40-13-36-19-29-25-25-30-17-34-9-36 0-30 6-20 69-130 55-57z"/><path fill="#5eb797" fill-rule="evenodd" d="M446 258l32-3 34 8 30 17 24 22 53 100 26 100 0 20-8 26-15 24-22 26-48 31-60 17-34 1-36-6-60-26-44-43-17-30-7-24 3-30 20-76 43-90 38-41 24-16z"/><path fill="#5cb47e" fill-rule="evenodd" d="M448 268l30-3 24 5 26 12 23 20 21 36 27 70 8 34 0 76-15 44-40 36-30 13-30 7-54-2-56-22-34-32-15-44 3-90 34-96 15-24 17-18 20-13z"/><path fill="#5eb367" fill-rule="evenodd" d="M450 278l22-3 26 4 24 13 18 16 19 34 22 90-3 56-20 50-30 31-46 17-44-4-40-24-26-39-13-51 0-31 7-45 21-64 25-32z"/><path fill="#60b251" fill-rule="evenodd" d="M451 288l38 0 35 20 19 30 15 60-4 54-14 40-28 31-34 13-36-5-30-21-20-33-10-48 2-47 17-54 21-26z"/><path fill="#63b23a" fill-rule="evenodd" d="M456 298l28 0 28 15 17 25 10 44-2 36-15 35-24 26-26 8-24-6-24-19-16-29-7-31 2-30 13-44 18-20z"/><path fill="#6db530" fill-rule="evenodd" d="M454 318l24-3 20 10 12 17 8 30 0 25-9 21-13 15-18 9-20-2-15-8-21-35-1-19 9-36 9-14z"/><path fill="#7fba32" fill-rule="evenodd" d="M463 338l9-2 13 6 9 26-4 20-18 11-14-4-12-17 5-30z"/></g></g></g><path fill="#d1d1d1" d="M678.50 540.30 L690.90 540.30 L685.94 563.30 Q684.94 567.60 684.70 568.80 L683.70 568.80 Q683.46 567.60 682.46 563.30 L678.50 540.30 Z"/>
<g clip-path="url(#pc20)"><g filter="url(#bl)"><g transform="translate(812.00 537.50) scale(0.1)"><path fill="#fafcfe" fill-rule="evenodd" d="M377 2l226 0-1 37-19 93 0 50 85 86 63 84 31 53 24 47 32 84 24 110 6 102-5 10-5 111-20 100-47 133-55 100-64 75-47 35-47 24-39 12-58 0-39-12-47-24-52-40-59-70-52-91-24-62-30-100-11-71-5-9 0-37-4-8-1-66-5-9 0-21 6-82 20-95 36-99 54-97 41-57 24-30 84-86 0-50-19-93z"/><path fill="#f0f5fc" fill-rule="evenodd" d="M377 2l226 0-1 36-19 94 0 50 85 86 63 84 31 53 24 47 32 84 24 111 6 101-5 10-5 110-30 135-40 107-52 92-64 75-47 35-47 24-40 12-56 0-40-12-47-24-52-39-59-71-26-42-46-96-34-116-16-80 0-36-4-9-1-65-5-10 0-20 6-81 20-95 36-100 54-97 41-57 23-30 85-86 0-50-19-94z"/><path fill="#e6eff9" fill-rule="evenodd" d="M377 2l226 0-1 36-19 94 0 50 85 86 63 84 31 53 24 47 32 85 24 111 6 99-5 11-6 110-30 134-39 108-52 92-64 75-47 35-47 24-40 11-56 0-40-11-47-24-52-40-59-70-26-42-46-97-34-115-15-80-1-36-4-10-1-64-5-26 6-84 20-96 36-100 54-97 41-57 108-116 0-50-19-94z"/><path fill="#dbe9f7" fill-rule="evenodd" d="M377 2l226 0-1 36-19 94 0 50 85 87 62 83 32 54 24 46 32 86 24 110 6 96-5 14-6 110-30 134-39 107-53 93-63 74-48 36-46 24-40 11-56 0-40-11-46-24-52-40-59-69-27-44-45-97-35-114-20-126-1-64-5-26 6-84 20-96 36-100 54-96 42-58 107-116 0-50-19-94z"/><path fill="#d1e2f5" fill-rule="evenodd" d="M378 2l224 0 0 36-19 94 0 50 85 87 62 83 32 54 23 46 33 86 24 110 5 94-4 16-6 110-30 134-39 107-53 93-63 74-48 36-46 23-40 12-56 0-40-12-46-23-52-40-59-70-27-43-45-97-35-114-20-126-1-64-4-30 5-80 20-96 37-100 53-96 42-58 107-116 0-50-19-94z"/><path fill="#c7dcf2" fill-rule="evenodd" d="M378 2l224 0 0 36-19 94 0 50 85 87 62 83 32 55 23 45 33 87 24 109 5 94-4 16-6 110-30 134-39 107-53 93-63 74-49 36-45 23-40 12-56 0-40-12-45-23-49-36-63-74-27-44-45-96-35-114-20-126-5-94 5-80 20-96 37-100 23-45 57-89 37-49 85-87 0-50-19-94z"/><path fill="#bdd6f0" fill-rule="evenodd" d="M378 2l224 0-1 36-18 94 0 50 85 88 62 82 32 55 23 45 33 88 23 108 6 94-5 20-6 106-30 134-38 106-53 94-63 73-49 37-45 23-40 11-56 0-40-11-45-23-49-37-63-73-27-44-45-96-34-114-20-126-6-94 6-80 20-96 36-100 23-45 57-89 37-48 85-88 0-50-18-94z"/><path fill="#b2cfee" fill-rule="evenodd" d="M378 2l224 0-1 36-19 100 1 44 85 88 61 82 33 55 23 45 33 89 23 107 6 94-5 20-6 106-30 134-38 106-54 94-62 73-49 37-45 23-40 11-56 0-40-11-45-23-49-37-62-73-28-44-44-96-35-114-20-126-6-94 6-80 20-95 36-101 23-45 58-89 36-48 85-88 1-44-19-100z"/><path fill="#a9c9eb" fill-rule="evenodd" d="M379 2l222 0 0 36-19 100 1 44 105 113 74 113 22 44 35 96 22 100 5 94-4 20-6 106-20 100-48 139-54 95-62 73-50 37-44 22-40 12-56 0-40-12-44-22-50-37-62-73-28-45-46-99-33-110-20-126-5-94 5-80 20-96 37-100 22-44 58-90 36-48 85-88 1-44-19-100z"/><path fill="#a1c3e8" fill-rule="evenodd" d="M379 2l222 0 0 36-20 100 2 44 105 114 41 56 33 56 22 44 35 96 22 100 5 94-5 20-5 106-20 100-48 139-54 95-62 73-50 37-44 22-40 12-56 0-40-12-44-22-50-37-62-73-34-55-41-95-32-104-20-126-5-94 5-80 22-100 35-96 22-44 58-90 36-47 85-89 2-44-20-100z"/><path fill="#9abee5" fill-rule="evenodd" d="M379 2l222 0-1 36-19 100 1 44 106 114 41 56 33 57 22 43 35 96 21 100 6 94-5 20-6 106-21 104-46 134-54 96-62 72-51 38-43 22-40 11-56 0-40-11-43-22-51-38-62-72-28-46-47-104-31-104-20-126-6-94 6-80 21-100 35-96 25-50 55-84 36-47 86-89 1-44-19-100z"/><path fill="#92b8e2" fill-rule="evenodd" d="M379 2l222 0-1 36-19 100 1 44 106 114 40 56 34 57 22 43 35 96 21 100 5 94-4 20-6 106-21 104-46 134-55 96-61 72-51 38-43 22-40 11-56 0-40-11-43-22-51-38-61-72-55-96-31-84-21-74-20-126-6-94 6-80 21-100 35-96 26-50 55-84 35-47 86-89 1-44-19-100z"/><path fill="#8bb3de" fill-rule="evenodd" d="M380 2l220 0 0 36-20 100 2 44 106 115 40 55 34 58 22 42 35 96 21 100 5 94-5 20-5 106-21 104-46 133-55 97-61 72-52 38-42 22-40 11-56 0-40-11-42-22-52-38-61-72-55-97-31-83-21-74-20-126-5-94 5-80 21-100 35-96 26-50 55-84 35-46 86-90 2-44-20-100z"/><path fill="#83addb" fill-rule="evenodd" d="M380 2l220 0 0 36-20 100 1 44 107 115 40 55 34 59 21 41 35 96 22 100 5 94-5 20-5 106-22 104-45 132-55 98-61 71-53 39-41 21-40 12-50 0-26-5-70-32-60-50-45-56-55-98-30-82-22-74-20-126-5-94 5-80 22-100 35-96 25-50 55-84 35-46 87-90 1-44-20-100z"/><path fill="#7ca8d8" fill-rule="evenodd" d="M380 2l220 0-1 36-19 100 1 44 87 90 60 80 30 50 24 49 31 81 26 116 6 94-5 20-6 106-21 104-45 132-55 98-61 71-53 39-41 21-40 11-50 1-26-6-70-31-60-50-45-56-55-98-30-82-21-74-20-126-6-94 6-80 21-100 35-96 25-50 55-84 35-46 87-90 1-44-19-100z"/><path fill="#74a2d5" fill-rule="evenodd" d="M381 2l218 0 0 36-19 100 1 44 87 91 60 80 30 49 24 50 36 96 21 100 5 94-4 20-6 106-21 104-45 131-56 99-60 71-54 39-40 21-40 11-56 0-24-6-66-30-60-50-44-56-56-99-30-81-21-74-20-126-5-94 5-80 21-100 35-96 25-50 56-84 35-46 86-90 1-44-19-100z"/><path fill="#6d9cd2" fill-rule="evenodd" d="M381 2l218 0 0 36-20 100 1 44 108 116 40 55 34 59 21 40 35 96 21 100 5 94-5 20-5 106-21 104-45 131-56 99-60 70-54 40-40 21-40 11-56 0-24-6-65-30-60-51-45-55-56-99-30-81-21-74-20-126-5-94 5-80 21-100 35-96 25-49 56-85 40-50 82-86 1-44-20-100z"/><path fill="#6597ce" fill-rule="evenodd" d="M381 2l218 0 0 36-20 100 1 44 108 117 40 55 34 59 20 40 36 95 21 100 5 94-5 20-5 106-22 104-44 130-56 99-60 72-55 39-40 20-39 12-56 0-24-6-64-30-62-51-44-56-56-99-30-80-21-74-20-126-5-94 5-80 21-100 36-95 24-49 56-85 39-51 83-86 1-44-20-100z"/><path fill="#5e91cb" fill-rule="evenodd" d="M381 2l218 0-1 36-19 100 0 44 89 93 60 80 30 50 24 49 30 80 26 114 6 94-5 20-6 106-21 103-44 130-56 99-61 72-55 40-40 20-38 11-56 0-23-5-64-30-63-52-44-56-56-99-30-80-20-73-20-126-6-94 6-80 20-99 36-95 24-49 56-85 40-51 83-87 0-44-19-100z"/><path fill="#568cc8" fill-rule="evenodd" d="M382 2l216 0 0 36-20 100 1 44 89 93 60 80 30 50 24 50 30 80 26 113 5 94-5 20-5 106-21 102-44 130-56 100-61 72-56 40-40 20-37 11-56 0-22-5-65-30-63-52-44-56-56-100-30-80-20-72-20-126-5-94 5-80 20-98 36-95 24-50 56-85 40-51 83-87 1-44-20-100z"/><path fill="#4f86c5" fill-rule="evenodd" d="M382 2l216 0 0 36-19 94 0 50 109 119 70 105 24 50 30 80 26 112 5 94-5 20-5 106-21 101-44 130-56 100-62 73-46 36-50 24-36 11-57-1-35-10-50-24-64-53-44-56-50-89-36-91-20-71-20-126-5-94 5-80 20-97 36-95 24-50 56-85 40-51 83-88 0-50-19-94z"/><path fill="#4781c1" fill-rule="evenodd" d="M382 2l216 0 0 36-20 94 0 50 110 120 70 105 24 50 30 80 26 111 5 94-5 20-5 106-21 100-44 130-56 100-63 74-46 36-50 24-35 11-56-1-35-10-50-24-61-50-48-60-50-89-36-91-20-70-20-126-5-94 5-80 20-96 36-95 24-50 56-85 40-51 84-89 0-50-20-94z"/><path fill="#407bbe" fill-rule="evenodd" d="M382 2l216 0 0 31-20 99 2 56 88 89 60 80 30 50 24 51 30 81 26 113 5 90-5 16-6 105-30 139-40 106-50 90-63 74-46 36-52 24-38 10-46 0-25-5-65-29-61-50-48-60-50-90-36-92-20-73-20-125-5-90 5-76 21-100 35-93 24-52 56-85 40-51 84-89 0-50-20-99z"/><path fill="#3875bb" fill-rule="evenodd" d="M383 2l214 0-1 30-19 106 2 50 84 84 65 87 30 50 20 40 34 93 25 110 5 90-10 120-21 106-29 90-20 48-50 90-64 76-57 40-43 20-36 9-45 0-25-5-63-28-62-50-49-62-50-90-36-93-28-115-11-80-5-90 5-76 21-100 38-103 50-90 45-61 104-110 2-50-19-106z"/><path fill="#3170b8" fill-rule="evenodd" d="M385 2l210 0 0 36-19 100 2 50 84 85 60 80 36 58 20 40 34 93 23 108 5 90-10 126-22 108-46 128-55 98-59 70-59 40-43 20-34 8-50 0-41-12-40-20-53-41-56-65-54-98-36-93-27-113-10-80-5-100 5-70 23-104 34-93 50-90 30-43 35-45 86-91 1-44-19-100z"/><path fill="#2d6fb8" fill-rule="evenodd" d="M386 2l208 0 0 36-20 100 1 44 107 118 76 112 20 40 34 95 22 105 5 90-5 20-5 106-21 105-46 130-54 97-60 70-50 38-40 20-46 11-55-1-35-10-40-20-52-40-58-68-54-97-36-95-26-110-10-80-5-100 5-70 22-101 34-95 50-90 30-42 36-45 87-93 1-44-20-100z"/><path fill="#2c73bb" fill-rule="evenodd" d="M387 2l206 0 0 36-19 94 1 56 87 89 60 80 30 50 26 49 24 65 20 70 11 57 5 94-4 16-6 110-20 101-46 129-54 100-60 70-54 40-41 20-35 10-50 0-26-6-65-30-59-49-46-55-30-49-44-100-30-100-21-127-5-94 5-80 21-97 34-95 26-49 54-85 36-45 83-85 5-10 0-50-19-94z"/><path fill="#2b78be" fill-rule="evenodd" d="M392 2l196 0 0 30-17 100 2 56 86 90 60 80 33 54 20 40 34 90 25 116 5 80-11 124-20 100-29 96-19 44-50 90-59 72-50 37-43 21-47 13-36 0-24-5-66-29-60-47-49-62-50-90-34-90-29-120-11-80-5-84 5-76 20-94 39-106 50-90 43-60 106-114 2-56-17-100z"/><path fill="#2b7cc1" fill-rule="evenodd" d="M400 2l180 0-15 130 3 56 106 114 77 116 20 40 34 94 22 106 4 80-15 154-26 106-39 104-50 90-59 69-54 40-40 19-40 10-36 0-24-5-66-30-54-43-49-60-50-90-35-90-19-70-21-130-6-84 6-76 20-100 35-94 53-96 43-60 107-114 3-56z"/><path fill="#2a80c4" fill-rule="evenodd" d="M407 2l166 0-12 130 4 56 107 117 42 57 36 60 49 120 24 116 5 74-11 130-21 101-47 135-51 92-56 66-54 40-40 19-40 11-36 0-24-6-60-27-50-37-54-64-53-94-32-86-20-70-21-130-6-84 5-70 19-100 34-96 40-74 55-80 110-120 4-56z"/><path fill="#2985c7" fill-rule="evenodd" d="M415 2l150 0-8 60 0 70 5 57 89 93 60 80 33 56 21 40 31 84 24 116 5 74-16 156-26 110-38 100-50 90-54 64-53 40-40 19-40 11-36 0-24-6-60-27-56-43-47-58-50-90-33-86-20-70-21-130-6-84 5-70 24-116 31-84 53-93 64-87 84-86 7-54 0-76z"/><path fill="#2989ca" fill-rule="evenodd" d="M424 2l132 0-7 60 10 126 9 14 76 76 24 30 43 60 49 84 24 60 23 86 10 60 4 64-10 136-17 84-35 116-40 84-44 66-40 44-57 40-36 17-40 10-30-1-34-9-66-35-44-39-66-91-41-86-35-116-17-84-10-126 4-74 9-60 19-70 29-76 48-84 43-60 24-30 77-76 9-14 10-126z"/><path fill="#288dcd" fill-rule="evenodd" d="M434 2l112 0-7 56 7 24 12 110 107 115 44 61 48 84 26 66 22 80 9 60 4 64-11 135-15 81-35 114-40 86-32 50-53 62-53 38-37 17-40 10-30-1-34-9-62-33-46-40-64-90-41-84-32-100-20-100-11-126 3-74 10-60 19-70 26-70 51-90 43-60 108-118 12-108 7-24z"/><path fill="#2890cf" fill-rule="evenodd" d="M448 2l85 0-7 50 12 30 17 110 87 90 24 30 42 58 47 82 25 66 19 64 12 76 4 64-11 136-16 80-35 114-40 86-44 64-40 46-51 36-36 17-40 10-30-1-34-9-60-33-46-39-64-91-40-84-31-96-21-100-11-126 3-74 10-60 17-66 28-74 49-89 41-57 25-31 86-89 17-110 13-30z"/><path fill="#2795d2" fill-rule="evenodd" d="M460 2l63 0-7 46 20 34 18 110 88 90 23 30 43 59 46 81 25 66 19 64 13 76 3 64-11 136-16 80-35 114-40 84-44 66-40 45-42 31-38 19-50 13-26-1-34-10-60-32-45-39-64-90-41-86-30-94-21-100-11-126 3-74 9-56 13-54 30-86 37-67 56-83 24-30 87-90 19-110 21-34z"/><path fill="#269cd7" fill-rule="evenodd" d="M465 78l43-2 12 6 11 26 21 90 90 90 62 84 33 56 27 60 25 74 17 96 2 64-11 130-16 86-36 114-37 79-30 47-50 60-56 40-34 16-40 9-56-9-60-32-40-34-40-50-29-46-38-80-36-114-16-86-11-124 2-70 8-56 13-54 30-86 35-64 58-86 24-30 85-84 21-91z"/><path fill="#25a3dc" fill-rule="evenodd" d="M469 98l33-3 14 7 35 100 87 86 92 134 20 40 32 90 19 110 1 70-16 150-28 114-36 92-49 84-50 60-58 40-33 15-34 8-56-10-54-29-41-34-39-49-30-45-38-80-34-110-17-86-11-124 1-66 7-60 13-54 30-86 49-86 63-88 87-86 31-90z"/><path fill="#24aae1" fill-rule="evenodd" d="M473 118l29-2 9 6 35 80 87 86 81 114 32 60 26 70 17 70 7 60-6 140-11 80-28 110-37 96-48 80-48 58-43 32-30 14-53 14-46-8-56-30-38-32-65-88-39-80-31-96-21-100-12-124 0-66 7-60 12-54 30-86 48-84 61-87 91-89 29-69z"/><path fill="#23b1e6" fill-rule="evenodd" d="M475 138l23-3 10 5 37 68 87 83 78 111 32 60 22 60 17 66 9 74-7 140-12 80-29 110-36 90-48 80-46 54-51 36-33 16-36 6-52-12-38-20-34-26-46-54-48-80-36-90-29-110-12-80-8-134 16-110 30-90 19-40 91-136 93-89z"/><path fill="#26b6e7" fill-rule="evenodd" d="M472 158l26-4 14 8 33 50 84 80 63 89 32 51 26 60 21 70 12 70-2 90-6 30-8 96-25 106-30 80-24 33-70 16-76 10-70 2-64-4-76-12-44-14-26-42-30-85-19-90-8-96-7-30-3-60 8-74 18-70 32-80 95-143 86-83z"/><path fill="#2eb7e4" fill-rule="evenodd" d="M474 168l24-3 14 8 28 39 88 83 77 113 31 60 19 54 16 66 8 74-11 72-46 37-54 29-56 21-60 14-50 5-74-4-50-10-60-21-50-25-40-26-16-16-6-16-5-54 12-106 19-66 27-64 93-138 88-82z"/><path fill="#36b8e1" fill-rule="evenodd" d="M474 178l24-3 14 8 28 35 82 76 66 93 30 51 25 60 19 70 9 64 0 36-9 33-47 41-47 28-50 21-50 13-56 7-54 0-50-7-50-13-46-18-46-25-44-34-10-20-4-26 2-60 8-46 18-64 26-64 91-136 87-80z"/><path fill="#3eb9de" fill-rule="evenodd" d="M474 188l18-3 16 4 100 94 34 44 58 85 28 56 19 60 16 84-5 53-30 33-37 30-43 24-46 19-44 12-50 6-50-1-50-7-46-13-44-20-49-30-38-36-13-20-3-24 3-45 13-65 36-96 90-134z"/><path fill="#46bbdb" fill-rule="evenodd" d="M473 198l25-3 14 7 86 76 41 50 78 124 25 76 11 64-1 26-13 24-29 36-38 31-74 39-46 12-44 6-46-1-44-6-46-13-40-18-39-26-34-30-27-34-7-26 3-40 15-70 19-51 21-39 78-114z"/><path fill="#4ebcd8" fill-rule="evenodd" d="M471 208l27-3 14 5 60 48 45 44 91 140 22 60 8 40 0 36-11 30-22 34-33 35-34 25-40 20-46 14-44 7-46 0-44-8-41-13-40-20-35-24-30-31-24-39-11-30 4-46 7-30 20-53 20-37 77-114 43-41z"/><path fill="#56bdd5" fill-rule="evenodd" d="M468 218l30-3 20 6 50 37 45 44 90 140 15 37 10 49-6 30-24 48-20 30-26 25-30 22-34 18-40 13-40 6-46 0-44-9-40-14-40-23-31-26-24-30-29-56-6-24 5-36 20-54 74-120 51-58z"/><path fill="#5ebed2" fill-rule="evenodd" d="M465 228l33-3 24 6 40 27 47 44 89 140 10 26 8 40-4 30-14 34-20 31-30 31-36 27-30 17-34 12-40 7-40 0-40-7-40-14-36-21-34-30-30-34-19-33-10-36 7-44 11-30 71-116 21-30 33-33z"/><path fill="#62becb" fill-rule="evenodd" d="M456 238l32-5 34 5 26 13 32 27 28 30 20 28 54 91 18 45 0 40-5 30-14 30-21 30-28 26-34 21-40 17-40 8-46 2-40-6-40-13-34-19-30-22-26-28-17-30-10-36-2-39 9-33 70-118 51-60z"/><path fill="#61bdc1" fill-rule="evenodd" d="M456 242l32-3 34 4 26 12 32 27 43 56 52 94 13 40 0 30-7 36-13 30-17 24-23 23-30 20-36 16-34 9-46 3-40-4-40-11-34-18-30-23-26-29-16-30-9-36-2-30 8-34 60-110 21-30 28-31 30-24z"/><path fill="#60bbb0" fill-rule="evenodd" d="M454 248l34-5 34 5 30 15 28 25 28 33 33 61 26 60 8 30 1 30-5 26-16 34-17 26-50 39-66 22-40 3-34-4-36-9-34-17-27-20-23-26-17-28-11-36-2-29 8-35 25-60 28-50 19-30 28-30 26-21z"/><path fill="#5eb797" fill-rule="evenodd" d="M456 258l32-5 30 4 24 11 25 20 22 30 13 36 25 44 10 34 6 66-6 30-11 24-21 26-26 20-30 14-31 9-60 0-30-8-30-14-26-18-20-23-14-26-6-24-1-36 10-54 44-100 33-40z"/><path fill="#5cb47e" fill-rule="evenodd" d="M458 268l30-5 24 3 26 11 19 16 23 35 34 100-2 64-17 46-37 36-50 19-50-2-46-19-34-38-17-46-3-36 3-30 35-100 26-34z"/><path fill="#5eb367" fill-rule="evenodd" d="M460 278l22-5 26 3 24 10 20 16 18 30 21 90-1 46-18 41-30 32-40 15-44-3-36-19-25-32-15-44 1-40 23-90 22-31z"/><path fill="#60b251" fill-rule="evenodd" d="M462 288l40-3 35 17 20 30 12 50 0 56-10 34-27 33-34 14-30-2-31-15-20-24-12-36-1-54 13-56 15-25z"/><path fill="#63b23a" fill-rule="evenodd" d="M467 298l31-3 27 13 17 21 10 39 0 39-10 34-20 28-25 12-25-1-24-15-16-23-10-34-1-36 9-40 13-20z"/><path fill="#6db530" fill-rule="evenodd" d="M486 312l22 6 14 14 14 50-4 20-12 20-18 15-14 3-20-5-14-13-12-19-4-21 14-52 16-13z"/><path fill="#7fba32" fill-rule="evenodd" d="M476 338l12-4 10 3 10 15 0 30-16 15-18-5-10-14 2-26z"/></g></g></g><path fill="#d1d1d1" d="M855.00 539.50 L867.00 539.50 L862.38 562.74 Q861.42 567.10 861.20 568.30 L860.20 568.30 Q859.98 567.10 859.02 562.74 L855.00 539.50 Z"/>
<circle cx="859.9" cy="603.8" r="5.8" fill="#c8102e"/>
<circle cx="859.9" cy="652.6" r="5.8" fill="#c8102e"/>
<circle cx="859.9" cy="698.5" r="5.8" fill="#c8102e"/>
<text transform="matrix(0.9554 0 0 1 118.73 34.52)" font-size="27.89" font-weight="bold">0.5 ns</text>
<text transform="matrix(0.9415 0 0 1 301.57 34.52)" font-size="28.29" font-weight="bold">1.5 ns</text>
<text transform="matrix(0.9536 0 0 1 477.07 34.52)" font-size="27.89" font-weight="bold">2.5 ns</text>
<text transform="matrix(0.9528 0 0 1 654.34 34.52)" font-size="27.89" font-weight="bold">3.5 ns</text>
<text transform="matrix(0.9360 0 0 1 826.60 34.52)" font-size="28.29" font-weight="bold">4.5 ns</text>
<text transform="matrix(0.8793 0 0 1 16.54 56.81)" font-size="28.91" font-weight="bold">a</text>
<text transform="matrix(1.0560 0 0 1 17.19 290.41)" font-size="29.25" font-weight="bold">b</text>
<text transform="matrix(0.9940 0 0 1 14.63 540.31)" font-size="29.45" font-weight="bold">c</text>
<text transform="matrix(1.0465 0 0 1 15.60 783.91)" font-size="28.57" font-weight="bold">d</text>
<text transform="matrix(1.0241 0 0 1 14.51 1015.51)" font-size="29.09" font-weight="bold">e</text>
<line x1="55.90" y1="57.90" x2="55.90" y2="231.60" stroke="#231f20" stroke-width="1.30"/>
<line x1="55.90" y1="231.00" x2="74.00" y2="231.00" stroke="#231f20" stroke-width="1.20"/>
<line x1="55.90" y1="226.07" x2="62.80" y2="226.07" stroke="#231f20" stroke-width="1.20"/>
<line x1="55.90" y1="221.14" x2="62.80" y2="221.14" stroke="#231f20" stroke-width="1.20"/>
<line x1="55.90" y1="216.21" x2="62.80" y2="216.21" stroke="#231f20" stroke-width="1.20"/>
<line x1="55.90" y1="211.29" x2="62.80" y2="211.29" stroke="#231f20" stroke-width="1.20"/>
<line x1="55.90" y1="206.36" x2="72.20" y2="206.36" stroke="#231f20" stroke-width="1.20"/>
<line x1="55.90" y1="201.43" x2="62.80" y2="201.43" stroke="#231f20" stroke-width="1.20"/>
<line x1="55.90" y1="196.50" x2="62.80" y2="196.50" stroke="#231f20" stroke-width="1.20"/>
<line x1="55.90" y1="191.57" x2="62.80" y2="191.57" stroke="#231f20" stroke-width="1.20"/>
<line x1="55.90" y1="186.64" x2="62.80" y2="186.64" stroke="#231f20" stroke-width="1.20"/>
<line x1="55.90" y1="181.71" x2="68.40" y2="181.71" stroke="#231f20" stroke-width="1.20"/>
<line x1="55.90" y1="176.79" x2="62.80" y2="176.79" stroke="#231f20" stroke-width="1.20"/>
<line x1="55.90" y1="171.86" x2="62.80" y2="171.86" stroke="#231f20" stroke-width="1.20"/>
<line x1="55.90" y1="166.93" x2="62.80" y2="166.93" stroke="#231f20" stroke-width="1.20"/>
<line x1="55.90" y1="162.00" x2="62.80" y2="162.00" stroke="#231f20" stroke-width="1.20"/>
<line x1="55.90" y1="157.07" x2="72.20" y2="157.07" stroke="#231f20" stroke-width="1.20"/>
<line x1="55.90" y1="152.14" x2="62.80" y2="152.14" stroke="#231f20" stroke-width="1.20"/>
<line x1="55.90" y1="147.21" x2="62.80" y2="147.21" stroke="#231f20" stroke-width="1.20"/>
<line x1="55.90" y1="142.29" x2="62.80" y2="142.29" stroke="#231f20" stroke-width="1.20"/>
<line x1="55.90" y1="137.36" x2="62.80" y2="137.36" stroke="#231f20" stroke-width="1.20"/>
<line x1="55.90" y1="132.43" x2="68.40" y2="132.43" stroke="#231f20" stroke-width="1.20"/>
<line x1="55.90" y1="127.50" x2="62.80" y2="127.50" stroke="#231f20" stroke-width="1.20"/>
<line x1="55.90" y1="122.57" x2="62.80" y2="122.57" stroke="#231f20" stroke-width="1.20"/>
<line x1="55.90" y1="117.64" x2="62.80" y2="117.64" stroke="#231f20" stroke-width="1.20"/>
<line x1="55.90" y1="112.71" x2="62.80" y2="112.71" stroke="#231f20" stroke-width="1.20"/>
<line x1="55.90" y1="107.79" x2="72.20" y2="107.79" stroke="#231f20" stroke-width="1.20"/>
<line x1="55.90" y1="102.86" x2="62.80" y2="102.86" stroke="#231f20" stroke-width="1.20"/>
<line x1="55.90" y1="97.93" x2="62.80" y2="97.93" stroke="#231f20" stroke-width="1.20"/>
<line x1="55.90" y1="93.00" x2="62.80" y2="93.00" stroke="#231f20" stroke-width="1.20"/>
<line x1="55.90" y1="88.07" x2="62.80" y2="88.07" stroke="#231f20" stroke-width="1.20"/>
<line x1="55.90" y1="83.14" x2="68.40" y2="83.14" stroke="#231f20" stroke-width="1.20"/>
<line x1="55.90" y1="78.21" x2="62.80" y2="78.21" stroke="#231f20" stroke-width="1.20"/>
<line x1="55.90" y1="73.29" x2="62.80" y2="73.29" stroke="#231f20" stroke-width="1.20"/>
<line x1="55.90" y1="68.36" x2="62.80" y2="68.36" stroke="#231f20" stroke-width="1.20"/>
<line x1="55.90" y1="63.43" x2="62.80" y2="63.43" stroke="#231f20" stroke-width="1.20"/>
<line x1="55.90" y1="58.50" x2="74.00" y2="58.50" stroke="#231f20" stroke-width="1.20"/>
<text x="43.91" y="235.35" font-size="12.60" font-weight="normal" stroke="#231f20" stroke-width="0.5">0</text>
<text x="44.04" y="186.06" font-size="12.60" font-weight="normal" stroke="#231f20" stroke-width="0.5">1</text>
<text x="44.04" y="136.78" font-size="12.60" font-weight="normal" stroke="#231f20" stroke-width="0.5">2</text>
<text x="43.97" y="87.49" font-size="12.60" font-weight="normal" stroke="#231f20" stroke-width="0.5">3</text>
<line x1="55.90" y1="290.70" x2="55.90" y2="471.90" stroke="#231f20" stroke-width="1.30"/>
<line x1="55.90" y1="471.30" x2="74.00" y2="471.30" stroke="#231f20" stroke-width="1.20"/>
<line x1="55.90" y1="466.16" x2="62.80" y2="466.16" stroke="#231f20" stroke-width="1.20"/>
<line x1="55.90" y1="461.01" x2="62.80" y2="461.01" stroke="#231f20" stroke-width="1.20"/>
<line x1="55.90" y1="455.87" x2="62.80" y2="455.87" stroke="#231f20" stroke-width="1.20"/>
<line x1="55.90" y1="450.73" x2="62.80" y2="450.73" stroke="#231f20" stroke-width="1.20"/>
<line x1="55.90" y1="445.59" x2="72.20" y2="445.59" stroke="#231f20" stroke-width="1.20"/>
<line x1="55.90" y1="440.44" x2="62.80" y2="440.44" stroke="#231f20" stroke-width="1.20"/>
<line x1="55.90" y1="435.30" x2="62.80" y2="435.30" stroke="#231f20" stroke-width="1.20"/>
<line x1="55.90" y1="430.16" x2="62.80" y2="430.16" stroke="#231f20" stroke-width="1.20"/>
<line x1="55.90" y1="425.01" x2="62.80" y2="425.01" stroke="#231f20" stroke-width="1.20"/>
<line x1="55.90" y1="419.87" x2="68.40" y2="419.87" stroke="#231f20" stroke-width="1.20"/>
<line x1="55.90" y1="414.73" x2="62.80" y2="414.73" stroke="#231f20" stroke-width="1.20"/>
<line x1="55.90" y1="409.59" x2="62.80" y2="409.59" stroke="#231f20" stroke-width="1.20"/>
<line x1="55.90" y1="404.44" x2="62.80" y2="404.44" stroke="#231f20" stroke-width="1.20"/>
<line x1="55.90" y1="399.30" x2="62.80" y2="399.30" stroke="#231f20" stroke-width="1.20"/>
<line x1="55.90" y1="394.16" x2="72.20" y2="394.16" stroke="#231f20" stroke-width="1.20"/>
<line x1="55.90" y1="389.01" x2="62.80" y2="389.01" stroke="#231f20" stroke-width="1.20"/>
<line x1="55.90" y1="383.87" x2="62.80" y2="383.87" stroke="#231f20" stroke-width="1.20"/>
<line x1="55.90" y1="378.73" x2="62.80" y2="378.73" stroke="#231f20" stroke-width="1.20"/>
<line x1="55.90" y1="373.59" x2="62.80" y2="373.59" stroke="#231f20" stroke-width="1.20"/>
<line x1="55.90" y1="368.44" x2="68.40" y2="368.44" stroke="#231f20" stroke-width="1.20"/>
<line x1="55.90" y1="363.30" x2="62.80" y2="363.30" stroke="#231f20" stroke-width="1.20"/>
<line x1="55.90" y1="358.16" x2="62.80" y2="358.16" stroke="#231f20" stroke-width="1.20"/>
<line x1="55.90" y1="353.01" x2="62.80" y2="353.01" stroke="#231f20" stroke-width="1.20"/>
<line x1="55.90" y1="347.87" x2="62.80" y2="347.87" stroke="#231f20" stroke-width="1.20"/>
<line x1="55.90" y1="342.73" x2="72.20" y2="342.73" stroke="#231f20" stroke-width="1.20"/>
<line x1="55.90" y1="337.59" x2="62.80" y2="337.59" stroke="#231f20" stroke-width="1.20"/>
<line x1="55.90" y1="332.44" x2="62.80" y2="332.44" stroke="#231f20" stroke-width="1.20"/>
<line x1="55.90" y1="327.30" x2="62.80" y2="327.30" stroke="#231f20" stroke-width="1.20"/>
<line x1="55.90" y1="322.16" x2="62.80" y2="322.16" stroke="#231f20" stroke-width="1.20"/>
<line x1="55.90" y1="317.01" x2="68.40" y2="317.01" stroke="#231f20" stroke-width="1.20"/>
<line x1="55.90" y1="311.87" x2="62.80" y2="311.87" stroke="#231f20" stroke-width="1.20"/>
<line x1="55.90" y1="306.73" x2="62.80" y2="306.73" stroke="#231f20" stroke-width="1.20"/>
<line x1="55.90" y1="301.59" x2="62.80" y2="301.59" stroke="#231f20" stroke-width="1.20"/>
<line x1="55.90" y1="296.44" x2="62.80" y2="296.44" stroke="#231f20" stroke-width="1.20"/>
<line x1="55.90" y1="291.30" x2="74.00" y2="291.30" stroke="#231f20" stroke-width="1.20"/>
<text x="43.91" y="475.65" font-size="12.60" font-weight="normal" stroke="#231f20" stroke-width="0.5">0</text>
<text x="44.04" y="424.22" font-size="12.60" font-weight="normal" stroke="#231f20" stroke-width="0.5">1</text>
<text x="44.04" y="372.79" font-size="12.60" font-weight="normal" stroke="#231f20" stroke-width="0.5">2</text>
<text x="43.97" y="321.36" font-size="12.60" font-weight="normal" stroke="#231f20" stroke-width="0.5">3</text>
<line x1="55.90" y1="540.90" x2="55.90" y2="724.00" stroke="#231f20" stroke-width="1.30"/>
<line x1="55.90" y1="723.40" x2="74.00" y2="723.40" stroke="#231f20" stroke-width="1.20"/>
<line x1="55.90" y1="718.20" x2="62.80" y2="718.20" stroke="#231f20" stroke-width="1.20"/>
<line x1="55.90" y1="713.01" x2="62.80" y2="713.01" stroke="#231f20" stroke-width="1.20"/>
<line x1="55.90" y1="707.81" x2="62.80" y2="707.81" stroke="#231f20" stroke-width="1.20"/>
<line x1="55.90" y1="702.61" x2="62.80" y2="702.61" stroke="#231f20" stroke-width="1.20"/>
<line x1="55.90" y1="697.41" x2="72.20" y2="697.41" stroke="#231f20" stroke-width="1.20"/>
<line x1="55.90" y1="692.22" x2="62.80" y2="692.22" stroke="#231f20" stroke-width="1.20"/>
<line x1="55.90" y1="687.02" x2="62.80" y2="687.02" stroke="#231f20" stroke-width="1.20"/>
<line x1="55.90" y1="681.82" x2="62.80" y2="681.82" stroke="#231f20" stroke-width="1.20"/>
<line x1="55.90" y1="676.63" x2="62.80" y2="676.63" stroke="#231f20" stroke-width="1.20"/>
<line x1="55.90" y1="671.43" x2="68.40" y2="671.43" stroke="#231f20" stroke-width="1.20"/>
<line x1="55.90" y1="666.23" x2="62.80" y2="666.23" stroke="#231f20" stroke-width="1.20"/>
<line x1="55.90" y1="661.03" x2="62.80" y2="661.03" stroke="#231f20" stroke-width="1.20"/>
<line x1="55.90" y1="655.84" x2="62.80" y2="655.84" stroke="#231f20" stroke-width="1.20"/>
<line x1="55.90" y1="650.64" x2="62.80" y2="650.64" stroke="#231f20" stroke-width="1.20"/>
<line x1="55.90" y1="645.44" x2="72.20" y2="645.44" stroke="#231f20" stroke-width="1.20"/>
<line x1="55.90" y1="640.25" x2="62.80" y2="640.25" stroke="#231f20" stroke-width="1.20"/>
<line x1="55.90" y1="635.05" x2="62.80" y2="635.05" stroke="#231f20" stroke-width="1.20"/>
<line x1="55.90" y1="629.85" x2="62.80" y2="629.85" stroke="#231f20" stroke-width="1.20"/>
<line x1="55.90" y1="624.65" x2="62.80" y2="624.65" stroke="#231f20" stroke-width="1.20"/>
<line x1="55.90" y1="619.46" x2="68.40" y2="619.46" stroke="#231f20" stroke-width="1.20"/>
<line x1="55.90" y1="614.26" x2="62.80" y2="614.26" stroke="#231f20" stroke-width="1.20"/>
<line x1="55.90" y1="609.06" x2="62.80" y2="609.06" stroke="#231f20" stroke-width="1.20"/>
<line x1="55.90" y1="603.87" x2="62.80" y2="603.87" stroke="#231f20" stroke-width="1.20"/>
<line x1="55.90" y1="598.67" x2="62.80" y2="598.67" stroke="#231f20" stroke-width="1.20"/>
<line x1="55.90" y1="593.47" x2="72.20" y2="593.47" stroke="#231f20" stroke-width="1.20"/>
<line x1="55.90" y1="588.27" x2="62.80" y2="588.27" stroke="#231f20" stroke-width="1.20"/>
<line x1="55.90" y1="583.08" x2="62.80" y2="583.08" stroke="#231f20" stroke-width="1.20"/>
<line x1="55.90" y1="577.88" x2="62.80" y2="577.88" stroke="#231f20" stroke-width="1.20"/>
<line x1="55.90" y1="572.68" x2="62.80" y2="572.68" stroke="#231f20" stroke-width="1.20"/>
<line x1="55.90" y1="567.49" x2="68.40" y2="567.49" stroke="#231f20" stroke-width="1.20"/>
<line x1="55.90" y1="562.29" x2="62.80" y2="562.29" stroke="#231f20" stroke-width="1.20"/>
<line x1="55.90" y1="557.09" x2="62.80" y2="557.09" stroke="#231f20" stroke-width="1.20"/>
<line x1="55.90" y1="551.89" x2="62.80" y2="551.89" stroke="#231f20" stroke-width="1.20"/>
<line x1="55.90" y1="546.70" x2="62.80" y2="546.70" stroke="#231f20" stroke-width="1.20"/>
<line x1="55.90" y1="541.50" x2="74.00" y2="541.50" stroke="#231f20" stroke-width="1.20"/>
<text x="43.91" y="727.75" font-size="12.60" font-weight="normal" stroke="#231f20" stroke-width="0.5">0</text>
<text x="44.04" y="675.78" font-size="12.60" font-weight="normal" stroke="#231f20" stroke-width="0.5">1</text>
<text x="44.04" y="623.80" font-size="12.60" font-weight="normal" stroke="#231f20" stroke-width="0.5">2</text>
<text x="43.97" y="571.83" font-size="12.60" font-weight="normal" stroke="#231f20" stroke-width="0.5">3</text>
<line x1="55.90" y1="783.90" x2="55.90" y2="965.30" stroke="#231f20" stroke-width="1.30"/>
<line x1="55.90" y1="964.70" x2="74.00" y2="964.70" stroke="#231f20" stroke-width="1.20"/>
<line x1="55.90" y1="959.55" x2="62.80" y2="959.55" stroke="#231f20" stroke-width="1.20"/>
<line x1="55.90" y1="954.40" x2="62.80" y2="954.40" stroke="#231f20" stroke-width="1.20"/>
<line x1="55.90" y1="949.25" x2="62.80" y2="949.25" stroke="#231f20" stroke-width="1.20"/>
<line x1="55.90" y1="944.11" x2="62.80" y2="944.11" stroke="#231f20" stroke-width="1.20"/>
<line x1="55.90" y1="938.96" x2="72.20" y2="938.96" stroke="#231f20" stroke-width="1.20"/>
<line x1="55.90" y1="933.81" x2="62.80" y2="933.81" stroke="#231f20" stroke-width="1.20"/>
<line x1="55.90" y1="928.66" x2="62.80" y2="928.66" stroke="#231f20" stroke-width="1.20"/>
<line x1="55.90" y1="923.51" x2="62.80" y2="923.51" stroke="#231f20" stroke-width="1.20"/>
<line x1="55.90" y1="918.36" x2="62.80" y2="918.36" stroke="#231f20" stroke-width="1.20"/>
<line x1="55.90" y1="913.21" x2="68.40" y2="913.21" stroke="#231f20" stroke-width="1.20"/>
<line x1="55.90" y1="908.07" x2="62.80" y2="908.07" stroke="#231f20" stroke-width="1.20"/>
<line x1="55.90" y1="902.92" x2="62.80" y2="902.92" stroke="#231f20" stroke-width="1.20"/>
<line x1="55.90" y1="897.77" x2="62.80" y2="897.77" stroke="#231f20" stroke-width="1.20"/>
<line x1="55.90" y1="892.62" x2="62.80" y2="892.62" stroke="#231f20" stroke-width="1.20"/>
<line x1="55.90" y1="887.47" x2="72.20" y2="887.47" stroke="#231f20" stroke-width="1.20"/>
<line x1="55.90" y1="882.32" x2="62.80" y2="882.32" stroke="#231f20" stroke-width="1.20"/>
<line x1="55.90" y1="877.17" x2="62.80" y2="877.17" stroke="#231f20" stroke-width="1.20"/>
<line x1="55.90" y1="872.03" x2="62.80" y2="872.03" stroke="#231f20" stroke-width="1.20"/>
<line x1="55.90" y1="866.88" x2="62.80" y2="866.88" stroke="#231f20" stroke-width="1.20"/>
<line x1="55.90" y1="861.73" x2="68.40" y2="861.73" stroke="#231f20" stroke-width="1.20"/>
<line x1="55.90" y1="856.58" x2="62.80" y2="856.58" stroke="#231f20" stroke-width="1.20"/>
<line x1="55.90" y1="851.43" x2="62.80" y2="851.43" stroke="#231f20" stroke-width="1.20"/>
<line x1="55.90" y1="846.28" x2="62.80" y2="846.28" stroke="#231f20" stroke-width="1.20"/>
<line x1="55.90" y1="841.13" x2="62.80" y2="841.13" stroke="#231f20" stroke-width="1.20"/>
<line x1="55.90" y1="835.99" x2="72.20" y2="835.99" stroke="#231f20" stroke-width="1.20"/>
<line x1="55.90" y1="830.84" x2="62.80" y2="830.84" stroke="#231f20" stroke-width="1.20"/>
<line x1="55.90" y1="825.69" x2="62.80" y2="825.69" stroke="#231f20" stroke-width="1.20"/>
<line x1="55.90" y1="820.54" x2="62.80" y2="820.54" stroke="#231f20" stroke-width="1.20"/>
<line x1="55.90" y1="815.39" x2="62.80" y2="815.39" stroke="#231f20" stroke-width="1.20"/>
<line x1="55.90" y1="810.24" x2="68.40" y2="810.24" stroke="#231f20" stroke-width="1.20"/>
<line x1="55.90" y1="805.09" x2="62.80" y2="805.09" stroke="#231f20" stroke-width="1.20"/>
<line x1="55.90" y1="799.95" x2="62.80" y2="799.95" stroke="#231f20" stroke-width="1.20"/>
<line x1="55.90" y1="794.80" x2="62.80" y2="794.80" stroke="#231f20" stroke-width="1.20"/>
<line x1="55.90" y1="789.65" x2="62.80" y2="789.65" stroke="#231f20" stroke-width="1.20"/>
<line x1="55.90" y1="784.50" x2="74.00" y2="784.50" stroke="#231f20" stroke-width="1.20"/>
<text x="43.91" y="969.05" font-size="12.60" font-weight="normal" stroke="#231f20" stroke-width="0.5">0</text>
<text x="44.04" y="917.56" font-size="12.60" font-weight="normal" stroke="#231f20" stroke-width="0.5">1</text>
<text x="44.04" y="866.08" font-size="12.60" font-weight="normal" stroke="#231f20" stroke-width="0.5">2</text>
<text x="43.97" y="814.59" font-size="12.60" font-weight="normal" stroke="#231f20" stroke-width="0.5">3</text>
<text transform="matrix(0 -0.9695 1 0 33.02 177.44)" font-size="17.54" font-weight="bold">Y (mm)</text>
<text transform="matrix(0 -0.9660 1 0 33.02 413.14)" font-size="17.54" font-weight="bold">Y (mm)</text>
<text transform="matrix(0 -0.9695 1 0 33.02 657.74)" font-size="17.54" font-weight="bold">Y (mm)</text>
<text transform="matrix(0 -0.9867 1 0 33.02 903.45)" font-size="17.54" font-weight="bold">Y (mm)</text>
<rect x="957.8" y="56.3" width="9.6" height="169.7" fill="url(#cb1)"/>
<text x="975.12" y="72.48" font-size="13.00" font-weight="bold">22</text>
<text x="975.02" y="111.78" font-size="13.00" font-weight="bold">21</text>
<text x="975.12" y="146.88" font-size="13.00" font-weight="bold">20</text>
<text x="974.89" y="185.99" font-size="13.00" font-weight="bold">19</text>
<text x="974.86" y="233.29" font-size="13.00" font-weight="bold">18</text>
<text transform="matrix(1.0298 0 0 1 956.97 48.00)" font-size="15.72" font-weight="bold">log</text>
<text transform="matrix(1.1509 0 0 1 980.25 48.91)" font-size="8.73" font-weight="normal">10</text>
<text transform="matrix(0.9957 0 0 1 991.40 47.51)" font-size="16.15" font-weight="bold">(ne)</text>
<rect x="958.1" y="291.7" width="9.6" height="174.3" fill="url(#cb2)"/>
<text x="975.86" y="303.25" font-size="12.60" font-weight="bold">14.6</text>
<text x="975.89" y="324.85" font-size="12.60" font-weight="bold">13.0</text>
<text x="976.20" y="348.05" font-size="12.60" font-weight="bold">11.3</text>
<text x="979.54" y="370.65" font-size="12.60" font-weight="bold">9.6</text>
<text x="979.61" y="394.05" font-size="12.60" font-weight="bold">8.0</text>
<text x="979.48" y="418.85" font-size="12.60" font-weight="bold">6.5</text>
<text x="979.64" y="441.05" font-size="12.60" font-weight="bold">4.8</text>
<text x="979.64" y="464.95" font-size="12.60" font-weight="bold">3.2</text>
<text transform="matrix(1.1754 0 0 1 956.15 283.76)" font-size="16.36" font-weight="bold">Ee(eV)</text>
<rect x="958.9" y="542.9" width="9.6" height="178.1" fill="url(#cb3)"/>
<text x="975.82" y="554.49" font-size="13.00" font-weight="bold">22</text>
<text x="975.72" y="592.88" font-size="13.00" font-weight="bold">21</text>
<text x="975.82" y="628.19" font-size="13.00" font-weight="bold">20</text>
<text x="975.59" y="667.38" font-size="13.00" font-weight="bold">19</text>
<text x="975.56" y="714.49" font-size="13.00" font-weight="bold">18</text>
<text transform="matrix(1.0313 0 0 1 961.27 531.41)" font-size="16.15" font-weight="bold" font-style="italic">log</text>
<text transform="matrix(0.9073 0 0 1 985.73 535.10)" font-size="9.86" font-weight="normal">10</text>
<text transform="matrix(0.9998 0 0 1 995.69 531.79)" font-size="16.26" font-weight="bold">(ne)</text>
<rect x="958.9" y="784.7" width="9.6" height="175.3" fill="url(#cb4)"/>
<text x="975.06" y="796.49" font-size="13.00" font-weight="bold">14.6</text>
<text x="975.10" y="817.38" font-size="13.00" font-weight="bold">13.0</text>
<text x="975.42" y="840.78" font-size="13.00" font-weight="bold">11.3</text>
<text x="978.87" y="863.69" font-size="13.00" font-weight="bold">9.6</text>
<text x="978.93" y="887.09" font-size="13.00" font-weight="bold">8.0</text>
<text x="978.80" y="911.88" font-size="13.00" font-weight="bold">6.5</text>
<text x="978.96" y="934.38" font-size="13.00" font-weight="bold">4.8</text>
<text x="978.96" y="958.19" font-size="13.00" font-weight="bold">3.2</text>
<text transform="matrix(1.1244 0 0 1 961.00 777.16)" font-size="16.36" font-weight="bold">Ee(eV)</text>
<text transform="matrix(1.5879 0 0 1 879.96 125.00)" font-size="18.34" font-weight="normal" font-style="italic" stroke="#231f20" stroke-width="0.55">i</text>
<text transform="matrix(1.5491 0 0 1 874.18 175.00)" font-size="17.93" font-weight="normal" font-style="italic" stroke="#231f20" stroke-width="0.55">ii</text>
<text transform="matrix(1.3842 0 0 1 873.39 222.50)" font-size="19.59" font-weight="normal" font-style="italic" stroke="#231f20" stroke-width="0.55">iii</text>
<text transform="matrix(1.6543 0 0 1 877.92 606.80)" font-size="19.45" font-weight="normal" font-style="italic" stroke="#231f20" stroke-width="0.55">i</text>
<text transform="matrix(1.4415 0 0 1 878.00 657.10)" font-size="18.34" font-weight="normal" font-style="italic" stroke="#231f20" stroke-width="0.55">ii</text>
<text transform="matrix(1.3559 0 0 1 874.30 703.70)" font-size="19.45" font-weight="normal" font-style="italic" stroke="#231f20" stroke-width="0.55">iii</text>
<line x1="249.00" y1="57.10" x2="420.80" y2="57.10" stroke="#e6e6e6" stroke-width="1.00"/>
<line x1="426.40" y1="57.10" x2="598.00" y2="57.10" stroke="#e6e6e6" stroke-width="1.00"/>
<line x1="602.00" y1="57.10" x2="775.70" y2="57.10" stroke="#e6e6e6" stroke-width="1.00"/>
<line x1="426.00" y1="541.00" x2="597.50" y2="541.00" stroke="#e6e6e6" stroke-width="1.00"/>
<line x1="778.00" y1="540.20" x2="946.00" y2="540.20" stroke="#e6e6e6" stroke-width="1.00"/>
<text x="87.90" y="1187.47" font-size="14.40" font-weight="normal" stroke="#231f20" stroke-width="0.5">0</text>
<text x="111.72" y="1187.47" font-size="14.40" font-weight="normal" stroke="#231f20" stroke-width="0.5">1</text>
<text x="135.90" y="1187.47" font-size="14.40" font-weight="normal" stroke="#231f20" stroke-width="0.5">2</text>
<text x="159.94" y="1187.47" font-size="14.40" font-weight="normal" stroke="#231f20" stroke-width="0.5">3</text>
<text x="183.94" y="1187.47" font-size="14.40" font-weight="normal" stroke="#231f20" stroke-width="0.5">4</text>
<text x="207.90" y="1187.47" font-size="14.40" font-weight="normal" stroke="#231f20" stroke-width="0.5">5</text>
<text x="231.87" y="1187.47" font-size="14.40" font-weight="normal" stroke="#231f20" stroke-width="0.5">6</text>
<text x="255.90" y="1187.47" font-size="14.40" font-weight="normal" stroke="#231f20" stroke-width="0.5">7</text>
<text x="279.87" y="1187.47" font-size="14.40" font-weight="normal" stroke="#231f20" stroke-width="0.5">8</text>
<text x="303.90" y="1187.47" font-size="14.40" font-weight="normal" stroke="#231f20" stroke-width="0.5">9</text>
<text x="323.66" y="1187.47" font-size="14.40" font-weight="normal" stroke="#231f20" stroke-width="0.5">10</text>
<text x="77.63" y="1020.07" font-size="14.40" font-weight="normal" stroke="#231f20" stroke-width="0.5">1</text>
<text x="65.60" y="1088.72" font-size="14.40" font-weight="normal" stroke="#231f20" stroke-width="0.5">0.1</text>
<text x="57.61" y="1157.37" font-size="14.40" font-weight="normal" stroke="#231f20" stroke-width="0.5">0.01</text>
<text transform="matrix(1.1169 0 0 1 168.80 1201.55)" font-size="14.55" font-weight="normal" stroke="#231f20" stroke-width="0.55">Energy (eV)</text>
<text transform="matrix(0 -1.0196 1 0 51.63 1124.11)" font-size="16.04" font-weight="normal" stroke="#231f20" stroke-width="0.55">Ratio (a.u.)</text>
<text transform="matrix(1.0213 0 0 1 309.79 1022.50)" font-size="15.31" font-weight="bold" font-style="italic">i</text>
<text x="394.60" y="1187.47" font-size="14.40" font-weight="normal" stroke="#231f20" stroke-width="0.5">0</text>
<text x="418.42" y="1187.47" font-size="14.40" font-weight="normal" stroke="#231f20" stroke-width="0.5">1</text>
<text x="442.60" y="1187.47" font-size="14.40" font-weight="normal" stroke="#231f20" stroke-width="0.5">2</text>
<text x="466.64" y="1187.47" font-size="14.40" font-weight="normal" stroke="#231f20" stroke-width="0.5">3</text>
<text x="490.64" y="1187.47" font-size="14.40" font-weight="normal" stroke="#231f20" stroke-width="0.5">4</text>
<text x="514.60" y="1187.47" font-size="14.40" font-weight="normal" stroke="#231f20" stroke-width="0.5">5</text>
<text x="538.57" y="1187.47" font-size="14.40" font-weight="normal" stroke="#231f20" stroke-width="0.5">6</text>
<text x="562.60" y="1187.47" font-size="14.40" font-weight="normal" stroke="#231f20" stroke-width="0.5">7</text>
<text x="586.57" y="1187.47" font-size="14.40" font-weight="normal" stroke="#231f20" stroke-width="0.5">8</text>
<text x="610.60" y="1187.47" font-size="14.40" font-weight="normal" stroke="#231f20" stroke-width="0.5">9</text>
<text x="630.36" y="1187.47" font-size="14.40" font-weight="normal" stroke="#231f20" stroke-width="0.5">10</text>
<text x="384.33" y="1003.17" font-size="14.40" font-weight="normal" stroke="#231f20" stroke-width="0.5">1</text>
<text x="372.30" y="1088.77" font-size="14.40" font-weight="normal" stroke="#231f20" stroke-width="0.5">0.1</text>
<text x="364.31" y="1174.37" font-size="14.40" font-weight="normal" stroke="#231f20" stroke-width="0.5">0.01</text>
<text transform="matrix(1.1169 0 0 1 475.50 1201.55)" font-size="14.55" font-weight="normal" stroke="#231f20" stroke-width="0.55">Energy (eV)</text>
<text transform="matrix(0 -1.0196 1 0 358.13 1124.11)" font-size="16.04" font-weight="normal" stroke="#231f20" stroke-width="0.55">Ratio (a.u.)</text>
<text transform="matrix(1.0135 0 0 1 611.38 1022.50)" font-size="16.00" font-weight="bold" font-style="italic">ii</text>
<text x="706.20" y="1187.47" font-size="14.40" font-weight="normal" stroke="#231f20" stroke-width="0.5">0</text>
<text x="730.02" y="1187.47" font-size="14.40" font-weight="normal" stroke="#231f20" stroke-width="0.5">1</text>
<text x="754.20" y="1187.47" font-size="14.40" font-weight="normal" stroke="#231f20" stroke-width="0.5">2</text>
<text x="778.24" y="1187.47" font-size="14.40" font-weight="normal" stroke="#231f20" stroke-width="0.5">3</text>
<text x="802.24" y="1187.47" font-size="14.40" font-weight="normal" stroke="#231f20" stroke-width="0.5">4</text>
<text x="826.20" y="1187.47" font-size="14.40" font-weight="normal" stroke="#231f20" stroke-width="0.5">5</text>
<text x="850.17" y="1187.47" font-size="14.40" font-weight="normal" stroke="#231f20" stroke-width="0.5">6</text>
<text x="874.20" y="1187.47" font-size="14.40" font-weight="normal" stroke="#231f20" stroke-width="0.5">7</text>
<text x="898.17" y="1187.47" font-size="14.40" font-weight="normal" stroke="#231f20" stroke-width="0.5">8</text>
<text x="922.20" y="1187.47" font-size="14.40" font-weight="normal" stroke="#231f20" stroke-width="0.5">9</text>
<text x="941.96" y="1187.47" font-size="14.40" font-weight="normal" stroke="#231f20" stroke-width="0.5">10</text>
<text x="695.93" y="1000.17" font-size="14.40" font-weight="normal" stroke="#231f20" stroke-width="0.5">1</text>
<text x="683.90" y="1035.57" font-size="14.40" font-weight="normal" stroke="#231f20" stroke-width="0.5">0.1</text>
<text x="675.91" y="1070.97" font-size="14.40" font-weight="normal" stroke="#231f20" stroke-width="0.5">0.01</text>
<text x="673.46" y="1106.37" font-size="14.40" font-weight="normal" stroke="#231f20" stroke-width="0.5">1E-3</text>
<text x="673.25" y="1141.77" font-size="14.40" font-weight="normal" stroke="#231f20" stroke-width="0.5">1E-4</text>
<text transform="matrix(1.1169 0 0 1 787.10 1201.55)" font-size="14.55" font-weight="normal" stroke="#231f20" stroke-width="0.55">Energy (eV)</text>
<text transform="matrix(0 -1.0196 1 0 662.03 1124.11)" font-size="16.04" font-weight="normal" stroke="#231f20" stroke-width="0.55">Ratio (a.u.)</text>
<text transform="matrix(1.0038 0 0 1 919.78 1022.50)" font-size="15.72" font-weight="bold" font-style="italic">iii</text>
<text transform="matrix(1.0288 0 0 1 773.13 1057.87)" font-size="11.55" font-weight="bold">Negative corona</text>
<text transform="matrix(0.9880 0 0 1 773.11 1073.48)" font-size="12.24" font-weight="bold">Positive corona</text>
<rect x="91.90" y="994.30" width="239.50" height="174.70" fill="none" stroke="#231f20" stroke-width="1.3"/>
<line x1="91.90" y1="1169.00" x2="91.90" y2="1173.20" stroke="#231f20" stroke-width="1.1"/>
<line x1="103.90" y1="1169.00" x2="103.90" y2="1171.50" stroke="#231f20" stroke-width="1.1"/>
<line x1="115.90" y1="1169.00" x2="115.90" y2="1173.20" stroke="#231f20" stroke-width="1.1"/>
<line x1="127.90" y1="1169.00" x2="127.90" y2="1171.50" stroke="#231f20" stroke-width="1.1"/>
<line x1="139.90" y1="1169.00" x2="139.90" y2="1173.20" stroke="#231f20" stroke-width="1.1"/>
<line x1="151.90" y1="1169.00" x2="151.90" y2="1171.50" stroke="#231f20" stroke-width="1.1"/>
<line x1="163.90" y1="1169.00" x2="163.90" y2="1173.20" stroke="#231f20" stroke-width="1.1"/>
<line x1="175.90" y1="1169.00" x2="175.90" y2="1171.50" stroke="#231f20" stroke-width="1.1"/>
<line x1="187.90" y1="1169.00" x2="187.90" y2="1173.20" stroke="#231f20" stroke-width="1.1"/>
<line x1="199.90" y1="1169.00" x2="199.90" y2="1171.50" stroke="#231f20" stroke-width="1.1"/>
<line x1="211.90" y1="1169.00" x2="211.90" y2="1173.20" stroke="#231f20" stroke-width="1.1"/>
<line x1="223.90" y1="1169.00" x2="223.90" y2="1171.50" stroke="#231f20" stroke-width="1.1"/>
<line x1="235.90" y1="1169.00" x2="235.90" y2="1173.20" stroke="#231f20" stroke-width="1.1"/>
<line x1="247.90" y1="1169.00" x2="247.90" y2="1171.50" stroke="#231f20" stroke-width="1.1"/>
<line x1="259.90" y1="1169.00" x2="259.90" y2="1173.20" stroke="#231f20" stroke-width="1.1"/>
<line x1="271.90" y1="1169.00" x2="271.90" y2="1171.50" stroke="#231f20" stroke-width="1.1"/>
<line x1="283.90" y1="1169.00" x2="283.90" y2="1173.20" stroke="#231f20" stroke-width="1.1"/>
<line x1="295.90" y1="1169.00" x2="295.90" y2="1171.50" stroke="#231f20" stroke-width="1.1"/>
<line x1="307.90" y1="1169.00" x2="307.90" y2="1173.20" stroke="#231f20" stroke-width="1.1"/>
<line x1="319.90" y1="1169.00" x2="319.90" y2="1171.50" stroke="#231f20" stroke-width="1.1"/>
<line x1="331.90" y1="1169.00" x2="331.90" y2="1173.20" stroke="#231f20" stroke-width="1.1"/>
<line x1="91.90" y1="1167.63" x2="89.90" y2="1167.63" stroke="#231f20" stroke-width="1.0"/>
<line x1="91.90" y1="1163.03" x2="89.90" y2="1163.03" stroke="#231f20" stroke-width="1.0"/>
<line x1="91.90" y1="1159.05" x2="89.90" y2="1159.05" stroke="#231f20" stroke-width="1.0"/>
<line x1="91.90" y1="1155.54" x2="89.90" y2="1155.54" stroke="#231f20" stroke-width="1.0"/>
<line x1="91.90" y1="1152.40" x2="87.40" y2="1152.40" stroke="#231f20" stroke-width="1.0"/>
<line x1="91.90" y1="1131.73" x2="89.90" y2="1131.73" stroke="#231f20" stroke-width="1.0"/>
<line x1="91.90" y1="1119.65" x2="89.90" y2="1119.65" stroke="#231f20" stroke-width="1.0"/>
<line x1="91.90" y1="1111.07" x2="89.90" y2="1111.07" stroke="#231f20" stroke-width="1.0"/>
<line x1="91.90" y1="1104.42" x2="89.90" y2="1104.42" stroke="#231f20" stroke-width="1.0"/>
<line x1="91.90" y1="1098.98" x2="89.90" y2="1098.98" stroke="#231f20" stroke-width="1.0"/>
<line x1="91.90" y1="1094.38" x2="89.90" y2="1094.38" stroke="#231f20" stroke-width="1.0"/>
<line x1="91.90" y1="1090.40" x2="89.90" y2="1090.40" stroke="#231f20" stroke-width="1.0"/>
<line x1="91.90" y1="1086.89" x2="89.90" y2="1086.89" stroke="#231f20" stroke-width="1.0"/>
<line x1="91.90" y1="1083.75" x2="87.40" y2="1083.75" stroke="#231f20" stroke-width="1.0"/>
<line x1="91.90" y1="1063.08" x2="89.90" y2="1063.08" stroke="#231f20" stroke-width="1.0"/>
<line x1="91.90" y1="1051.00" x2="89.90" y2="1051.00" stroke="#231f20" stroke-width="1.0"/>
<line x1="91.90" y1="1042.42" x2="89.90" y2="1042.42" stroke="#231f20" stroke-width="1.0"/>
<line x1="91.90" y1="1035.77" x2="89.90" y2="1035.77" stroke="#231f20" stroke-width="1.0"/>
<line x1="91.90" y1="1030.33" x2="89.90" y2="1030.33" stroke="#231f20" stroke-width="1.0"/>
<line x1="91.90" y1="1025.73" x2="89.90" y2="1025.73" stroke="#231f20" stroke-width="1.0"/>
<line x1="91.90" y1="1021.75" x2="89.90" y2="1021.75" stroke="#231f20" stroke-width="1.0"/>
<line x1="91.90" y1="1018.24" x2="89.90" y2="1018.24" stroke="#231f20" stroke-width="1.0"/>
<line x1="91.90" y1="1015.10" x2="87.40" y2="1015.10" stroke="#231f20" stroke-width="1.0"/>
<line x1="91.90" y1="994.43" x2="89.90" y2="994.43" stroke="#231f20" stroke-width="1.0"/>
<path d="M91.9 1100.3 94.1 1100.4 96.2 1100.6 98.4 1100.7 100.5 1100.9 102.7 1101.0 104.9 1101.2 107.0 1101.3 109.2 1101.4 111.3 1101.8 113.5 1102.4 115.7 1102.9 117.8 1103.5 120.0 1104.0 122.1 1104.5 123.1 1104.8 129.8 1106.5 136.5 1108.9 143.3 1111.6 150.0 1114.4 156.7 1117.1 163.4 1119.9 170.1 1122.6 176.9 1125.3 183.6 1128.0 190.3 1130.7 197.0 1133.4 203.7 1136.1 210.5 1139.5 217.2 1142.8 223.9 1146.2 230.6 1149.5 237.3 1152.9 244.1 1157.7 250.8 1162.6 257.5 1167.4" fill="none" stroke="#231f20" stroke-width="1.2"/>
<rect x="89.3" y="1097.7" width="5.2" height="5.2" fill="#231f20"/>
<rect x="91.5" y="1097.8" width="5.2" height="5.2" fill="#231f20"/>
<rect x="93.6" y="1098.0" width="5.2" height="5.2" fill="#231f20"/>
<rect x="95.8" y="1098.1" width="5.2" height="5.2" fill="#231f20"/>
<rect x="97.9" y="1098.3" width="5.2" height="5.2" fill="#231f20"/>
<rect x="100.1" y="1098.4" width="5.2" height="5.2" fill="#231f20"/>
<rect x="102.3" y="1098.6" width="5.2" height="5.2" fill="#231f20"/>
<rect x="104.4" y="1098.7" width="5.2" height="5.2" fill="#231f20"/>
<rect x="106.6" y="1098.8" width="5.2" height="5.2" fill="#231f20"/>
<rect x="108.7" y="1099.2" width="5.2" height="5.2" fill="#231f20"/>
<rect x="110.9" y="1099.8" width="5.2" height="5.2" fill="#231f20"/>
<rect x="113.1" y="1100.3" width="5.2" height="5.2" fill="#231f20"/>
<rect x="115.2" y="1100.9" width="5.2" height="5.2" fill="#231f20"/>
<rect x="117.4" y="1101.4" width="5.2" height="5.2" fill="#231f20"/>
<rect x="119.5" y="1101.9" width="5.2" height="5.2" fill="#231f20"/>
<rect x="120.5" y="1102.2" width="5.2" height="5.2" fill="#231f20"/>
<rect x="127.2" y="1103.9" width="5.2" height="5.2" fill="#231f20"/>
<rect x="133.9" y="1106.3" width="5.2" height="5.2" fill="#231f20"/>
<rect x="140.7" y="1109.0" width="5.2" height="5.2" fill="#231f20"/>
<rect x="147.4" y="1111.8" width="5.2" height="5.2" fill="#231f20"/>
<rect x="154.1" y="1114.5" width="5.2" height="5.2" fill="#231f20"/>
<rect x="160.8" y="1117.3" width="5.2" height="5.2" fill="#231f20"/>
<rect x="167.5" y="1120.0" width="5.2" height="5.2" fill="#231f20"/>
<rect x="174.3" y="1122.7" width="5.2" height="5.2" fill="#231f20"/>
<rect x="181.0" y="1125.4" width="5.2" height="5.2" fill="#231f20"/>
<rect x="187.7" y="1128.1" width="5.2" height="5.2" fill="#231f20"/>
<rect x="194.4" y="1130.8" width="5.2" height="5.2" fill="#231f20"/>
<rect x="201.1" y="1133.5" width="5.2" height="5.2" fill="#231f20"/>
<rect x="207.9" y="1136.9" width="5.2" height="5.2" fill="#231f20"/>
<rect x="214.6" y="1140.2" width="5.2" height="5.2" fill="#231f20"/>
<rect x="221.3" y="1143.6" width="5.2" height="5.2" fill="#231f20"/>
<rect x="228.0" y="1146.9" width="5.2" height="5.2" fill="#231f20"/>
<rect x="234.7" y="1150.3" width="5.2" height="5.2" fill="#231f20"/>
<rect x="241.5" y="1155.1" width="5.2" height="5.2" fill="#231f20"/>
<rect x="248.2" y="1160.0" width="5.2" height="5.2" fill="#231f20"/>
<rect x="254.9" y="1164.8" width="5.2" height="5.2" fill="#231f20"/>
<path d="M91.9 1015.1 93.3 1015.1 94.8 1015.3 96.2 1015.5 97.7 1015.8 99.1 1016.1 99.5 1016.7 100.6 1018.3 101.7 1019.9 102.7 1021.5 103.7 1023.1 104.3 1024.7 105.0 1026.3 105.7 1027.9 106.3 1029.5 107.0 1031.1 107.7 1032.7 108.4 1034.3 109.0 1035.9 109.7 1037.5 110.4 1039.1 111.2 1040.7 112.4 1042.3 113.5 1043.9 114.6 1045.5 115.7 1047.1 116.5 1048.7 117.3 1050.3 118.1 1051.9 118.9 1053.5 119.6 1055.1 120.3 1056.7 121.0 1058.3 121.6 1059.9 122.3 1061.5 123.0 1063.1 123.5 1064.7 124.0 1066.3 124.6 1067.9 125.1 1069.5 125.4 1071.5 127.1 1078.1 129.1 1084.9 130.5 1093.0 132.5 1100.8 134.5 1109.6 136.3 1118.6 138.0 1127.4 140.7 1136.1 142.2 1144.9 144.9 1153.4 146.6 1161.6 149.2 1169.7" fill="none" stroke="#e41e26" stroke-width="1.2"/>
<circle cx="91.9" cy="1015.1" r="2.8" fill="#e41e26"/>
<circle cx="93.3" cy="1015.1" r="2.8" fill="#e41e26"/>
<circle cx="94.8" cy="1015.3" r="2.8" fill="#e41e26"/>
<circle cx="96.2" cy="1015.5" r="2.8" fill="#e41e26"/>
<circle cx="97.7" cy="1015.8" r="2.8" fill="#e41e26"/>
<circle cx="99.1" cy="1016.1" r="2.8" fill="#e41e26"/>
<circle cx="99.5" cy="1016.7" r="2.8" fill="#e41e26"/>
<circle cx="100.6" cy="1018.3" r="2.8" fill="#e41e26"/>
<circle cx="101.7" cy="1019.9" r="2.8" fill="#e41e26"/>
<circle cx="102.7" cy="1021.5" r="2.8" fill="#e41e26"/>
<circle cx="103.7" cy="1023.1" r="2.8" fill="#e41e26"/>
<circle cx="104.3" cy="1024.7" r="2.8" fill="#e41e26"/>
<circle cx="105.0" cy="1026.3" r="2.8" fill="#e41e26"/>
<circle cx="105.7" cy="1027.9" r="2.8" fill="#e41e26"/>
<circle cx="106.3" cy="1029.5" r="2.8" fill="#e41e26"/>
<circle cx="107.0" cy="1031.1" r="2.8" fill="#e41e26"/>
<circle cx="107.7" cy="1032.7" r="2.8" fill="#e41e26"/>
<circle cx="108.4" cy="1034.3" r="2.8" fill="#e41e26"/>
<circle cx="109.0" cy="1035.9" r="2.8" fill="#e41e26"/>
<circle cx="109.7" cy="1037.5" r="2.8" fill="#e41e26"/>
<circle cx="110.4" cy="1039.1" r="2.8" fill="#e41e26"/>
<circle cx="111.2" cy="1040.7" r="2.8" fill="#e41e26"/>
<circle cx="112.4" cy="1042.3" r="2.8" fill="#e41e26"/>
<circle cx="113.5" cy="1043.9" r="2.8" fill="#e41e26"/>
<circle cx="114.6" cy="1045.5" r="2.8" fill="#e41e26"/>
<circle cx="115.7" cy="1047.1" r="2.8" fill="#e41e26"/>
<circle cx="116.5" cy="1048.7" r="2.8" fill="#e41e26"/>
<circle cx="117.3" cy="1050.3" r="2.8" fill="#e41e26"/>
<circle cx="118.1" cy="1051.9" r="2.8" fill="#e41e26"/>
<circle cx="118.9" cy="1053.5" r="2.8" fill="#e41e26"/>
<circle cx="119.6" cy="1055.1" r="2.8" fill="#e41e26"/>
<circle cx="120.3" cy="1056.7" r="2.8" fill="#e41e26"/>
<circle cx="121.0" cy="1058.3" r="2.8" fill="#e41e26"/>
<circle cx="121.6" cy="1059.9" r="2.8" fill="#e41e26"/>
<circle cx="122.3" cy="1061.5" r="2.8" fill="#e41e26"/>
<circle cx="123.0" cy="1063.1" r="2.8" fill="#e41e26"/>
<circle cx="123.5" cy="1064.7" r="2.8" fill="#e41e26"/>
<circle cx="124.0" cy="1066.3" r="2.8" fill="#e41e26"/>
<circle cx="124.6" cy="1067.9" r="2.8" fill="#e41e26"/>
<circle cx="125.1" cy="1069.5" r="2.8" fill="#e41e26"/>
<circle cx="125.4" cy="1071.5" r="2.8" fill="#e41e26"/>
<circle cx="127.1" cy="1078.1" r="2.8" fill="#e41e26"/>
<circle cx="129.1" cy="1084.9" r="2.8" fill="#e41e26"/>
<circle cx="130.5" cy="1093.0" r="2.8" fill="#e41e26"/>
<circle cx="132.5" cy="1100.8" r="2.8" fill="#e41e26"/>
<circle cx="134.5" cy="1109.6" r="2.8" fill="#e41e26"/>
<circle cx="136.3" cy="1118.6" r="2.8" fill="#e41e26"/>
<circle cx="138.0" cy="1127.4" r="2.8" fill="#e41e26"/>
<circle cx="140.7" cy="1136.1" r="2.8" fill="#e41e26"/>
<circle cx="142.2" cy="1144.9" r="2.8" fill="#e41e26"/>
<circle cx="144.9" cy="1153.4" r="2.8" fill="#e41e26"/>
<circle cx="146.6" cy="1161.6" r="2.8" fill="#e41e26"/>
<circle cx="149.2" cy="1169.7" r="2.8" fill="#e41e26"/>
<rect x="398.60" y="994.40" width="239.60" height="174.80" fill="none" stroke="#231f20" stroke-width="1.3"/>
<line x1="398.60" y1="1169.20" x2="398.60" y2="1173.40" stroke="#231f20" stroke-width="1.1"/>
<line x1="410.60" y1="1169.20" x2="410.60" y2="1171.70" stroke="#231f20" stroke-width="1.1"/>
<line x1="422.60" y1="1169.20" x2="422.60" y2="1173.40" stroke="#231f20" stroke-width="1.1"/>
<line x1="434.60" y1="1169.20" x2="434.60" y2="1171.70" stroke="#231f20" stroke-width="1.1"/>
<line x1="446.60" y1="1169.20" x2="446.60" y2="1173.40" stroke="#231f20" stroke-width="1.1"/>
<line x1="458.60" y1="1169.20" x2="458.60" y2="1171.70" stroke="#231f20" stroke-width="1.1"/>
<line x1="470.60" y1="1169.20" x2="470.60" y2="1173.40" stroke="#231f20" stroke-width="1.1"/>
<line x1="482.60" y1="1169.20" x2="482.60" y2="1171.70" stroke="#231f20" stroke-width="1.1"/>
<line x1="494.60" y1="1169.20" x2="494.60" y2="1173.40" stroke="#231f20" stroke-width="1.1"/>
<line x1="506.60" y1="1169.20" x2="506.60" y2="1171.70" stroke="#231f20" stroke-width="1.1"/>
<line x1="518.60" y1="1169.20" x2="518.60" y2="1173.40" stroke="#231f20" stroke-width="1.1"/>
<line x1="530.60" y1="1169.20" x2="530.60" y2="1171.70" stroke="#231f20" stroke-width="1.1"/>
<line x1="542.60" y1="1169.20" x2="542.60" y2="1173.40" stroke="#231f20" stroke-width="1.1"/>
<line x1="554.60" y1="1169.20" x2="554.60" y2="1171.70" stroke="#231f20" stroke-width="1.1"/>
<line x1="566.60" y1="1169.20" x2="566.60" y2="1173.40" stroke="#231f20" stroke-width="1.1"/>
<line x1="578.60" y1="1169.20" x2="578.60" y2="1171.70" stroke="#231f20" stroke-width="1.1"/>
<line x1="590.60" y1="1169.20" x2="590.60" y2="1173.40" stroke="#231f20" stroke-width="1.1"/>
<line x1="602.60" y1="1169.20" x2="602.60" y2="1171.70" stroke="#231f20" stroke-width="1.1"/>
<line x1="614.60" y1="1169.20" x2="614.60" y2="1173.40" stroke="#231f20" stroke-width="1.1"/>
<line x1="626.60" y1="1169.20" x2="626.60" y2="1171.70" stroke="#231f20" stroke-width="1.1"/>
<line x1="638.60" y1="1169.20" x2="638.60" y2="1173.40" stroke="#231f20" stroke-width="1.1"/>
<line x1="398.60" y1="1143.63" x2="396.60" y2="1143.63" stroke="#231f20" stroke-width="1.0"/>
<line x1="398.60" y1="1128.56" x2="396.60" y2="1128.56" stroke="#231f20" stroke-width="1.0"/>
<line x1="398.60" y1="1117.86" x2="396.60" y2="1117.86" stroke="#231f20" stroke-width="1.0"/>
<line x1="398.60" y1="1109.57" x2="396.60" y2="1109.57" stroke="#231f20" stroke-width="1.0"/>
<line x1="398.60" y1="1102.79" x2="396.60" y2="1102.79" stroke="#231f20" stroke-width="1.0"/>
<line x1="398.60" y1="1097.06" x2="396.60" y2="1097.06" stroke="#231f20" stroke-width="1.0"/>
<line x1="398.60" y1="1092.10" x2="396.60" y2="1092.10" stroke="#231f20" stroke-width="1.0"/>
<line x1="398.60" y1="1087.72" x2="396.60" y2="1087.72" stroke="#231f20" stroke-width="1.0"/>
<line x1="398.60" y1="1083.80" x2="394.10" y2="1083.80" stroke="#231f20" stroke-width="1.0"/>
<line x1="398.60" y1="1058.03" x2="396.60" y2="1058.03" stroke="#231f20" stroke-width="1.0"/>
<line x1="398.60" y1="1042.96" x2="396.60" y2="1042.96" stroke="#231f20" stroke-width="1.0"/>
<line x1="398.60" y1="1032.26" x2="396.60" y2="1032.26" stroke="#231f20" stroke-width="1.0"/>
<line x1="398.60" y1="1023.97" x2="396.60" y2="1023.97" stroke="#231f20" stroke-width="1.0"/>
<line x1="398.60" y1="1017.19" x2="396.60" y2="1017.19" stroke="#231f20" stroke-width="1.0"/>
<line x1="398.60" y1="1011.46" x2="396.60" y2="1011.46" stroke="#231f20" stroke-width="1.0"/>
<line x1="398.60" y1="1006.50" x2="396.60" y2="1006.50" stroke="#231f20" stroke-width="1.0"/>
<line x1="398.60" y1="1002.12" x2="396.60" y2="1002.12" stroke="#231f20" stroke-width="1.0"/>
<line x1="398.60" y1="998.20" x2="394.10" y2="998.20" stroke="#231f20" stroke-width="1.0"/>
<path d="M398.6 997.3 401.0 997.5 403.4 997.6 405.8 997.7 408.2 997.9 410.6 998.0 413.0 998.1 415.4 998.3 417.8 998.4 420.2 998.5 422.6 998.9 429.8 1000.4 437.0 1002.0 444.2 1003.7 451.4 1005.6 458.6 1007.6 465.8 1009.6 473.0 1011.5 480.2 1013.8 487.4 1016.1 494.6 1018.5 501.8 1020.9 509.0 1023.3 516.2 1025.7 523.4 1028.1 530.6 1030.6 537.8 1033.0 545.0 1035.5 552.2 1038.3 559.4 1041.0 566.6 1043.8 573.8 1046.5 581.0 1049.7 588.2 1053.3 595.4 1056.9 602.6 1060.5 609.8 1064.1 617.0 1068.6 624.2 1073.4 631.4 1078.2" fill="none" stroke="#231f20" stroke-width="1.2"/>
<rect x="396.0" y="994.7" width="5.2" height="5.2" fill="#231f20"/>
<rect x="398.4" y="994.9" width="5.2" height="5.2" fill="#231f20"/>
<rect x="400.8" y="995.0" width="5.2" height="5.2" fill="#231f20"/>
<rect x="403.2" y="995.1" width="5.2" height="5.2" fill="#231f20"/>
<rect x="405.6" y="995.3" width="5.2" height="5.2" fill="#231f20"/>
<rect x="408.0" y="995.4" width="5.2" height="5.2" fill="#231f20"/>
<rect x="410.4" y="995.5" width="5.2" height="5.2" fill="#231f20"/>
<rect x="412.8" y="995.7" width="5.2" height="5.2" fill="#231f20"/>
<rect x="415.2" y="995.8" width="5.2" height="5.2" fill="#231f20"/>
<rect x="417.6" y="995.9" width="5.2" height="5.2" fill="#231f20"/>
<rect x="420.0" y="996.3" width="5.2" height="5.2" fill="#231f20"/>
<rect x="427.2" y="997.8" width="5.2" height="5.2" fill="#231f20"/>
<rect x="434.4" y="999.4" width="5.2" height="5.2" fill="#231f20"/>
<rect x="441.6" y="1001.1" width="5.2" height="5.2" fill="#231f20"/>
<rect x="448.8" y="1003.0" width="5.2" height="5.2" fill="#231f20"/>
<rect x="456.0" y="1005.0" width="5.2" height="5.2" fill="#231f20"/>
<rect x="463.2" y="1007.0" width="5.2" height="5.2" fill="#231f20"/>
<rect x="470.4" y="1008.9" width="5.2" height="5.2" fill="#231f20"/>
<rect x="477.6" y="1011.2" width="5.2" height="5.2" fill="#231f20"/>
<rect x="484.8" y="1013.5" width="5.2" height="5.2" fill="#231f20"/>
<rect x="492.0" y="1015.9" width="5.2" height="5.2" fill="#231f20"/>
<rect x="499.2" y="1018.3" width="5.2" height="5.2" fill="#231f20"/>
<rect x="506.4" y="1020.7" width="5.2" height="5.2" fill="#231f20"/>
<rect x="513.6" y="1023.1" width="5.2" height="5.2" fill="#231f20"/>
<rect x="520.8" y="1025.5" width="5.2" height="5.2" fill="#231f20"/>
<rect x="528.0" y="1028.0" width="5.2" height="5.2" fill="#231f20"/>
<rect x="535.2" y="1030.4" width="5.2" height="5.2" fill="#231f20"/>
<rect x="542.4" y="1032.9" width="5.2" height="5.2" fill="#231f20"/>
<rect x="549.6" y="1035.7" width="5.2" height="5.2" fill="#231f20"/>
<rect x="556.8" y="1038.4" width="5.2" height="5.2" fill="#231f20"/>
<rect x="564.0" y="1041.2" width="5.2" height="5.2" fill="#231f20"/>
<rect x="571.2" y="1043.9" width="5.2" height="5.2" fill="#231f20"/>
<rect x="578.4" y="1047.1" width="5.2" height="5.2" fill="#231f20"/>
<rect x="585.6" y="1050.7" width="5.2" height="5.2" fill="#231f20"/>
<rect x="592.8" y="1054.3" width="5.2" height="5.2" fill="#231f20"/>
<rect x="600.0" y="1057.9" width="5.2" height="5.2" fill="#231f20"/>
<rect x="607.2" y="1061.5" width="5.2" height="5.2" fill="#231f20"/>
<rect x="614.4" y="1066.0" width="5.2" height="5.2" fill="#231f20"/>
<rect x="621.6" y="1070.8" width="5.2" height="5.2" fill="#231f20"/>
<rect x="628.8" y="1075.6" width="5.2" height="5.2" fill="#231f20"/>
<path d="M398.6 1076.6 398.9 1076.6 399.8 1076.7 401.0 1076.8 401.4 1076.8 403.4 1076.9 403.6 1076.9 405.8 1077.1 406.5 1077.1 408.2 1077.2 409.9 1077.3 410.6 1077.4 413.0 1077.5 414.0 1077.6 415.4 1077.7 417.8 1077.9 418.7 1077.9 420.2 1078.0 424.1 1078.3 430.0 1078.8 436.6 1079.5 443.9 1080.2 451.7 1081.0 460.2 1081.9 469.4 1083.3 479.1 1084.7 489.5 1086.3 500.5 1087.9 512.1 1089.6 524.4 1091.5 537.2 1094.0 550.8 1096.7 564.9 1099.8 579.7 1103.5 595.1 1107.3 611.1 1111.1 627.8 1114.9" fill="none" stroke="#e41e26" stroke-width="1.2"/>
<circle cx="398.6" cy="1076.6" r="2.8" fill="#e41e26"/>
<circle cx="398.9" cy="1076.6" r="2.8" fill="#e41e26"/>
<circle cx="399.8" cy="1076.7" r="2.8" fill="#e41e26"/>
<circle cx="401.0" cy="1076.8" r="2.8" fill="#e41e26"/>
<circle cx="401.4" cy="1076.8" r="2.8" fill="#e41e26"/>
<circle cx="403.4" cy="1076.9" r="2.8" fill="#e41e26"/>
<circle cx="403.6" cy="1076.9" r="2.8" fill="#e41e26"/>
<circle cx="405.8" cy="1077.1" r="2.8" fill="#e41e26"/>
<circle cx="406.5" cy="1077.1" r="2.8" fill="#e41e26"/>
<circle cx="408.2" cy="1077.2" r="2.8" fill="#e41e26"/>
<circle cx="409.9" cy="1077.3" r="2.8" fill="#e41e26"/>
<circle cx="410.6" cy="1077.4" r="2.8" fill="#e41e26"/>
<circle cx="413.0" cy="1077.5" r="2.8" fill="#e41e26"/>
<circle cx="414.0" cy="1077.6" r="2.8" fill="#e41e26"/>
<circle cx="415.4" cy="1077.7" r="2.8" fill="#e41e26"/>
<circle cx="417.8" cy="1077.9" r="2.8" fill="#e41e26"/>
<circle cx="418.7" cy="1077.9" r="2.8" fill="#e41e26"/>
<circle cx="420.2" cy="1078.0" r="2.8" fill="#e41e26"/>
<circle cx="424.1" cy="1078.3" r="2.8" fill="#e41e26"/>
<circle cx="430.0" cy="1078.8" r="2.8" fill="#e41e26"/>
<circle cx="436.6" cy="1079.5" r="2.8" fill="#e41e26"/>
<circle cx="443.9" cy="1080.2" r="2.8" fill="#e41e26"/>
<circle cx="451.7" cy="1081.0" r="2.8" fill="#e41e26"/>
<circle cx="460.2" cy="1081.9" r="2.8" fill="#e41e26"/>
<circle cx="469.4" cy="1083.3" r="2.8" fill="#e41e26"/>
<circle cx="479.1" cy="1084.7" r="2.8" fill="#e41e26"/>
<circle cx="489.5" cy="1086.3" r="2.8" fill="#e41e26"/>
<circle cx="500.5" cy="1087.9" r="2.8" fill="#e41e26"/>
<circle cx="512.1" cy="1089.6" r="2.8" fill="#e41e26"/>
<circle cx="524.4" cy="1091.5" r="2.8" fill="#e41e26"/>
<circle cx="537.2" cy="1094.0" r="2.8" fill="#e41e26"/>
<circle cx="550.8" cy="1096.7" r="2.8" fill="#e41e26"/>
<circle cx="564.9" cy="1099.8" r="2.8" fill="#e41e26"/>
<circle cx="579.7" cy="1103.5" r="2.8" fill="#e41e26"/>
<circle cx="595.1" cy="1107.3" r="2.8" fill="#e41e26"/>
<circle cx="611.1" cy="1111.1" r="2.8" fill="#e41e26"/>
<circle cx="627.8" cy="1114.9" r="2.8" fill="#e41e26"/>
<rect x="710.20" y="994.20" width="239.50" height="174.90" fill="none" stroke="#231f20" stroke-width="1.3"/>
<line x1="710.20" y1="1169.10" x2="710.20" y2="1173.30" stroke="#231f20" stroke-width="1.1"/>
<line x1="722.20" y1="1169.10" x2="722.20" y2="1171.60" stroke="#231f20" stroke-width="1.1"/>
<line x1="734.20" y1="1169.10" x2="734.20" y2="1173.30" stroke="#231f20" stroke-width="1.1"/>
<line x1="746.20" y1="1169.10" x2="746.20" y2="1171.60" stroke="#231f20" stroke-width="1.1"/>
<line x1="758.20" y1="1169.10" x2="758.20" y2="1173.30" stroke="#231f20" stroke-width="1.1"/>
<line x1="770.20" y1="1169.10" x2="770.20" y2="1171.60" stroke="#231f20" stroke-width="1.1"/>
<line x1="782.20" y1="1169.10" x2="782.20" y2="1173.30" stroke="#231f20" stroke-width="1.1"/>
<line x1="794.20" y1="1169.10" x2="794.20" y2="1171.60" stroke="#231f20" stroke-width="1.1"/>
<line x1="806.20" y1="1169.10" x2="806.20" y2="1173.30" stroke="#231f20" stroke-width="1.1"/>
<line x1="818.20" y1="1169.10" x2="818.20" y2="1171.60" stroke="#231f20" stroke-width="1.1"/>
<line x1="830.20" y1="1169.10" x2="830.20" y2="1173.30" stroke="#231f20" stroke-width="1.1"/>
<line x1="842.20" y1="1169.10" x2="842.20" y2="1171.60" stroke="#231f20" stroke-width="1.1"/>
<line x1="854.20" y1="1169.10" x2="854.20" y2="1173.30" stroke="#231f20" stroke-width="1.1"/>
<line x1="866.20" y1="1169.10" x2="866.20" y2="1171.60" stroke="#231f20" stroke-width="1.1"/>
<line x1="878.20" y1="1169.10" x2="878.20" y2="1173.30" stroke="#231f20" stroke-width="1.1"/>
<line x1="890.20" y1="1169.10" x2="890.20" y2="1171.60" stroke="#231f20" stroke-width="1.1"/>
<line x1="902.20" y1="1169.10" x2="902.20" y2="1173.30" stroke="#231f20" stroke-width="1.1"/>
<line x1="914.20" y1="1169.10" x2="914.20" y2="1171.60" stroke="#231f20" stroke-width="1.1"/>
<line x1="926.20" y1="1169.10" x2="926.20" y2="1173.30" stroke="#231f20" stroke-width="1.1"/>
<line x1="938.20" y1="1169.10" x2="938.20" y2="1171.60" stroke="#231f20" stroke-width="1.1"/>
<line x1="950.20" y1="1169.10" x2="950.20" y2="1173.30" stroke="#231f20" stroke-width="1.1"/>
<line x1="710.20" y1="1161.54" x2="708.20" y2="1161.54" stroke="#231f20" stroke-width="1.0"/>
<line x1="710.20" y1="1155.31" x2="708.20" y2="1155.31" stroke="#231f20" stroke-width="1.0"/>
<line x1="710.20" y1="1150.89" x2="708.20" y2="1150.89" stroke="#231f20" stroke-width="1.0"/>
<line x1="710.20" y1="1147.46" x2="708.20" y2="1147.46" stroke="#231f20" stroke-width="1.0"/>
<line x1="710.20" y1="1144.65" x2="708.20" y2="1144.65" stroke="#231f20" stroke-width="1.0"/>
<line x1="710.20" y1="1142.28" x2="708.20" y2="1142.28" stroke="#231f20" stroke-width="1.0"/>
<line x1="710.20" y1="1140.23" x2="708.20" y2="1140.23" stroke="#231f20" stroke-width="1.0"/>
<line x1="710.20" y1="1138.42" x2="708.20" y2="1138.42" stroke="#231f20" stroke-width="1.0"/>
<line x1="710.20" y1="1136.80" x2="705.70" y2="1136.80" stroke="#231f20" stroke-width="1.0"/>
<line x1="710.20" y1="1126.14" x2="708.20" y2="1126.14" stroke="#231f20" stroke-width="1.0"/>
<line x1="710.20" y1="1119.91" x2="708.20" y2="1119.91" stroke="#231f20" stroke-width="1.0"/>
<line x1="710.20" y1="1115.49" x2="708.20" y2="1115.49" stroke="#231f20" stroke-width="1.0"/>
<line x1="710.20" y1="1112.06" x2="708.20" y2="1112.06" stroke="#231f20" stroke-width="1.0"/>
<line x1="710.20" y1="1109.25" x2="708.20" y2="1109.25" stroke="#231f20" stroke-width="1.0"/>
<line x1="710.20" y1="1106.88" x2="708.20" y2="1106.88" stroke="#231f20" stroke-width="1.0"/>
<line x1="710.20" y1="1104.83" x2="708.20" y2="1104.83" stroke="#231f20" stroke-width="1.0"/>
<line x1="710.20" y1="1103.02" x2="708.20" y2="1103.02" stroke="#231f20" stroke-width="1.0"/>
<line x1="710.20" y1="1101.40" x2="705.70" y2="1101.40" stroke="#231f20" stroke-width="1.0"/>
<line x1="710.20" y1="1090.74" x2="708.20" y2="1090.74" stroke="#231f20" stroke-width="1.0"/>
<line x1="710.20" y1="1084.51" x2="708.20" y2="1084.51" stroke="#231f20" stroke-width="1.0"/>
<line x1="710.20" y1="1080.09" x2="708.20" y2="1080.09" stroke="#231f20" stroke-width="1.0"/>
<line x1="710.20" y1="1076.66" x2="708.20" y2="1076.66" stroke="#231f20" stroke-width="1.0"/>
<line x1="710.20" y1="1073.85" x2="708.20" y2="1073.85" stroke="#231f20" stroke-width="1.0"/>
<line x1="710.20" y1="1071.48" x2="708.20" y2="1071.48" stroke="#231f20" stroke-width="1.0"/>
<line x1="710.20" y1="1069.43" x2="708.20" y2="1069.43" stroke="#231f20" stroke-width="1.0"/>
<line x1="710.20" y1="1067.62" x2="708.20" y2="1067.62" stroke="#231f20" stroke-width="1.0"/>
<line x1="710.20" y1="1066.00" x2="705.70" y2="1066.00" stroke="#231f20" stroke-width="1.0"/>
<line x1="710.20" y1="1055.34" x2="708.20" y2="1055.34" stroke="#231f20" stroke-width="1.0"/>
<line x1="710.20" y1="1049.11" x2="708.20" y2="1049.11" stroke="#231f20" stroke-width="1.0"/>
<line x1="710.20" y1="1044.69" x2="708.20" y2="1044.69" stroke="#231f20" stroke-width="1.0"/>
<line x1="710.20" y1="1041.26" x2="708.20" y2="1041.26" stroke="#231f20" stroke-width="1.0"/>
<line x1="710.20" y1="1038.45" x2="708.20" y2="1038.45" stroke="#231f20" stroke-width="1.0"/>
<line x1="710.20" y1="1036.08" x2="708.20" y2="1036.08" stroke="#231f20" stroke-width="1.0"/>
<line x1="710.20" y1="1034.03" x2="708.20" y2="1034.03" stroke="#231f20" stroke-width="1.0"/>
<line x1="710.20" y1="1032.22" x2="708.20" y2="1032.22" stroke="#231f20" stroke-width="1.0"/>
<line x1="710.20" y1="1030.60" x2="705.70" y2="1030.60" stroke="#231f20" stroke-width="1.0"/>
<line x1="710.20" y1="1019.94" x2="708.20" y2="1019.94" stroke="#231f20" stroke-width="1.0"/>
<line x1="710.20" y1="1013.71" x2="708.20" y2="1013.71" stroke="#231f20" stroke-width="1.0"/>
<line x1="710.20" y1="1009.29" x2="708.20" y2="1009.29" stroke="#231f20" stroke-width="1.0"/>
<line x1="710.20" y1="1005.86" x2="708.20" y2="1005.86" stroke="#231f20" stroke-width="1.0"/>
<line x1="710.20" y1="1003.05" x2="708.20" y2="1003.05" stroke="#231f20" stroke-width="1.0"/>
<line x1="710.20" y1="1000.68" x2="708.20" y2="1000.68" stroke="#231f20" stroke-width="1.0"/>
<line x1="710.20" y1="998.63" x2="708.20" y2="998.63" stroke="#231f20" stroke-width="1.0"/>
<line x1="710.20" y1="996.82" x2="708.20" y2="996.82" stroke="#231f20" stroke-width="1.0"/>
<line x1="710.20" y1="995.20" x2="705.70" y2="995.20" stroke="#231f20" stroke-width="1.0"/>
<path d="M710.2 995.2 712.6 995.3 715.0 995.4 717.4 995.6 719.8 995.7 722.2 995.8 724.6 995.9 727.0 996.0 729.4 996.1 731.8 996.3 734.2 996.4 736.6 996.5 739.0 996.6 747.6 997.4 756.3 999.0 764.9 1000.5 773.6 1002.1 782.2 1003.4 790.8 1004.5 799.5 1005.5 808.1 1006.6 816.8 1007.9 825.4 1009.4 834.0 1011.0 842.7 1012.5 851.3 1014.3 860.0 1016.2 868.6 1018.1 877.2 1020.0 885.9 1022.1 894.5 1024.2 903.2 1026.4 911.8 1028.5 920.4 1031.2 929.1 1034.0 937.7 1036.9" fill="none" stroke="#231f20" stroke-width="1.2"/>
<rect x="707.6" y="992.6" width="5.2" height="5.2" fill="#231f20"/>
<rect x="710.0" y="992.7" width="5.2" height="5.2" fill="#231f20"/>
<rect x="712.4" y="992.8" width="5.2" height="5.2" fill="#231f20"/>
<rect x="714.8" y="993.0" width="5.2" height="5.2" fill="#231f20"/>
<rect x="717.2" y="993.1" width="5.2" height="5.2" fill="#231f20"/>
<rect x="719.6" y="993.2" width="5.2" height="5.2" fill="#231f20"/>
<rect x="722.0" y="993.3" width="5.2" height="5.2" fill="#231f20"/>
<rect x="724.4" y="993.4" width="5.2" height="5.2" fill="#231f20"/>
<rect x="726.8" y="993.5" width="5.2" height="5.2" fill="#231f20"/>
<rect x="729.2" y="993.7" width="5.2" height="5.2" fill="#231f20"/>
<rect x="731.6" y="993.8" width="5.2" height="5.2" fill="#231f20"/>
<rect x="734.0" y="993.9" width="5.2" height="5.2" fill="#231f20"/>
<rect x="736.4" y="994.0" width="5.2" height="5.2" fill="#231f20"/>
<rect x="745.0" y="994.8" width="5.2" height="5.2" fill="#231f20"/>
<rect x="753.7" y="996.4" width="5.2" height="5.2" fill="#231f20"/>
<rect x="762.3" y="997.9" width="5.2" height="5.2" fill="#231f20"/>
<rect x="771.0" y="999.5" width="5.2" height="5.2" fill="#231f20"/>
<rect x="779.6" y="1000.8" width="5.2" height="5.2" fill="#231f20"/>
<rect x="788.2" y="1001.9" width="5.2" height="5.2" fill="#231f20"/>
<rect x="796.9" y="1002.9" width="5.2" height="5.2" fill="#231f20"/>
<rect x="805.5" y="1004.0" width="5.2" height="5.2" fill="#231f20"/>
<rect x="814.2" y="1005.3" width="5.2" height="5.2" fill="#231f20"/>
<rect x="822.8" y="1006.8" width="5.2" height="5.2" fill="#231f20"/>
<rect x="831.4" y="1008.4" width="5.2" height="5.2" fill="#231f20"/>
<rect x="840.1" y="1009.9" width="5.2" height="5.2" fill="#231f20"/>
<rect x="848.7" y="1011.7" width="5.2" height="5.2" fill="#231f20"/>
<rect x="857.4" y="1013.6" width="5.2" height="5.2" fill="#231f20"/>
<rect x="866.0" y="1015.5" width="5.2" height="5.2" fill="#231f20"/>
<rect x="874.6" y="1017.4" width="5.2" height="5.2" fill="#231f20"/>
<rect x="883.3" y="1019.5" width="5.2" height="5.2" fill="#231f20"/>
<rect x="891.9" y="1021.6" width="5.2" height="5.2" fill="#231f20"/>
<rect x="900.6" y="1023.8" width="5.2" height="5.2" fill="#231f20"/>
<rect x="909.2" y="1025.9" width="5.2" height="5.2" fill="#231f20"/>
<rect x="917.8" y="1028.6" width="5.2" height="5.2" fill="#231f20"/>
<rect x="926.5" y="1031.4" width="5.2" height="5.2" fill="#231f20"/>
<rect x="935.1" y="1034.3" width="5.2" height="5.2" fill="#231f20"/>
<path d="M710.2 1137.6 710.5 1137.6 711.5 1137.6 712.6 1137.7 713.1 1137.7 715.0 1137.7 715.4 1137.8 717.4 1137.8 718.3 1137.8 719.8 1137.9 721.9 1137.9 722.2 1137.9 724.6 1138.0 726.1 1138.1 727.0 1138.1 729.4 1138.2 731.0 1138.2 731.8 1138.2 736.5 1138.4 742.6 1138.5 749.4 1139.2 756.9 1140.1 765.0 1141.1 773.8 1142.1 783.2 1143.1 793.2 1144.1 803.9 1145.2 815.3 1146.4 827.3 1148.2 839.9 1150.1 853.2 1152.0 867.2 1153.8 881.8 1155.7 897.0 1158.4 912.9 1161.1 929.4 1165.0 946.6 1169.1" fill="none" stroke="#e41e26" stroke-width="1.2"/>
<circle cx="710.2" cy="1137.6" r="2.8" fill="#e41e26"/>
<circle cx="710.5" cy="1137.6" r="2.8" fill="#e41e26"/>
<circle cx="711.5" cy="1137.6" r="2.8" fill="#e41e26"/>
<circle cx="712.6" cy="1137.7" r="2.8" fill="#e41e26"/>
<circle cx="713.1" cy="1137.7" r="2.8" fill="#e41e26"/>
<circle cx="715.0" cy="1137.7" r="2.8" fill="#e41e26"/>
<circle cx="715.4" cy="1137.8" r="2.8" fill="#e41e26"/>
<circle cx="717.4" cy="1137.8" r="2.8" fill="#e41e26"/>
<circle cx="718.3" cy="1137.8" r="2.8" fill="#e41e26"/>
<circle cx="719.8" cy="1137.9" r="2.8" fill="#e41e26"/>
<circle cx="721.9" cy="1137.9" r="2.8" fill="#e41e26"/>
<circle cx="722.2" cy="1137.9" r="2.8" fill="#e41e26"/>
<circle cx="724.6" cy="1138.0" r="2.8" fill="#e41e26"/>
<circle cx="726.1" cy="1138.1" r="2.8" fill="#e41e26"/>
<circle cx="727.0" cy="1138.1" r="2.8" fill="#e41e26"/>
<circle cx="729.4" cy="1138.2" r="2.8" fill="#e41e26"/>
<circle cx="731.0" cy="1138.2" r="2.8" fill="#e41e26"/>
<circle cx="731.8" cy="1138.2" r="2.8" fill="#e41e26"/>
<circle cx="736.5" cy="1138.4" r="2.8" fill="#e41e26"/>
<circle cx="742.6" cy="1138.5" r="2.8" fill="#e41e26"/>
<circle cx="749.4" cy="1139.2" r="2.8" fill="#e41e26"/>
<circle cx="756.9" cy="1140.1" r="2.8" fill="#e41e26"/>
<circle cx="765.0" cy="1141.1" r="2.8" fill="#e41e26"/>
<circle cx="773.8" cy="1142.1" r="2.8" fill="#e41e26"/>
<circle cx="783.2" cy="1143.1" r="2.8" fill="#e41e26"/>
<circle cx="793.2" cy="1144.1" r="2.8" fill="#e41e26"/>
<circle cx="803.9" cy="1145.2" r="2.8" fill="#e41e26"/>
<circle cx="815.3" cy="1146.4" r="2.8" fill="#e41e26"/>
<circle cx="827.3" cy="1148.2" r="2.8" fill="#e41e26"/>
<circle cx="839.9" cy="1150.1" r="2.8" fill="#e41e26"/>
<circle cx="853.2" cy="1152.0" r="2.8" fill="#e41e26"/>
<circle cx="867.2" cy="1153.8" r="2.8" fill="#e41e26"/>
<circle cx="881.8" cy="1155.7" r="2.8" fill="#e41e26"/>
<circle cx="897.0" cy="1158.4" r="2.8" fill="#e41e26"/>
<circle cx="912.9" cy="1161.1" r="2.8" fill="#e41e26"/>
<circle cx="929.4" cy="1165.0" r="2.8" fill="#e41e26"/>
<circle cx="946.6" cy="1169.1" r="2.8" fill="#e41e26"/>
<line x1="749.8" y1="1053.5" x2="771.8" y2="1053.5" stroke="#231f20" stroke-width="1.2"/>
<rect x="758.2" y="1050.9" width="5.2" height="5.2" fill="#231f20"/>
<line x1="749.8" y1="1069.8" x2="771.8" y2="1069.8" stroke="#e41e26" stroke-width="1.2"/>
<circle cx="760.8" cy="1069.8" r="2.8" fill="#e41e26"/>
</svg>
</body></html>
